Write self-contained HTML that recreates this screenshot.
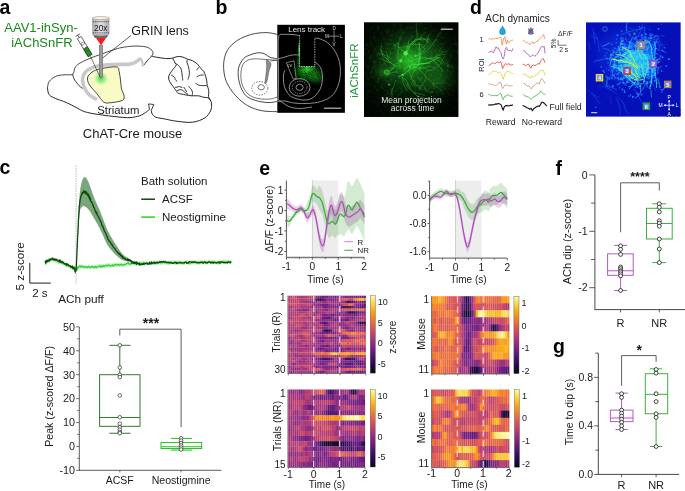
<!DOCTYPE html>
<html><head><meta charset="utf-8"><style>
html,body{margin:0;padding:0;background:#fff;}
svg{display:block;font-family:"Liberation Sans", sans-serif;will-change:transform;}
.hm rect{width:1.04px;height:1.04px;}
</style></head><body>
<svg width="685" height="491" viewBox="0 0 685 491">
<rect width="685" height="491" fill="#fff"/>
<text x="-0.6" y="14.4" font-size="19.5" text-anchor="start" fill="#000" font-weight="bold">a</text>
<text x="4.3" y="31.6" font-size="13" text-anchor="start" fill="#1a8a1a">AAV1-ihSyn-</text>
<text x="11.2" y="47.3" font-size="13" text-anchor="start" fill="#1a8a1a">iAChSnFR</text>
<text x="131.2" y="34.7" font-size="12.5" text-anchor="start" fill="#1a1a1a">GRIN lens</text>
<path d="M47.40,88.10 C47.70,87.00 47.80,83.47 49.20,81.50 C50.60,79.53 53.33,77.42 55.80,76.30 C58.27,75.18 61.20,75.13 64.00,74.80 C66.80,74.47 70.77,75.48 72.60,74.30 C74.43,73.12 73.92,69.48 75.00,67.70 C76.08,65.92 76.78,65.08 79.10,63.60 C81.42,62.12 85.08,60.42 88.90,58.80 C92.72,57.18 97.92,55.40 102.00,53.90 C106.08,52.40 110.07,50.87 113.40,49.80 C116.73,48.73 118.60,48.12 122.00,47.50 C125.40,46.88 129.80,46.20 133.80,46.10 C137.80,46.00 142.97,46.18 146.00,46.90 C149.03,47.62 150.85,49.25 152.00,50.40 C153.15,51.55 152.98,52.83 152.90,53.80 C152.82,54.77 151.73,55.80 151.50,56.20" stroke="#1a1a1a" stroke-width="0.8" fill="none"/>
<path d="M151.50,56.20 C152.42,56.38 155.08,56.97 157.00,57.30 C158.92,57.63 161.17,57.98 163.00,58.20 C164.83,58.42 166.40,58.62 168.00,58.60 C169.60,58.58 171.07,58.43 172.60,58.10 C174.13,57.77 175.58,56.80 177.20,56.60 C178.82,56.40 180.60,56.48 182.30,56.90 C184.00,57.32 185.70,58.47 187.40,59.10 C189.10,59.73 190.80,59.85 192.50,60.70 C194.20,61.55 196.25,62.93 197.60,64.20 C198.95,65.47 199.58,67.12 200.60,68.30 C201.62,69.48 202.85,69.95 203.70,71.30 C204.55,72.65 205.18,74.70 205.70,76.40 C206.22,78.10 206.53,79.97 206.80,81.50 C207.07,83.03 207.05,84.40 207.30,85.60 C207.55,86.80 208.05,87.52 208.30,88.70 C208.55,89.88 208.77,91.35 208.80,92.70 C208.83,94.05 208.17,95.43 208.50,96.80 C208.83,98.17 210.28,99.53 210.80,100.90 C211.32,102.27 211.65,103.32 211.60,105.00 C211.55,106.68 211.63,108.85 210.50,111.00 C209.37,113.15 207.77,116.03 204.80,117.90 C201.83,119.77 197.32,121.63 192.70,122.20 C188.08,122.77 182.00,121.88 177.10,121.30 C172.20,120.72 166.83,119.38 163.30,118.70 C159.77,118.02 157.75,117.98 155.90,117.20 C154.05,116.42 152.97,115.15 152.20,114.00 C151.43,112.85 151.45,110.92 151.30,110.30" stroke="#1a1a1a" stroke-width="0.95" fill="none"/>
<path d="M47.40,88.10 C47.70,89.20 47.80,92.95 49.20,94.70 C50.60,96.45 52.95,97.30 55.80,98.60 C58.65,99.90 62.80,100.97 66.30,102.50 C69.80,104.03 73.73,106.27 76.80,107.80 C79.87,109.33 81.20,110.60 84.70,111.70 C88.20,112.80 92.12,113.52 97.80,114.40 C103.48,115.28 113.43,116.47 118.80,117.00 C124.17,117.53 126.50,117.82 130.00,117.60 C133.50,117.38 137.22,116.55 139.80,115.70 C142.38,114.85 143.88,113.55 145.50,112.50 C147.12,111.45 148.83,109.92 149.50,109.40" stroke="#1a1a1a" stroke-width="0.95" fill="none"/>
<polyline points="149.5,109.4 148.6,103.9 153.8,104.5 151.3,110.3" stroke="#1a1a1a" stroke-width="0.85" fill="none" stroke-linejoin="round"/>
<path d="M72.60,74.20 C72.87,75.02 73.12,77.18 74.20,79.10 C75.28,81.02 77.60,84.12 79.10,85.70 C80.60,87.28 82.52,88.12 83.20,88.60" stroke="#1a1a1a" stroke-width="0.9" fill="none"/>
<path d="M151.50,56.20 C150.75,57.00 148.25,59.53 147.00,61.00 C145.75,62.47 144.50,64.33 144.00,65.00" stroke="#1a1a1a" stroke-width="0.9" fill="none"/>
<path d="M172.60,58.10 C173.03,58.95 174.60,62.02 175.20,63.20 C175.80,64.38 176.55,64.18 176.20,65.20 C175.85,66.22 174.12,67.93 173.10,69.30 C172.08,70.67 170.85,72.12 170.10,73.40 C169.35,74.68 168.68,75.65 168.60,77.00 C168.52,78.35 168.85,79.90 169.60,81.50 C170.35,83.10 172.00,85.07 173.10,86.60 C174.20,88.13 175.35,89.60 176.20,90.70 C177.05,91.80 176.67,92.52 178.20,93.20 C179.73,93.88 183.18,94.37 185.40,94.80 C187.62,95.23 189.30,95.63 191.50,95.80 C193.70,95.97 196.57,95.55 198.60,95.80 C200.63,96.05 202.17,96.97 203.70,97.30 C205.23,97.63 206.62,97.20 207.80,97.80 C208.98,98.40 210.30,100.38 210.80,100.90" stroke="#1a1a1a" stroke-width="0.95" fill="none"/>
<path d="M175.20,63.20 C175.70,63.53 177.27,64.35 178.20,65.20 C179.13,66.05 180.20,67.10 180.80,68.30 C181.40,69.50 181.55,71.05 181.80,72.40 C182.05,73.75 182.13,75.05 182.30,76.40 C182.47,77.75 182.72,79.82 182.80,80.50" stroke="#1a1a1a" stroke-width="0.9" fill="none"/>
<path d="M187.40,59.60 C187.32,60.03 186.73,61.08 186.90,62.20 C187.07,63.32 187.98,64.60 188.40,66.30 C188.82,68.00 189.32,70.72 189.40,72.40 C189.48,74.08 189.15,75.22 188.90,76.40 C188.65,77.58 188.07,78.98 187.90,79.50" stroke="#1a1a1a" stroke-width="0.9" fill="none"/>
<path d="M198.60,67.30 C198.27,67.80 196.93,69.80 196.60,70.30" stroke="#1a1a1a" stroke-width="0.9" fill="none"/>
<path d="M203.70,74.90 C203.02,74.98 200.78,75.05 199.60,75.40 C198.42,75.75 197.10,76.73 196.60,77.00" stroke="#1a1a1a" stroke-width="0.9" fill="none"/>
<path d="M206.80,85.60 C206.12,85.60 204.07,85.68 202.70,85.60 C201.33,85.52 199.80,85.52 198.60,85.10 C197.40,84.68 196.02,83.43 195.50,83.10" stroke="#1a1a1a" stroke-width="0.9" fill="none"/>
<path d="M171.10,74.90 C171.70,75.33 174.02,76.73 174.70,77.50 C175.38,78.27 174.78,78.83 175.20,79.50 C175.62,80.17 176.87,81.17 177.20,81.50" stroke="#1a1a1a" stroke-width="0.9" fill="none"/>
<path d="M175.20,87.60 C175.88,87.43 178.12,86.60 179.30,86.60 C180.48,86.60 181.80,87.43 182.30,87.60" stroke="#1a1a1a" stroke-width="0.9" fill="none"/>
<path d="M177.20,90.70 C177.88,90.53 179.93,89.37 181.30,89.70 C182.67,90.03 184.22,91.85 185.40,92.70 C186.58,93.55 187.90,94.45 188.40,94.80" stroke="#1a1a1a" stroke-width="0.9" fill="none"/>
<path d="M183.80,87.10 C184.07,87.53 184.88,88.85 185.40,89.70 C185.92,90.55 186.65,91.78 186.90,92.20" stroke="#1a1a1a" stroke-width="0.9" fill="none"/>
<path d="M188.40,86.10 C188.92,86.70 190.82,88.60 191.50,89.70 C192.18,90.80 192.42,91.68 192.50,92.70 C192.58,93.72 192.08,95.28 192.00,95.80" stroke="#1a1a1a" stroke-width="0.9" fill="none"/>
<path d="M97.00,99.50 C95.83,98.83 92.00,97.25 90.00,95.50 C88.00,93.75 86.23,91.42 85.00,89.00 C83.77,86.58 82.77,83.50 82.60,81.00 C82.43,78.50 82.95,75.95 84.00,74.00 C85.05,72.05 86.45,70.67 88.90,69.30 C91.35,67.93 94.62,66.60 98.70,65.80 C102.78,65.00 108.18,64.78 113.40,64.50 C118.62,64.22 126.02,64.68 130.00,64.10 C133.98,63.52 135.55,62.02 137.30,61.00 C139.05,59.98 139.97,58.50 140.50,58.00" stroke="#c8c8c8" stroke-width="3.6" fill="none"/>
<path d="M140.50,58.00 C140.75,58.50 141.58,59.58 142.00,61.00 C142.42,62.42 142.83,65.58 143.00,66.50" stroke="#c4c4c4" stroke-width="2.2" fill="none"/>
<path d="M88.90,75.00 C89.95,73.65 91.62,72.08 93.80,71.00 C95.98,69.92 98.20,69.18 102.00,68.50 C105.80,67.82 113.73,66.32 116.60,66.90 C119.47,67.48 118.55,69.82 119.20,72.00 C119.85,74.18 120.12,77.18 120.50,80.00 C120.88,82.82 120.92,86.33 121.50,88.90 C122.08,91.47 123.83,93.50 124.00,95.40 C124.17,97.30 124.83,99.07 122.50,100.30 C120.17,101.53 113.15,102.52 110.00,102.80 C106.85,103.08 105.77,103.50 103.60,102.00 C101.43,100.50 99.35,96.63 97.00,93.80 C94.65,90.97 91.08,87.45 89.50,85.00 C87.92,82.55 87.60,80.77 87.50,79.10 C87.40,77.43 87.85,76.35 88.90,75.00Z" stroke="#1a1a1a" stroke-width="0.8" fill="#fafac4"/>
<defs><radialGradient id="glow"><stop offset="0" stop-color="#30e030" stop-opacity="0.95"/><stop offset="0.5" stop-color="#60e860" stop-opacity="0.6"/><stop offset="1" stop-color="#a0f0a0" stop-opacity="0"/></radialGradient></defs>
<circle cx="101" cy="78.5" r="7.5" fill="url(#glow)"/>
<text x="97.3" y="113.8" font-size="11.3" text-anchor="start" fill="#1a1a1a">Striatum</text>
<text x="82.8" y="137.7" font-size="13" text-anchor="start" fill="#1a1a1a">ChAT-Cre mouse</text>
<line x1="131" y1="35.5" x2="100" y2="60" stroke="#1a1a1a" stroke-width="0.7"/>
<rect x="99.3" y="45.5" width="3.3" height="32" fill="#9a9a9a" stroke="#555" stroke-width="0.5"/>
<polygon points="95.9,37.8 106.1,37.8 101.0,45.6" fill="#ff1a1a" stroke="none" stroke-width="1"/>
<defs><linearGradient id="objg" x1="0" x2="1"><stop offset="0" stop-color="#a8a8a8"/><stop offset="0.5" stop-color="#e4e4e4"/><stop offset="1" stop-color="#a8a8a8"/></linearGradient></defs>
<rect x="92.1" y="18" width="17.3" height="16.5" fill="url(#objg)"/>
<ellipse cx="100.75" cy="18.1" rx="8.6" ry="1.5" fill="#f4f4f4" stroke="#c09a78" stroke-width="0.7"/>
<rect x="92.80" y="21.099999999999998" width="1.1" height="1.1" fill="#555"/>
<rect x="94.70" y="21.099999999999998" width="1.1" height="1.1" fill="#555"/>
<rect x="96.60" y="21.099999999999998" width="1.1" height="1.1" fill="#555"/>
<rect x="98.50" y="21.099999999999998" width="1.1" height="1.1" fill="#555"/>
<rect x="100.40" y="21.099999999999998" width="1.1" height="1.1" fill="#555"/>
<rect x="102.30" y="21.099999999999998" width="1.1" height="1.1" fill="#555"/>
<rect x="104.20" y="21.099999999999998" width="1.1" height="1.1" fill="#555"/>
<rect x="106.10" y="21.099999999999998" width="1.1" height="1.1" fill="#555"/>
<rect x="108.00" y="21.099999999999998" width="1.1" height="1.1" fill="#555"/>
<rect x="92.80" y="32.3" width="1.1" height="1.1" fill="#555"/>
<rect x="94.70" y="32.3" width="1.1" height="1.1" fill="#555"/>
<rect x="96.60" y="32.3" width="1.1" height="1.1" fill="#555"/>
<rect x="98.50" y="32.3" width="1.1" height="1.1" fill="#555"/>
<rect x="100.40" y="32.3" width="1.1" height="1.1" fill="#555"/>
<rect x="102.30" y="32.3" width="1.1" height="1.1" fill="#555"/>
<rect x="104.20" y="32.3" width="1.1" height="1.1" fill="#555"/>
<rect x="106.10" y="32.3" width="1.1" height="1.1" fill="#555"/>
<rect x="108.00" y="32.3" width="1.1" height="1.1" fill="#555"/>
<text x="100.8" y="30.9" font-size="8.4" text-anchor="middle" fill="#111">20x</text>
<path d="M92.8,34.4 L108.7,34.4 L106.5,38 L95,38 Z" fill="#6a6a6a"/>
<path d="M94,34.6 Q100.8,36.6 107.6,34.6" stroke="#ddd" stroke-width="0.7" fill="none"/>
<g transform="translate(84.6,46.5) rotate(-31)"><rect x="-2.2" y="-10.5" width="4.4" height="21" fill="#fff" stroke="#222" stroke-width="0.6"/><rect x="-2.2" y="1.5" width="4.4" height="9" fill="#1a9a1a" stroke="#222" stroke-width="0.6"/><line x1="-1.2" y1="4" x2="1.2" y2="6" stroke="#0a5a0a" stroke-width="0.5"/><line x1="0" y1="-10.5" x2="0" y2="-13.2" stroke="#222" stroke-width="0.6"/><line x1="-2.4" y1="-13.2" x2="2.4" y2="-13.2" stroke="#222" stroke-width="0.7"/><rect x="-1.6" y="-4.5" width="3.2" height="2.2" fill="none" stroke="#222" stroke-width="0.4"/></g>
<line x1="90.5" y1="56.5" x2="99.8" y2="76.5" stroke="#1a1a1a" stroke-width="0.6"/>
<text x="215.4" y="14.4" font-size="19.5" text-anchor="start" fill="#000" font-weight="bold">b</text>
<path d="M277.20,34.30 C275.33,34.02 270.25,32.60 266.00,32.60 C261.75,32.60 256.47,33.00 251.70,34.30 C246.93,35.60 241.48,37.68 237.40,40.40 C233.32,43.12 229.50,46.53 227.20,50.60 C224.90,54.67 223.77,59.70 223.60,64.80 C223.43,69.90 224.23,76.10 226.20,81.20 C228.17,86.30 231.83,91.33 235.40,95.40 C238.97,99.47 243.18,103.05 247.60,105.60 C252.02,108.15 256.97,109.68 261.90,110.70 C266.83,111.72 274.65,111.53 277.20,111.70" stroke="#1a1a1a" stroke-width="0.8" fill="none"/>
<path d="M277.20,58.70 C276.00,58.47 272.20,58.15 270.00,57.30 C267.80,56.45 266.00,54.35 264.00,53.60 C262.00,52.85 260.33,52.57 258.00,52.80 C255.67,53.03 252.42,54.02 250.00,55.00 C247.58,55.98 245.43,56.38 243.50,58.70 C241.57,61.02 239.07,64.82 238.40,68.90 C237.73,72.98 238.30,78.78 239.50,83.20 C240.70,87.62 242.88,92.52 245.60,95.40 C248.32,98.28 252.07,99.30 255.80,100.50 C259.53,101.70 264.43,102.43 268.00,102.60 C271.57,102.77 275.67,101.68 277.20,101.50" stroke="#1a1a1a" stroke-width="0.8" fill="none"/>
<path d="M277.20,60.50 C275.33,60.33 270.20,59.75 266.00,59.50 C261.80,59.25 255.67,58.42 252.00,59.00 C248.33,59.58 245.83,60.83 244.00,63.00 C242.17,65.17 241.33,68.50 241.00,72.00 C240.67,75.50 240.83,80.33 242.00,84.00 C243.17,87.67 245.33,91.58 248.00,94.00 C250.67,96.42 254.33,97.67 258.00,98.50 C261.67,99.33 266.80,99.25 270.00,99.00 C273.20,98.75 276.00,97.33 277.20,97.00" stroke="#1a1a1a" stroke-width="0.6" fill="none"/>
<path d="M267.00,59.70 C267.75,60.00 270.67,61.92 271.00,63.80 C271.33,65.68 269.67,68.10 269.00,71.00 C268.33,73.90 267.67,79.17 267.00,81.20 C266.33,83.23 265.20,84.07 265.00,83.20 C264.80,82.33 265.53,78.53 265.80,76.00 C266.07,73.47 266.48,70.33 266.60,68.00 C266.72,65.67 266.43,63.38 266.50,62.00 C266.57,60.62 266.25,59.40 267.00,59.70Z" stroke="#333" stroke-width="0.4" fill="#8c8c8c"/>
<line x1="270.5" y1="61" x2="277.2" y2="60" stroke="#1a1a1a" stroke-width="0.6"/>
<ellipse cx="259.8" cy="88.3" rx="8" ry="6.8" fill="none" stroke="#222" stroke-width="0.6" stroke-dasharray="1.6,1.2"/>
<ellipse cx="261.2" cy="87.3" rx="3.2" ry="2.6" fill="none" stroke="#222" stroke-width="0.6"/>
<rect x="277.3" y="24.8" width="67.6" height="88" fill="#000"/>
<defs><radialGradient id="gfl" cx="0.5" cy="0.5" r="0.5"><stop offset="0" stop-color="#1fae1f" stop-opacity="0.95"/><stop offset="0.55" stop-color="#148a14" stop-opacity="0.6"/><stop offset="1" stop-color="#0a500a" stop-opacity="0"/></radialGradient><radialGradient id="gfl2" cx="0.5" cy="0.5" r="0.5"><stop offset="0" stop-color="#3cff3c" stop-opacity="1"/><stop offset="1" stop-color="#20c020" stop-opacity="0"/></radialGradient><filter id="noise1" x="0" y="0" width="1" height="1"><feTurbulence type="fractalNoise" baseFrequency="0.9" numOctaves="2" seed="3"/><feColorMatrix values="0 0 0 0 0  0 0 0 0 0  0 0 0 0 0  0 0 0 -1.6 1.1"/><feComposite in2="SourceGraphic" operator="in"/></filter></defs>
<defs><filter id="grain" x="0" y="0" width="1" height="1"><feTurbulence type="fractalNoise" baseFrequency="1.1" numOctaves="1" seed="5" result="n"/><feColorMatrix in="n" type="matrix" values="0 0 0 0 0  0 0 0 0 0  0 0 0 0 0  3.0 0 0 0 -0.45" result="na"/><feComposite in="SourceGraphic" in2="na" operator="in"/></filter></defs>
<g filter="url(#grain)">
<ellipse cx="307" cy="71" rx="15" ry="12.5" fill="url(#gfl)"/>
<ellipse cx="307" cy="69" rx="10" ry="4.5" fill="url(#gfl2)" opacity="0.6"/>
<ellipse cx="316" cy="77" rx="10" ry="9" fill="url(#gfl)" opacity="0.7"/>
<ellipse cx="302" cy="62" rx="7" ry="9" fill="url(#gfl)"/>
</g>
<ellipse cx="299.2" cy="50" rx="1.8" ry="11" fill="url(#gfl2)"/>
<ellipse cx="307" cy="67.2" rx="8.5" ry="1.6" fill="url(#gfl2)" opacity="0.6"/>
<rect x="300" y="35.3" width="14.8" height="31.2" fill="#000"/>
<path d="M299.6,35.3 L299.6,66.5 L314.8,66.5 L314.8,38.1" stroke="#e8e8e8" stroke-width="0.7" fill="none" stroke-dasharray="1.5,1"/>
<path d="M280.00,34.50 C280.67,34.47 282.00,34.30 284.00,34.30 C286.00,34.30 289.40,34.30 292.00,34.50 C294.60,34.70 298.33,35.33 299.60,35.50" stroke="#e8e8e8" stroke-width="0.6" fill="none"/>
<path d="M280.00,34.50 C279.75,34.92 278.80,35.25 278.50,37.00 C278.20,38.75 278.23,41.17 278.20,45.00 C278.17,48.83 278.23,55.00 278.30,60.00 C278.37,65.00 278.58,70.00 278.60,75.00 C278.62,80.00 278.47,85.83 278.40,90.00 C278.33,94.17 278.23,98.33 278.20,100.00" stroke="#e8e8e8" stroke-width="0.6" fill="none"/>
<path d="M314.80,38.10 C315.75,38.25 317.97,37.90 320.50,39.00 C323.03,40.10 327.17,41.85 330.00,44.70 C332.83,47.55 335.77,51.98 337.50,56.10 C339.23,60.22 340.23,64.67 340.40,69.40 C340.57,74.13 339.93,80.08 338.50,84.50 C337.07,88.92 334.80,93.05 331.80,95.90 C328.80,98.75 324.60,100.33 320.50,101.60 C316.40,102.87 311.62,103.27 307.20,103.50 C302.78,103.73 297.70,103.42 294.00,103.00 C290.30,102.58 287.75,101.25 285.00,101.00 C282.25,100.75 278.75,101.42 277.50,101.50" stroke="#e8e8e8" stroke-width="0.6" fill="none"/>
<path d="M277.50,59.00 C278.75,58.67 282.58,57.67 285.00,57.00 C287.42,56.33 289.57,55.33 292.00,55.00 C294.43,54.67 298.33,55.00 299.60,55.00" stroke="#e8e8e8" stroke-width="0.6" fill="none"/>
<path d="M314.80,61.80 C315.75,62.75 319.23,64.97 320.50,67.50 C321.77,70.03 322.40,73.53 322.40,77.00 C322.40,80.47 322.08,84.83 320.50,88.30 C318.92,91.77 315.82,95.85 312.90,97.80 C309.98,99.75 306.48,100.13 303.00,100.00 C299.52,99.87 294.67,98.33 292.00,97.00 C289.33,95.67 288.33,94.00 287.00,92.00 C285.67,90.00 284.58,87.83 284.00,85.00 C283.42,82.17 283.33,77.50 283.50,75.00 C283.67,72.50 284.75,70.83 285.00,70.00" stroke="#e8e8e8" stroke-width="0.6" fill="none"/>
<path d="M277.50,99.00 C278.42,99.67 280.92,101.67 283.00,103.00 C285.08,104.33 287.17,106.08 290.00,107.00 C292.83,107.92 296.33,108.50 300.00,108.50 C303.67,108.50 310.00,107.25 312.00,107.00" stroke="#e8e8e8" stroke-width="0.6" fill="none"/>
<polygon points="286.4,62.7 294.0,60.8 296.2,78.8 293.0,79.0" fill="none" stroke="#e8e8e8" stroke-width="0.5"/>
<text x="287.5" y="66.5" font-size="4" text-anchor="start" fill="#ddd">LV</text>
<ellipse cx="299.6" cy="87.4" rx="10.4" ry="8.8" fill="none" stroke="#e8e8e8" stroke-width="0.6"/>
<ellipse cx="299.6" cy="87.4" rx="7.4" ry="6.2" fill="none" stroke="#e8e8e8" stroke-width="0.5" stroke-dasharray="1.4,1"/>
<ellipse cx="299.6" cy="87.4" rx="3.6" ry="3" fill="none" stroke="#e8e8e8" stroke-width="0.6"/>
<text x="288.2" y="31.5" font-size="8" text-anchor="start" fill="#e6e6e6">Lens track</text>
<line x1="334.1" y1="30.5" x2="334.1" y2="41.9" stroke="#ccc" stroke-width="0.6"/>
<line x1="328.5" y1="36.2" x2="339.5" y2="36.2" stroke="#ccc" stroke-width="0.6"/>
<text x="334.1" y="30.3" font-size="4.5" text-anchor="middle" fill="#ddd">D</text>
<text x="334.1" y="46" font-size="4.5" text-anchor="middle" fill="#ddd">V</text>
<text x="326.8" y="37.8" font-size="4.5" text-anchor="middle" fill="#ddd">M</text>
<text x="341.4" y="37.8" font-size="4.5" text-anchor="middle" fill="#ddd">L</text>
<line x1="323.9" y1="108.2" x2="341.3" y2="108.2" stroke="#bbb" stroke-width="1.2"/>
<text x="358.3" y="97.8" font-size="11.5" text-anchor="start" fill="#1f9a3a" transform="rotate(-90 358.3 97.8)">iAChSnFR</text>
<rect x="364" y="22.4" width="94.5" height="94.6" fill="#041404"/>
<defs><clipPath id="cgi"><rect x="364" y="22.6" width="93.6" height="93.8"/></clipPath><radialGradient id="ghalo" cx="0.5" cy="0.5" r="0.5"><stop offset="0" stop-color="#1f8a1f" stop-opacity="0.95"/><stop offset="0.45" stop-color="#16601a" stop-opacity="0.7"/><stop offset="1" stop-color="#0a300a" stop-opacity="0"/></radialGradient><radialGradient id="gcore" cx="0.5" cy="0.5" r="0.5"><stop offset="0" stop-color="#2cc82c" stop-opacity="0.9"/><stop offset="0.6" stop-color="#1c9a1c" stop-opacity="0.5"/><stop offset="1" stop-color="#147014" stop-opacity="0"/></radialGradient><filter id="gblur" x="-20%" y="-20%" width="140%" height="140%"><feGaussianBlur stdDeviation="0.75"/></filter><filter id="gspk" x="0" y="0" width="1" height="1"><feTurbulence type="fractalNoise" baseFrequency="0.3" numOctaves="2" seed="9" result="n"/><feColorMatrix in="n" type="matrix" values="0 0 0 0 0.1  0 0 0 0 0.6  0 0 0 0 0.1  2.0 0 0 0 -0.95"/><feGaussianBlur stdDeviation="0.6"/></filter></defs>
<g clip-path="url(#cgi)">
<rect x="364" y="22.6" width="93.6" height="93.8" fill="#031003"/>
<ellipse cx="414" cy="62" rx="50" ry="40" fill="url(#ghalo)"/>
<ellipse cx="440" cy="80" rx="26" ry="22" fill="url(#ghalo)" opacity="0.55"/>
<ellipse cx="385" cy="72" rx="16" ry="10" fill="url(#ghalo)" opacity="0.6"/>
<ellipse cx="409" cy="61" rx="19" ry="18" fill="url(#gcore)"/>
<rect x="364" y="22.6" width="93.6" height="93.8" filter="url(#gspk)" opacity="0.25"/>
<g filter="url(#gblur)">
<path d="M413.07,98.02 C412.93,98.38 412.55,99.45 412.24,100.14 C411.93,100.84 411.47,101.47 411.21,102.18 C410.95,102.88 410.77,104.02 410.68,104.39" stroke="#2cb82c" stroke-width="0.7" fill="none" opacity="0.06"/>
<path d="M400.11,92.41 C400.34,92.30 400.99,91.87 401.46,91.70 C401.94,91.52 402.46,91.49 402.95,91.36 C403.45,91.23 404.18,91.01 404.42,90.94" stroke="#2cb82c" stroke-width="0.7" fill="none" opacity="0.17"/>
<path d="M369.85,98.57 C370.05,98.87 370.74,99.74 371.05,100.38 C371.36,101.03 371.44,101.79 371.72,102.45 C372.01,103.12 372.57,104.06 372.74,104.38" stroke="#2cb82c" stroke-width="0.7" fill="none" opacity="0.05"/>
<path d="M446.95,82.41 C447.12,82.02 447.54,80.77 448.00,80.06 C448.45,79.35 449.20,78.82 449.68,78.13 C450.17,77.43 450.71,76.25 450.92,75.88" stroke="#2cb82c" stroke-width="0.7" fill="none" opacity="0.06"/>
<path d="M440.46,108.56 C440.60,108.44 441.03,108.11 441.30,107.87 C441.57,107.63 441.79,107.33 442.08,107.12 C442.37,106.91 442.88,106.69 443.04,106.61" stroke="#2cb82c" stroke-width="0.7" fill="none" opacity="0.04"/>
<path d="M436.79,103.70 C437.14,103.45 438.22,102.72 438.90,102.19 C439.58,101.66 440.26,101.11 440.87,100.51 C441.49,99.90 442.31,98.89 442.59,98.56" stroke="#2cb82c" stroke-width="0.7" fill="none" opacity="0.05"/>
<path d="M382.12,79.16 C382.29,79.06 382.79,78.69 383.16,78.53 C383.52,78.37 383.94,78.31 384.32,78.17 C384.70,78.03 385.25,77.77 385.44,77.69" stroke="#2cb82c" stroke-width="0.7" fill="none" opacity="0.13"/>
<path d="M449.45,76.79 C449.55,76.42 449.86,75.34 450.05,74.61 C450.24,73.88 450.47,73.16 450.60,72.42 C450.74,71.69 450.81,70.56 450.85,70.18" stroke="#2cb82c" stroke-width="0.7" fill="none" opacity="0.06"/>
<path d="M432.52,51.81 C432.90,51.62 434.01,51.03 434.76,50.66 C435.51,50.29 436.26,49.90 437.04,49.59 C437.82,49.28 439.03,48.92 439.43,48.79" stroke="#2cb82c" stroke-width="0.7" fill="none" opacity="0.15"/>
<path d="M432.77,112.26 C432.90,112.08 433.32,111.56 433.53,111.18 C433.75,110.79 433.93,110.38 434.05,109.95 C434.17,109.53 434.23,108.86 434.27,108.65" stroke="#2cb82c" stroke-width="0.7" fill="none" opacity="0.04"/>
<path d="M443.15,72.94 C443.43,72.67 444.21,71.77 444.84,71.30 C445.46,70.83 446.26,70.60 446.88,70.14 C447.50,69.67 448.30,68.79 448.58,68.52" stroke="#2cb82c" stroke-width="0.7" fill="none" opacity="0.12"/>
<path d="M442.86,84.14 C442.95,83.98 443.26,83.49 443.42,83.15 C443.58,82.80 443.68,82.43 443.81,82.08 C443.95,81.72 444.16,81.19 444.23,81.01" stroke="#2cb82c" stroke-width="0.7" fill="none" opacity="0.06"/>
<path d="M379.36,50.46 C379.09,50.48 378.26,50.57 377.71,50.61 C377.16,50.65 376.61,50.67 376.06,50.70 C375.51,50.73 374.68,50.77 374.41,50.79" stroke="#2cb82c" stroke-width="0.7" fill="none" opacity="0.13"/>
<path d="M454.93,92.91 C455.06,92.73 455.49,92.22 455.68,91.83 C455.87,91.44 455.92,90.98 456.09,90.58 C456.25,90.17 456.58,89.60 456.68,89.40" stroke="#2cb82c" stroke-width="0.7" fill="none" opacity="0.05"/>
<path d="M403.73,106.09 C404.09,105.86 405.14,105.13 405.86,104.69 C406.59,104.24 407.36,103.88 408.08,103.43 C408.80,102.99 409.84,102.24 410.19,102.01" stroke="#2cb82c" stroke-width="0.7" fill="none" opacity="0.06"/>
<path d="M434.95,51.21 C435.21,51.04 436.02,50.57 436.50,50.18 C436.98,49.79 437.38,49.30 437.83,48.87 C438.29,48.45 439.00,47.84 439.23,47.63" stroke="#2cb82c" stroke-width="0.7" fill="none" opacity="0.17"/>
<path d="M435.91,64.79 C436.15,64.59 436.94,64.03 437.35,63.56 C437.76,63.09 438.07,62.52 438.37,61.96 C438.67,61.41 439.02,60.53 439.15,60.24" stroke="#2cb82c" stroke-width="0.7" fill="none" opacity="0.22"/>
<path d="M441.67,66.47 C441.73,66.70 441.92,67.40 442.01,67.87 C442.09,68.35 442.05,68.85 442.17,69.31 C442.29,69.77 442.64,70.42 442.73,70.64" stroke="#2cb82c" stroke-width="0.7" fill="none" opacity="0.12"/>
<path d="M449.17,79.94 C449.46,80.25 450.24,81.26 450.88,81.78 C451.53,82.30 452.33,82.63 453.04,83.07 C453.76,83.51 454.82,84.18 455.17,84.41" stroke="#2cb82c" stroke-width="0.7" fill="none" opacity="0.05"/>
<path d="M384.87,83.39 C384.88,83.10 384.88,82.24 384.89,81.67 C384.91,81.10 384.98,80.53 384.95,79.96 C384.92,79.39 384.73,78.55 384.69,78.27" stroke="#2cb82c" stroke-width="0.7" fill="none" opacity="0.14"/>
<path d="M389.33,55.30 C389.73,55.12 390.99,54.69 391.72,54.23 C392.45,53.76 393.01,53.03 393.71,52.51 C394.41,51.98 395.55,51.33 395.92,51.10" stroke="#2cb82c" stroke-width="0.7" fill="none" opacity="0.19"/>
<path d="M435.22,100.24 C435.42,100.11 436.06,99.74 436.46,99.46 C436.87,99.17 437.24,98.85 437.63,98.55 C438.02,98.25 438.61,97.81 438.81,97.67" stroke="#2cb82c" stroke-width="0.7" fill="none" opacity="0.04"/>
<path d="M410.48,49.35 C410.65,49.04 411.22,48.12 411.50,47.47 C411.78,46.82 411.97,46.13 412.16,45.44 C412.36,44.76 412.58,43.71 412.66,43.37" stroke="#2cb82c" stroke-width="0.7" fill="none" opacity="0.20"/>
<path d="M456.54,96.21 C456.72,95.99 457.27,95.33 457.62,94.86 C457.96,94.40 458.27,93.92 458.60,93.45 C458.93,92.97 459.44,92.27 459.61,92.04" stroke="#2cb82c" stroke-width="0.7" fill="none" opacity="0.05"/>
<path d="M378.49,75.01 C378.72,74.89 379.37,74.48 379.85,74.30 C380.32,74.12 380.83,73.98 381.33,73.92 C381.83,73.86 382.60,73.95 382.85,73.96" stroke="#2cb82c" stroke-width="0.7" fill="none" opacity="0.13"/>
<path d="M421.97,38.68 C421.99,38.40 422.01,37.54 422.09,36.98 C422.17,36.41 422.30,35.85 422.47,35.31 C422.64,34.76 422.99,33.98 423.10,33.71" stroke="#2cb82c" stroke-width="0.7" fill="none" opacity="0.17"/>
<path d="M391.14,45.56 C391.19,45.40 391.35,44.92 391.46,44.60 C391.56,44.28 391.67,43.96 391.77,43.64 C391.87,43.32 392.00,42.83 392.05,42.67" stroke="#2cb82c" stroke-width="0.7" fill="none" opacity="0.22"/>
<path d="M399.55,38.84 C399.77,38.99 400.39,39.47 400.83,39.75 C401.27,40.02 401.79,40.20 402.20,40.51 C402.61,40.82 403.12,41.43 403.31,41.62" stroke="#2cb82c" stroke-width="0.7" fill="none" opacity="0.18"/>
<path d="M392.98,103.30 C392.78,103.33 392.17,103.46 391.76,103.48 C391.34,103.51 390.92,103.50 390.52,103.43 C390.11,103.37 389.52,103.15 389.32,103.10" stroke="#2cb82c" stroke-width="0.7" fill="none" opacity="0.05"/>
<path d="M436.74,96.81 C437.03,96.52 437.90,95.66 438.46,95.06 C439.02,94.47 439.60,93.89 440.10,93.25 C440.61,92.62 441.25,91.57 441.48,91.23" stroke="#2cb82c" stroke-width="0.7" fill="none" opacity="0.03"/>
<path d="M402.02,107.54 C402.13,107.40 402.52,107.03 402.72,106.74 C402.91,106.45 403.01,106.10 403.18,105.79 C403.35,105.48 403.65,105.04 403.75,104.90" stroke="#2cb82c" stroke-width="0.7" fill="none" opacity="0.04"/>
<path d="M403.78,47.12 C404.20,47.06 405.49,46.96 406.32,46.77 C407.15,46.58 407.98,46.32 408.77,45.99 C409.56,45.66 410.67,45.00 411.04,44.80" stroke="#2cb82c" stroke-width="0.7" fill="none" opacity="0.20"/>
<path d="M446.33,110.68 C446.56,110.53 447.27,110.12 447.69,109.78 C448.11,109.44 448.45,109.00 448.87,108.65 C449.28,108.30 449.96,107.84 450.18,107.68" stroke="#2cb82c" stroke-width="0.7" fill="none" opacity="0.05"/>
<path d="M452.31,68.03 C452.50,67.97 453.07,67.74 453.47,67.65 C453.86,67.55 454.28,67.55 454.67,67.46 C455.06,67.36 455.64,67.14 455.83,67.07" stroke="#2cb82c" stroke-width="0.7" fill="none" opacity="0.05"/>
<path d="M409.69,102.23 C409.61,102.65 409.45,103.95 409.20,104.77 C408.95,105.58 408.52,106.35 408.18,107.14 C407.84,107.93 407.34,109.13 407.17,109.52" stroke="#2cb82c" stroke-width="0.7" fill="none" opacity="0.06"/>
<path d="M402.21,113.93 C402.40,113.82 402.98,113.52 403.36,113.30 C403.74,113.09 404.14,112.91 404.50,112.66 C404.85,112.41 405.33,111.96 405.50,111.82" stroke="#2cb82c" stroke-width="0.7" fill="none" opacity="0.04"/>
<path d="M367.38,34.57 C367.51,34.35 367.90,33.72 368.11,33.27 C368.32,32.82 368.49,32.34 368.64,31.87 C368.79,31.40 368.95,30.66 369.01,30.42" stroke="#2cb82c" stroke-width="0.7" fill="none" opacity="0.04"/>
<path d="M388.75,75.39 C389.06,75.46 390.01,75.59 390.60,75.80 C391.19,76.01 391.74,76.34 392.29,76.65 C392.83,76.97 393.60,77.53 393.86,77.71" stroke="#2cb82c" stroke-width="0.7" fill="none" opacity="0.17"/>
<path d="M421.91,106.76 C421.92,106.57 421.94,105.98 421.95,105.58 C421.96,105.19 421.99,104.80 421.97,104.40 C421.96,104.01 421.89,103.42 421.88,103.23" stroke="#2cb82c" stroke-width="0.7" fill="none" opacity="0.05"/>
<path d="M410.34,114.01 C410.53,113.93 411.10,113.76 411.45,113.58 C411.80,113.40 412.12,113.16 412.45,112.93 C412.77,112.71 413.24,112.34 413.40,112.22" stroke="#2cb82c" stroke-width="0.7" fill="none" opacity="0.05"/>
<path d="M454.13,26.80 C454.22,26.44 454.56,25.37 454.68,24.63 C454.80,23.90 454.71,23.13 454.83,22.40 C454.95,21.67 455.30,20.59 455.39,20.23" stroke="#2cb82c" stroke-width="0.7" fill="none" opacity="0.03"/>
<path d="M447.22,47.94 C447.37,48.06 447.82,48.43 448.14,48.65 C448.46,48.86 448.81,49.03 449.14,49.24 C449.46,49.45 449.92,49.81 450.08,49.92" stroke="#2cb82c" stroke-width="0.7" fill="none" opacity="0.05"/>
<path d="M395.09,24.55 C395.25,24.30 395.72,23.56 396.05,23.07 C396.38,22.58 396.74,22.11 397.05,21.61 C397.36,21.10 397.75,20.31 397.89,20.05" stroke="#2cb82c" stroke-width="0.7" fill="none" opacity="0.04"/>
<path d="M435.98,103.96 C436.21,103.89 436.92,103.65 437.41,103.54 C437.89,103.43 438.39,103.37 438.89,103.31 C439.38,103.25 440.13,103.19 440.37,103.16" stroke="#2cb82c" stroke-width="0.7" fill="none" opacity="0.05"/>
<path d="M435.63,29.60 C435.76,29.43 436.13,28.93 436.39,28.60 C436.65,28.27 436.95,27.97 437.19,27.63 C437.42,27.28 437.70,26.71 437.80,26.53" stroke="#2cb82c" stroke-width="0.7" fill="none" opacity="0.04"/>
<path d="M403.43,30.94 C403.29,31.06 402.88,31.42 402.62,31.67 C402.35,31.92 402.12,32.21 401.85,32.45 C401.57,32.69 401.11,32.99 400.96,33.10" stroke="#2cb82c" stroke-width="0.7" fill="none" opacity="0.08"/>
<path d="M386.41,69.65 C386.65,69.37 387.32,68.47 387.85,67.95 C388.38,67.44 388.99,67.01 389.59,66.58 C390.20,66.14 391.15,65.57 391.46,65.37" stroke="#2cb82c" stroke-width="0.7" fill="none" opacity="0.20"/>
<path d="M438.30,42.62 C438.42,42.33 438.79,41.47 439.01,40.88 C439.24,40.30 439.39,39.68 439.66,39.11 C439.93,38.55 440.46,37.76 440.62,37.49" stroke="#2cb82c" stroke-width="0.7" fill="none" opacity="0.10"/>
<path d="M382.70,34.33 C382.82,34.13 383.15,33.48 383.43,33.09 C383.71,32.71 384.08,32.39 384.38,32.02 C384.69,31.65 385.12,31.08 385.26,30.89" stroke="#2cb82c" stroke-width="0.7" fill="none" opacity="0.05"/>
<path d="M416.61,111.20 C416.95,110.92 417.98,110.08 418.69,109.55 C419.41,109.02 420.11,108.45 420.87,108.01 C421.64,107.58 422.89,107.10 423.30,106.91" stroke="#2cb82c" stroke-width="0.7" fill="none" opacity="0.05"/>
<path d="M380.23,96.13 C380.55,96.02 381.49,95.67 382.12,95.47 C382.76,95.26 383.38,95.00 384.04,94.89 C384.69,94.78 385.70,94.83 386.03,94.82" stroke="#2cb82c" stroke-width="0.7" fill="none" opacity="0.03"/>
<path d="M366.24,35.79 C366.55,35.50 367.56,34.70 368.07,34.04 C368.58,33.38 368.92,32.59 369.30,31.84 C369.69,31.09 370.20,29.93 370.38,29.55" stroke="#2cb82c" stroke-width="0.7" fill="none" opacity="0.05"/>
<path d="M401.50,49.03 C401.83,48.96 402.82,48.79 403.47,48.62 C404.11,48.45 404.75,48.22 405.38,48.01 C406.02,47.80 406.97,47.48 407.29,47.37" stroke="#2cb82c" stroke-width="0.7" fill="none" opacity="0.31"/>
<path d="M429.78,47.31 C429.62,47.41 429.14,47.72 428.81,47.93 C428.49,48.13 428.16,48.32 427.85,48.55 C427.54,48.77 427.10,49.15 426.95,49.27" stroke="#2cb82c" stroke-width="0.7" fill="none" opacity="0.13"/>
<path d="M431.99,46.97 C432.14,46.89 432.59,46.66 432.88,46.48 C433.16,46.29 433.44,46.10 433.69,45.87 C433.93,45.64 434.24,45.23 434.36,45.11" stroke="#2cb82c" stroke-width="0.7" fill="none" opacity="0.15"/>
<path d="M384.04,26.00 C384.11,25.75 384.39,25.00 384.49,24.48 C384.60,23.96 384.66,23.43 384.67,22.90 C384.68,22.37 384.56,21.58 384.54,21.31" stroke="#2cb82c" stroke-width="0.7" fill="none" opacity="0.06"/>
<path d="M418.12,79.43 C418.29,79.41 418.81,79.34 419.16,79.33 C419.52,79.31 419.87,79.33 420.22,79.32 C420.57,79.31 421.10,79.27 421.27,79.26" stroke="#2cb82c" stroke-width="0.7" fill="none" opacity="0.20"/>
<path d="M414.87,77.06 C415.05,77.14 415.56,77.40 415.92,77.54 C416.27,77.68 416.65,77.76 417.01,77.88 C417.38,78.00 417.91,78.21 418.09,78.28" stroke="#2cb82c" stroke-width="0.7" fill="none" opacity="0.23"/>
<path d="M367.21,99.61 C367.51,99.39 368.38,98.67 369.03,98.30 C369.67,97.93 370.37,97.61 371.08,97.41 C371.79,97.20 372.93,97.12 373.29,97.07" stroke="#2cb82c" stroke-width="0.7" fill="none" opacity="0.04"/>
<path d="M385.96,65.66 C385.79,65.36 385.34,64.44 384.96,63.88 C384.58,63.32 384.09,62.83 383.68,62.29 C383.26,61.75 382.66,60.93 382.46,60.65" stroke="#2cb82c" stroke-width="0.7" fill="none" opacity="0.20"/>
<path d="M446.77,51.81 C447.11,51.67 448.10,51.21 448.79,50.99 C449.48,50.76 450.22,50.72 450.90,50.47 C451.58,50.23 452.53,49.67 452.85,49.51" stroke="#2cb82c" stroke-width="0.7" fill="none" opacity="0.09"/>
<path d="M367.51,91.03 C367.57,90.77 367.79,90.00 367.87,89.47 C367.94,88.94 367.85,88.39 367.95,87.87 C368.05,87.35 368.38,86.60 368.47,86.35" stroke="#2cb82c" stroke-width="0.7" fill="none" opacity="0.05"/>
<path d="M398.79,68.94 C398.91,68.78 399.25,68.26 399.53,67.96 C399.80,67.67 400.11,67.38 400.45,67.16 C400.79,66.94 401.37,66.72 401.56,66.64" stroke="#2cb82c" stroke-width="0.7" fill="none" opacity="0.31"/>
<path d="M439.35,61.93 C439.43,61.52 439.66,60.29 439.83,59.47 C439.99,58.65 440.28,57.85 440.34,57.02 C440.41,56.20 440.24,54.94 440.22,54.52" stroke="#2cb82c" stroke-width="0.7" fill="none" opacity="0.15"/>
<path d="M408.43,77.97 C408.55,77.80 408.87,77.27 409.13,76.96 C409.39,76.64 409.72,76.38 409.99,76.07 C410.25,75.75 410.60,75.24 410.72,75.07" stroke="#2cb82c" stroke-width="0.7" fill="none" opacity="0.33"/>
<path d="M442.85,47.53 C443.01,47.49 443.51,47.39 443.84,47.30 C444.16,47.22 444.48,47.10 444.81,47.02 C445.14,46.95 445.64,46.88 445.81,46.85" stroke="#2cb82c" stroke-width="0.7" fill="none" opacity="0.06"/>
<path d="M425.04,28.32 C425.31,28.11 426.15,27.51 426.66,27.06 C427.17,26.60 427.63,26.08 428.08,25.57 C428.53,25.06 429.16,24.24 429.38,23.98" stroke="#2cb82c" stroke-width="0.7" fill="none" opacity="0.05"/>
<path d="M385.40,46.01 C385.75,45.82 386.75,45.15 387.49,44.87 C388.22,44.60 389.03,44.55 389.79,44.33 C390.55,44.12 391.67,43.71 392.04,43.58" stroke="#2cb82c" stroke-width="0.7" fill="none" opacity="0.18"/>
<path d="M440.52,93.03 C440.16,92.82 439.09,92.22 438.38,91.81 C437.66,91.40 436.94,91.00 436.23,90.58 C435.53,90.16 434.49,89.48 434.15,89.26" stroke="#2cb82c" stroke-width="0.7" fill="none" opacity="0.05"/>
<path d="M369.63,46.93 C369.35,47.16 368.52,47.86 367.96,48.31 C367.40,48.77 366.76,49.15 366.25,49.65 C365.74,50.15 365.10,51.05 364.87,51.33" stroke="#2cb82c" stroke-width="0.7" fill="none" opacity="0.06"/>
<path d="M450.70,52.27 C450.92,52.12 451.58,51.67 452.03,51.37 C452.48,51.07 452.89,50.71 453.37,50.47 C453.85,50.23 454.64,50.02 454.89,49.93" stroke="#2cb82c" stroke-width="0.7" fill="none" opacity="0.05"/>
<path d="M383.88,23.80 C384.21,23.52 385.13,22.56 385.85,22.09 C386.57,21.62 387.40,21.26 388.22,21.01 C389.04,20.75 390.35,20.61 390.78,20.53" stroke="#2cb82c" stroke-width="0.7" fill="none" opacity="0.04"/>
<path d="M423.73,74.32 C423.88,74.14 424.37,73.66 424.62,73.28 C424.86,72.90 424.98,72.45 425.20,72.05 C425.42,71.65 425.80,71.08 425.92,70.89" stroke="#2cb82c" stroke-width="0.7" fill="none" opacity="0.17"/>
<path d="M445.25,83.32 C445.42,83.23 445.93,82.94 446.28,82.80 C446.64,82.66 447.03,82.60 447.39,82.47 C447.75,82.35 448.29,82.13 448.47,82.06" stroke="#2cb82c" stroke-width="0.7" fill="none" opacity="0.07"/>
<path d="M410.28,23.01 C410.58,23.02 411.45,23.04 412.03,23.10 C412.61,23.16 413.18,23.36 413.76,23.39 C414.34,23.41 415.22,23.28 415.51,23.25" stroke="#2cb82c" stroke-width="0.7" fill="none" opacity="0.05"/>
<path d="M410.24,87.56 C410.43,87.45 411.04,87.16 411.38,86.88 C411.73,86.61 412.04,86.27 412.29,85.91 C412.54,85.55 412.79,84.92 412.89,84.72" stroke="#2cb82c" stroke-width="0.7" fill="none" opacity="0.15"/>
<path d="M440.80,40.96 C440.86,40.63 440.98,39.64 441.14,38.99 C441.30,38.35 441.62,37.75 441.76,37.10 C441.89,36.45 441.90,35.45 441.93,35.11" stroke="#2cb82c" stroke-width="0.7" fill="none" opacity="0.06"/>
<path d="M445.27,43.00 C445.48,42.77 446.18,42.12 446.55,41.62 C446.93,41.12 447.20,40.53 447.52,39.99 C447.84,39.45 448.33,38.64 448.50,38.37" stroke="#2cb82c" stroke-width="0.7" fill="none" opacity="0.06"/>
<path d="M372.19,68.02 C372.59,67.85 373.80,67.41 374.58,67.05 C375.35,66.69 376.14,66.32 376.85,65.86 C377.57,65.40 378.54,64.54 378.88,64.28" stroke="#2cb82c" stroke-width="0.7" fill="none" opacity="0.11"/>
<path d="M452.65,45.47 C452.90,45.12 453.73,44.13 454.17,43.40 C454.61,42.67 454.93,41.87 455.28,41.09 C455.63,40.31 456.09,39.11 456.25,38.72" stroke="#2cb82c" stroke-width="0.7" fill="none" opacity="0.05"/>
<path d="M384.93,95.02 C385.17,94.91 385.87,94.50 386.38,94.34 C386.88,94.19 387.43,94.18 387.95,94.10 C388.48,94.01 389.26,93.87 389.53,93.82" stroke="#2cb82c" stroke-width="0.7" fill="none" opacity="0.06"/>
<path d="M402.04,81.35 C402.14,81.13 402.46,80.49 402.64,80.04 C402.82,79.60 403.01,79.15 403.12,78.68 C403.23,78.22 403.28,77.49 403.31,77.25" stroke="#2cb82c" stroke-width="0.7" fill="none" opacity="0.22"/>
<path d="M454.35,110.72 C454.59,110.47 455.40,109.75 455.83,109.18 C456.26,108.62 456.56,107.96 456.93,107.35 C457.30,106.74 457.86,105.83 458.05,105.53" stroke="#2cb82c" stroke-width="0.7" fill="none" opacity="0.04"/>
<path d="M454.56,111.04 C454.75,110.96 455.32,110.69 455.72,110.59 C456.12,110.49 456.54,110.52 456.95,110.46 C457.36,110.40 457.96,110.26 458.17,110.22" stroke="#2cb82c" stroke-width="0.7" fill="none" opacity="0.06"/>
<path d="M418.35,81.61 C418.31,81.35 418.21,80.59 418.11,80.08 C418.01,79.58 417.91,79.07 417.75,78.59 C417.58,78.10 417.25,77.41 417.15,77.17" stroke="#2cb82c" stroke-width="0.7" fill="none" opacity="0.18"/>
<path d="M430.13,63.12 C430.48,63.08 431.52,62.94 432.22,62.87 C432.92,62.80 433.63,62.80 434.32,62.71 C435.02,62.63 436.06,62.41 436.40,62.35" stroke="#2cb82c" stroke-width="0.7" fill="none" opacity="0.25"/>
<path d="M429.81,76.84 C429.70,77.06 429.36,77.71 429.15,78.15 C428.94,78.59 428.75,79.04 428.54,79.48 C428.34,79.93 428.03,80.59 427.93,80.81" stroke="#2cb82c" stroke-width="0.7" fill="none" opacity="0.14"/>
<path d="M451.67,108.03 C451.77,107.88 452.05,107.38 452.27,107.08 C452.50,106.78 452.78,106.52 453.02,106.23 C453.27,105.94 453.62,105.50 453.74,105.35" stroke="#2cb82c" stroke-width="0.7" fill="none" opacity="0.05"/>
<path d="M387.31,53.52 C387.41,53.38 387.73,52.98 387.89,52.68 C388.05,52.39 388.18,52.07 388.27,51.75 C388.36,51.43 388.39,50.91 388.42,50.75" stroke="#2cb82c" stroke-width="0.7" fill="none" opacity="0.21"/>
<path d="M394.83,73.22 C395.02,72.99 395.64,72.32 395.97,71.83 C396.30,71.33 396.59,70.79 396.81,70.24 C397.03,69.68 397.22,68.79 397.30,68.50" stroke="#2cb82c" stroke-width="0.7" fill="none" opacity="0.29"/>
<polyline points="413.3,67.7 415.1,64.7 416.6,61.6 418.8,58.9 420.3,55.8" stroke="#3ee83e" stroke-width="1.0" fill="none" opacity="0.50" stroke-linejoin="round"/>
<polyline points="418.6,65.0 418.8,61.9 419.8,58.8 420.0,55.6 419.2,52.5" stroke="#3ee83e" stroke-width="1.0" fill="none" opacity="0.50" stroke-linejoin="round"/>
<polyline points="398.0,77.0 400.5,75.4 403.3,74.3 405.8,72.6 408.0,70.6 410.6,69.0 413.3,67.7 416.1,66.7 418.6,65.0 421.3,63.8 424.3,63.6 427.3,63.3 430.3,63.0" stroke="#3ee83e" stroke-width="1.0" fill="none" opacity="0.66" stroke-linejoin="round"/>
<polyline points="420.6,52.3 423.7,50.2 426.8,47.9 429.4,45.1" stroke="#3ee83e" stroke-width="1.0" fill="none" opacity="0.35" stroke-linejoin="round"/>
<polyline points="418.7,64.4 419.8,61.6 420.1,58.5 420.2,55.4 420.6,52.3 419.9,49.3 419.2,46.3 418.9,43.2" stroke="#3ee83e" stroke-width="1.0" fill="none" opacity="0.47" stroke-linejoin="round"/>
<polyline points="433.8,60.2 436.2,62.8 438.3,65.7 440.8,68.2 442.4,71.3" stroke="#3ee83e" stroke-width="1.0" fill="none" opacity="0.47" stroke-linejoin="round"/>
<polyline points="404.0,69.0 406.6,67.2 409.3,65.5 412.3,64.6 415.5,64.6 418.7,64.4 421.8,63.8 424.9,63.5 427.9,62.4 430.9,61.3 433.8,60.2 436.5,58.6 439.4,57.3" stroke="#3ee83e" stroke-width="1.0" fill="none" opacity="0.63" stroke-linejoin="round"/>
<polyline points="419.2,39.3 421.7,40.1 423.8,41.6" stroke="#3ee83e" stroke-width="1.0" fill="none" opacity="0.32" stroke-linejoin="round"/>
<polyline points="428.7,38.7 430.2,40.4 431.6,42.3" stroke="#3ee83e" stroke-width="1.0" fill="none" opacity="0.32" stroke-linejoin="round"/>
<polyline points="416.1,39.5 419.2,39.3 422.4,39.3 425.5,39.2 428.7,38.7" stroke="#3ee83e" stroke-width="1.0" fill="none" opacity="0.42" stroke-linejoin="round"/>
<polyline points="400.0,62.0 401.6,59.3 403.1,56.6 404.7,53.9 406.7,51.6 408.1,48.8 409.4,45.9 411.4,43.6 413.7,41.5 416.1,39.5" stroke="#3ee83e" stroke-width="1.0" fill="none" opacity="0.56" stroke-linejoin="round"/>
<polyline points="422.1,45.0 423.7,47.3 424.9,49.9" stroke="#3ee83e" stroke-width="1.0" fill="none" opacity="0.28" stroke-linejoin="round"/>
<polyline points="412.0,44.4 415.4,44.6 418.8,44.3 422.1,45.0" stroke="#3ee83e" stroke-width="1.0" fill="none" opacity="0.37" stroke-linejoin="round"/>
<polyline points="421.7,37.5 424.9,39.5 427.8,41.7 430.8,44.0" stroke="#3ee83e" stroke-width="1.0" fill="none" opacity="0.37" stroke-linejoin="round"/>
<polyline points="405.0,54.0 407.0,51.8 408.7,49.3 410.0,46.6 412.0,44.4 414.5,42.6 416.4,40.3 418.9,38.7 421.7,37.5" stroke="#3ee83e" stroke-width="1.0" fill="none" opacity="0.49" stroke-linejoin="round"/>
<polyline points="405.3,46.7 407.1,44.4 409.2,42.6" stroke="#3ee83e" stroke-width="1.0" fill="none" opacity="0.24" stroke-linejoin="round"/>
<polyline points="398.8,47.6 402.0,47.2 405.3,46.7 408.5,46.0" stroke="#3ee83e" stroke-width="1.0" fill="none" opacity="0.31" stroke-linejoin="round"/>
<polyline points="394.0,44.0 396.3,46.0 398.8,47.6 401.2,49.4 403.6,51.2 405.9,53.1 408.5,54.5 411.0,56.3 412.7,58.8" stroke="#3ee83e" stroke-width="1.0" fill="none" opacity="0.42" stroke-linejoin="round"/>
<polyline points="414.0,92.5 417.7,93.6 421.6,94.2 425.2,95.8" stroke="#3ee83e" stroke-width="1.0" fill="none" opacity="0.34" stroke-linejoin="round"/>
<polyline points="418.2,96.7 421.7,97.1 425.0,98.3 428.4,98.9 431.5,100.4" stroke="#3ee83e" stroke-width="1.0" fill="none" opacity="0.34" stroke-linejoin="round"/>
<polyline points="404.0,78.0 406.1,80.2 407.7,82.7 408.4,85.6 410.0,88.1 411.6,90.7 414.0,92.5 415.8,94.9 418.2,96.7" stroke="#3ee83e" stroke-width="1.0" fill="none" opacity="0.45" stroke-linejoin="round"/>
<polyline points="394.1,68.6 391.8,68.2 389.7,67.0" stroke="#3ee83e" stroke-width="1.0" fill="none" opacity="0.22" stroke-linejoin="round"/>
<polyline points="396.7,66.0 394.1,68.6 390.8,70.2 387.2,70.8" stroke="#3ee83e" stroke-width="1.0" fill="none" opacity="0.29" stroke-linejoin="round"/>
<polyline points="390.8,62.9 387.5,61.8 384.3,60.3" stroke="#3ee83e" stroke-width="1.0" fill="none" opacity="0.29" stroke-linejoin="round"/>
<polyline points="388.7,60.4 387.9,57.3 387.2,54.3 386.3,51.2" stroke="#3ee83e" stroke-width="1.0" fill="none" opacity="0.29" stroke-linejoin="round"/>
<polyline points="383.1,56.9 382.0,54.1 381.4,51.1 379.9,48.5" stroke="#3ee83e" stroke-width="1.0" fill="none" opacity="0.29" stroke-linejoin="round"/>
<polyline points="400.0,66.0 396.7,66.0 393.5,64.9 390.8,62.9 388.7,60.4 386.2,58.2 383.1,56.9" stroke="#3ee83e" stroke-width="1.0" fill="none" opacity="0.39" stroke-linejoin="round"/>
<polyline points="388.2,74.8 386.1,73.6 384.4,71.8" stroke="#3ee83e" stroke-width="1.0" fill="none" opacity="0.26" stroke-linejoin="round"/>
<polyline points="398.0,72.0 394.5,72.0 391.1,72.9 388.2,74.8 385.6,77.2" stroke="#3ee83e" stroke-width="1.0" fill="none" opacity="0.35" stroke-linejoin="round"/>
<polyline points="419.3,51.1 417.6,47.5 415.2,44.3" stroke="#3ee83e" stroke-width="1.0" fill="none" opacity="0.24" stroke-linejoin="round"/>
<polyline points="415.8,59.3 417.4,56.8 418.8,54.1 419.3,51.1 419.0,48.1 419.7,45.2 419.6,42.2" stroke="#3ee83e" stroke-width="1.0" fill="none" opacity="0.31" stroke-linejoin="round"/>
<polyline points="437.9,60.3 440.6,62.8 443.9,64.4" stroke="#3ee83e" stroke-width="1.0" fill="none" opacity="0.24" stroke-linejoin="round"/>
<polyline points="441.0,61.2 443.8,62.8 445.9,65.3 448.1,67.6" stroke="#3ee83e" stroke-width="1.0" fill="none" opacity="0.24" stroke-linejoin="round"/>
<polyline points="425.2,57.7 428.3,58.6 431.4,59.6 434.7,59.6 437.9,60.3 441.0,61.2" stroke="#3ee83e" stroke-width="1.0" fill="none" opacity="0.31" stroke-linejoin="round"/>
<polyline points="434.7,57.8 437.2,55.5 440.1,53.8 443.2,52.4 446.4,51.1" stroke="#3ee83e" stroke-width="1.0" fill="none" opacity="0.31" stroke-linejoin="round"/>
<polyline points="441.0,58.1 442.8,60.9 445.3,62.9 448.2,64.4 451.1,65.9 453.9,67.7" stroke="#3ee83e" stroke-width="1.0" fill="none" opacity="0.31" stroke-linejoin="round"/>
<polyline points="410.0,62.0 412.7,60.3 415.8,59.3 418.9,58.7 422.0,57.9 425.2,57.7 428.3,58.3 431.5,58.5 434.7,57.8 437.8,58.1 441.0,58.1" stroke="#3ee83e" stroke-width="1.0" fill="none" opacity="0.42" stroke-linejoin="round"/>
<polyline points="408.8,40.5 410.9,38.6 412.7,36.5" stroke="#3ee83e" stroke-width="1.0" fill="none" opacity="0.22" stroke-linejoin="round"/>
<polyline points="405.8,51.5 407.6,48.1 408.1,44.3 408.8,40.5" stroke="#3ee83e" stroke-width="1.0" fill="none" opacity="0.29" stroke-linejoin="round"/>
<polyline points="417.4,36.5 417.0,33.1 416.3,29.8 416.4,26.4 416.3,23.0" stroke="#3ee83e" stroke-width="1.0" fill="none" opacity="0.29" stroke-linejoin="round"/>
<polyline points="406.0,58.0 405.6,54.8 405.8,51.5 406.7,48.4 408.4,45.6 410.7,43.4 413.5,41.6 415.7,39.3 417.4,36.5" stroke="#3ee83e" stroke-width="1.0" fill="none" opacity="0.39" stroke-linejoin="round"/>
<polyline points="406.8,86.6 408.2,88.0 409.6,89.6" stroke="#3ee83e" stroke-width="1.0" fill="none" opacity="0.20" stroke-linejoin="round"/>
<polyline points="402.0,77.0 403.8,80.1 405.7,83.1 406.8,86.6" stroke="#3ee83e" stroke-width="1.0" fill="none" opacity="0.26" stroke-linejoin="round"/>
<polyline points="402.0,74.0 402.0,77.0 402.8,79.9 403.0,82.9 404.1,85.7 405.7,88.2 407.1,90.9" stroke="#3ee83e" stroke-width="1.0" fill="none" opacity="0.35" stroke-linejoin="round"/>
<polyline points="384.1,59.8 381.1,59.1 378.3,58.0" stroke="#3ee83e" stroke-width="1.0" fill="none" opacity="0.18" stroke-linejoin="round"/>
<polyline points="391.3,62.6 387.5,61.7 384.1,59.8 380.9,57.5" stroke="#3ee83e" stroke-width="1.0" fill="none" opacity="0.24" stroke-linejoin="round"/>
<polyline points="381.9,53.2 381.3,48.9 381.4,44.6" stroke="#3ee83e" stroke-width="1.0" fill="none" opacity="0.24" stroke-linejoin="round"/>
<polyline points="395.0,68.0 393.5,65.0 391.3,62.6 388.5,60.7 386.5,58.0 384.2,55.6 381.9,53.2" stroke="#3ee83e" stroke-width="1.0" fill="none" opacity="0.32" stroke-linejoin="round"/>
<polyline points="420.8,68.2 422.2,65.3 423.9,62.8" stroke="#3ee83e" stroke-width="1.0" fill="none" opacity="0.20" stroke-linejoin="round"/>
<polyline points="424.2,67.9 427.3,69.9 430.8,70.7" stroke="#3ee83e" stroke-width="1.0" fill="none" opacity="0.20" stroke-linejoin="round"/>
<polyline points="430.8,66.1 433.7,67.5 437.0,67.9" stroke="#3ee83e" stroke-width="1.0" fill="none" opacity="0.20" stroke-linejoin="round"/>
<polyline points="417.4,68.5 420.8,68.2 424.2,67.9 427.5,67.0 430.8,66.1" stroke="#3ee83e" stroke-width="1.0" fill="none" opacity="0.26" stroke-linejoin="round"/>
<polyline points="421.8,85.5 418.0,85.5 414.2,85.2" stroke="#3ee83e" stroke-width="1.0" fill="none" opacity="0.20" stroke-linejoin="round"/>
<polyline points="425.8,77.0 425.1,80.1 423.6,82.9 421.8,85.5 420.1,88.2 419.2,91.3" stroke="#3ee83e" stroke-width="1.0" fill="none" opacity="0.26" stroke-linejoin="round"/>
<polyline points="432.5,82.9 435.8,83.5 439.0,82.9 442.3,83.3 445.5,82.6" stroke="#3ee83e" stroke-width="1.0" fill="none" opacity="0.26" stroke-linejoin="round"/>
<polyline points="440.2,89.2 441.6,91.9 442.3,94.9" stroke="#3ee83e" stroke-width="1.0" fill="none" opacity="0.20" stroke-linejoin="round"/>
<polyline points="433.7,85.7 437.2,87.1 440.2,89.2 442.8,91.9" stroke="#3ee83e" stroke-width="1.0" fill="none" opacity="0.26" stroke-linejoin="round"/>
<polyline points="412.0,66.0 414.7,67.3 417.4,68.5 419.9,70.2 422.1,72.2 424.1,74.5 425.8,77.0 428.1,78.9 430.5,80.8 432.5,82.9 433.7,85.7" stroke="#3ee83e" stroke-width="1.0" fill="none" opacity="0.35" stroke-linejoin="round"/>
<polyline points="412.6,81.8 411.6,84.4 410.6,86.9" stroke="#3ee83e" stroke-width="1.0" fill="none" opacity="0.20" stroke-linejoin="round"/>
<polyline points="412.1,78.7 412.6,81.8 414.1,84.6 415.3,87.6" stroke="#3ee83e" stroke-width="1.0" fill="none" opacity="0.26" stroke-linejoin="round"/>
<polyline points="408.0,70.0 409.9,72.6 410.9,75.7 412.1,78.7 414.1,81.3 415.6,84.2 417.8,86.6 420.5,88.4 422.8,90.6" stroke="#3ee83e" stroke-width="1.0" fill="none" opacity="0.35" stroke-linejoin="round"/>
<polyline points="437.6,36.7 438.5,33.9 440.0,31.4" stroke="#3ee83e" stroke-width="1.0" fill="none" opacity="0.22" stroke-linejoin="round"/>
<polyline points="442.7,29.1 445.4,27.3 448.5,26.4" stroke="#3ee83e" stroke-width="1.0" fill="none" opacity="0.22" stroke-linejoin="round"/>
<polyline points="434.3,41.7 435.5,38.9 437.6,36.7 439.2,34.1 441.2,31.8 442.7,29.1" stroke="#3ee83e" stroke-width="1.0" fill="none" opacity="0.29" stroke-linejoin="round"/>
<polyline points="415.0,56.0 418.0,55.3 420.9,54.0 423.6,52.6 426.4,51.3 428.6,49.1 430.8,46.8 432.3,44.1 434.3,41.7 436.3,39.3" stroke="#3ee83e" stroke-width="1.0" fill="none" opacity="0.39" stroke-linejoin="round"/>
<polyline points="400.1,64.6 400.1,65.6 400.1,66.7" stroke="#3ee83e" stroke-width="1.0" fill="none" opacity="0.20" stroke-linejoin="round"/>
<polyline points="396.1,63.3 398.2,63.8 400.1,64.6" stroke="#3ee83e" stroke-width="1.0" fill="none" opacity="0.26" stroke-linejoin="round"/>
<polyline points="388.0,72.0 390.4,70.3 392.5,68.1 394.1,65.6 396.1,63.3" stroke="#3ee83e" stroke-width="1.0" fill="none" opacity="0.35" stroke-linejoin="round"/>
<polyline points="420.0,50.0 422.0,47.8 424.6,46.2 426.4,43.8 427.5,41.0 428.3,38.1 428.4,35.1" stroke="#3ee83e" stroke-width="1.0" fill="none" opacity="0.35" stroke-linejoin="round"/>
<polyline points="397.9,51.5 395.9,48.1 393.6,44.8" stroke="#3ee83e" stroke-width="1.0" fill="none" opacity="0.24" stroke-linejoin="round"/>
<polyline points="400.4,36.4 401.8,34.3 402.6,31.9" stroke="#3ee83e" stroke-width="1.0" fill="none" opacity="0.18" stroke-linejoin="round"/>
<polyline points="398.3,45.3 398.9,42.3 399.6,39.4 400.4,36.4" stroke="#3ee83e" stroke-width="1.0" fill="none" opacity="0.24" stroke-linejoin="round"/>
<polyline points="399.0,64.0 398.7,60.9 398.0,57.8 398.1,54.7 397.9,51.5 398.5,48.4 398.3,45.3 398.1,42.1" stroke="#3ee83e" stroke-width="1.0" fill="none" opacity="0.32" stroke-linejoin="round"/>
<polyline points="426.0,72.0 428.9,70.6 432.1,70.1 435.1,68.7 437.7,66.9 439.8,64.4 441.6,61.7 443.1,58.8 444.9,56.1" stroke="#3ee83e" stroke-width="1.0" fill="none" opacity="0.28" stroke-linejoin="round"/>
<polyline points="413.4,65.0 412.0,63.1 410.6,61.1" stroke="#3ee83e" stroke-width="1.0" fill="none" opacity="0.18" stroke-linejoin="round"/>
<polyline points="414.2,70.9 413.4,68.0 413.4,65.0 412.5,62.1" stroke="#3ee83e" stroke-width="1.0" fill="none" opacity="0.24" stroke-linejoin="round"/>
<polyline points="415.0,64.5 413.5,63.5 411.7,62.9" stroke="#3ee83e" stroke-width="1.0" fill="none" opacity="0.18" stroke-linejoin="round"/>
<polyline points="415.8,68.0 415.0,64.5 414.5,61.0" stroke="#3ee83e" stroke-width="1.0" fill="none" opacity="0.24" stroke-linejoin="round"/>
<polyline points="419.2,54.8 418.4,53.5 417.9,52.2" stroke="#3ee83e" stroke-width="1.0" fill="none" opacity="0.18" stroke-linejoin="round"/>
<polyline points="418.7,62.0 418.6,58.4 419.2,54.8" stroke="#3ee83e" stroke-width="1.0" fill="none" opacity="0.24" stroke-linejoin="round"/>
<polyline points="410.0,80.0 411.6,77.1 412.7,73.9 414.2,70.9 415.8,68.0 417.4,65.1 418.7,62.0" stroke="#3ee83e" stroke-width="1.0" fill="none" opacity="0.32" stroke-linejoin="round"/>
<polyline points="389.7,57.8 389.8,54.4 390.9,51.1" stroke="#3ee83e" stroke-width="1.0" fill="none" opacity="0.21" stroke-linejoin="round"/>
<polyline points="384.0,55.0 382.6,51.9 380.2,49.5" stroke="#3ee83e" stroke-width="1.0" fill="none" opacity="0.21" stroke-linejoin="round"/>
<polyline points="392.0,60.0 389.7,57.8 387.1,55.9 384.0,55.0 381.0,53.8 377.9,53.3" stroke="#3ee83e" stroke-width="1.0" fill="none" opacity="0.28" stroke-linejoin="round"/>
<polyline points="392.1,91.7 390.2,93.5 388.5,95.5" stroke="#3ee83e" stroke-width="1.0" fill="none" opacity="0.16" stroke-linejoin="round"/>
<polyline points="392.6,88.3 392.1,91.7 392.5,95.0 393.3,98.4" stroke="#3ee83e" stroke-width="1.0" fill="none" opacity="0.21" stroke-linejoin="round"/>
<polyline points="396.0,80.0 394.7,82.7 394.0,85.6 392.6,88.3 391.5,91.1 391.0,94.0 391.6,97.0" stroke="#3ee83e" stroke-width="1.0" fill="none" opacity="0.28" stroke-linejoin="round"/>
<polyline points="425.3,89.0 428.3,91.3 431.3,93.6" stroke="#3ee83e" stroke-width="1.0" fill="none" opacity="0.21" stroke-linejoin="round"/>
<polyline points="418.0,76.0 419.0,78.8 420.6,81.3 422.3,83.8 424.1,86.2 425.3,89.0 426.4,91.8" stroke="#3ee83e" stroke-width="1.0" fill="none" opacity="0.28" stroke-linejoin="round"/>
<polyline points="438.7,51.5 441.3,51.5 443.8,51.4" stroke="#3ee83e" stroke-width="1.0" fill="none" opacity="0.16" stroke-linejoin="round"/>
<polyline points="435.5,56.6 436.8,53.8 438.7,51.5 440.2,48.8 442.3,46.6" stroke="#3ee83e" stroke-width="1.0" fill="none" opacity="0.21" stroke-linejoin="round"/>
<polyline points="424.0,60.0 426.9,59.2 429.8,58.3 432.7,57.7 435.5,56.6 438.4,55.8 441.3,54.9 444.2,54.5 447.1,53.6" stroke="#3ee83e" stroke-width="1.0" fill="none" opacity="0.28" stroke-linejoin="round"/>
<circle cx="405.7" cy="53.3" r="2.2" fill="#4af04a" opacity="1"/>
<circle cx="400.8" cy="60.7" r="1.7" fill="#4af04a" opacity="0.8"/>
<circle cx="415.5" cy="55.8" r="1.3" fill="#4af04a" opacity="0.65"/>
<circle cx="389.2" cy="84.5" r="1.1" fill="#4af04a" opacity="0.7"/>
<circle cx="410" cy="67" r="1.2" fill="#4af04a" opacity="0.6"/>
<circle cx="420" cy="68" r="1.0" fill="#4af04a" opacity="0.5"/>
<circle cx="448" cy="66" r="1.0" fill="#4af04a" opacity="0.4"/>
<circle cx="432" cy="92" r="1.0" fill="#4af04a" opacity="0.35"/>
<circle cx="456" cy="44" r="0.9" fill="#4af04a" opacity="0.35"/>
<circle cx="403" cy="75" r="1.2" fill="#4af04a" opacity="0.6"/>
<circle cx="386.7" cy="72.3" r="2.4" fill="#28a028" opacity="0.6"/>
<circle cx="386.7" cy="72.3" r="2.4" fill="none" stroke="#40d040" stroke-width="0.9" opacity="0.7"/>
</g>
<defs><radialGradient id="gvig" cx="0.47" cy="0.45" r="0.62"><stop offset="0.55" stop-color="#000" stop-opacity="0"/><stop offset="1" stop-color="#000" stop-opacity="0.75"/></radialGradient></defs>
<rect x="364" y="22.6" width="93.6" height="93.8" fill="url(#gvig)"/>
</g>
<line x1="440.8" y1="29.2" x2="452.8" y2="29.2" stroke="#e0e0e0" stroke-width="1.1"/>
<text x="411.5" y="102.8" font-size="8.5" text-anchor="middle" fill="#e8e8e8">Mean projection</text>
<text x="412.5" y="110.8" font-size="8.5" text-anchor="middle" fill="#e8e8e8">across time</text>
<text x="-0.6" y="174.4" font-size="19.5" text-anchor="start" fill="#000" font-weight="bold">c</text>
<line x1="76.1" y1="165.5" x2="76.1" y2="284" stroke="#aaa" stroke-width="0.8" stroke-dasharray="1.5,1"/>
<polygon points="76.0,268.9 76.1,267.2 76.2,264.8 76.3,261.9 76.5,258.6 76.6,255.1 76.8,251.3 77.0,247.5 77.1,243.6 77.3,239.7 77.5,236.0 77.7,232.2 77.9,228.1 78.0,223.8 78.2,219.4 78.4,215.0 78.6,210.7 78.8,206.5 79.1,202.7 79.3,199.1 79.5,196.0 79.7,193.5 80.0,191.4 80.2,189.5 80.4,187.9 80.7,186.5 80.9,185.3 81.2,184.2 81.5,183.1 81.7,182.1 82.0,181.0 82.3,180.2 82.6,179.5 82.8,178.9 83.1,178.5 83.4,178.0 83.7,177.7 84.0,177.4 84.3,177.2 84.6,177.0 84.9,176.8 85.2,177.0 85.5,177.2 85.8,177.6 86.1,178.0 86.4,178.4 86.8,178.9 87.1,179.4 87.4,179.9 87.7,180.4 88.0,181.0 88.3,181.7 88.6,182.4 88.9,183.1 89.2,183.9 89.5,184.6 89.7,185.4 90.0,186.3 90.4,187.2 90.7,188.1 91.0,189.0 91.3,189.9 91.7,190.9 92.0,191.9 92.4,192.9 92.8,194.0 93.1,195.0 93.5,196.1 93.9,197.3 94.4,198.4 94.8,199.6 95.3,200.6 95.7,201.6 96.2,202.6 96.7,203.7 97.2,204.7 97.7,205.8 98.2,207.0 98.8,208.2 99.4,209.6 100.0,211.0 100.6,212.6 101.3,214.4 102.1,216.3 102.8,218.3 103.6,220.3 104.3,222.4 105.1,224.3 105.8,226.2 106.5,228.0 107.2,229.5 107.8,230.9 108.4,232.1 109.0,233.3 109.6,234.3 110.1,235.3 110.7,236.2 111.2,237.1 111.8,238.1 112.4,239.0 113.0,240.0 113.6,241.1 114.3,242.2 115.0,243.3 115.7,244.4 116.4,245.5 117.1,246.6 117.8,247.6 118.4,248.6 119.0,249.5 119.6,250.3 120.1,251.0 120.6,251.7 121.0,252.3 121.5,252.8 121.9,253.3 122.3,253.7 122.7,254.2 123.1,254.6 123.5,255.0 124.0,255.5 124.5,255.9 125.1,256.3 125.6,256.7 126.2,257.1 126.8,257.5 127.4,257.9 128.0,258.2 128.5,258.6 129.1,259.0 129.6,259.3 130.1,259.6 130.5,259.8 131.0,260.0 131.4,260.3 131.8,260.5 132.2,260.7 132.6,261.0 133.1,261.2 133.5,261.4 134.0,261.6 134.5,261.9 135.0,262.1 135.6,262.3 135.6,263.9 135.0,263.7 134.5,263.5 134.0,263.4 133.5,263.2 133.1,263.1 132.6,262.9 132.2,262.8 131.8,262.6 131.4,262.4 131.0,262.2 130.5,262.1 130.1,261.9 129.6,261.7 129.1,261.6 128.5,261.5 128.0,261.4 127.4,261.3 126.8,261.2 126.2,261.1 125.6,261.0 125.1,260.8 124.5,260.7 124.0,260.5 123.5,260.4 123.1,260.2 122.7,260.1 122.3,259.9 121.9,259.7 121.5,259.5 121.0,259.3 120.6,259.0 120.1,258.7 119.6,258.3 119.0,257.8 118.4,257.3 117.8,256.7 117.1,256.1 116.4,255.5 115.7,254.8 115.0,254.1 114.3,253.4 113.6,252.7 113.0,252.0 112.4,251.3 111.8,250.7 111.2,250.1 110.7,249.4 110.1,248.8 109.6,248.1 109.0,247.3 108.4,246.5 107.8,245.6 107.2,244.5 106.5,243.2 105.8,241.8 105.1,240.2 104.3,238.6 103.6,236.8 102.8,235.1 102.1,233.4 101.3,231.8 100.6,230.3 100.0,229.0 99.4,227.8 98.8,226.7 98.2,225.7 97.7,224.7 97.2,223.8 96.7,223.0 96.2,222.1 95.7,221.3 95.3,220.5 94.8,219.6 94.4,218.9 93.9,218.2 93.5,217.5 93.1,216.8 92.8,216.1 92.4,215.4 92.0,214.8 91.7,214.2 91.3,213.6 91.0,213.0 90.7,212.5 90.4,212.0 90.0,211.6 89.7,211.1 89.5,210.7 89.2,210.3 88.9,209.9 88.6,209.6 88.3,209.3 88.0,209.0 87.7,208.6 87.4,208.3 87.1,208.0 86.8,207.7 86.4,207.4 86.1,207.2 85.8,207.0 85.5,206.9 85.2,206.8 84.9,206.8 84.6,206.6 84.3,206.3 84.0,206.2 83.7,206.0 83.4,206.0 83.1,206.0 82.8,206.1 82.6,206.3 82.3,206.6 82.0,207.0 81.7,207.2 81.5,207.4 81.2,207.6 80.9,207.9 80.7,208.4 80.4,209.0 80.2,209.8 80.0,210.9 79.7,212.3 79.5,214.0 79.3,216.0 79.1,218.5 78.8,221.3 78.6,224.4 78.4,227.7 78.2,231.1 78.0,234.5 77.9,237.9 77.7,241.1 77.5,244.0 77.3,246.9 77.1,249.8 77.0,252.8 76.8,255.8 76.6,258.7 76.5,261.4 76.3,264.0 76.2,266.2 76.1,268.2 76.0,269.9" fill="#5a8e5a" stroke="none" stroke-width="1" opacity="0.8"/>
<polygon points="45.2,260.7 45.3,260.8 45.5,261.2 45.7,260.4 45.9,260.3 46.1,260.3 46.3,259.5 46.6,259.8 46.8,259.8 47.1,259.9 47.4,258.7 47.7,258.9 48.0,258.4 48.3,259.3 48.7,259.0 49.0,257.9 49.4,259.1 49.7,258.9 50.1,258.3 50.5,258.1 50.9,257.4 51.4,257.1 51.8,257.7 52.2,257.0 52.6,257.2 53.0,257.3 53.4,257.0 53.9,257.7 54.3,257.8 54.8,258.5 55.2,258.2 55.7,258.5 56.1,258.5 56.6,258.9 57.1,258.8 57.5,258.7 58.0,259.9 58.5,260.1 59.0,260.0 59.5,260.0 60.0,259.7 60.5,259.7 61.0,260.0 61.5,259.9 62.0,261.1 62.5,260.8 63.0,261.6 63.5,261.2 64.0,262.2 64.5,262.3 65.0,261.4 65.5,261.9 66.1,263.2 66.6,262.8 67.1,263.8 67.6,263.2 68.1,263.1 68.6,264.1 69.1,264.5 69.6,264.1 70.0,264.0 70.4,264.6 70.8,265.7 71.2,265.6 71.6,264.9 71.9,265.2 72.2,265.2 72.6,265.3 72.9,266.5 73.2,265.8 73.5,266.5 73.7,266.4 74.0,266.2 74.2,267.0 74.4,266.3 74.6,267.1 74.8,266.4 74.9,266.9 75.1,266.7 75.2,266.8 75.3,267.8 75.5,267.5 75.7,266.8 75.9,267.6 76.1,266.6 76.3,266.8 76.6,267.3 76.8,266.8 77.0,265.8 77.3,266.8 77.6,265.5 77.9,265.3 78.2,265.8 78.6,265.0 79.0,264.8 79.5,264.3 80.0,264.2 80.6,264.9 81.3,264.3 82.1,264.8 82.9,264.5 83.7,264.7 84.6,265.4 85.5,264.8 86.4,265.0 87.4,265.5 88.3,264.5 89.1,264.5 90.0,265.6 90.8,265.4 91.7,264.6 92.5,264.5 93.3,265.2 94.2,265.5 95.0,264.4 95.8,265.4 96.7,265.3 97.5,264.8 98.3,264.5 99.2,264.0 100.0,263.9 100.8,265.1 101.7,264.0 102.5,264.6 103.3,263.8 104.2,264.5 105.0,264.1 105.8,263.6 106.7,263.4 107.5,264.0 108.3,263.0 109.2,263.2 110.0,263.6 110.8,263.9 111.7,263.6 112.5,263.1 113.3,263.9 114.2,262.9 115.0,262.6 115.8,262.9 116.7,263.1 117.5,262.6 118.3,262.7 119.2,262.9 120.0,263.1 120.8,262.4 121.7,262.6 122.5,263.2 123.3,263.2 124.2,262.6 125.0,262.5 125.8,262.2 126.7,261.5 127.5,261.2 128.3,261.0 129.2,262.2 130.0,261.8 130.8,262.1 131.7,260.7 132.5,261.5 133.3,261.2 134.2,261.5 135.0,260.9 135.8,261.8 136.7,260.5 137.5,261.1 138.3,261.4 139.2,261.6 140.0,261.3 140.8,261.3 141.7,261.4 142.5,261.6 143.3,260.8 144.2,261.2 145.0,261.6 145.8,261.5 146.7,260.9 147.5,261.4 148.3,261.5 149.2,261.1 150.0,261.2 150.8,260.8 151.7,261.1 152.5,261.0 153.3,260.3 154.2,261.0 155.0,261.4 155.8,261.2 156.7,260.9 157.5,260.4 158.3,260.9 159.2,260.6 160.0,260.4 160.8,261.0 161.7,259.9 162.5,260.9 163.3,259.9 164.2,260.7 165.0,260.6 165.8,260.3 166.7,261.0 167.5,260.7 168.3,260.9 169.2,261.4 170.0,260.5 170.8,260.1 171.7,260.5 172.5,261.0 173.3,260.3 174.2,260.2 175.0,261.2 175.8,260.9 176.7,260.5 177.5,261.1 178.3,260.3 179.2,260.7 180.0,260.1 180.8,260.4 181.7,260.9 182.5,261.1 183.3,261.0 184.2,260.4 185.0,260.7 185.8,260.3 186.7,260.1 187.5,260.6 188.3,261.1 189.2,261.1 190.0,260.9 190.8,261.2 191.7,260.3 192.5,260.1 193.3,260.5 194.2,260.2 195.0,260.1 195.8,260.4 196.7,260.6 197.5,260.4 198.3,260.2 199.2,260.9 200.0,261.1 200.8,260.3 201.7,259.8 202.5,259.8 203.3,260.9 204.2,259.8 205.0,260.7 205.8,260.6 206.7,260.2 207.5,260.9 208.3,259.8 209.2,260.0 210.0,260.4 210.8,259.8 211.7,260.9 212.5,260.1 213.3,259.9 214.1,259.8 214.9,260.6 215.7,260.3 216.6,260.5 217.4,260.6 218.3,260.8 219.1,261.0 220.0,260.6 220.9,259.9 221.9,260.3 223.0,259.8 224.1,259.6 225.2,260.2 226.3,260.6 227.3,259.8 228.3,260.0 229.2,260.1 230.1,260.6 230.7,260.3 231.3,260.5 231.3,264.5 230.7,264.3 230.1,264.6 229.2,264.1 228.3,264.0 227.3,263.8 226.3,264.6 225.2,264.2 224.1,263.6 223.0,263.8 221.9,264.3 220.9,263.9 220.0,264.6 219.1,265.0 218.3,264.8 217.4,264.6 216.6,264.5 215.7,264.3 214.9,264.6 214.1,263.8 213.3,263.9 212.5,264.1 211.7,264.9 210.8,263.8 210.0,264.4 209.2,264.0 208.3,263.8 207.5,264.9 206.7,264.2 205.8,264.6 205.0,264.7 204.2,263.8 203.3,264.9 202.5,263.8 201.7,263.8 200.8,264.3 200.0,265.1 199.2,264.9 198.3,264.2 197.5,264.4 196.7,264.6 195.8,264.4 195.0,264.1 194.2,264.2 193.3,264.5 192.5,264.1 191.7,264.3 190.8,265.2 190.0,264.9 189.2,265.1 188.3,265.1 187.5,264.6 186.7,264.1 185.8,264.3 185.0,264.7 184.2,264.4 183.3,265.0 182.5,265.1 181.7,264.9 180.8,264.4 180.0,264.1 179.2,264.7 178.3,264.3 177.5,265.1 176.7,264.5 175.8,264.9 175.0,265.2 174.2,264.2 173.3,264.3 172.5,265.0 171.7,264.5 170.8,264.1 170.0,264.5 169.2,265.4 168.3,264.9 167.5,264.7 166.7,265.0 165.8,264.3 165.0,264.6 164.2,264.7 163.3,263.9 162.5,264.9 161.7,263.9 160.8,265.0 160.0,264.4 159.2,264.6 158.3,264.9 157.5,264.4 156.7,264.9 155.8,265.2 155.0,265.4 154.2,265.0 153.3,264.3 152.5,265.0 151.7,265.1 150.8,264.8 150.0,265.2 149.2,265.1 148.3,265.5 147.5,265.4 146.7,264.9 145.8,265.5 145.0,265.6 144.2,265.2 143.3,264.8 142.5,265.6 141.7,265.4 140.8,265.3 140.0,265.3 139.2,265.6 138.3,265.4 137.5,265.1 136.7,264.5 135.8,265.8 135.0,264.9 134.2,265.5 133.3,265.2 132.5,265.5 131.7,264.7 130.8,266.1 130.0,265.8 129.2,266.2 128.3,265.0 127.5,265.2 126.7,265.5 125.8,266.2 125.0,266.5 124.2,266.6 123.3,267.2 122.5,267.2 121.7,266.6 120.8,266.4 120.0,267.1 119.2,266.9 118.3,266.7 117.5,266.6 116.7,267.1 115.8,266.9 115.0,266.6 114.2,266.9 113.3,267.9 112.5,267.1 111.7,267.6 110.8,267.9 110.0,267.6 109.2,267.2 108.3,267.0 107.5,268.0 106.7,267.4 105.8,267.6 105.0,268.1 104.2,268.5 103.3,267.8 102.5,268.6 101.7,268.0 100.8,269.1 100.0,267.9 99.2,268.0 98.3,268.5 97.5,268.8 96.7,269.3 95.8,269.4 95.0,268.4 94.2,269.5 93.3,269.2 92.5,268.5 91.7,268.6 90.8,269.4 90.0,269.6 89.1,268.5 88.3,268.5 87.4,269.5 86.4,269.0 85.5,268.8 84.6,269.4 83.7,268.7 82.9,268.5 82.1,268.8 81.3,268.3 80.6,268.9 80.0,268.2 79.5,268.3 79.0,268.8 78.6,269.0 78.2,269.8 77.9,269.3 77.6,269.5 77.3,270.8 77.0,269.8 76.8,270.8 76.6,271.3 76.3,270.8 76.1,270.6 75.9,271.6 75.7,270.8 75.5,271.5 75.3,271.8 75.2,270.8 75.1,270.7 74.9,270.9 74.8,270.4 74.6,271.1 74.4,270.3 74.2,271.0 74.0,270.2 73.7,270.4 73.5,270.5 73.2,269.8 72.9,270.5 72.6,269.3 72.2,269.2 71.9,269.2 71.6,268.9 71.2,269.6 70.8,269.7 70.4,268.6 70.0,268.0 69.6,268.1 69.1,268.5 68.6,268.1 68.1,267.1 67.6,267.2 67.1,267.8 66.6,266.8 66.1,267.2 65.5,265.9 65.0,265.4 64.5,266.3 64.0,266.2 63.5,265.2 63.0,265.6 62.5,264.8 62.0,265.1 61.5,263.9 61.0,264.0 60.5,263.7 60.0,263.7 59.5,264.0 59.0,264.0 58.5,264.1 58.0,263.9 57.5,262.7 57.1,262.8 56.6,262.9 56.1,262.5 55.7,262.5 55.2,262.2 54.8,262.5 54.3,261.8 53.9,261.7 53.4,261.0 53.0,261.3 52.6,261.2 52.2,261.0 51.8,261.7 51.4,261.1 50.9,261.4 50.5,262.1 50.1,262.3 49.7,262.9 49.4,263.1 49.0,261.9 48.7,263.0 48.3,263.3 48.0,262.4 47.7,262.9 47.4,262.7 47.1,263.9 46.8,263.8 46.6,263.8 46.3,263.5 46.1,264.3 45.9,264.3 45.7,264.4 45.5,265.2 45.3,264.8 45.2,264.7" fill="#7ee07e" stroke="none" stroke-width="1" opacity="0.55"/>
<polyline points="45.2,262.7 45.3,262.8 45.5,263.2 45.7,262.4 45.9,262.3 46.1,262.3 46.3,261.5 46.6,261.8 46.8,261.8 47.1,261.9 47.4,260.7 47.7,260.9 48.0,260.4 48.3,261.3 48.7,261.0 49.0,259.9 49.4,261.1 49.7,260.9 50.1,260.3 50.5,260.1 50.9,259.4 51.4,259.1 51.8,259.7 52.2,259.0 52.6,259.2 53.0,259.3 53.4,259.0 53.9,259.7 54.3,259.8 54.8,260.5 55.2,260.2 55.7,260.5 56.1,260.5 56.6,260.9 57.1,260.8 57.5,260.7 58.0,261.9 58.5,262.1 59.0,262.0 59.5,262.0 60.0,261.7 60.5,261.7 61.0,262.0 61.5,261.9 62.0,263.1 62.5,262.8 63.0,263.6 63.5,263.2 64.0,264.2 64.5,264.3 65.0,263.4 65.5,263.9 66.1,265.2 66.6,264.8 67.1,265.8 67.6,265.2 68.1,265.1 68.6,266.1 69.1,266.5 69.6,266.1 70.0,266.0 70.4,266.6 70.8,267.7 71.2,267.6 71.6,266.9 71.9,267.2 72.2,267.2 72.6,267.3 72.9,268.5 73.2,267.8 73.5,268.5 73.7,268.4 74.0,268.2 74.2,269.0 74.4,268.3 74.6,269.1 74.8,268.4 74.9,268.9 75.1,268.7 75.2,268.8 75.3,269.8 75.5,269.5 75.7,268.8 75.9,269.6 76.1,268.6 76.3,268.8 76.6,269.3 76.8,268.8 77.0,267.8 77.3,268.8 77.6,267.5 77.9,267.3 78.2,267.8 78.6,267.0 79.0,266.8 79.5,266.3 80.0,266.2 80.6,266.9 81.3,266.3 82.1,266.8 82.9,266.5 83.7,266.7 84.6,267.4 85.5,266.8 86.4,267.0 87.4,267.5 88.3,266.5 89.1,266.5 90.0,267.6 90.8,267.4 91.7,266.6 92.5,266.5 93.3,267.2 94.2,267.5 95.0,266.4 95.8,267.4 96.7,267.3 97.5,266.8 98.3,266.5 99.2,266.0 100.0,265.9 100.8,267.1 101.7,266.0 102.5,266.6 103.3,265.8 104.2,266.5 105.0,266.1 105.8,265.6 106.7,265.4 107.5,266.0 108.3,265.0 109.2,265.2 110.0,265.6 110.8,265.9 111.7,265.6 112.5,265.1 113.3,265.9 114.2,264.9 115.0,264.6 115.8,264.9 116.7,265.1 117.5,264.6 118.3,264.7 119.2,264.9 120.0,265.1 120.8,264.4 121.7,264.6 122.5,265.2 123.3,265.2 124.2,264.6 125.0,264.5 125.8,264.2 126.7,263.5 127.5,263.2 128.3,263.0 129.2,264.2 130.0,263.8 130.8,264.1 131.7,262.7 132.5,263.5 133.3,263.2 134.2,263.5 135.0,262.9 135.8,263.8 136.7,262.5 137.5,263.1 138.3,263.4 139.2,263.6 140.0,263.3 140.8,263.3 141.7,263.4 142.5,263.6 143.3,262.8 144.2,263.2 145.0,263.6 145.8,263.5 146.7,262.9 147.5,263.4 148.3,263.5 149.2,263.1 150.0,263.2 150.8,262.8 151.7,263.1 152.5,263.0 153.3,262.3 154.2,263.0 155.0,263.4 155.8,263.2 156.7,262.9 157.5,262.4 158.3,262.9 159.2,262.6 160.0,262.4 160.8,263.0 161.7,261.9 162.5,262.9 163.3,261.9 164.2,262.7 165.0,262.6 165.8,262.3 166.7,263.0 167.5,262.7 168.3,262.9 169.2,263.4 170.0,262.5 170.8,262.1 171.7,262.5 172.5,263.0 173.3,262.3 174.2,262.2 175.0,263.2 175.8,262.9 176.7,262.5 177.5,263.1 178.3,262.3 179.2,262.7 180.0,262.1 180.8,262.4 181.7,262.9 182.5,263.1 183.3,263.0 184.2,262.4 185.0,262.7 185.8,262.3 186.7,262.1 187.5,262.6 188.3,263.1 189.2,263.1 190.0,262.9 190.8,263.2 191.7,262.3 192.5,262.1 193.3,262.5 194.2,262.2 195.0,262.1 195.8,262.4 196.7,262.6 197.5,262.4 198.3,262.2 199.2,262.9 200.0,263.1 200.8,262.3 201.7,261.8 202.5,261.8 203.3,262.9 204.2,261.8 205.0,262.7 205.8,262.6 206.7,262.2 207.5,262.9 208.3,261.8 209.2,262.0 210.0,262.4 210.8,261.8 211.7,262.9 212.5,262.1 213.3,261.9 214.1,261.8 214.9,262.6 215.7,262.3 216.6,262.5 217.4,262.6 218.3,262.8 219.1,263.0 220.0,262.6 220.9,261.9 221.9,262.3 223.0,261.8 224.1,261.6 225.2,262.2 226.3,262.6 227.3,261.8 228.3,262.0 229.2,262.1 230.1,262.6 230.7,262.3 231.3,262.5" stroke="#2ecc2e" stroke-width="1.2" fill="none"/>
<polyline points="45.2,262.8 45.3,262.1 45.5,262.6 45.7,262.7 45.9,261.3 46.1,262.4 46.3,261.9 46.6,260.8 46.8,261.1 47.1,261.2 47.4,261.4 47.7,260.5 48.0,260.6 48.3,260.9 48.7,260.6 49.0,260.7 49.4,259.8 49.7,259.9 50.1,259.0 50.5,259.7 50.9,259.7 51.4,259.3 51.8,259.3 52.2,258.5 52.6,259.5 53.0,259.6 53.4,259.7 53.9,259.1 54.3,259.6 54.8,259.0 55.2,260.1 55.7,260.1 56.1,259.6 56.6,259.3 57.1,260.1 57.5,260.4 58.0,260.9 58.5,260.7 59.0,260.2 59.5,261.5 60.0,260.6 60.5,261.9 61.0,261.2 61.5,261.6 62.0,262.5 62.5,261.8 63.0,262.0 63.5,262.8 64.0,263.3 64.5,263.7 65.0,263.8 65.5,264.4 66.1,264.0 66.6,264.9 67.1,263.9 67.6,264.4 68.1,265.1 68.6,265.0 69.1,265.9 69.6,266.0 70.0,266.0 70.4,266.7 70.8,266.5 71.2,266.3 71.6,266.6 71.9,267.5 72.2,267.7 72.6,266.8 72.9,267.9 73.2,268.3 73.5,267.7 73.7,268.0 74.0,267.6 74.2,268.3 74.5,268.6 74.7,269.3 74.8,268.9 75.0,270.9 75.2,270.7 75.3,270.9 75.4,271.7 75.6,271.3 75.7,270.9 75.9,270.7 76.0,268.7 76.1,268.1 76.3,266.2 76.4,265.0 76.5,262.7 76.6,259.3 76.8,256.9 76.9,253.6 77.0,251.3 77.1,248.9 77.2,246.2 77.4,242.7 77.5,239.7 77.6,236.7 77.8,234.4 78.0,231.7 78.1,227.3 78.3,225.0 78.4,220.6 78.6,217.7 78.8,214.7 79.0,212.5 79.1,209.2 79.3,206.9 79.5,205.2 79.7,202.6 79.9,202.0 80.1,199.8 80.3,199.2 80.5,197.9 80.7,197.0 80.9,196.8 81.1,196.0 81.3,195.4 81.6,194.9 81.8,194.6 82.0,193.5 82.2,193.0 82.5,193.3 82.7,192.9 82.9,192.5 83.2,192.7 83.4,192.2 83.7,192.4 83.9,191.4 84.2,192.1 84.4,192.2 84.7,192.4 84.9,191.5 85.2,191.6 85.4,192.6 85.7,191.7 85.9,193.1 86.2,193.2 86.4,192.3 86.7,192.8 87.0,193.9 87.2,193.5 87.5,193.6 87.7,195.1 88.0,194.9 88.3,195.8 88.5,195.2 88.7,196.1 89.0,197.0 89.2,196.4 89.5,197.2 89.7,198.4 89.9,199.3 90.2,200.0 90.5,199.2 90.7,200.4 91.0,201.4 91.3,201.6 91.6,202.5 91.9,202.5 92.2,203.0 92.5,203.7 92.8,204.3 93.1,205.8 93.4,206.5 93.7,207.4 94.1,207.5 94.4,208.3 94.8,209.2 95.2,210.9 95.6,211.9 96.0,212.6 96.4,212.1 96.8,212.8 97.2,215.0 97.6,215.1 98.1,216.4 98.5,216.6 99.0,217.8 99.5,218.9 100.0,219.9 100.5,221.4 101.1,221.8 101.7,224.3 102.3,226.0 102.9,226.5 103.6,228.5 104.2,230.5 104.8,231.5 105.5,232.7 106.1,234.1 106.6,235.9 107.2,236.3 107.7,238.6 108.2,239.4 108.7,240.1 109.2,241.2 109.7,241.5 110.1,241.9 110.6,242.9 111.1,243.4 111.5,244.7 112.0,245.1 112.5,244.9 113.0,246.6 113.5,247.1 114.1,247.9 114.6,248.7 115.2,248.8 115.8,250.3 116.4,251.1 117.0,251.5 117.5,252.3 118.1,253.0 118.6,253.0 119.1,254.1 119.6,253.7 120.0,254.5 120.4,255.2 120.8,254.8 121.2,255.7 121.5,256.4 121.9,256.7 122.2,256.4 122.5,257.7 122.9,257.5 123.2,257.3 123.6,258.0 124.0,258.1 124.4,258.3 124.9,258.3 125.3,259.5 125.8,259.2 126.3,259.5 126.8,259.7 127.3,260.3 127.8,259.0 128.3,260.1 128.7,260.5 129.2,259.9 129.6,260.4 130.0,260.0 130.4,260.4 130.8,260.9 131.1,260.6 131.5,261.0 131.8,262.2 132.1,261.8 132.5,261.9 132.9,262.7 133.2,262.3 133.6,263.1 134.0,262.7 134.4,263.1 134.9,262.2 135.3,263.1 135.8,263.5 136.2,262.6 136.7,264.1 137.2,263.1 137.6,263.7 138.1,263.4 138.6,264.0 139.0,264.3 139.5,263.5 140.0,264.9 140.4,264.2 140.8,264.3 141.3,264.5 141.7,264.1 142.2,263.9 142.6,264.5 143.1,264.3 143.5,263.8 144.0,264.4 144.5,263.7 145.0,263.3 145.5,263.6 146.1,263.2 146.6,263.3 147.2,264.1 147.8,263.5 148.3,264.1 148.9,263.8 149.5,262.7 150.1,264.0 150.8,263.8 151.4,262.4 152.0,263.6 152.6,262.8 153.3,262.8 153.9,263.4 154.5,262.2 155.2,262.5 155.8,263.1 156.5,262.6 157.1,262.2 157.8,262.9 158.5,262.6 159.3,262.2 160.0,261.4 160.8,262.2 161.6,261.9 162.4,261.6 163.2,261.4 164.0,262.2 164.9,261.6 165.7,262.1 166.6,262.5 167.5,262.3 168.3,262.1 169.2,262.6 170.0,262.4 170.8,263.0 171.7,262.6 172.5,263.4 173.3,263.3 174.2,263.0 175.0,262.3 175.8,262.2 176.7,263.4 177.5,263.2 178.3,263.0 179.2,262.6 180.0,262.5 180.8,263.1 181.7,262.9 182.5,262.9 183.3,262.9 184.2,263.0 185.0,262.1 185.8,262.1 186.7,263.2 187.5,263.0 188.3,262.9 189.2,261.6 190.0,261.6 190.8,262.0 191.7,262.2 192.5,262.5 193.3,261.8 194.2,262.5 195.0,261.8 195.8,261.8 196.7,262.8 197.5,262.6 198.3,262.8 199.2,262.4 200.0,262.6 200.8,262.2 201.7,262.4 202.5,262.9 203.3,263.1 204.2,261.9 205.0,261.9 205.8,263.0 206.7,262.6 207.5,262.8 208.3,262.0 209.2,262.3 210.0,262.0 210.8,262.9 211.7,262.2 212.5,262.6 213.3,263.1 214.1,262.2 214.9,262.5 215.7,262.8 216.6,263.1 217.4,262.4 218.3,262.3 219.1,261.9 220.0,263.1 220.9,261.9 221.9,261.9 223.0,262.6 224.1,262.5 225.2,262.8 226.3,262.2 227.3,262.9 228.3,261.9 229.2,262.1 230.1,262.7 230.7,261.9 231.3,262.2" stroke="#0c480c" stroke-width="1.3" fill="none"/>
<polyline points="29.8,262.9 29.8,283.1 50.8,283.1" stroke="#222" stroke-width="1.0" fill="none"/>
<text x="24.3" y="290.6" font-size="11.8" text-anchor="start" fill="#1a1a1a" transform="rotate(-90 24.3 290.6)">5 z-score</text>
<text x="32.2" y="296.8" font-size="11.6" text-anchor="start" fill="#1a1a1a">2 s</text>
<text x="58.2" y="302.8" font-size="11.8" text-anchor="start" fill="#1a1a1a">ACh puff</text>
<text x="141" y="184.8" font-size="11.5" text-anchor="start" fill="#1a1a1a">Bath solution</text>
<line x1="141.2" y1="199.2" x2="155" y2="199.2" stroke="#0c480c" stroke-width="1.5"/>
<text x="162" y="203.4" font-size="11.5" text-anchor="start" fill="#1a1a1a">ACSF</text>
<line x1="141.2" y1="217.1" x2="155" y2="217.1" stroke="#2ecc2e" stroke-width="1.5"/>
<text x="162" y="221.2" font-size="11.5" text-anchor="start" fill="#1a1a1a">Neostigmine</text>
<line x1="79.3" y1="326.9" x2="79.3" y2="470.69999999999993" stroke="#333" stroke-width="0.8"/>
<line x1="78.89999999999999" y1="470.29999999999995" x2="221.5" y2="470.29999999999995" stroke="#333" stroke-width="0.8"/>
<line x1="76.1" y1="470.29999999999995" x2="79.3" y2="470.29999999999995" stroke="#333" stroke-width="0.7"/>
<text x="75.1" y="474.09999999999997" font-size="10.8" text-anchor="end" fill="#1a1a1a">-10</text>
<line x1="77.3" y1="458.34999999999997" x2="79.3" y2="458.34999999999997" stroke="#333" stroke-width="0.7"/>
<line x1="76.1" y1="446.4" x2="79.3" y2="446.4" stroke="#333" stroke-width="0.7"/>
<text x="75.1" y="450.2" font-size="10.8" text-anchor="end" fill="#1a1a1a">0</text>
<line x1="77.3" y1="434.45" x2="79.3" y2="434.45" stroke="#333" stroke-width="0.7"/>
<line x1="76.1" y1="422.5" x2="79.3" y2="422.5" stroke="#333" stroke-width="0.7"/>
<text x="75.1" y="426.3" font-size="10.8" text-anchor="end" fill="#1a1a1a">10</text>
<line x1="77.3" y1="410.54999999999995" x2="79.3" y2="410.54999999999995" stroke="#333" stroke-width="0.7"/>
<line x1="76.1" y1="398.59999999999997" x2="79.3" y2="398.59999999999997" stroke="#333" stroke-width="0.7"/>
<text x="75.1" y="402.4" font-size="10.8" text-anchor="end" fill="#1a1a1a">20</text>
<line x1="77.3" y1="386.65" x2="79.3" y2="386.65" stroke="#333" stroke-width="0.7"/>
<line x1="76.1" y1="374.7" x2="79.3" y2="374.7" stroke="#333" stroke-width="0.7"/>
<text x="75.1" y="378.5" font-size="10.8" text-anchor="end" fill="#1a1a1a">30</text>
<line x1="77.3" y1="362.75" x2="79.3" y2="362.75" stroke="#333" stroke-width="0.7"/>
<line x1="76.1" y1="350.79999999999995" x2="79.3" y2="350.79999999999995" stroke="#333" stroke-width="0.7"/>
<text x="75.1" y="354.59999999999997" font-size="10.8" text-anchor="end" fill="#1a1a1a">40</text>
<line x1="77.3" y1="338.84999999999997" x2="79.3" y2="338.84999999999997" stroke="#333" stroke-width="0.7"/>
<line x1="76.1" y1="326.9" x2="79.3" y2="326.9" stroke="#333" stroke-width="0.7"/>
<text x="75.1" y="330.7" font-size="10.8" text-anchor="end" fill="#1a1a1a">50</text>
<line x1="119.8" y1="470.29999999999995" x2="119.8" y2="472.49999999999994" stroke="#333" stroke-width="0.7"/>
<line x1="181.1" y1="470.29999999999995" x2="181.1" y2="472.49999999999994" stroke="#333" stroke-width="0.7"/>
<text x="53.4" y="396.4" font-size="10.6" text-anchor="middle" fill="#1a1a1a" transform="rotate(-90 53.4 396.4)">Peak (z-scored ΔF/F)</text>
<text x="119.7" y="483.6" font-size="10.5" text-anchor="middle" fill="#1a1a1a">ACSF</text>
<text x="181.1" y="483.6" font-size="10.6" text-anchor="middle" fill="#1a1a1a">Neostigmine</text>
<rect x="99.6" y="374.7" width="40.4" height="51.62399999999997" fill="none" stroke="#2e7a2e" stroke-width="1"/>
<line x1="99.6" y1="417.481" x2="140" y2="417.481" stroke="#2e7a2e" stroke-width="1"/>
<line x1="119.8" y1="345.303" x2="119.8" y2="374.7" stroke="#2e7a2e" stroke-width="1"/>
<line x1="119.8" y1="426.32399999999996" x2="119.8" y2="433.255" stroke="#2e7a2e" stroke-width="1"/>
<line x1="109.4" y1="345.303" x2="130.5" y2="345.303" stroke="#2e7a2e" stroke-width="1"/>
<line x1="109.4" y1="433.255" x2="130.5" y2="433.255" stroke="#2e7a2e" stroke-width="1"/>
<circle cx="119.8" cy="345.30" r="1.8" fill="#fff" stroke="#333" stroke-width="0.75"/>
<circle cx="119.8" cy="367.53" r="1.8" fill="#fff" stroke="#333" stroke-width="0.75"/>
<circle cx="119.8" cy="374.70" r="1.8" fill="#fff" stroke="#333" stroke-width="0.75"/>
<circle cx="119.8" cy="377.09" r="1.8" fill="#fff" stroke="#333" stroke-width="0.75"/>
<circle cx="119.8" cy="395.49" r="1.8" fill="#fff" stroke="#333" stroke-width="0.75"/>
<circle cx="119.8" cy="417.24" r="1.8" fill="#fff" stroke="#333" stroke-width="0.75"/>
<circle cx="119.8" cy="423.69" r="1.8" fill="#fff" stroke="#333" stroke-width="0.75"/>
<circle cx="119.8" cy="427.28" r="1.8" fill="#fff" stroke="#333" stroke-width="0.75"/>
<circle cx="119.8" cy="429.67" r="1.8" fill="#fff" stroke="#333" stroke-width="0.75"/>
<circle cx="119.8" cy="432.06" r="1.8" fill="#fff" stroke="#333" stroke-width="0.75"/>
<circle cx="119.8" cy="433.25" r="1.8" fill="#fff" stroke="#333" stroke-width="0.75"/>
<rect x="161" y="442.40869999999995" width="40.7" height="6.142300000000034" fill="none" stroke="#22c022" stroke-width="1"/>
<line x1="161" y1="446.75849999999997" x2="201.7" y2="446.75849999999997" stroke="#22c022" stroke-width="1"/>
<line x1="171" y1="438.39349999999996" x2="192" y2="438.39349999999996" stroke="#22c022" stroke-width="1"/>
<line x1="171" y1="450.1045" x2="192" y2="450.1045" stroke="#22c022" stroke-width="1"/>
<line x1="181.1" y1="438.39349999999996" x2="181.1" y2="450.1045" stroke="#22c022" stroke-width="1"/>
<circle cx="181.1" cy="438.27" r="1.8" fill="#fff" stroke="#333" stroke-width="0.75"/>
<circle cx="181.1" cy="440.66" r="1.8" fill="#fff" stroke="#333" stroke-width="0.75"/>
<circle cx="181.1" cy="443.05" r="1.8" fill="#fff" stroke="#333" stroke-width="0.75"/>
<circle cx="181.1" cy="445.44" r="1.8" fill="#fff" stroke="#333" stroke-width="0.75"/>
<circle cx="181.1" cy="447.59" r="1.8" fill="#fff" stroke="#333" stroke-width="0.75"/>
<circle cx="181.1" cy="449.51" r="1.8" fill="#fff" stroke="#333" stroke-width="0.75"/>
<polyline points="119.8,335.5 119.8,329.2 181.1,329.2 181.1,427.2" stroke="#333" stroke-width="0.8" fill="none"/>
<text x="151" y="328" font-size="14" text-anchor="middle" fill="#1a1a1a" font-weight="bold">***</text>
<text x="470" y="14.3" font-size="19.5" text-anchor="start" fill="#000" font-weight="bold">d</text>
<text x="485.3" y="21.7" font-size="10" text-anchor="start" fill="#1a1a1a">ACh dynamics</text>
<path d="M502.5,25.6 C503.4,27.599999999999998 505.8,29.599999999999998 505.8,31.7 A3.3,3.3 0 1 1 499.2,31.7 C499.2,29.599999999999998 501.6,27.599999999999998 502.5,25.6 Z" fill="#28a0e0"/>
<path d="M530.8,26.69 C531.5649999999999,28.39 533.6049999999999,30.09 533.6049999999999,31.875 A2.8049999999999997,2.8049999999999997 0 1 1 527.995,31.875 C527.995,30.09 530.035,28.39 530.8,26.69 Z" fill="#28a0e0"/>
<line x1="528.3" y1="28.6" x2="533.3" y2="34" stroke="#d82828" stroke-width="1.1"/>
<line x1="533.3" y1="28.6" x2="528.3" y2="34" stroke="#d82828" stroke-width="1.1"/>
<text x="481.5" y="42.2" font-size="7.5" text-anchor="middle" fill="#1a1a1a">1</text>
<text x="481.5" y="97.2" font-size="7.5" text-anchor="middle" fill="#1a1a1a">6</text>
<text x="484.3" y="65" font-size="7.5" text-anchor="middle" fill="#1a1a1a" transform="rotate(-90 484.3 65)">ROI</text>
<polyline points="488.3,39.1 489.6,38.3 491.1,39.6 492.7,38.6 494.2,39.1 495.7,38.3 497.2,38.6 498.8,37.9 500.3,37.1 501.3,38.6 502.1,45.2 502.8,42.2 503.9,38.1 504.9,36.6 505.6,41.2 506.4,44.2 507.4,40.1 508.4,43.2 509.5,41.2 510.7,40.7 512.0,40.1 513.0,40.1" stroke="#f4905a" stroke-width="0.9" fill="none" stroke-linejoin="round"/>
<polyline points="522.7,41.2 524.2,40.7 525.8,42.2 527.3,42.7 528.8,43.7 530.3,44.2 531.9,43.2 532.9,41.7 533.9,43.7 535.4,42.2 537.0,41.2 538.5,40.7 539.5,38.6 540.5,37.6 541.5,37.1 542.6,36.1 543.6,34.5 544.3,37.1 545.1,39.1" stroke="#f4905a" stroke-width="0.9" fill="none" stroke-linejoin="round"/>
<polyline points="488.6,52.4 490.1,51.9 491.6,50.8 493.2,52.9 494.7,49.8 496.0,46.8 497.0,48.3 498.3,47.8 499.5,50.8 500.8,52.4 501.8,56.4 503.1,59.0 504.2,56.4 505.2,49.3 506.4,47.3 507.6,50.3 509.0,50.8 510.5,50.3 511.7,51.4 513.0,48.3" stroke="#b060c0" stroke-width="0.9" fill="none" stroke-linejoin="round"/>
<polyline points="523.2,50.3 524.7,50.8 525.8,52.9 527.3,53.9 528.8,54.9 530.3,57.0 531.9,55.4 533.4,54.9 534.9,56.4 536.5,54.4 538.0,52.9 539.5,50.3 540.8,47.3 542.1,46.3 543.3,47.3 544.1,46.3 545.1,53.4" stroke="#b060c0" stroke-width="0.9" fill="none" stroke-linejoin="round"/>
<polyline points="488.6,65.6 490.1,64.6 491.6,63.6 493.2,62.6 494.7,64.1 496.2,62.6 497.8,62.0 499.3,62.6 500.5,61.5 501.5,63.6 502.5,68.7 503.6,66.6 504.4,64.6 505.6,63.6 506.9,64.6 508.4,63.6 510.0,64.6 511.5,65.1 513.0,64.1" stroke="#f04848" stroke-width="0.9" fill="none" stroke-linejoin="round"/>
<polyline points="522.7,64.1 524.2,64.6 525.8,65.6 527.3,64.6 528.8,64.1 529.8,66.6 530.8,68.2 531.9,65.6 533.4,65.1 534.9,65.6 536.5,64.6 538.0,63.6 539.5,64.1 540.5,61.0 542.1,59.5 543.3,58.5 544.1,60.5 545.1,62.6" stroke="#f04848" stroke-width="0.9" fill="none" stroke-linejoin="round"/>
<polyline points="488.6,74.8 490.1,73.8 491.6,72.7 493.2,70.7 494.7,71.7 496.2,71.2 497.8,72.7 499.3,72.2 500.8,73.3 501.8,74.8 503.1,79.4 504.2,76.8 505.4,72.7 506.9,71.7 508.4,71.2 510.0,72.2 511.5,73.8 513.0,73.3" stroke="#dcd83c" stroke-width="0.9" fill="none" stroke-linejoin="round"/>
<polyline points="522.7,73.8 524.2,74.8 525.8,74.3 527.3,76.3 528.8,76.8 530.3,78.3 531.9,75.8 533.4,76.8 534.9,75.8 536.5,74.8 538.0,74.3 539.5,71.7 540.8,70.2 542.3,70.7 543.6,70.7 544.9,75.3" stroke="#dcd83c" stroke-width="0.9" fill="none" stroke-linejoin="round"/>
<polyline points="488.3,84.2 489.8,83.7 491.2,84.7 492.7,84.2 494.1,85.2 495.6,86.1 497.0,84.7 498.5,83.2 499.9,82.3 500.9,82.7 501.8,86.6 502.8,88.5 503.8,86.6 504.7,85.2 505.7,85.6 507.1,84.7 508.6,86.1 510.0,85.6 511.5,86.1 512.7,85.6" stroke="#c8a080" stroke-width="0.9" fill="none" stroke-linejoin="round"/>
<polyline points="523.0,83.7 524.5,83.2 525.9,85.2 527.4,86.1 528.8,85.6 530.2,87.6 531.4,89.0 532.7,86.6 534.1,85.6 535.5,84.7 537.0,82.7 538.4,83.2 539.4,84.2 540.4,80.8 541.6,78.4 543.0,79.9 544.2,81.8 545.2,83.7" stroke="#c8a080" stroke-width="0.9" fill="none" stroke-linejoin="round"/>
<polyline points="488.3,94.8 489.8,94.3 491.2,95.8 492.7,95.3 494.1,95.8 495.6,95.3 497.0,95.8 498.5,94.8 499.9,93.3 501.2,93.8 502.1,97.7 503.3,99.6 504.4,96.7 505.7,96.2 507.1,95.3 508.6,94.8 510.0,96.2 511.5,96.2 512.7,96.2" stroke="#50b850" stroke-width="0.9" fill="none" stroke-linejoin="round"/>
<polyline points="523.0,94.3 524.5,95.8 525.9,96.2 527.4,96.7 528.8,97.2 530.2,98.6 531.4,99.1 532.7,97.7 534.1,96.7 535.5,95.8 537.0,94.8 538.4,93.8 539.7,92.9 540.7,90.9 541.8,92.4 543.3,93.8 544.7,94.3 545.5,94.8" stroke="#50b850" stroke-width="0.9" fill="none" stroke-linejoin="round"/>
<polyline points="488.3,104.9 489.8,105.1 491.2,104.7 492.7,104.9 494.1,104.4 495.6,103.9 497.0,104.1 498.5,103.5 499.9,104.1 501.2,104.9 502.3,108.3 503.3,110.2 504.2,106.8 505.4,105.9 507.1,105.4 508.6,105.9 510.0,105.4 511.5,105.4 512.9,104.7" stroke="#111111" stroke-width="1.1" fill="none" stroke-linejoin="round"/>
<polyline points="522.5,105.4 524.0,105.9 525.4,106.8 526.9,107.8 528.3,108.3 529.8,109.2 531.2,108.3 532.4,110.7 533.6,108.8 535.1,107.8 536.5,106.8 538.0,105.9 539.4,106.4 540.8,103.9 542.0,102.0 543.3,102.5 544.5,103.5 545.7,104.9 546.6,106.3" stroke="#111111" stroke-width="1.1" fill="none" stroke-linejoin="round"/>
<text x="549.6" y="109.5" font-size="8.6" text-anchor="start" fill="#1a1a1a">Full field</text>
<text x="485.8" y="125" font-size="8.6" text-anchor="start" fill="#1a1a1a">Reward</text>
<text x="521.8" y="125" font-size="8.6" text-anchor="start" fill="#1a1a1a">No-reward</text>
<polyline points="558.1,40.1 558.1,45.2 566.5,45.2" stroke="#333" stroke-width="0.7" fill="none"/>
<text x="558" y="36.1" font-size="6.8" text-anchor="start" fill="#1a1a1a">ΔF/F</text>
<text x="556.3" y="43.3" font-size="6.8" text-anchor="middle" fill="#1a1a1a" transform="rotate(-90 556.3 43.3)">5%</text>
<text x="559.2" y="52.2" font-size="6.8" text-anchor="start" fill="#1a1a1a">2 s</text>
<defs><clipPath id="cbi"><rect x="586" y="22.2" width="94.8" height="94.6"/></clipPath><radialGradient id="bhalo" cx="0.5" cy="0.5" r="0.5"><stop offset="0" stop-color="#1e6cff" stop-opacity="0.95"/><stop offset="0.6" stop-color="#1446f0" stop-opacity="0.6"/><stop offset="1" stop-color="#0a20d8" stop-opacity="0"/></radialGradient><radialGradient id="bcore" cx="0.5" cy="0.5" r="0.5"><stop offset="0" stop-color="#30b8ff" stop-opacity="0.9"/><stop offset="0.6" stop-color="#2088ff" stop-opacity="0.5"/><stop offset="1" stop-color="#1446f0" stop-opacity="0"/></radialGradient><filter id="bblur" x="-20%" y="-20%" width="140%" height="140%"><feGaussianBlur stdDeviation="0.35"/></filter></defs>
<g clip-path="url(#cbi)">
<rect x="586" y="22.2" width="94.8" height="94.6" fill="#0510b8"/>
<ellipse cx="626" cy="55" rx="40" ry="36" fill="url(#bhalo)" opacity="0.45"/>
<g filter="url(#bblur)" opacity="0.95"><g fill="#1890ff"><circle cx="639.4" cy="76.2" r="1.1"/><circle cx="648.3" cy="62.5" r="0.6"/><circle cx="643.0" cy="68.5" r="0.7"/><circle cx="644.6" cy="71.8" r="0.6"/><circle cx="624.0" cy="56.7" r="0.8"/><circle cx="640.3" cy="71.9" r="1.1"/><circle cx="629.1" cy="56.2" r="0.8"/><circle cx="639.1" cy="67.1" r="1.2"/><circle cx="625.0" cy="62.7" r="0.7"/><circle cx="637.2" cy="50.5" r="1.0"/><circle cx="630.8" cy="61.4" r="0.7"/><circle cx="624.2" cy="74.1" r="1.0"/><circle cx="639.4" cy="75.5" r="1.1"/><circle cx="640.8" cy="63.4" r="0.9"/><circle cx="626.2" cy="69.9" r="1.0"/><circle cx="636.5" cy="71.4" r="0.7"/><circle cx="635.5" cy="61.2" r="1.0"/><circle cx="626.4" cy="61.9" r="1.0"/><circle cx="641.8" cy="75.2" r="0.7"/><circle cx="637.1" cy="76.5" r="0.9"/><circle cx="633.4" cy="68.9" r="1.0"/><circle cx="630.8" cy="55.3" r="1.0"/><circle cx="627.9" cy="56.5" r="0.9"/><circle cx="624.5" cy="64.4" r="0.7"/><circle cx="636.3" cy="65.1" r="0.8"/><circle cx="635.6" cy="56.5" r="0.9"/><circle cx="637.0" cy="60.7" r="1.2"/><circle cx="638.5" cy="63.9" r="0.8"/><circle cx="637.0" cy="62.3" r="1.1"/><circle cx="647.3" cy="63.4" r="1.2"/><circle cx="636.0" cy="51.3" r="1.0"/><circle cx="634.2" cy="63.0" r="0.9"/><circle cx="633.3" cy="57.9" r="0.9"/><circle cx="628.3" cy="64.3" r="0.6"/><circle cx="636.7" cy="56.1" r="0.7"/><circle cx="633.3" cy="58.1" r="1.1"/><circle cx="638.7" cy="72.7" r="0.7"/><circle cx="634.3" cy="58.5" r="1.0"/><circle cx="629.8" cy="58.4" r="1.1"/><circle cx="638.4" cy="76.4" r="0.8"/><circle cx="630.6" cy="66.4" r="1.0"/><circle cx="635.5" cy="60.9" r="1.1"/><circle cx="648.3" cy="62.9" r="1.0"/><circle cx="639.1" cy="57.8" r="1.2"/><circle cx="639.9" cy="60.9" r="0.8"/><circle cx="634.6" cy="60.3" r="1.2"/><circle cx="646.6" cy="63.0" r="0.8"/><circle cx="620.0" cy="57.8" r="0.8"/><circle cx="646.5" cy="65.2" r="0.7"/><circle cx="638.6" cy="73.0" r="1.1"/><circle cx="626.3" cy="60.5" r="1.1"/><circle cx="640.5" cy="59.8" r="0.7"/><circle cx="621.8" cy="60.4" r="0.8"/><circle cx="628.8" cy="67.2" r="1.2"/><circle cx="630.0" cy="60.9" r="1.2"/><circle cx="647.5" cy="63.1" r="0.7"/><circle cx="629.8" cy="69.5" r="0.7"/><circle cx="635.1" cy="61.7" r="0.9"/><circle cx="631.6" cy="61.6" r="0.6"/><circle cx="626.4" cy="66.8" r="1.2"/><circle cx="632.0" cy="58.8" r="0.6"/><circle cx="646.3" cy="55.5" r="0.8"/><circle cx="639.8" cy="67.6" r="0.7"/><circle cx="625.8" cy="64.8" r="1.1"/><circle cx="637.9" cy="73.2" r="0.8"/><circle cx="640.9" cy="59.2" r="1.1"/><circle cx="621.1" cy="60.5" r="1.1"/><circle cx="629.8" cy="68.8" r="1.0"/><circle cx="624.3" cy="59.2" r="1.1"/><circle cx="631.8" cy="70.2" r="0.9"/><circle cx="631.0" cy="57.7" r="0.6"/><circle cx="627.9" cy="67.4" r="1.2"/><circle cx="641.1" cy="55.9" r="0.8"/><circle cx="648.6" cy="59.2" r="1.1"/><circle cx="640.5" cy="62.0" r="0.7"/><circle cx="647.3" cy="65.8" r="0.8"/><circle cx="630.1" cy="64.6" r="0.9"/><circle cx="624.0" cy="68.1" r="1.0"/><circle cx="645.4" cy="70.0" r="0.6"/><circle cx="638.0" cy="60.3" r="0.7"/><circle cx="634.3" cy="65.7" r="1.2"/><circle cx="627.2" cy="56.9" r="0.9"/><circle cx="641.5" cy="64.7" r="1.1"/><circle cx="640.9" cy="70.6" r="0.9"/><circle cx="630.3" cy="55.1" r="1.1"/><circle cx="631.1" cy="71.2" r="0.8"/><circle cx="634.9" cy="60.7" r="1.1"/><circle cx="633.6" cy="55.5" r="0.8"/><circle cx="630.6" cy="63.4" r="1.0"/><circle cx="643.0" cy="56.1" r="1.0"/><circle cx="631.5" cy="77.4" r="1.1"/><circle cx="626.7" cy="52.9" r="1.0"/><circle cx="641.5" cy="59.9" r="0.6"/><circle cx="632.6" cy="58.0" r="0.7"/><circle cx="623.6" cy="53.8" r="1.2"/><circle cx="630.5" cy="68.9" r="0.8"/><circle cx="642.6" cy="59.4" r="0.8"/><circle cx="642.7" cy="72.5" r="0.6"/><circle cx="644.8" cy="69.2" r="0.6"/><circle cx="629.4" cy="77.8" r="1.1"/><circle cx="628.3" cy="74.5" r="0.7"/><circle cx="623.0" cy="72.9" r="1.0"/><circle cx="639.1" cy="56.5" r="0.7"/><circle cx="635.6" cy="69.6" r="0.9"/><circle cx="631.3" cy="75.7" r="1.0"/><circle cx="632.1" cy="66.0" r="0.8"/><circle cx="638.6" cy="63.4" r="1.1"/><circle cx="642.1" cy="69.0" r="0.6"/><circle cx="639.7" cy="57.4" r="1.0"/><circle cx="634.3" cy="68.0" r="0.9"/><circle cx="647.6" cy="64.0" r="0.8"/><circle cx="640.9" cy="55.9" r="1.0"/><circle cx="644.2" cy="74.8" r="1.2"/><circle cx="634.7" cy="61.5" r="1.1"/><circle cx="626.2" cy="60.4" r="1.1"/><circle cx="641.2" cy="71.4" r="0.7"/><circle cx="619.3" cy="63.3" r="0.8"/><circle cx="635.3" cy="61.3" r="0.7"/><circle cx="623.9" cy="71.6" r="1.1"/><circle cx="622.3" cy="71.7" r="0.8"/><circle cx="627.5" cy="60.0" r="0.8"/><circle cx="630.3" cy="65.6" r="1.1"/><circle cx="630.0" cy="61.2" r="0.8"/><circle cx="635.8" cy="60.7" r="0.9"/><circle cx="636.8" cy="59.4" r="1.0"/><circle cx="634.6" cy="58.1" r="0.9"/><circle cx="642.0" cy="68.6" r="1.1"/><circle cx="632.2" cy="55.4" r="0.8"/><circle cx="647.7" cy="71.2" r="1.2"/><circle cx="620.7" cy="69.0" r="0.9"/><circle cx="631.9" cy="72.4" r="1.1"/><circle cx="647.3" cy="58.2" r="0.6"/><circle cx="623.2" cy="61.4" r="0.7"/><circle cx="618.5" cy="63.6" r="0.9"/><circle cx="648.1" cy="58.4" r="1.0"/><circle cx="623.6" cy="70.0" r="0.7"/><circle cx="630.9" cy="65.3" r="0.6"/><circle cx="621.6" cy="66.7" r="0.9"/><circle cx="640.6" cy="62.2" r="0.9"/><circle cx="639.6" cy="71.6" r="0.8"/><circle cx="635.2" cy="60.6" r="1.2"/><circle cx="625.2" cy="58.5" r="1.1"/><circle cx="644.3" cy="57.0" r="0.7"/><circle cx="632.1" cy="71.9" r="1.1"/><circle cx="630.1" cy="68.2" r="0.8"/><circle cx="638.1" cy="77.8" r="1.1"/><circle cx="629.9" cy="59.4" r="0.8"/><circle cx="641.9" cy="54.0" r="0.9"/><circle cx="644.2" cy="59.2" r="0.7"/><circle cx="643.0" cy="58.9" r="1.0"/><circle cx="629.6" cy="54.2" r="0.6"/><circle cx="630.6" cy="72.7" r="0.9"/><circle cx="641.0" cy="58.4" r="1.0"/><circle cx="637.9" cy="67.2" r="0.7"/><circle cx="638.0" cy="76.2" r="1.1"/><circle cx="621.0" cy="58.1" r="0.8"/><circle cx="631.4" cy="60.6" r="0.9"/><circle cx="633.8" cy="58.4" r="1.0"/><circle cx="641.4" cy="74.2" r="0.8"/><circle cx="630.9" cy="60.4" r="0.8"/><circle cx="634.9" cy="59.1" r="1.0"/><circle cx="639.3" cy="66.3" r="0.9"/><circle cx="628.8" cy="58.9" r="0.7"/><circle cx="641.4" cy="57.3" r="0.8"/><circle cx="632.5" cy="66.0" r="0.9"/><circle cx="643.4" cy="53.0" r="1.1"/><circle cx="638.9" cy="59.6" r="0.6"/><circle cx="644.1" cy="65.7" r="0.7"/><circle cx="644.8" cy="54.0" r="0.9"/><circle cx="632.9" cy="63.2" r="0.8"/><circle cx="619.9" cy="68.8" r="0.9"/><circle cx="627.3" cy="59.4" r="1.0"/><circle cx="637.3" cy="56.7" r="0.6"/><circle cx="635.7" cy="69.0" r="1.2"/><circle cx="631.0" cy="61.5" r="0.6"/><circle cx="628.6" cy="73.2" r="0.7"/><circle cx="638.3" cy="67.4" r="1.1"/><circle cx="636.5" cy="55.3" r="0.8"/><circle cx="632.6" cy="50.5" r="0.8"/><circle cx="634.2" cy="64.9" r="1.0"/><circle cx="623.3" cy="72.0" r="0.7"/><circle cx="638.4" cy="55.1" r="0.8"/><circle cx="630.6" cy="53.8" r="0.8"/><circle cx="644.2" cy="55.4" r="0.9"/><circle cx="633.1" cy="68.6" r="0.7"/><circle cx="643.0" cy="63.7" r="1.0"/><circle cx="625.1" cy="64.0" r="0.6"/><circle cx="628.5" cy="74.6" r="0.9"/><circle cx="645.0" cy="55.5" r="1.2"/><circle cx="642.1" cy="72.8" r="0.9"/><circle cx="623.5" cy="68.4" r="1.0"/><circle cx="631.3" cy="66.7" r="0.8"/><circle cx="631.9" cy="77.3" r="1.1"/><circle cx="630.0" cy="63.1" r="1.2"/><circle cx="646.4" cy="56.8" r="0.8"/><circle cx="632.7" cy="70.8" r="0.9"/><circle cx="634.5" cy="67.1" r="0.6"/><circle cx="639.9" cy="57.3" r="0.9"/><circle cx="625.6" cy="55.9" r="1.1"/><circle cx="633.5" cy="54.8" r="0.7"/><circle cx="623.8" cy="67.6" r="0.8"/><circle cx="633.2" cy="58.3" r="0.6"/><circle cx="647.5" cy="60.3" r="1.2"/><circle cx="635.6" cy="51.2" r="0.8"/><circle cx="641.5" cy="58.3" r="1.0"/><circle cx="639.1" cy="65.6" r="1.0"/><circle cx="627.2" cy="55.6" r="0.9"/><circle cx="631.0" cy="62.9" r="0.9"/><circle cx="631.5" cy="52.8" r="0.8"/><circle cx="636.7" cy="50.8" r="0.9"/><circle cx="646.7" cy="70.1" r="1.0"/><circle cx="632.4" cy="65.7" r="1.0"/><circle cx="641.7" cy="57.7" r="0.8"/></g><g fill="#28c0ff"><circle cx="642.8" cy="62.3" r="0.9"/><circle cx="633.0" cy="65.5" r="0.6"/><circle cx="626.9" cy="68.3" r="0.9"/><circle cx="627.6" cy="58.6" r="1.0"/><circle cx="644.6" cy="59.9" r="0.8"/><circle cx="636.3" cy="71.5" r="1.1"/><circle cx="635.2" cy="64.6" r="0.8"/><circle cx="625.0" cy="75.5" r="1.1"/><circle cx="644.9" cy="53.4" r="0.7"/><circle cx="634.6" cy="54.5" r="1.2"/><circle cx="626.5" cy="68.7" r="1.0"/><circle cx="623.6" cy="64.1" r="0.8"/><circle cx="630.6" cy="68.1" r="1.0"/><circle cx="634.2" cy="66.7" r="0.6"/><circle cx="628.9" cy="68.1" r="0.9"/><circle cx="641.2" cy="57.5" r="0.7"/><circle cx="629.6" cy="51.7" r="1.1"/><circle cx="630.8" cy="75.9" r="0.8"/><circle cx="637.1" cy="74.3" r="0.7"/><circle cx="628.9" cy="61.6" r="1.0"/><circle cx="619.9" cy="62.2" r="1.0"/><circle cx="645.2" cy="70.2" r="1.1"/><circle cx="634.0" cy="56.1" r="0.8"/><circle cx="637.4" cy="65.7" r="1.0"/><circle cx="628.3" cy="57.0" r="0.7"/><circle cx="639.7" cy="60.7" r="1.1"/><circle cx="634.1" cy="51.5" r="1.0"/><circle cx="628.5" cy="57.8" r="1.0"/><circle cx="647.7" cy="56.9" r="0.8"/><circle cx="633.7" cy="62.6" r="1.1"/><circle cx="644.2" cy="65.0" r="0.7"/><circle cx="633.4" cy="74.7" r="0.9"/><circle cx="639.5" cy="66.3" r="0.9"/><circle cx="626.8" cy="65.2" r="0.7"/><circle cx="633.1" cy="62.3" r="0.8"/><circle cx="630.9" cy="71.9" r="1.0"/><circle cx="624.1" cy="69.1" r="0.7"/><circle cx="649.1" cy="60.0" r="0.7"/><circle cx="637.5" cy="55.8" r="1.2"/><circle cx="623.4" cy="72.2" r="0.8"/><circle cx="630.6" cy="65.3" r="0.9"/><circle cx="626.0" cy="57.7" r="1.0"/><circle cx="635.4" cy="70.7" r="0.7"/><circle cx="647.8" cy="69.5" r="0.9"/><circle cx="631.8" cy="58.1" r="1.1"/><circle cx="638.1" cy="54.5" r="1.2"/><circle cx="644.6" cy="64.0" r="0.7"/><circle cx="641.7" cy="61.4" r="0.7"/><circle cx="648.3" cy="67.5" r="1.1"/><circle cx="621.0" cy="59.9" r="0.8"/><circle cx="636.1" cy="63.1" r="0.7"/><circle cx="638.1" cy="63.7" r="0.9"/><circle cx="630.4" cy="59.8" r="0.6"/><circle cx="626.0" cy="65.6" r="1.1"/><circle cx="637.7" cy="65.4" r="0.9"/><circle cx="632.5" cy="61.9" r="1.0"/><circle cx="641.0" cy="58.2" r="1.1"/><circle cx="642.5" cy="74.3" r="0.8"/><circle cx="648.0" cy="64.6" r="0.9"/><circle cx="639.7" cy="65.6" r="1.0"/><circle cx="635.4" cy="52.7" r="1.1"/><circle cx="638.3" cy="74.7" r="0.7"/><circle cx="638.8" cy="54.3" r="0.7"/><circle cx="641.8" cy="75.4" r="0.9"/><circle cx="643.1" cy="67.2" r="0.9"/><circle cx="637.0" cy="74.8" r="1.0"/><circle cx="646.1" cy="71.7" r="1.0"/><circle cx="633.2" cy="66.6" r="0.9"/><circle cx="637.6" cy="60.9" r="1.2"/><circle cx="627.0" cy="72.1" r="0.8"/><circle cx="643.0" cy="72.9" r="1.2"/><circle cx="641.7" cy="65.2" r="0.9"/><circle cx="628.7" cy="60.0" r="1.1"/><circle cx="636.2" cy="55.5" r="1.1"/><circle cx="623.7" cy="60.0" r="0.8"/><circle cx="633.7" cy="70.6" r="0.7"/><circle cx="633.2" cy="59.7" r="0.7"/><circle cx="648.2" cy="61.1" r="1.1"/><circle cx="639.0" cy="59.6" r="1.1"/><circle cx="629.3" cy="50.4" r="0.7"/><circle cx="647.0" cy="72.1" r="1.1"/><circle cx="640.4" cy="71.4" r="0.8"/><circle cx="634.3" cy="64.3" r="0.7"/><circle cx="647.8" cy="60.8" r="0.7"/><circle cx="634.3" cy="62.3" r="0.6"/><circle cx="630.9" cy="62.9" r="1.2"/><circle cx="646.4" cy="58.7" r="1.0"/><circle cx="631.7" cy="65.4" r="1.2"/><circle cx="639.3" cy="50.8" r="1.1"/><circle cx="639.5" cy="62.7" r="0.7"/><circle cx="621.7" cy="66.1" r="1.0"/><circle cx="640.1" cy="59.7" r="0.9"/><circle cx="641.8" cy="61.2" r="1.1"/><circle cx="636.4" cy="74.4" r="1.1"/><circle cx="628.9" cy="52.4" r="0.7"/><circle cx="642.5" cy="54.2" r="0.9"/><circle cx="646.8" cy="62.6" r="0.9"/><circle cx="632.3" cy="50.7" r="1.0"/><circle cx="633.6" cy="62.3" r="0.9"/><circle cx="646.3" cy="68.7" r="0.8"/><circle cx="631.8" cy="64.6" r="1.1"/><circle cx="636.1" cy="68.4" r="0.8"/><circle cx="648.9" cy="65.1" r="0.9"/><circle cx="635.4" cy="63.9" r="0.6"/><circle cx="622.2" cy="68.7" r="1.1"/><circle cx="643.0" cy="58.5" r="0.8"/><circle cx="644.0" cy="69.8" r="1.0"/><circle cx="637.4" cy="59.1" r="0.8"/><circle cx="637.0" cy="56.3" r="0.8"/><circle cx="633.2" cy="63.6" r="1.0"/><circle cx="618.8" cy="68.3" r="1.0"/><circle cx="625.0" cy="73.5" r="0.9"/><circle cx="641.5" cy="58.9" r="0.9"/><circle cx="640.8" cy="63.9" r="1.1"/><circle cx="640.5" cy="63.2" r="0.7"/><circle cx="629.2" cy="71.2" r="1.2"/><circle cx="639.1" cy="49.8" r="1.2"/><circle cx="640.7" cy="59.2" r="0.6"/><circle cx="640.5" cy="61.6" r="0.8"/><circle cx="637.4" cy="60.9" r="0.6"/><circle cx="623.4" cy="53.9" r="0.8"/><circle cx="622.8" cy="69.2" r="1.0"/><circle cx="638.0" cy="58.0" r="0.7"/><circle cx="634.0" cy="55.4" r="0.7"/><circle cx="647.1" cy="58.2" r="1.2"/><circle cx="635.9" cy="64.0" r="1.0"/><circle cx="632.2" cy="78.1" r="1.1"/><circle cx="637.4" cy="65.0" r="1.0"/><circle cx="633.2" cy="65.3" r="0.7"/><circle cx="632.1" cy="71.8" r="0.8"/><circle cx="625.8" cy="74.7" r="0.9"/><circle cx="641.0" cy="58.4" r="1.1"/><circle cx="644.1" cy="66.4" r="0.9"/><circle cx="633.1" cy="49.8" r="0.7"/><circle cx="622.7" cy="67.3" r="1.0"/><circle cx="646.2" cy="64.1" r="0.7"/><circle cx="619.0" cy="62.0" r="1.1"/><circle cx="638.6" cy="64.4" r="0.7"/><circle cx="635.3" cy="66.1" r="0.6"/><circle cx="626.6" cy="60.6" r="0.7"/><circle cx="626.0" cy="68.2" r="0.8"/><circle cx="633.9" cy="54.4" r="0.7"/><circle cx="638.2" cy="77.9" r="0.7"/><circle cx="627.6" cy="50.9" r="0.9"/><circle cx="624.0" cy="56.0" r="0.7"/><circle cx="633.6" cy="71.5" r="1.2"/><circle cx="627.0" cy="66.2" r="0.9"/><circle cx="624.1" cy="59.7" r="1.1"/><circle cx="647.9" cy="65.2" r="1.0"/><circle cx="641.5" cy="64.7" r="1.2"/><circle cx="631.5" cy="65.9" r="1.1"/><circle cx="637.7" cy="56.1" r="0.9"/><circle cx="644.0" cy="53.3" r="0.6"/><circle cx="642.2" cy="62.8" r="0.6"/><circle cx="637.8" cy="75.4" r="1.1"/><circle cx="641.9" cy="63.2" r="1.2"/></g><g fill="#40e0e8"><circle cx="632.1" cy="63.8" r="0.9"/><circle cx="636.6" cy="77.2" r="1.2"/><circle cx="643.6" cy="68.8" r="1.0"/><circle cx="644.6" cy="66.7" r="0.9"/><circle cx="638.2" cy="57.7" r="0.7"/><circle cx="622.9" cy="55.9" r="0.8"/><circle cx="645.6" cy="64.8" r="0.9"/><circle cx="645.0" cy="58.0" r="0.9"/><circle cx="632.6" cy="65.8" r="1.0"/><circle cx="640.4" cy="55.5" r="0.8"/><circle cx="643.7" cy="68.5" r="1.0"/><circle cx="649.2" cy="64.3" r="0.7"/><circle cx="634.2" cy="63.6" r="0.7"/><circle cx="637.8" cy="69.4" r="1.1"/><circle cx="632.8" cy="56.6" r="1.2"/><circle cx="638.3" cy="53.6" r="0.7"/><circle cx="630.6" cy="53.0" r="0.9"/><circle cx="630.0" cy="60.4" r="0.8"/><circle cx="637.5" cy="54.3" r="0.8"/><circle cx="623.9" cy="54.1" r="0.8"/><circle cx="631.6" cy="59.8" r="1.0"/><circle cx="627.2" cy="61.7" r="1.2"/><circle cx="627.1" cy="53.3" r="0.9"/><circle cx="629.3" cy="56.4" r="0.9"/><circle cx="629.4" cy="67.2" r="0.9"/><circle cx="642.6" cy="65.5" r="0.7"/><circle cx="636.0" cy="71.4" r="0.8"/><circle cx="642.6" cy="55.3" r="0.8"/><circle cx="623.3" cy="70.6" r="0.7"/><circle cx="646.2" cy="61.1" r="0.9"/><circle cx="629.2" cy="52.0" r="1.2"/><circle cx="630.7" cy="74.2" r="0.9"/><circle cx="632.6" cy="71.3" r="1.1"/><circle cx="642.6" cy="61.3" r="1.1"/><circle cx="637.4" cy="72.7" r="1.1"/><circle cx="626.5" cy="74.9" r="1.1"/><circle cx="640.6" cy="60.3" r="0.9"/><circle cx="627.2" cy="64.6" r="0.7"/><circle cx="645.0" cy="74.4" r="1.2"/><circle cx="645.9" cy="69.6" r="0.8"/><circle cx="642.1" cy="57.2" r="0.9"/><circle cx="637.2" cy="53.3" r="1.1"/><circle cx="620.5" cy="68.3" r="0.8"/><circle cx="646.6" cy="67.2" r="0.9"/><circle cx="646.2" cy="56.0" r="0.7"/><circle cx="626.3" cy="62.0" r="1.2"/><circle cx="631.8" cy="56.1" r="1.0"/><circle cx="634.9" cy="77.3" r="0.8"/><circle cx="645.0" cy="63.9" r="1.1"/><circle cx="626.4" cy="64.1" r="1.0"/><circle cx="634.0" cy="71.8" r="0.9"/><circle cx="633.2" cy="67.4" r="0.7"/><circle cx="630.7" cy="57.4" r="0.8"/><circle cx="638.9" cy="66.0" r="1.1"/><circle cx="633.5" cy="65.8" r="0.9"/><circle cx="627.8" cy="58.0" r="1.0"/><circle cx="630.5" cy="66.1" r="0.8"/><circle cx="645.8" cy="64.6" r="1.0"/><circle cx="632.1" cy="72.8" r="0.9"/><circle cx="641.9" cy="70.8" r="1.2"/><circle cx="628.0" cy="69.2" r="0.7"/><circle cx="639.4" cy="53.9" r="1.0"/><circle cx="633.3" cy="69.4" r="1.0"/><circle cx="641.1" cy="52.5" r="0.9"/><circle cx="627.3" cy="71.5" r="0.8"/><circle cx="649.3" cy="64.3" r="1.1"/><circle cx="637.0" cy="76.7" r="1.0"/><circle cx="637.0" cy="49.6" r="1.2"/><circle cx="626.9" cy="71.1" r="1.1"/><circle cx="632.2" cy="73.3" r="0.8"/><circle cx="640.7" cy="70.2" r="0.6"/><circle cx="635.7" cy="54.6" r="0.8"/><circle cx="630.5" cy="61.6" r="1.0"/><circle cx="643.5" cy="72.8" r="0.9"/><circle cx="629.0" cy="59.4" r="0.7"/><circle cx="644.8" cy="67.3" r="1.0"/><circle cx="630.3" cy="52.3" r="0.8"/><circle cx="630.4" cy="75.6" r="0.8"/><circle cx="639.7" cy="68.2" r="0.6"/><circle cx="621.1" cy="58.0" r="0.7"/><circle cx="624.5" cy="66.0" r="1.0"/><circle cx="625.7" cy="75.4" r="1.0"/><circle cx="631.4" cy="69.5" r="0.6"/><circle cx="642.3" cy="59.5" r="0.7"/><circle cx="635.6" cy="70.1" r="1.1"/><circle cx="632.2" cy="66.6" r="0.9"/><circle cx="644.1" cy="62.1" r="0.9"/><circle cx="642.6" cy="65.7" r="0.9"/><circle cx="622.5" cy="62.1" r="0.7"/><circle cx="632.6" cy="67.1" r="0.8"/><circle cx="641.0" cy="57.8" r="0.8"/><circle cx="622.8" cy="67.2" r="1.1"/><circle cx="645.8" cy="62.2" r="0.7"/><circle cx="641.6" cy="56.1" r="0.7"/><circle cx="645.6" cy="69.5" r="0.8"/><circle cx="635.2" cy="58.4" r="0.8"/><circle cx="636.4" cy="63.7" r="0.6"/><circle cx="633.3" cy="62.1" r="0.6"/><circle cx="642.0" cy="67.9" r="1.1"/><circle cx="635.7" cy="70.8" r="1.2"/><circle cx="633.0" cy="62.6" r="0.9"/><circle cx="637.0" cy="58.9" r="0.8"/><circle cx="621.4" cy="68.2" r="0.8"/><circle cx="640.5" cy="62.8" r="0.9"/><circle cx="633.8" cy="74.5" r="1.0"/><circle cx="633.7" cy="70.1" r="0.9"/><circle cx="632.1" cy="50.8" r="0.8"/><circle cx="642.8" cy="73.5" r="0.6"/><circle cx="645.7" cy="61.9" r="0.7"/><circle cx="645.4" cy="64.9" r="1.0"/><circle cx="645.5" cy="56.5" r="0.7"/><circle cx="636.3" cy="49.9" r="0.7"/><circle cx="637.9" cy="65.1" r="1.1"/><circle cx="626.9" cy="72.4" r="0.8"/><circle cx="635.5" cy="72.9" r="0.8"/><circle cx="644.5" cy="55.2" r="0.9"/><circle cx="647.1" cy="72.3" r="0.7"/><circle cx="642.6" cy="61.0" r="1.0"/><circle cx="629.4" cy="71.9" r="1.0"/><circle cx="640.4" cy="59.1" r="1.1"/><circle cx="641.8" cy="54.3" r="0.7"/><circle cx="629.3" cy="56.7" r="1.2"/><circle cx="625.0" cy="69.2" r="0.8"/><circle cx="643.5" cy="57.6" r="1.2"/><circle cx="635.3" cy="58.3" r="1.0"/><circle cx="643.1" cy="66.1" r="0.8"/><circle cx="643.6" cy="67.2" r="1.1"/><circle cx="629.6" cy="54.3" r="1.0"/><circle cx="631.7" cy="54.6" r="0.8"/><circle cx="646.5" cy="61.3" r="0.7"/><circle cx="640.4" cy="58.0" r="1.1"/><circle cx="624.5" cy="74.0" r="0.8"/><circle cx="632.9" cy="53.4" r="1.2"/><circle cx="628.7" cy="62.9" r="0.8"/><circle cx="635.8" cy="61.7" r="1.2"/><circle cx="641.3" cy="71.5" r="0.8"/><circle cx="648.9" cy="64.3" r="0.7"/><circle cx="638.9" cy="66.0" r="0.8"/><circle cx="631.5" cy="56.7" r="0.7"/><circle cx="624.0" cy="73.4" r="1.0"/><circle cx="643.4" cy="59.0" r="0.6"/><circle cx="646.7" cy="58.1" r="1.0"/><circle cx="649.6" cy="65.6" r="1.0"/><circle cx="637.6" cy="71.0" r="0.6"/><circle cx="646.9" cy="67.8" r="0.7"/><circle cx="629.5" cy="73.7" r="1.1"/><circle cx="628.5" cy="66.0" r="0.9"/><circle cx="639.9" cy="73.1" r="1.1"/><circle cx="634.3" cy="56.4" r="0.8"/><circle cx="628.3" cy="55.5" r="1.0"/><circle cx="646.8" cy="67.7" r="0.6"/><circle cx="631.6" cy="69.7" r="0.7"/><circle cx="636.8" cy="57.4" r="0.7"/><circle cx="644.1" cy="69.0" r="1.2"/><circle cx="630.8" cy="56.2" r="0.7"/><circle cx="628.2" cy="58.4" r="1.0"/><circle cx="641.1" cy="56.6" r="0.8"/><circle cx="634.6" cy="59.6" r="1.2"/><circle cx="620.5" cy="62.6" r="0.7"/><circle cx="619.3" cy="69.4" r="1.1"/><circle cx="634.5" cy="59.5" r="1.2"/><circle cx="640.4" cy="66.9" r="0.6"/><circle cx="641.8" cy="59.0" r="0.8"/><circle cx="632.6" cy="66.9" r="1.1"/><circle cx="637.0" cy="50.5" r="0.6"/><circle cx="639.6" cy="63.4" r="0.9"/><circle cx="648.8" cy="66.1" r="0.8"/><circle cx="620.4" cy="65.5" r="0.8"/><circle cx="619.2" cy="62.0" r="0.6"/><circle cx="634.8" cy="69.3" r="0.6"/><circle cx="644.7" cy="74.8" r="0.7"/><circle cx="645.8" cy="59.6" r="0.9"/><circle cx="641.9" cy="57.7" r="1.0"/><circle cx="647.4" cy="58.8" r="1.0"/><circle cx="635.3" cy="64.1" r="0.6"/><circle cx="623.7" cy="66.1" r="0.7"/><circle cx="643.6" cy="61.1" r="0.6"/><circle cx="635.5" cy="54.3" r="0.8"/><circle cx="625.7" cy="65.4" r="0.6"/><circle cx="627.0" cy="77.1" r="0.7"/><circle cx="644.4" cy="67.4" r="1.2"/><circle cx="641.6" cy="61.8" r="0.8"/><circle cx="630.0" cy="64.5" r="1.1"/><circle cx="637.4" cy="51.2" r="0.8"/><circle cx="635.2" cy="73.3" r="0.9"/><circle cx="626.5" cy="75.3" r="1.2"/><circle cx="628.5" cy="68.6" r="1.0"/><circle cx="636.3" cy="72.6" r="0.9"/></g><g fill="#20a8ff"><circle cx="641.7" cy="76.2" r="0.9"/><circle cx="623.0" cy="66.8" r="1.1"/><circle cx="643.3" cy="61.9" r="1.1"/><circle cx="624.5" cy="61.3" r="0.8"/><circle cx="643.4" cy="60.3" r="1.0"/><circle cx="629.2" cy="62.0" r="1.1"/><circle cx="628.4" cy="51.4" r="1.0"/><circle cx="628.8" cy="69.4" r="0.6"/><circle cx="623.5" cy="71.2" r="0.7"/><circle cx="633.3" cy="61.7" r="0.9"/><circle cx="642.9" cy="75.8" r="1.0"/><circle cx="630.4" cy="70.6" r="0.7"/><circle cx="620.3" cy="60.1" r="1.0"/><circle cx="627.4" cy="61.9" r="0.7"/><circle cx="633.2" cy="68.9" r="1.0"/><circle cx="641.0" cy="60.6" r="1.2"/><circle cx="629.9" cy="73.6" r="1.2"/><circle cx="633.1" cy="57.6" r="0.7"/><circle cx="641.0" cy="70.5" r="1.1"/><circle cx="634.0" cy="56.1" r="0.7"/><circle cx="633.5" cy="67.6" r="1.1"/><circle cx="619.0" cy="63.8" r="0.8"/><circle cx="642.7" cy="62.6" r="0.7"/><circle cx="635.9" cy="77.9" r="1.2"/><circle cx="622.3" cy="59.0" r="0.9"/><circle cx="643.1" cy="56.1" r="0.8"/><circle cx="626.7" cy="68.8" r="0.7"/><circle cx="635.1" cy="52.6" r="1.2"/><circle cx="648.5" cy="57.9" r="0.8"/><circle cx="623.5" cy="72.6" r="0.9"/><circle cx="647.1" cy="59.9" r="0.6"/><circle cx="643.8" cy="53.6" r="1.0"/><circle cx="629.5" cy="66.9" r="1.1"/><circle cx="639.9" cy="77.9" r="0.9"/><circle cx="630.9" cy="59.3" r="0.6"/><circle cx="639.3" cy="78.1" r="1.0"/><circle cx="630.4" cy="57.7" r="0.9"/><circle cx="636.7" cy="53.3" r="1.2"/><circle cx="640.3" cy="51.8" r="0.8"/><circle cx="637.0" cy="77.7" r="0.8"/><circle cx="634.3" cy="66.4" r="0.7"/><circle cx="644.8" cy="70.0" r="1.2"/><circle cx="628.6" cy="59.2" r="0.9"/><circle cx="633.9" cy="59.5" r="0.9"/><circle cx="630.4" cy="59.1" r="0.9"/><circle cx="635.6" cy="51.4" r="1.1"/><circle cx="634.8" cy="65.4" r="0.8"/><circle cx="618.4" cy="60.7" r="1.0"/><circle cx="645.6" cy="56.0" r="1.0"/><circle cx="634.5" cy="57.9" r="1.0"/><circle cx="628.9" cy="63.9" r="0.9"/><circle cx="629.0" cy="68.8" r="0.8"/><circle cx="631.3" cy="53.6" r="0.6"/><circle cx="631.7" cy="51.0" r="1.2"/><circle cx="640.7" cy="67.3" r="0.7"/><circle cx="642.3" cy="70.2" r="0.8"/><circle cx="645.0" cy="65.8" r="0.9"/><circle cx="640.0" cy="75.9" r="0.6"/><circle cx="645.2" cy="70.4" r="0.8"/><circle cx="640.1" cy="59.6" r="1.0"/><circle cx="648.9" cy="68.4" r="0.9"/><circle cx="639.3" cy="62.7" r="0.9"/><circle cx="643.4" cy="63.1" r="1.0"/><circle cx="635.9" cy="70.1" r="1.0"/><circle cx="628.3" cy="76.5" r="0.9"/><circle cx="621.6" cy="70.0" r="1.1"/><circle cx="630.3" cy="75.2" r="1.1"/><circle cx="646.9" cy="60.1" r="1.2"/><circle cx="623.6" cy="67.0" r="0.9"/><circle cx="632.5" cy="77.8" r="0.7"/><circle cx="630.3" cy="60.8" r="1.1"/><circle cx="641.4" cy="64.3" r="0.6"/><circle cx="635.3" cy="61.8" r="0.7"/><circle cx="623.9" cy="69.9" r="1.1"/><circle cx="632.3" cy="58.5" r="1.1"/><circle cx="642.5" cy="65.4" r="0.7"/><circle cx="639.4" cy="50.7" r="1.0"/><circle cx="640.7" cy="71.0" r="1.2"/><circle cx="629.9" cy="63.3" r="1.0"/><circle cx="640.2" cy="53.2" r="0.7"/><circle cx="628.3" cy="66.2" r="1.0"/><circle cx="641.6" cy="51.5" r="0.9"/><circle cx="630.4" cy="73.2" r="0.7"/><circle cx="635.7" cy="50.3" r="0.8"/><circle cx="634.3" cy="55.1" r="1.1"/><circle cx="624.3" cy="65.7" r="1.1"/><circle cx="637.4" cy="68.2" r="1.1"/><circle cx="632.6" cy="63.2" r="1.2"/><circle cx="628.8" cy="75.3" r="1.1"/><circle cx="630.8" cy="72.6" r="1.1"/><circle cx="628.6" cy="64.6" r="0.9"/><circle cx="639.4" cy="59.5" r="1.1"/><circle cx="641.1" cy="58.9" r="0.8"/><circle cx="633.2" cy="75.2" r="0.7"/><circle cx="639.9" cy="60.0" r="0.8"/><circle cx="636.8" cy="78.6" r="1.1"/><circle cx="620.0" cy="62.1" r="1.0"/><circle cx="637.1" cy="61.9" r="1.0"/><circle cx="630.1" cy="68.1" r="1.2"/><circle cx="630.2" cy="58.3" r="0.9"/><circle cx="634.1" cy="53.2" r="0.9"/><circle cx="626.0" cy="59.9" r="0.9"/><circle cx="638.2" cy="69.5" r="0.8"/><circle cx="637.9" cy="61.5" r="1.0"/><circle cx="625.3" cy="54.9" r="1.0"/><circle cx="640.5" cy="63.2" r="1.1"/><circle cx="624.5" cy="54.8" r="0.6"/><circle cx="632.6" cy="67.8" r="0.6"/><circle cx="632.5" cy="75.7" r="0.9"/><circle cx="626.3" cy="73.2" r="0.9"/><circle cx="640.2" cy="58.2" r="0.6"/><circle cx="639.5" cy="50.1" r="1.0"/><circle cx="636.8" cy="68.4" r="0.8"/><circle cx="641.5" cy="70.3" r="0.8"/><circle cx="643.5" cy="73.5" r="1.1"/><circle cx="631.9" cy="76.2" r="1.2"/><circle cx="624.6" cy="74.6" r="0.6"/><circle cx="627.3" cy="67.1" r="0.9"/><circle cx="644.0" cy="68.1" r="0.8"/><circle cx="625.6" cy="56.6" r="1.2"/><circle cx="632.8" cy="62.2" r="0.7"/><circle cx="627.1" cy="57.8" r="0.9"/><circle cx="631.1" cy="74.5" r="1.1"/><circle cx="629.4" cy="52.9" r="1.1"/><circle cx="634.1" cy="70.7" r="1.2"/><circle cx="632.3" cy="59.6" r="0.9"/><circle cx="647.4" cy="62.3" r="1.2"/><circle cx="623.9" cy="69.0" r="1.1"/><circle cx="627.8" cy="71.8" r="1.0"/><circle cx="619.7" cy="67.0" r="1.0"/><circle cx="625.5" cy="70.5" r="1.2"/><circle cx="647.3" cy="62.5" r="0.9"/><circle cx="629.7" cy="63.3" r="0.8"/><circle cx="626.4" cy="65.5" r="0.8"/><circle cx="623.0" cy="72.8" r="0.8"/><circle cx="633.6" cy="71.6" r="1.1"/><circle cx="630.5" cy="64.1" r="1.0"/><circle cx="636.6" cy="50.9" r="0.6"/><circle cx="629.9" cy="52.4" r="0.6"/><circle cx="641.8" cy="66.3" r="0.9"/><circle cx="624.4" cy="67.9" r="1.2"/><circle cx="647.7" cy="61.5" r="1.1"/><circle cx="648.4" cy="59.7" r="1.0"/><circle cx="623.1" cy="68.2" r="0.9"/><circle cx="642.2" cy="60.8" r="1.1"/><circle cx="638.2" cy="51.8" r="0.9"/><circle cx="636.0" cy="72.6" r="0.7"/><circle cx="630.5" cy="66.7" r="0.7"/><circle cx="627.7" cy="57.5" r="0.9"/><circle cx="632.8" cy="66.9" r="0.6"/><circle cx="623.0" cy="68.4" r="0.6"/><circle cx="635.6" cy="67.9" r="1.0"/><circle cx="639.5" cy="54.4" r="1.2"/><circle cx="634.8" cy="67.6" r="0.9"/><circle cx="640.6" cy="71.9" r="0.9"/><circle cx="628.3" cy="59.7" r="1.1"/><circle cx="628.7" cy="60.3" r="1.2"/><circle cx="640.5" cy="75.7" r="0.8"/><circle cx="633.5" cy="58.5" r="1.0"/><circle cx="649.9" cy="63.1" r="0.9"/><circle cx="627.7" cy="65.8" r="1.1"/><circle cx="619.8" cy="70.6" r="0.8"/><circle cx="647.3" cy="68.3" r="0.7"/><circle cx="636.7" cy="53.5" r="1.2"/><circle cx="629.6" cy="62.9" r="1.0"/><circle cx="644.9" cy="53.2" r="0.7"/><circle cx="618.7" cy="61.5" r="1.0"/><circle cx="635.4" cy="62.3" r="1.2"/><circle cx="630.5" cy="66.2" r="0.8"/></g><g fill="#1870ff"><circle cx="653.4" cy="54.3" r="1.0"/><circle cx="626.2" cy="49.3" r="0.8"/><circle cx="646.7" cy="53.9" r="1.2"/><circle cx="650.2" cy="82.1" r="1.1"/><circle cx="625.5" cy="47.8" r="0.7"/><circle cx="643.0" cy="46.6" r="1.0"/><circle cx="638.3" cy="48.4" r="0.8"/><circle cx="637.8" cy="82.5" r="0.9"/><circle cx="655.3" cy="60.8" r="1.1"/><circle cx="604.4" cy="72.5" r="0.7"/><circle cx="613.1" cy="53.5" r="0.8"/><circle cx="646.2" cy="36.9" r="0.6"/><circle cx="644.6" cy="76.1" r="1.1"/><circle cx="652.9" cy="62.2" r="1.2"/><circle cx="620.1" cy="54.1" r="0.8"/><circle cx="632.0" cy="80.5" r="1.0"/><circle cx="622.8" cy="79.8" r="1.0"/><circle cx="644.6" cy="48.1" r="0.9"/><circle cx="656.0" cy="35.8" r="1.1"/><circle cx="647.4" cy="75.6" r="0.7"/><circle cx="655.4" cy="44.0" r="0.9"/><circle cx="653.3" cy="50.9" r="0.7"/><circle cx="632.0" cy="47.6" r="1.1"/><circle cx="633.2" cy="44.4" r="1.1"/><circle cx="620.1" cy="52.3" r="1.1"/><circle cx="636.9" cy="43.5" r="1.1"/><circle cx="658.1" cy="42.2" r="0.8"/><circle cx="611.0" cy="59.3" r="1.2"/><circle cx="638.5" cy="47.5" r="0.8"/><circle cx="648.8" cy="52.7" r="1.0"/><circle cx="614.6" cy="78.7" r="0.9"/><circle cx="647.8" cy="53.1" r="0.8"/><circle cx="645.4" cy="47.3" r="1.0"/><circle cx="654.8" cy="78.3" r="0.8"/><circle cx="609.1" cy="77.4" r="0.7"/><circle cx="642.4" cy="40.0" r="0.7"/><circle cx="636.7" cy="48.7" r="1.2"/><circle cx="636.9" cy="92.9" r="0.9"/><circle cx="634.9" cy="80.2" r="0.9"/><circle cx="654.0" cy="42.1" r="0.9"/><circle cx="648.0" cy="56.6" r="0.9"/><circle cx="629.9" cy="78.7" r="1.1"/><circle cx="647.5" cy="48.9" r="0.9"/><circle cx="655.4" cy="68.9" r="1.0"/><circle cx="644.1" cy="45.2" r="1.2"/><circle cx="648.2" cy="78.0" r="1.1"/><circle cx="648.6" cy="72.9" r="0.8"/><circle cx="652.0" cy="50.0" r="1.1"/><circle cx="657.8" cy="83.0" r="0.8"/><circle cx="627.8" cy="45.8" r="0.8"/><circle cx="624.0" cy="46.9" r="0.8"/><circle cx="658.5" cy="36.7" r="0.6"/><circle cx="646.0" cy="49.6" r="1.1"/><circle cx="656.1" cy="40.0" r="0.7"/><circle cx="648.1" cy="42.9" r="0.7"/><circle cx="651.1" cy="60.7" r="1.0"/><circle cx="638.0" cy="94.4" r="1.1"/><circle cx="625.0" cy="45.1" r="0.9"/><circle cx="628.8" cy="81.9" r="0.6"/><circle cx="637.3" cy="40.9" r="1.1"/><circle cx="652.1" cy="66.7" r="0.7"/><circle cx="644.7" cy="81.3" r="0.7"/><circle cx="632.0" cy="46.7" r="0.6"/><circle cx="618.0" cy="73.5" r="0.8"/><circle cx="643.4" cy="48.3" r="0.9"/><circle cx="650.8" cy="60.3" r="0.6"/><circle cx="648.0" cy="42.3" r="1.1"/><circle cx="638.6" cy="45.8" r="0.9"/><circle cx="657.8" cy="67.8" r="0.7"/><circle cx="660.5" cy="56.2" r="0.9"/><circle cx="632.9" cy="84.3" r="0.9"/><circle cx="644.7" cy="36.5" r="0.7"/><circle cx="648.5" cy="55.4" r="1.1"/><circle cx="652.8" cy="51.4" r="1.1"/><circle cx="660.9" cy="66.7" r="0.7"/><circle cx="641.6" cy="94.6" r="1.1"/><circle cx="651.0" cy="45.9" r="1.0"/><circle cx="644.2" cy="78.0" r="0.8"/><circle cx="647.3" cy="55.5" r="0.8"/><circle cx="641.7" cy="37.6" r="0.6"/><circle cx="639.7" cy="33.1" r="0.6"/><circle cx="645.7" cy="37.8" r="1.2"/><circle cx="647.6" cy="53.3" r="0.6"/><circle cx="650.6" cy="51.6" r="0.9"/><circle cx="613.7" cy="63.6" r="1.0"/><circle cx="630.2" cy="78.8" r="1.1"/><circle cx="630.4" cy="80.0" r="0.8"/><circle cx="636.4" cy="85.8" r="0.9"/><circle cx="649.3" cy="44.4" r="0.9"/><circle cx="654.6" cy="37.1" r="0.9"/><circle cx="650.1" cy="49.4" r="0.9"/><circle cx="614.0" cy="60.2" r="0.9"/><circle cx="647.2" cy="53.9" r="0.6"/><circle cx="637.6" cy="86.8" r="1.1"/><circle cx="644.0" cy="76.1" r="1.0"/><circle cx="634.3" cy="38.7" r="1.1"/><circle cx="640.7" cy="40.0" r="1.1"/><circle cx="665.1" cy="52.3" r="0.7"/><circle cx="613.4" cy="65.4" r="1.1"/><circle cx="635.8" cy="38.2" r="0.9"/><circle cx="653.3" cy="53.8" r="0.7"/><circle cx="648.0" cy="47.6" r="0.9"/><circle cx="644.9" cy="43.4" r="1.0"/><circle cx="658.1" cy="78.7" r="0.7"/><circle cx="648.9" cy="51.3" r="1.1"/><circle cx="644.2" cy="42.7" r="0.7"/><circle cx="649.7" cy="56.4" r="1.0"/><circle cx="621.4" cy="77.2" r="0.7"/><circle cx="643.5" cy="79.7" r="1.1"/><circle cx="659.9" cy="59.6" r="0.8"/><circle cx="650.2" cy="67.9" r="0.8"/><circle cx="624.9" cy="77.3" r="0.9"/><circle cx="638.5" cy="79.7" r="0.6"/><circle cx="650.4" cy="51.3" r="0.6"/><circle cx="615.6" cy="48.3" r="0.9"/><circle cx="619.1" cy="83.9" r="1.0"/><circle cx="640.5" cy="40.6" r="0.9"/><circle cx="644.5" cy="39.7" r="0.9"/><circle cx="640.3" cy="40.2" r="1.1"/><circle cx="625.6" cy="47.3" r="1.2"/><circle cx="616.6" cy="70.7" r="1.2"/><circle cx="644.4" cy="47.7" r="0.7"/><circle cx="647.3" cy="46.0" r="0.9"/><circle cx="652.6" cy="61.6" r="0.7"/><circle cx="628.9" cy="82.5" r="0.8"/><circle cx="615.5" cy="63.0" r="1.0"/><circle cx="650.4" cy="67.1" r="1.1"/><circle cx="650.2" cy="52.7" r="0.9"/><circle cx="648.9" cy="42.7" r="0.8"/><circle cx="620.9" cy="47.0" r="1.0"/><circle cx="654.4" cy="55.2" r="0.7"/><circle cx="666.3" cy="65.9" r="1.0"/><circle cx="651.9" cy="53.0" r="1.1"/><circle cx="650.3" cy="57.8" r="1.2"/><circle cx="657.4" cy="59.8" r="0.9"/><circle cx="655.5" cy="62.9" r="0.7"/><circle cx="612.3" cy="78.6" r="0.7"/><circle cx="644.3" cy="41.8" r="0.8"/><circle cx="614.4" cy="48.3" r="0.8"/><circle cx="654.2" cy="69.8" r="1.2"/><circle cx="654.0" cy="58.3" r="0.8"/><circle cx="640.5" cy="40.0" r="1.2"/><circle cx="650.5" cy="56.6" r="0.9"/><circle cx="617.4" cy="60.7" r="0.8"/><circle cx="620.1" cy="72.3" r="1.1"/><circle cx="641.2" cy="80.1" r="0.7"/><circle cx="649.8" cy="43.1" r="0.7"/><circle cx="614.1" cy="75.1" r="1.1"/><circle cx="608.9" cy="70.1" r="0.8"/><circle cx="618.2" cy="79.8" r="0.9"/><circle cx="633.3" cy="83.8" r="0.7"/><circle cx="642.7" cy="77.1" r="0.8"/><circle cx="650.4" cy="80.3" r="0.7"/><circle cx="641.4" cy="77.3" r="1.0"/><circle cx="618.4" cy="57.4" r="0.9"/><circle cx="647.7" cy="54.3" r="1.2"/><circle cx="623.0" cy="38.4" r="0.8"/><circle cx="662.0" cy="50.4" r="1.0"/><circle cx="651.7" cy="61.9" r="1.0"/><circle cx="648.3" cy="48.7" r="0.8"/><circle cx="615.8" cy="65.7" r="1.0"/><circle cx="655.4" cy="72.9" r="0.8"/><circle cx="632.3" cy="83.2" r="1.1"/><circle cx="618.0" cy="73.7" r="0.7"/><circle cx="623.2" cy="43.5" r="0.8"/><circle cx="652.6" cy="63.2" r="0.8"/><circle cx="645.1" cy="45.8" r="1.2"/><circle cx="615.6" cy="54.2" r="0.8"/><circle cx="615.3" cy="67.5" r="1.2"/><circle cx="644.5" cy="47.5" r="0.9"/><circle cx="613.9" cy="63.5" r="0.7"/><circle cx="644.8" cy="32.9" r="0.6"/><circle cx="652.8" cy="34.9" r="0.8"/><circle cx="635.6" cy="87.6" r="0.9"/><circle cx="651.1" cy="49.8" r="0.9"/><circle cx="638.1" cy="45.8" r="0.9"/><circle cx="653.5" cy="59.6" r="0.9"/><circle cx="603.4" cy="71.0" r="1.1"/><circle cx="620.7" cy="52.7" r="0.8"/><circle cx="606.6" cy="52.9" r="0.6"/><circle cx="626.8" cy="41.3" r="0.7"/><circle cx="617.4" cy="35.4" r="1.1"/><circle cx="651.3" cy="83.0" r="1.1"/><circle cx="650.3" cy="46.5" r="0.9"/><circle cx="657.5" cy="38.9" r="0.9"/><circle cx="617.0" cy="60.0" r="0.8"/><circle cx="632.9" cy="81.3" r="0.8"/><circle cx="653.1" cy="62.7" r="1.0"/><circle cx="654.1" cy="49.3" r="0.7"/><circle cx="623.9" cy="43.4" r="0.9"/><circle cx="630.7" cy="47.4" r="0.9"/><circle cx="658.7" cy="69.2" r="0.7"/><circle cx="663.7" cy="51.4" r="0.8"/><circle cx="625.3" cy="47.1" r="0.9"/><circle cx="649.1" cy="55.5" r="1.2"/><circle cx="631.3" cy="46.6" r="1.0"/><circle cx="649.3" cy="72.2" r="0.9"/><circle cx="651.7" cy="72.7" r="0.8"/><circle cx="629.7" cy="46.1" r="0.9"/><circle cx="613.3" cy="75.8" r="1.1"/><circle cx="636.3" cy="39.8" r="1.1"/><circle cx="627.4" cy="49.5" r="1.2"/><circle cx="618.3" cy="68.1" r="1.2"/><circle cx="648.7" cy="57.6" r="0.8"/><circle cx="652.4" cy="63.3" r="0.7"/><circle cx="632.4" cy="48.2" r="0.6"/><circle cx="648.8" cy="46.0" r="1.0"/><circle cx="661.6" cy="71.2" r="0.9"/><circle cx="650.9" cy="69.7" r="0.8"/><circle cx="628.9" cy="96.3" r="0.8"/><circle cx="649.5" cy="67.7" r="0.8"/></g><g fill="#2090ff"><circle cx="653.0" cy="75.8" r="0.9"/><circle cx="649.6" cy="53.3" r="1.2"/><circle cx="650.1" cy="68.5" r="0.8"/><circle cx="658.8" cy="67.6" r="0.8"/><circle cx="656.2" cy="61.3" r="0.9"/><circle cx="651.8" cy="56.6" r="1.1"/><circle cx="654.9" cy="51.2" r="0.7"/><circle cx="640.2" cy="86.3" r="1.1"/><circle cx="643.6" cy="82.6" r="0.7"/><circle cx="648.5" cy="46.6" r="1.1"/><circle cx="630.7" cy="46.9" r="0.7"/><circle cx="645.7" cy="34.3" r="1.0"/><circle cx="645.5" cy="40.7" r="0.9"/><circle cx="632.8" cy="96.8" r="1.1"/><circle cx="649.9" cy="76.2" r="0.8"/><circle cx="611.9" cy="44.2" r="0.7"/><circle cx="664.3" cy="47.8" r="0.7"/><circle cx="609.2" cy="78.8" r="0.9"/><circle cx="650.1" cy="73.9" r="1.0"/><circle cx="621.8" cy="31.1" r="0.8"/><circle cx="649.0" cy="57.5" r="1.1"/><circle cx="651.3" cy="46.0" r="1.0"/><circle cx="644.4" cy="50.4" r="1.1"/><circle cx="611.8" cy="78.6" r="0.7"/><circle cx="657.0" cy="73.7" r="0.6"/><circle cx="651.5" cy="57.6" r="0.9"/><circle cx="649.9" cy="58.9" r="1.0"/><circle cx="635.4" cy="45.6" r="0.9"/><circle cx="653.2" cy="72.8" r="0.9"/><circle cx="639.8" cy="47.5" r="0.7"/><circle cx="652.2" cy="59.1" r="1.1"/><circle cx="650.7" cy="60.9" r="0.7"/><circle cx="652.8" cy="62.0" r="1.0"/><circle cx="628.2" cy="78.4" r="1.0"/><circle cx="650.3" cy="62.8" r="0.7"/><circle cx="608.0" cy="62.9" r="0.7"/><circle cx="650.1" cy="55.1" r="1.2"/><circle cx="614.7" cy="58.6" r="0.8"/><circle cx="623.9" cy="79.0" r="0.6"/><circle cx="651.2" cy="48.5" r="0.8"/><circle cx="642.3" cy="47.6" r="0.7"/><circle cx="654.4" cy="49.9" r="0.7"/><circle cx="616.3" cy="60.7" r="1.1"/><circle cx="648.9" cy="71.2" r="1.1"/><circle cx="628.7" cy="46.4" r="0.6"/><circle cx="656.6" cy="60.5" r="1.0"/><circle cx="647.1" cy="45.6" r="1.0"/><circle cx="629.4" cy="41.9" r="1.0"/><circle cx="648.1" cy="55.7" r="0.7"/><circle cx="648.6" cy="53.8" r="1.0"/><circle cx="662.6" cy="57.3" r="0.9"/><circle cx="649.2" cy="42.1" r="0.9"/><circle cx="642.2" cy="46.8" r="1.1"/><circle cx="645.2" cy="75.1" r="0.8"/><circle cx="653.4" cy="52.2" r="1.1"/><circle cx="630.5" cy="95.0" r="0.8"/><circle cx="614.2" cy="59.4" r="0.7"/><circle cx="651.8" cy="70.9" r="1.0"/><circle cx="647.6" cy="54.6" r="0.9"/><circle cx="650.9" cy="61.8" r="1.1"/><circle cx="649.5" cy="72.1" r="1.1"/><circle cx="636.2" cy="37.2" r="0.9"/><circle cx="654.6" cy="60.2" r="1.0"/><circle cx="655.3" cy="42.2" r="0.8"/><circle cx="618.5" cy="77.7" r="0.8"/><circle cx="649.1" cy="58.5" r="1.1"/><circle cx="620.3" cy="53.2" r="0.8"/><circle cx="645.8" cy="43.7" r="1.1"/><circle cx="649.8" cy="59.2" r="1.0"/><circle cx="658.1" cy="72.2" r="0.7"/><circle cx="650.7" cy="40.6" r="0.8"/><circle cx="646.2" cy="52.1" r="0.7"/><circle cx="643.3" cy="48.9" r="0.9"/><circle cx="661.1" cy="89.5" r="0.8"/><circle cx="639.1" cy="43.4" r="0.9"/><circle cx="655.4" cy="67.8" r="1.0"/><circle cx="635.5" cy="79.1" r="1.1"/><circle cx="648.2" cy="46.6" r="0.9"/><circle cx="617.6" cy="60.8" r="0.7"/><circle cx="656.8" cy="53.8" r="0.7"/><circle cx="652.9" cy="62.0" r="1.1"/><circle cx="628.4" cy="48.5" r="1.0"/><circle cx="637.3" cy="41.6" r="1.2"/><circle cx="651.4" cy="52.5" r="1.1"/><circle cx="653.2" cy="54.3" r="0.8"/><circle cx="649.9" cy="72.2" r="1.2"/><circle cx="601.3" cy="66.8" r="0.8"/><circle cx="643.7" cy="50.5" r="0.8"/><circle cx="629.9" cy="46.7" r="1.2"/><circle cx="647.4" cy="76.4" r="1.0"/><circle cx="605.1" cy="55.9" r="0.7"/><circle cx="617.1" cy="74.1" r="0.9"/><circle cx="624.2" cy="90.2" r="0.7"/><circle cx="615.4" cy="60.0" r="0.6"/><circle cx="631.6" cy="48.0" r="0.8"/><circle cx="650.4" cy="47.1" r="1.1"/><circle cx="647.0" cy="47.5" r="1.0"/><circle cx="647.4" cy="83.4" r="0.9"/><circle cx="654.5" cy="81.0" r="0.9"/><circle cx="645.6" cy="84.1" r="0.7"/><circle cx="650.2" cy="66.7" r="1.1"/><circle cx="654.0" cy="74.8" r="0.9"/><circle cx="653.2" cy="45.1" r="0.8"/><circle cx="643.2" cy="46.8" r="0.9"/><circle cx="626.1" cy="47.2" r="0.7"/><circle cx="620.1" cy="55.1" r="0.7"/><circle cx="636.7" cy="43.7" r="0.8"/><circle cx="622.2" cy="44.2" r="1.1"/><circle cx="638.5" cy="49.2" r="1.0"/><circle cx="650.9" cy="51.4" r="0.8"/><circle cx="641.7" cy="35.4" r="1.1"/><circle cx="623.6" cy="77.4" r="0.9"/><circle cx="641.2" cy="50.3" r="0.8"/><circle cx="631.2" cy="45.4" r="0.7"/><circle cx="625.7" cy="48.9" r="1.0"/><circle cx="624.2" cy="44.7" r="0.9"/><circle cx="613.5" cy="64.9" r="1.2"/><circle cx="651.3" cy="38.0" r="1.1"/><circle cx="645.1" cy="52.8" r="0.6"/><circle cx="611.4" cy="57.4" r="1.0"/><circle cx="617.2" cy="60.5" r="0.8"/><circle cx="651.2" cy="75.4" r="0.7"/><circle cx="642.0" cy="47.8" r="0.9"/><circle cx="619.4" cy="48.5" r="0.8"/><circle cx="622.9" cy="40.6" r="1.1"/><circle cx="652.1" cy="68.5" r="1.1"/><circle cx="639.5" cy="47.2" r="1.1"/><circle cx="646.9" cy="75.9" r="0.7"/><circle cx="652.3" cy="49.1" r="0.8"/><circle cx="614.7" cy="61.4" r="0.7"/><circle cx="632.5" cy="46.5" r="0.9"/><circle cx="639.9" cy="45.1" r="0.6"/><circle cx="647.1" cy="50.5" r="0.9"/><circle cx="649.1" cy="53.6" r="1.0"/><circle cx="618.9" cy="72.5" r="0.8"/><circle cx="614.4" cy="64.5" r="0.9"/><circle cx="650.1" cy="46.9" r="0.8"/><circle cx="640.1" cy="47.1" r="0.9"/><circle cx="644.3" cy="51.4" r="1.0"/><circle cx="623.0" cy="47.2" r="1.2"/><circle cx="632.8" cy="43.6" r="0.8"/><circle cx="645.7" cy="45.9" r="0.9"/><circle cx="649.1" cy="44.1" r="0.9"/><circle cx="652.7" cy="77.1" r="0.9"/><circle cx="648.2" cy="76.0" r="1.2"/><circle cx="650.1" cy="56.5" r="0.8"/><circle cx="654.8" cy="45.4" r="1.1"/><circle cx="620.9" cy="78.6" r="1.1"/><circle cx="646.2" cy="49.8" r="0.8"/><circle cx="653.1" cy="66.5" r="0.9"/><circle cx="652.7" cy="55.2" r="0.8"/><circle cx="655.7" cy="57.5" r="0.8"/><circle cx="654.1" cy="69.9" r="0.9"/><circle cx="648.5" cy="78.2" r="1.0"/><circle cx="656.6" cy="60.9" r="1.2"/><circle cx="652.6" cy="71.2" r="0.7"/><circle cx="654.0" cy="72.7" r="1.0"/><circle cx="634.4" cy="33.8" r="1.2"/><circle cx="635.8" cy="43.5" r="1.2"/><circle cx="647.6" cy="82.3" r="1.1"/><circle cx="656.5" cy="41.7" r="0.9"/><circle cx="649.6" cy="58.4" r="1.1"/><circle cx="648.1" cy="74.8" r="1.1"/><circle cx="654.0" cy="71.2" r="1.1"/><circle cx="630.7" cy="42.5" r="0.8"/><circle cx="649.3" cy="42.7" r="0.7"/><circle cx="657.6" cy="70.7" r="0.7"/><circle cx="622.3" cy="49.7" r="1.1"/><circle cx="668.8" cy="59.2" r="1.0"/><circle cx="627.4" cy="81.6" r="1.1"/><circle cx="610.6" cy="68.1" r="0.7"/><circle cx="649.8" cy="68.9" r="0.7"/><circle cx="638.5" cy="44.4" r="1.1"/><circle cx="641.3" cy="50.0" r="1.0"/><circle cx="653.6" cy="53.8" r="1.2"/><circle cx="652.3" cy="57.0" r="0.7"/><circle cx="644.1" cy="81.2" r="0.8"/><circle cx="606.9" cy="58.4" r="1.0"/><circle cx="654.0" cy="39.8" r="0.7"/><circle cx="649.4" cy="77.1" r="0.8"/><circle cx="658.5" cy="62.2" r="1.1"/><circle cx="627.8" cy="80.7" r="0.8"/><circle cx="650.9" cy="56.7" r="1.1"/><circle cx="630.3" cy="79.9" r="1.0"/><circle cx="650.9" cy="81.6" r="0.9"/><circle cx="611.1" cy="54.9" r="1.2"/><circle cx="624.6" cy="92.0" r="0.9"/><circle cx="654.4" cy="37.5" r="0.7"/><circle cx="648.3" cy="46.4" r="0.7"/><circle cx="620.1" cy="55.6" r="1.1"/><circle cx="653.5" cy="53.8" r="0.9"/><circle cx="631.6" cy="43.1" r="0.8"/><circle cx="651.7" cy="48.7" r="0.9"/><circle cx="627.0" cy="49.6" r="0.9"/><circle cx="650.0" cy="78.8" r="0.7"/><circle cx="618.4" cy="56.3" r="0.8"/><circle cx="638.6" cy="36.0" r="0.8"/><circle cx="649.8" cy="55.7" r="1.0"/><circle cx="623.4" cy="82.7" r="1.1"/><circle cx="649.3" cy="38.0" r="0.9"/><circle cx="638.5" cy="46.1" r="0.6"/><circle cx="626.9" cy="82.4" r="0.9"/><circle cx="619.6" cy="87.9" r="0.7"/><circle cx="634.7" cy="82.8" r="1.1"/><circle cx="652.0" cy="38.7" r="0.6"/><circle cx="612.9" cy="86.1" r="1.0"/><circle cx="622.0" cy="41.6" r="1.0"/><circle cx="658.6" cy="28.9" r="0.9"/><circle cx="628.0" cy="49.7" r="1.1"/><circle cx="653.2" cy="72.2" r="0.7"/></g><g fill="#30d0f8"><circle cx="623.7" cy="62.9" r="0.6"/><circle cx="645.9" cy="54.8" r="1.0"/><circle cx="637.7" cy="62.7" r="0.8"/><circle cx="624.5" cy="69.3" r="1.0"/><circle cx="628.2" cy="73.3" r="0.7"/><circle cx="628.6" cy="67.8" r="1.0"/><circle cx="641.3" cy="61.1" r="0.6"/><circle cx="644.1" cy="62.8" r="1.1"/><circle cx="632.8" cy="76.5" r="0.9"/><circle cx="648.1" cy="66.5" r="0.9"/><circle cx="640.1" cy="63.5" r="1.1"/><circle cx="646.3" cy="63.5" r="1.1"/><circle cx="633.7" cy="77.4" r="0.9"/><circle cx="644.3" cy="58.9" r="0.7"/><circle cx="624.1" cy="62.5" r="0.8"/><circle cx="640.7" cy="74.4" r="0.9"/><circle cx="642.0" cy="71.0" r="0.7"/><circle cx="630.7" cy="53.3" r="1.0"/><circle cx="631.1" cy="55.6" r="1.1"/><circle cx="636.7" cy="60.6" r="0.9"/><circle cx="633.1" cy="53.1" r="0.9"/><circle cx="647.4" cy="69.9" r="0.9"/><circle cx="631.7" cy="50.6" r="0.7"/><circle cx="642.6" cy="67.6" r="0.9"/><circle cx="627.0" cy="71.7" r="0.7"/><circle cx="646.4" cy="56.9" r="1.1"/><circle cx="635.1" cy="61.0" r="0.7"/><circle cx="638.0" cy="73.6" r="1.2"/><circle cx="635.3" cy="71.2" r="0.9"/><circle cx="638.0" cy="71.8" r="0.9"/><circle cx="646.9" cy="57.8" r="0.9"/><circle cx="627.9" cy="62.1" r="0.7"/><circle cx="634.2" cy="56.8" r="0.7"/><circle cx="629.8" cy="52.2" r="1.1"/><circle cx="632.9" cy="62.5" r="0.9"/><circle cx="622.9" cy="68.7" r="0.9"/><circle cx="637.8" cy="65.2" r="0.6"/><circle cx="631.9" cy="70.9" r="0.6"/><circle cx="638.9" cy="68.4" r="0.8"/><circle cx="622.2" cy="60.2" r="0.6"/><circle cx="636.9" cy="70.1" r="1.0"/><circle cx="648.0" cy="62.4" r="1.0"/><circle cx="626.3" cy="59.0" r="0.8"/><circle cx="634.2" cy="60.4" r="1.1"/><circle cx="639.1" cy="58.0" r="0.7"/><circle cx="619.7" cy="62.6" r="1.1"/><circle cx="624.9" cy="70.5" r="1.2"/><circle cx="640.0" cy="62.1" r="0.7"/><circle cx="632.7" cy="62.6" r="1.1"/><circle cx="644.3" cy="71.2" r="0.7"/><circle cx="634.5" cy="55.8" r="0.8"/><circle cx="641.9" cy="54.9" r="0.7"/><circle cx="625.2" cy="53.5" r="0.9"/><circle cx="646.3" cy="67.3" r="0.9"/><circle cx="627.6" cy="57.6" r="0.7"/><circle cx="628.1" cy="52.4" r="0.8"/><circle cx="624.7" cy="53.7" r="1.2"/><circle cx="647.9" cy="59.1" r="0.8"/><circle cx="644.2" cy="54.8" r="1.0"/><circle cx="628.8" cy="67.3" r="0.7"/><circle cx="647.8" cy="70.0" r="0.7"/><circle cx="634.5" cy="59.6" r="1.0"/><circle cx="642.8" cy="64.4" r="1.1"/><circle cx="641.9" cy="65.0" r="0.9"/><circle cx="637.1" cy="57.7" r="0.9"/><circle cx="625.2" cy="54.7" r="0.9"/><circle cx="630.8" cy="67.8" r="0.6"/><circle cx="635.1" cy="74.3" r="0.9"/><circle cx="632.6" cy="66.2" r="0.7"/><circle cx="636.3" cy="78.5" r="1.2"/><circle cx="621.7" cy="70.3" r="1.2"/><circle cx="647.9" cy="56.7" r="0.6"/><circle cx="642.4" cy="64.5" r="1.2"/><circle cx="642.6" cy="54.8" r="0.7"/><circle cx="618.9" cy="62.6" r="0.9"/><circle cx="630.0" cy="65.2" r="0.7"/><circle cx="637.6" cy="68.5" r="0.9"/><circle cx="626.0" cy="70.8" r="1.2"/><circle cx="625.6" cy="68.0" r="1.0"/><circle cx="630.2" cy="50.6" r="0.9"/><circle cx="637.1" cy="59.4" r="0.6"/><circle cx="632.8" cy="69.9" r="0.7"/><circle cx="622.7" cy="62.9" r="1.1"/><circle cx="640.4" cy="52.7" r="0.9"/><circle cx="639.8" cy="74.3" r="0.6"/><circle cx="645.2" cy="56.8" r="0.7"/><circle cx="624.0" cy="60.7" r="0.9"/><circle cx="623.9" cy="59.8" r="1.0"/><circle cx="639.0" cy="56.7" r="1.0"/><circle cx="640.2" cy="61.8" r="1.1"/><circle cx="637.5" cy="54.9" r="0.7"/><circle cx="639.6" cy="62.7" r="0.6"/><circle cx="630.1" cy="51.8" r="0.9"/><circle cx="630.5" cy="60.0" r="0.9"/><circle cx="626.7" cy="71.4" r="1.0"/><circle cx="639.6" cy="68.1" r="0.8"/><circle cx="628.5" cy="64.4" r="1.1"/><circle cx="629.4" cy="59.3" r="0.8"/><circle cx="646.8" cy="66.2" r="0.8"/><circle cx="635.6" cy="63.4" r="0.8"/><circle cx="645.5" cy="73.9" r="1.1"/><circle cx="630.5" cy="58.3" r="0.7"/><circle cx="621.3" cy="62.5" r="0.9"/><circle cx="635.3" cy="58.5" r="0.7"/><circle cx="629.4" cy="65.6" r="0.7"/><circle cx="629.3" cy="68.6" r="1.0"/><circle cx="631.8" cy="61.2" r="1.2"/><circle cx="634.1" cy="73.8" r="0.7"/><circle cx="624.1" cy="63.5" r="0.8"/><circle cx="643.9" cy="72.0" r="0.7"/><circle cx="628.5" cy="62.1" r="0.6"/><circle cx="633.5" cy="58.6" r="0.9"/><circle cx="632.7" cy="74.3" r="1.1"/><circle cx="642.8" cy="51.5" r="1.1"/><circle cx="645.5" cy="55.3" r="0.8"/><circle cx="638.9" cy="66.8" r="0.7"/><circle cx="634.8" cy="60.6" r="1.0"/><circle cx="642.9" cy="63.8" r="0.8"/><circle cx="621.4" cy="65.1" r="1.2"/><circle cx="644.3" cy="64.1" r="0.8"/><circle cx="632.8" cy="55.3" r="0.8"/><circle cx="642.0" cy="75.6" r="1.1"/><circle cx="634.5" cy="57.0" r="0.7"/><circle cx="640.5" cy="59.1" r="0.9"/><circle cx="639.4" cy="66.1" r="0.6"/><circle cx="645.1" cy="64.6" r="1.0"/><circle cx="633.8" cy="59.0" r="0.7"/><circle cx="643.8" cy="71.5" r="0.9"/><circle cx="622.9" cy="54.4" r="0.9"/><circle cx="637.1" cy="53.9" r="0.7"/><circle cx="641.8" cy="58.9" r="1.0"/><circle cx="649.5" cy="66.6" r="0.7"/><circle cx="636.8" cy="72.5" r="0.9"/><circle cx="640.6" cy="66.8" r="1.1"/><circle cx="624.5" cy="71.6" r="0.9"/><circle cx="636.9" cy="74.2" r="0.6"/><circle cx="638.1" cy="59.2" r="0.6"/><circle cx="635.2" cy="56.5" r="0.8"/><circle cx="636.2" cy="76.2" r="1.0"/><circle cx="634.9" cy="55.9" r="0.8"/><circle cx="632.4" cy="69.8" r="0.9"/><circle cx="638.8" cy="68.6" r="1.0"/><circle cx="644.5" cy="68.4" r="0.8"/><circle cx="645.1" cy="58.6" r="1.0"/><circle cx="631.9" cy="73.8" r="0.6"/><circle cx="637.0" cy="56.6" r="1.1"/><circle cx="643.3" cy="60.4" r="1.1"/><circle cx="635.7" cy="68.8" r="0.8"/><circle cx="646.7" cy="56.2" r="0.8"/><circle cx="619.4" cy="61.9" r="1.2"/><circle cx="632.8" cy="58.2" r="1.2"/><circle cx="632.6" cy="58.0" r="0.8"/><circle cx="624.5" cy="60.1" r="1.0"/><circle cx="620.8" cy="68.4" r="0.6"/><circle cx="630.9" cy="59.7" r="0.8"/><circle cx="629.1" cy="68.8" r="0.7"/><circle cx="639.8" cy="61.0" r="0.6"/><circle cx="632.3" cy="63.9" r="0.8"/><circle cx="648.5" cy="59.2" r="0.8"/><circle cx="630.7" cy="58.8" r="0.9"/><circle cx="639.4" cy="55.3" r="0.9"/><circle cx="633.1" cy="76.2" r="0.8"/><circle cx="631.1" cy="57.4" r="0.6"/><circle cx="645.5" cy="61.4" r="0.8"/><circle cx="629.8" cy="52.4" r="0.7"/><circle cx="634.8" cy="51.8" r="1.1"/><circle cx="629.3" cy="75.3" r="1.1"/><circle cx="639.0" cy="70.7" r="1.1"/><circle cx="626.2" cy="53.1" r="0.8"/><circle cx="636.4" cy="66.7" r="0.6"/><circle cx="618.8" cy="67.5" r="1.1"/><circle cx="633.4" cy="66.5" r="0.9"/><circle cx="634.1" cy="53.7" r="0.9"/><circle cx="641.1" cy="64.2" r="0.7"/><circle cx="640.6" cy="65.6" r="0.8"/><circle cx="628.9" cy="57.0" r="0.6"/><circle cx="640.2" cy="52.1" r="0.7"/><circle cx="649.7" cy="64.4" r="1.1"/><circle cx="636.7" cy="63.3" r="0.7"/><circle cx="630.0" cy="57.1" r="1.2"/><circle cx="633.7" cy="51.9" r="0.9"/><circle cx="622.5" cy="61.0" r="0.8"/></g><g fill="#1460f8"><circle cx="647.4" cy="50.0" r="0.7"/><circle cx="619.9" cy="50.0" r="1.0"/><circle cx="620.8" cy="50.9" r="1.0"/><circle cx="635.4" cy="47.0" r="1.2"/><circle cx="642.2" cy="48.4" r="0.6"/><circle cx="626.2" cy="49.9" r="1.1"/><circle cx="616.8" cy="70.3" r="1.0"/><circle cx="643.7" cy="38.2" r="1.0"/><circle cx="649.1" cy="19.6" r="0.7"/><circle cx="645.6" cy="81.6" r="0.9"/><circle cx="611.9" cy="77.6" r="1.0"/><circle cx="646.8" cy="46.9" r="0.6"/><circle cx="616.4" cy="51.0" r="0.6"/><circle cx="636.9" cy="44.8" r="0.6"/><circle cx="635.5" cy="43.9" r="1.0"/><circle cx="649.6" cy="29.4" r="0.7"/><circle cx="648.1" cy="76.5" r="0.8"/><circle cx="650.4" cy="43.4" r="0.9"/><circle cx="650.1" cy="62.3" r="1.1"/><circle cx="649.5" cy="49.4" r="1.1"/><circle cx="653.6" cy="55.1" r="0.7"/><circle cx="659.3" cy="48.0" r="0.7"/><circle cx="645.3" cy="44.8" r="0.8"/><circle cx="650.6" cy="65.4" r="0.9"/><circle cx="613.7" cy="50.9" r="1.1"/><circle cx="606.4" cy="68.7" r="0.6"/><circle cx="653.5" cy="72.3" r="0.9"/><circle cx="652.7" cy="55.5" r="1.2"/><circle cx="655.3" cy="64.1" r="0.8"/><circle cx="645.6" cy="52.0" r="1.0"/><circle cx="625.5" cy="44.3" r="1.0"/><circle cx="633.1" cy="79.7" r="1.1"/><circle cx="619.4" cy="48.2" r="1.1"/><circle cx="618.2" cy="75.0" r="1.0"/><circle cx="653.2" cy="54.1" r="0.8"/><circle cx="625.8" cy="39.0" r="0.9"/><circle cx="632.6" cy="46.8" r="0.6"/><circle cx="619.1" cy="51.3" r="0.8"/><circle cx="648.9" cy="38.4" r="1.2"/><circle cx="619.1" cy="54.1" r="1.1"/><circle cx="648.6" cy="53.2" r="1.1"/><circle cx="622.2" cy="46.4" r="0.8"/><circle cx="644.5" cy="30.7" r="0.9"/><circle cx="612.2" cy="71.3" r="0.9"/><circle cx="625.5" cy="50.5" r="0.7"/><circle cx="641.7" cy="79.4" r="0.8"/><circle cx="615.4" cy="73.3" r="0.8"/><circle cx="643.6" cy="38.8" r="1.2"/><circle cx="623.6" cy="51.9" r="0.9"/><circle cx="639.4" cy="26.9" r="0.9"/><circle cx="613.0" cy="61.4" r="1.0"/><circle cx="644.3" cy="45.0" r="0.6"/><circle cx="653.8" cy="73.2" r="0.8"/><circle cx="655.5" cy="80.4" r="0.9"/><circle cx="617.1" cy="52.2" r="0.9"/><circle cx="641.7" cy="50.5" r="1.1"/><circle cx="620.4" cy="74.4" r="0.7"/><circle cx="650.0" cy="53.6" r="1.1"/><circle cx="616.1" cy="64.8" r="1.0"/><circle cx="626.1" cy="50.0" r="0.8"/><circle cx="648.5" cy="51.1" r="1.0"/><circle cx="627.1" cy="78.1" r="0.8"/><circle cx="652.7" cy="68.9" r="1.1"/><circle cx="649.0" cy="47.6" r="0.7"/><circle cx="611.5" cy="57.4" r="1.2"/><circle cx="644.6" cy="49.6" r="1.1"/><circle cx="652.7" cy="63.7" r="0.8"/><circle cx="654.1" cy="46.4" r="0.9"/><circle cx="653.8" cy="54.3" r="1.2"/><circle cx="616.4" cy="39.1" r="0.8"/><circle cx="652.3" cy="75.0" r="0.9"/><circle cx="637.4" cy="83.1" r="0.7"/><circle cx="643.5" cy="51.2" r="1.2"/><circle cx="647.1" cy="73.9" r="0.9"/><circle cx="618.1" cy="70.5" r="1.0"/><circle cx="649.9" cy="85.9" r="0.9"/><circle cx="646.7" cy="48.2" r="0.7"/><circle cx="653.3" cy="64.9" r="1.0"/><circle cx="615.8" cy="59.5" r="0.7"/><circle cx="622.4" cy="74.6" r="0.6"/><circle cx="650.6" cy="46.5" r="0.7"/><circle cx="623.1" cy="76.2" r="1.1"/><circle cx="606.3" cy="76.5" r="1.1"/><circle cx="622.3" cy="51.2" r="0.8"/><circle cx="650.8" cy="62.6" r="1.1"/><circle cx="651.2" cy="77.8" r="0.6"/><circle cx="655.2" cy="49.7" r="1.1"/><circle cx="650.8" cy="72.2" r="1.0"/><circle cx="627.4" cy="79.5" r="1.2"/><circle cx="650.7" cy="44.7" r="1.0"/><circle cx="631.7" cy="44.4" r="0.7"/><circle cx="656.2" cy="48.1" r="0.6"/><circle cx="654.5" cy="73.2" r="1.0"/><circle cx="646.5" cy="41.0" r="0.6"/><circle cx="652.7" cy="43.7" r="0.9"/><circle cx="650.9" cy="48.6" r="1.1"/><circle cx="644.5" cy="51.8" r="0.7"/><circle cx="642.2" cy="37.4" r="1.0"/><circle cx="651.8" cy="79.9" r="0.8"/><circle cx="652.4" cy="74.3" r="0.6"/><circle cx="656.1" cy="69.1" r="0.8"/><circle cx="641.4" cy="48.7" r="1.1"/><circle cx="636.9" cy="79.7" r="0.7"/><circle cx="621.0" cy="51.0" r="0.7"/><circle cx="612.8" cy="50.7" r="0.9"/><circle cx="648.8" cy="77.6" r="1.1"/><circle cx="656.4" cy="82.3" r="0.8"/><circle cx="640.3" cy="48.8" r="0.7"/><circle cx="644.6" cy="27.9" r="0.9"/><circle cx="650.9" cy="34.0" r="1.0"/><circle cx="616.6" cy="55.3" r="0.6"/><circle cx="647.1" cy="45.4" r="0.6"/><circle cx="646.5" cy="77.3" r="1.2"/><circle cx="622.3" cy="89.4" r="1.1"/><circle cx="649.1" cy="87.9" r="0.7"/><circle cx="650.5" cy="65.9" r="1.1"/><circle cx="617.6" cy="84.5" r="1.0"/><circle cx="620.3" cy="82.4" r="0.9"/><circle cx="661.2" cy="24.2" r="0.6"/><circle cx="656.7" cy="63.2" r="0.9"/><circle cx="656.6" cy="61.3" r="0.6"/><circle cx="620.9" cy="45.1" r="0.8"/><circle cx="652.6" cy="50.9" r="0.7"/><circle cx="647.3" cy="49.5" r="0.8"/><circle cx="634.0" cy="89.9" r="0.7"/><circle cx="636.1" cy="44.0" r="0.7"/><circle cx="650.0" cy="67.1" r="0.8"/><circle cx="653.8" cy="51.3" r="0.7"/><circle cx="625.6" cy="85.0" r="0.9"/><circle cx="633.5" cy="46.0" r="1.0"/><circle cx="655.1" cy="70.1" r="1.0"/><circle cx="620.4" cy="72.4" r="0.9"/><circle cx="650.0" cy="73.9" r="1.1"/><circle cx="653.2" cy="64.7" r="1.2"/><circle cx="655.1" cy="62.4" r="1.1"/><circle cx="652.8" cy="77.9" r="0.6"/><circle cx="649.3" cy="59.5" r="0.9"/><circle cx="650.0" cy="35.2" r="1.1"/><circle cx="620.5" cy="45.2" r="0.8"/><circle cx="650.0" cy="46.2" r="1.0"/><circle cx="625.2" cy="84.2" r="1.1"/><circle cx="616.7" cy="69.3" r="0.8"/><circle cx="644.9" cy="37.1" r="0.8"/><circle cx="647.7" cy="50.8" r="0.7"/><circle cx="648.9" cy="70.1" r="0.7"/><circle cx="617.4" cy="51.1" r="1.0"/><circle cx="653.0" cy="66.5" r="0.6"/><circle cx="642.2" cy="49.8" r="1.1"/><circle cx="647.5" cy="79.0" r="0.8"/><circle cx="637.1" cy="49.1" r="0.7"/><circle cx="655.3" cy="50.8" r="0.6"/><circle cx="630.1" cy="44.8" r="1.1"/><circle cx="657.4" cy="68.2" r="0.6"/><circle cx="659.9" cy="87.1" r="0.8"/><circle cx="641.9" cy="49.1" r="1.1"/><circle cx="651.2" cy="67.2" r="0.7"/><circle cx="625.1" cy="49.6" r="0.7"/><circle cx="654.3" cy="50.6" r="1.1"/><circle cx="612.0" cy="70.2" r="0.9"/><circle cx="601.4" cy="44.9" r="0.6"/><circle cx="660.2" cy="61.0" r="0.6"/><circle cx="624.7" cy="76.6" r="0.7"/><circle cx="646.4" cy="46.7" r="0.9"/><circle cx="654.2" cy="51.7" r="1.1"/><circle cx="645.3" cy="83.6" r="1.1"/><circle cx="640.3" cy="88.4" r="0.9"/><circle cx="659.3" cy="45.9" r="0.8"/><circle cx="650.9" cy="51.4" r="0.8"/><circle cx="616.2" cy="42.5" r="1.0"/><circle cx="657.1" cy="41.1" r="0.7"/><circle cx="648.5" cy="50.9" r="0.8"/></g></g>
<g fill="none" stroke="#38d8ff" stroke-width="0.75" opacity="0.75" filter="url(#bblur)"><polyline points="657.8,79.1 658.9,82.0 659.4,85.0 660.3,87.9"/><polyline points="621.6,78.7 624.4,78.2 627.2,77.4 629.9,76.4"/><polyline points="630.5,48.5 627.9,47.6 625.1,47.7 622.4,48.5"/><polyline points="628.7,45.8 629.2,44.4 629.7,43.0 630.4,41.8"/><polyline points="639.9,82.8 637.9,83.4 636.3,84.6 634.3,85.1"/><polyline points="628.8,73.5 628.8,75.9 629.4,78.2 629.9,80.6"/><polyline points="623.5,66.0 625.7,68.1 627.9,70.0 630.0,72.2"/><polyline points="650.3,76.9 652.1,76.1 653.9,75.6 655.7,74.8"/><polyline points="632.4,67.4 630.3,68.6 628.3,69.9 626.3,71.1"/><polyline points="639.1,68.5 636.6,68.3 634.2,68.4 631.9,67.7"/><polyline points="638.9,42.0 637.2,43.6 635.4,45.1 633.5,46.4"/><polyline points="651.5,66.5 652.1,68.6 651.9,70.6 651.9,72.7"/><polyline points="628.0,54.9 629.8,54.3 631.7,53.9 633.6,53.8"/><polyline points="616.7,68.3 620.3,68.7 623.9,69.4 627.5,69.4"/><polyline points="615.9,64.3 614.8,65.5 613.4,66.2 612.2,67.3"/><polyline points="614.2,60.2 614.8,63.3 614.3,66.5 614.6,69.7"/><polyline points="622.8,67.6 622.6,69.9 622.6,72.2 622.0,74.5"/><polyline points="631.1,65.9 630.3,63.8 629.9,61.4 629.9,59.1"/><polyline points="620.5,42.1 620.5,45.4 619.5,48.5 617.4,51.1"/><polyline points="621.2,57.5 620.9,54.5 619.6,51.7 618.1,49.1"/><polyline points="632.2,60.0 629.0,61.4 626.1,63.3 623.9,66.0"/><polyline points="618.1,54.2 616.6,56.3 614.9,58.1 613.1,59.9"/><polyline points="645.6,67.6 649.1,68.2 652.6,69.0 655.9,70.4"/><polyline points="654.6,68.0 654.6,66.5 655.0,65.1 656.0,64.0"/><polyline points="655.3,77.9 655.0,76.0 655.0,74.1 654.3,72.3"/><polyline points="612.2,55.1 610.7,56.4 609.6,58.3 609.2,60.3"/><polyline points="612.6,52.5 614.2,52.2 615.7,52.3 617.3,52.1"/><polyline points="636.2,31.3 638.4,29.5 640.9,28.4 643.1,26.5"/><polyline points="622.9,80.1 619.8,79.3 617.0,78.1 614.2,76.6"/><polyline points="628.4,32.7 629.4,33.8 630.0,35.1 630.4,36.4"/><polyline points="623.9,64.8 626.7,65.6 629.5,66.8 631.7,68.8"/><polyline points="635.3,82.6 637.1,83.8 638.9,84.9 640.0,86.6"/><polyline points="629.1,57.5 630.7,54.9 633.2,53.0 636.0,51.6"/><polyline points="615.4,59.9 617.5,60.5 619.5,61.4 621.7,61.7"/><polyline points="635.5,71.3 635.2,73.7 635.4,76.1 636.3,78.4"/><polyline points="652.7,64.4 650.4,67.1 647.2,68.8 644.3,71.0"/><polyline points="660.6,57.8 659.2,58.5 657.9,59.2 656.4,59.7"/><polyline points="647.3,81.4 646.7,83.4 647.0,85.5 647.4,87.5"/><polyline points="639.9,70.3 639.5,67.2 638.5,64.3 637.7,61.3"/><polyline points="607.0,86.9 606.7,83.6 607.1,80.3 607.3,76.9"/><polyline points="632.9,68.5 630.0,68.8 627.5,70.0 624.8,71.1"/><polyline points="614.1,58.4 615.6,57.6 617.0,56.6 618.6,55.9"/><polyline points="635.0,83.9 632.9,85.4 630.6,86.4 628.1,86.9"/><polyline points="643.7,55.3 643.4,58.5 643.8,61.8 642.9,64.9"/><polyline points="649.9,47.6 646.9,48.7 644.1,50.2 641.0,51.0"/><polyline points="617.5,48.7 619.8,49.7 622.4,49.8 624.8,50.6"/><polyline points="619.9,66.3 617.2,65.8 614.4,66.0 611.8,67.0"/><polyline points="628.3,56.0 627.8,52.8 628.5,49.7 629.3,46.6"/><polyline points="617.7,57.9 615.4,56.8 613.3,55.3 611.6,53.4"/><polyline points="629.9,66.9 628.1,66.1 626.7,64.9 625.5,63.4"/><polyline points="648.2,57.1 648.1,55.2 648.1,53.2 647.6,51.4"/><polyline points="621.9,47.9 623.7,50.5 624.6,53.6 626.0,56.4"/><polyline points="648.1,47.9 647.5,49.5 647.0,51.1 646.4,52.7"/><polyline points="629.9,62.2 628.9,64.5 628.4,67.1 627.7,69.6"/><polyline points="639.4,82.4 637.6,81.4 636.4,79.8 634.8,78.6"/><polyline points="626.6,58.9 625.9,60.5 625.0,62.1 624.8,63.8"/><polyline points="648.8,66.2 648.6,69.4 648.1,72.4 648.4,75.6"/><polyline points="637.3,84.4 639.7,84.2 642.1,83.9 644.4,82.9"/><polyline points="635.4,67.1 637.4,67.9 639.0,69.3 640.3,71.1"/><polyline points="635.6,61.4 637.3,58.8 638.0,55.7 639.8,53.2"/><polyline points="649.9,60.5 650.0,58.7 649.4,57.0 649.0,55.2"/><polyline points="640.9,54.6 638.6,56.4 636.8,58.7 634.6,60.5"/><polyline points="639.2,60.0 639.7,61.4 639.7,62.8 640.2,64.1"/><polyline points="634.9,45.5 635.3,48.4 636.4,51.1 638.0,53.5"/><polyline points="632.6,68.0 631.3,70.6 629.9,73.3 627.8,75.3"/><polyline points="627.8,64.3 627.5,61.0 628.0,57.7 629.5,54.8"/><polyline points="627.1,31.5 626.3,28.7 626.3,25.7 627.2,22.8"/><polyline points="624.0,74.8 623.4,73.1 622.4,71.6 621.9,69.9"/><polyline points="631.0,67.7 632.9,65.3 633.7,62.3 634.2,59.3"/><polyline points="638.2,56.4 636.9,56.8 635.6,57.1 634.3,57.2"/><polyline points="636.6,72.7 635.4,73.5 634.1,74.0 633.1,74.8"/><polyline points="611.7,76.2 612.7,73.4 613.1,70.5 613.6,67.6"/><polyline points="630.0,46.7 630.1,43.2 631.4,40.0 632.7,36.8"/><polyline points="620.2,53.2 619.4,50.8 619.0,48.3 618.3,45.8"/><polyline points="631.3,65.9 634.0,65.6 636.7,65.7 639.3,66.3"/><polyline points="641.0,90.3 640.0,93.5 637.9,96.3 635.0,98.0"/><polyline points="621.1,36.9 621.1,39.6 621.2,42.2 621.8,44.8"/><polyline points="625.0,49.1 625.9,50.9 626.2,52.9 626.9,54.8"/><polyline points="631.6,85.0 630.9,86.6 630.0,88.1 628.7,89.3"/><polyline points="640.9,71.5 643.2,72.7 645.4,74.0 647.9,74.7"/><polyline points="640.0,67.2 641.6,66.3 643.2,65.3 644.3,63.8"/><polyline points="634.7,54.6 636.4,53.1 637.7,51.3 638.7,49.3"/><polyline points="640.5,90.4 640.2,88.0 640.6,85.5 641.1,83.1"/><polyline points="630.5,53.6 632.4,53.1 634.3,53.2 636.2,52.6"/><polyline points="624.7,72.0 627.0,73.5 628.8,75.4 631.2,76.8"/><polyline points="643.2,66.2 641.6,68.0 639.5,69.3 638.0,71.2"/><polyline points="640.2,91.4 642.4,89.7 643.8,87.3 645.3,84.9"/><polyline points="634.3,70.2 632.5,72.9 630.8,75.7 630.3,78.9"/><polyline points="625.7,65.4 625.9,62.4 626.7,59.6 628.3,57.1"/><polyline points="609.9,42.6 607.5,44.0 605.0,45.4 602.4,46.3"/><polyline points="634.8,75.2 636.2,77.4 637.4,79.7 637.7,82.3"/><polyline points="632.8,66.1 634.4,66.1 635.9,66.7 637.4,67.2"/><polyline points="627.2,49.8 625.8,52.0 624.5,54.2 623.2,56.5"/><polyline points="666.3,86.4 664.1,88.1 662.7,90.4 661.3,92.8"/><polyline points="634.8,82.4 637.0,79.9 638.5,76.8 640.3,74.0"/><polyline points="650.5,39.3 650.5,37.8 650.7,36.3 651.6,35.0"/><polyline points="633.8,73.2 634.7,74.7 635.4,76.2 636.5,77.6"/><polyline points="628.9,50.5 631.0,52.1 633.3,53.4 635.9,54.1"/><polyline points="643.1,52.2 642.1,49.7 641.5,47.1 641.9,44.5"/><polyline points="611.6,59.3 610.8,61.8 610.4,64.3 609.2,66.7"/><polyline points="624.5,59.3 626.8,59.5 629.1,59.6 631.4,59.8"/><polyline points="622.6,46.5 623.8,47.8 625.3,48.8 626.3,50.3"/><polyline points="610.3,64.5 610.5,62.4 611.2,60.4 612.5,58.8"/><polyline points="652.2,46.7 654.6,48.3 657.4,49.0 659.7,50.6"/><polyline points="647.9,49.7 647.4,48.4 646.5,47.3 645.4,46.4"/><polyline points="635.0,65.8 631.7,65.2 628.4,65.3 625.1,64.7"/><polyline points="649.7,68.3 652.4,70.2 654.1,72.9 655.9,75.5"/><polyline points="623.1,67.5 625.9,65.9 628.9,64.8 632.0,64.3"/><polyline points="650.8,89.9 651.1,92.4 651.2,94.9 651.7,97.4"/><polyline points="620.3,65.6 618.7,65.3 617.1,65.7 615.5,66.2"/></g>
<path d="M605.12,85.73 C605.61,85.90 607.08,86.49 608.09,86.73 C609.10,86.97 610.19,86.89 611.19,87.18 C612.19,87.46 613.15,87.92 614.07,88.42 C614.98,88.92 616.24,89.87 616.67,90.16" stroke="#2080ff" stroke-width="0.8" fill="none" opacity="0.84" filter="url(#bblur)"/>
<path d="M617.07,94.05 C616.34,93.54 614.24,91.91 612.72,91.01 C611.20,90.11 609.59,89.36 607.96,88.66 C606.34,87.97 604.67,87.35 602.98,86.84 C601.29,86.34 598.67,85.84 597.81,85.63" stroke="#1850f0" stroke-width="0.8" fill="none" opacity="0.55" filter="url(#bblur)"/>
<path d="M609.48,96.75 C609.58,97.08 609.82,98.07 610.05,98.71 C610.28,99.35 610.66,99.94 610.85,100.59 C611.05,101.24 611.17,101.93 611.22,102.60 C611.27,103.28 611.17,104.30 611.16,104.64" stroke="#1850f0" stroke-width="0.8" fill="none" opacity="0.53" filter="url(#bblur)"/>
<path d="M602.26,76.84 C602.65,77.45 603.70,79.38 604.59,80.52 C605.48,81.66 606.69,82.54 607.60,83.67 C608.50,84.80 609.24,86.06 610.01,87.29 C610.79,88.52 611.87,90.42 612.24,91.04" stroke="#1850f0" stroke-width="0.8" fill="none" opacity="0.72" filter="url(#bblur)"/>
<path d="M635.77,40.06 C636.63,40.31 639.20,41.19 640.96,41.58 C642.71,41.98 644.54,42.04 646.29,42.44 C648.05,42.84 649.80,43.33 651.48,43.98 C653.15,44.64 655.52,45.98 656.32,46.37" stroke="#1850f0" stroke-width="0.8" fill="none" opacity="0.85" filter="url(#bblur)"/>
<path d="M613.30,63.02 C613.90,63.14 615.70,63.62 616.91,63.72 C618.12,63.82 619.36,63.68 620.58,63.65 C621.81,63.62 623.03,63.47 624.25,63.52 C625.47,63.57 627.29,63.88 627.90,63.96" stroke="#1850f0" stroke-width="0.8" fill="none" opacity="0.83" filter="url(#bblur)"/>
<path d="M648.01,39.65 C648.72,39.94 650.86,40.79 652.27,41.39 C653.68,42.00 655.04,42.73 656.47,43.27 C657.91,43.81 659.38,44.28 660.87,44.63 C662.37,44.98 664.66,45.24 665.42,45.36" stroke="#1850f0" stroke-width="0.8" fill="none" opacity="0.81" filter="url(#bblur)"/>
<path d="M635.17,30.40 C634.55,30.52 632.68,30.87 631.44,31.13 C630.20,31.40 628.94,31.60 627.74,32.00 C626.55,32.40 625.45,33.10 624.27,33.56 C623.10,34.03 621.28,34.59 620.68,34.80" stroke="#2080ff" stroke-width="0.8" fill="none" opacity="0.68" filter="url(#bblur)"/>
<path d="M613.50,58.62 C613.32,59.47 612.75,62.02 612.43,63.73 C612.10,65.44 611.82,67.15 611.55,68.87 C611.28,70.59 611.08,72.32 610.80,74.03 C610.52,75.75 610.04,78.31 609.88,79.17" stroke="#1a60ff" stroke-width="0.8" fill="none" opacity="0.63" filter="url(#bblur)"/>
<path d="M599.73,78.80 C600.13,79.30 601.37,80.77 602.16,81.77 C602.96,82.78 603.63,83.89 604.50,84.82 C605.38,85.75 606.45,86.48 607.41,87.33 C608.37,88.18 609.77,89.49 610.24,89.92" stroke="#1a60ff" stroke-width="0.8" fill="none" opacity="0.59" filter="url(#bblur)"/>
<path d="M593.48,62.23 C594.14,61.94 596.06,60.88 597.43,60.47 C598.81,60.05 600.30,60.06 601.71,59.75 C603.12,59.44 604.47,58.78 605.89,58.62 C607.31,58.45 609.50,58.74 610.22,58.76" stroke="#2080ff" stroke-width="0.8" fill="none" opacity="0.78" filter="url(#bblur)"/>
<path d="M599.53,52.09 C599.39,51.22 598.89,48.61 598.68,46.86 C598.47,45.11 598.62,43.29 598.27,41.58 C597.92,39.86 597.32,38.15 596.58,36.55 C595.84,34.96 594.29,32.78 593.83,32.02" stroke="#1a60ff" stroke-width="0.8" fill="none" opacity="0.63" filter="url(#bblur)"/>
<path d="M602.60,48.04 C602.95,48.12 603.98,48.36 604.67,48.52 C605.36,48.68 606.06,48.80 606.73,49.03 C607.40,49.25 608.05,49.56 608.68,49.87 C609.32,50.18 610.23,50.72 610.54,50.89" stroke="#2080ff" stroke-width="0.8" fill="none" opacity="0.78" filter="url(#bblur)"/>
<path d="M636.31,38.01 C636.85,37.31 638.70,35.34 639.56,33.82 C640.42,32.29 640.87,30.53 641.47,28.87 C642.07,27.21 642.50,25.48 643.16,23.84 C643.82,22.21 645.06,19.85 645.44,19.05" stroke="#1850f0" stroke-width="0.8" fill="none" opacity="0.75" filter="url(#bblur)"/>
<path d="M655.39,70.80 C655.22,69.92 654.89,67.23 654.40,65.51 C653.92,63.79 653.20,62.12 652.48,60.48 C651.76,58.84 650.78,57.31 650.09,55.66 C649.41,54.01 648.66,51.41 648.37,50.56" stroke="#2080ff" stroke-width="0.8" fill="none" opacity="0.62" filter="url(#bblur)"/>
<path d="M627.06,26.35 C627.77,26.73 629.81,28.11 631.30,28.65 C632.80,29.20 634.44,29.49 636.04,29.62 C637.63,29.74 639.27,29.59 640.86,29.40 C642.46,29.22 644.82,28.67 645.61,28.52" stroke="#1850f0" stroke-width="0.8" fill="none" opacity="0.72" filter="url(#bblur)"/>
<path d="M655.54,91.09 C655.25,90.22 654.40,87.61 653.79,85.87 C653.19,84.14 652.35,82.47 651.93,80.70 C651.52,78.93 651.75,77.00 651.30,75.24 C650.86,73.48 649.60,70.98 649.26,70.13" stroke="#1a60ff" stroke-width="0.8" fill="none" opacity="0.69" filter="url(#bblur)"/>
<path d="M657.05,35.81 C657.30,36.29 658.11,37.69 658.57,38.67 C659.03,39.64 659.44,40.64 659.82,41.65 C660.20,42.66 660.45,43.73 660.86,44.72 C661.28,45.71 662.09,47.12 662.33,47.60" stroke="#1a60ff" stroke-width="0.8" fill="none" opacity="0.62" filter="url(#bblur)"/>
<path d="M616.15,98.32 C616.48,98.97 617.57,100.90 618.13,102.26 C618.68,103.62 619.12,105.03 619.49,106.46 C619.85,107.88 620.25,109.34 620.30,110.79 C620.36,112.24 619.90,114.44 619.82,115.17" stroke="#1850f0" stroke-width="0.8" fill="none" opacity="0.76" filter="url(#bblur)"/>
<path d="M591.01,35.69 C591.30,35.87 592.13,36.43 592.71,36.76 C593.29,37.08 593.90,37.37 594.51,37.64 C595.11,37.92 595.77,38.09 596.36,38.40 C596.94,38.71 597.74,39.33 598.02,39.52" stroke="#2080ff" stroke-width="0.8" fill="none" opacity="0.53" filter="url(#bblur)"/>
<path d="M592.81,28.67 C592.92,29.31 593.27,31.22 593.52,32.49 C593.77,33.77 594.16,35.02 594.30,36.31 C594.45,37.59 594.21,38.92 594.39,40.20 C594.56,41.47 595.19,43.34 595.35,43.97" stroke="#1a60ff" stroke-width="0.8" fill="none" opacity="0.76" filter="url(#bblur)"/>
<path d="M592.93,93.46 C593.16,93.95 593.77,95.50 594.33,96.44 C594.89,97.37 595.61,98.22 596.28,99.09 C596.94,99.96 597.58,100.87 598.32,101.67 C599.06,102.48 600.32,103.55 600.72,103.92" stroke="#1a60ff" stroke-width="0.8" fill="none" opacity="0.60" filter="url(#bblur)"/>
<path d="M635.51,90.16 C635.85,90.72 636.99,92.34 637.55,93.51 C638.11,94.69 638.34,96.02 638.88,97.20 C639.42,98.39 640.05,99.56 640.79,100.64 C641.53,101.71 642.90,103.13 643.33,103.63" stroke="#1a60ff" stroke-width="0.8" fill="none" opacity="0.70" filter="url(#bblur)"/>
<path d="M588.02,41.85 C588.14,42.17 588.54,43.11 588.73,43.75 C588.93,44.40 589.08,45.06 589.21,45.73 C589.34,46.39 589.40,47.07 589.52,47.73 C589.64,48.40 589.85,49.39 589.91,49.72" stroke="#1a60ff" stroke-width="0.8" fill="none" opacity="0.64" filter="url(#bblur)"/>
<path d="M655.63,53.42 C656.00,53.56 657.11,53.96 657.85,54.24 C658.59,54.51 659.35,54.73 660.07,55.05 C660.78,55.37 661.44,55.83 662.15,56.17 C662.86,56.51 663.96,56.94 664.32,57.09" stroke="#1a60ff" stroke-width="0.8" fill="none" opacity="0.61" filter="url(#bblur)"/>
<path d="M613.25,47.39 C613.74,47.63 615.26,48.23 616.16,48.80 C617.07,49.37 617.81,50.19 618.69,50.82 C619.56,51.45 620.44,52.11 621.41,52.57 C622.37,53.02 623.97,53.40 624.48,53.56" stroke="#1850f0" stroke-width="0.8" fill="none" opacity="0.73" filter="url(#bblur)"/>
<path d="M588.00,90.58 C588.44,90.94 589.76,92.02 590.65,92.72 C591.54,93.43 592.37,94.23 593.33,94.82 C594.30,95.41 595.40,95.77 596.43,96.24 C597.46,96.71 599.01,97.42 599.53,97.65" stroke="#1a60ff" stroke-width="0.8" fill="none" opacity="0.56" filter="url(#bblur)"/>
<path d="M616.34,76.79 C616.68,77.07 617.75,77.89 618.41,78.49 C619.07,79.09 619.77,79.68 620.30,80.39 C620.84,81.09 621.12,81.99 621.63,82.72 C622.15,83.45 623.08,84.42 623.38,84.76" stroke="#1850f0" stroke-width="0.8" fill="none" opacity="0.52" filter="url(#bblur)"/>
<path d="M647.60,38.07 C648.32,37.97 650.51,37.78 651.92,37.48 C653.34,37.17 654.69,36.53 656.11,36.24 C657.54,35.96 659.01,35.87 660.46,35.79 C661.91,35.71 664.10,35.78 664.82,35.78" stroke="#1850f0" stroke-width="0.8" fill="none" opacity="0.63" filter="url(#bblur)"/>
<path d="M617.43,96.54 C618.09,97.14 620.26,98.79 621.37,100.16 C622.47,101.54 623.35,103.16 624.07,104.78 C624.78,106.40 624.90,108.29 625.64,109.89 C626.39,111.50 628.05,113.64 628.53,114.39" stroke="#1850f0" stroke-width="0.8" fill="none" opacity="0.87" filter="url(#bblur)"/>
<polyline points="612.1,59.1 614.4,59.2 617.3,60.3 620.4,60.2 622.6,61.1 624.8,61.9 627.0,61.9 629.6,62.9 630.9,63.4 633.0,64.1 635.0,66.0 636.7,67.4 638.4,68.1" stroke="#d8f030" stroke-width="1.1" fill="none" stroke-linejoin="round" filter="url(#bblur)"/>
<polyline points="616.2,53.6 617.4,54.9 620.3,54.8 623.4,56.2 624.7,56.9 626.9,58.2 628.5,60.0 630.6,61.7 632.2,63.5 633.5,66.4 635.4,68.4 635.7,70.4 636.6,72.8 637.7,74.8 638.9,76.5 640.2,78.0" stroke="#90f060" stroke-width="1.0" fill="none" stroke-linejoin="round" filter="url(#bblur)"/>
<polyline points="622.0,46.9 623.4,48.0 625.0,48.3 627.0,49.9 628.7,51.1 630.2,52.7 631.0,54.9 631.9,57.3 633.2,58.6 634.0,61.1 634.9,62.8 637.0,65.7 638.0,66.9" stroke="#c8f040" stroke-width="1.0" fill="none" stroke-linejoin="round" filter="url(#bblur)"/>
<polyline points="627.0,72.8 628.7,74.9 630.1,75.9 631.9,78.3 633.5,78.6 634.9,79.9 637.1,79.8 639.3,80.1 641.9,79.7 642.9,79.3" stroke="#a8f050" stroke-width="1.0" fill="none" stroke-linejoin="round" filter="url(#bblur)"/>
<polyline points="641.4,64.4 641.8,65.9 642.3,68.8 643.1,71.2 643.2,73.2 643.5,76.3 644.1,77.7" stroke="#70f090" stroke-width="0.9" fill="none" stroke-linejoin="round" filter="url(#bblur)"/>
<polyline points="648.9,40.9 649.2,42.6 650.6,44.9 651.5,48.2 651.3,52.3 652.6,56.8 653.5,60.3 652.8,64.1 653.2,68.7 652.2,71.6 651.9,75.8 651.7,79.3 651.5,82.3 651.0,84.4 649.9,87.8 650.3,89.0" stroke="#40d8f0" stroke-width="1.0" fill="none" stroke-linejoin="round" filter="url(#bblur)"/>
<polyline points="654.6,41.8 655.0,44.5 655.4,47.9 655.1,51.7 654.8,55.5 654.6,59.6 654.8,64.0 654.8,68.1 655.2,71.5 655.6,75.8 656.3,80.2 656.6,85.2 656.5,87.9" stroke="#30c8ff" stroke-width="0.9" fill="none" stroke-linejoin="round" filter="url(#bblur)"/>
<polyline points="618.9,69.8 620.8,70.7 622.4,72.0 625.5,73.8 626.4,76.4 628.5,78.5 629.8,80.3 631.4,81.4 634.0,83.1 635.3,83.9" stroke="#50e8d0" stroke-width="0.9" fill="none" stroke-linejoin="round" filter="url(#bblur)"/>
<polyline points="640.4,49.6 641.5,51.2 643.0,54.0 644.9,56.3 646.1,58.7 647.9,61.2 647.7,64.2 648.2,67.6 646.8,70.6 645.6,74.3 644.9,76.8 644.1,79.7 643.9,82.0" stroke="#60f0b0" stroke-width="0.9" fill="none" stroke-linejoin="round" filter="url(#bblur)"/>
<polyline points="629.7,69.9 631.0,70.7 631.5,72.6 633.4,74.4 634.2,74.8 635.6,76.8 636.4,77.0" stroke="#f0e030" stroke-width="1.1" fill="none" stroke-linejoin="round" filter="url(#bblur)"/>
<polyline points="635.9,45.1 637.1,47.3 638.0,49.5 638.8,52.0 639.9,54.1 640.5,56.9 640.7,57.8" stroke="#60f0a0" stroke-width="0.9" fill="none" stroke-linejoin="round" filter="url(#bblur)"/>
<polyline points="610.8,66.4 612.4,66.8 615.2,67.5 617.3,67.7 619.2,69.7 621.2,71.0 623.4,72.4" stroke="#40e0e0" stroke-width="0.9" fill="none" stroke-linejoin="round" filter="url(#bblur)"/>
<circle cx="605" cy="29" r="2.3" fill="none" stroke="#40b0ff" stroke-width="0.7" opacity="0.8"/>
<circle cx="646.5" cy="41.5" r="2.2" fill="#40e0b0" opacity="0.6" filter="url(#bblur)"/>
<rect x="666.0" y="107.5" width="1.9" height="1.9" fill="#000870" opacity="0.6"/>
<rect x="666.0" y="111.3" width="1.9" height="1.9" fill="#000870" opacity="0.6"/>
<rect x="666.0" y="115.1" width="1.9" height="1.9" fill="#000870" opacity="0.6"/>
<rect x="667.9" y="109.4" width="1.9" height="1.9" fill="#000870" opacity="0.6"/>
<rect x="667.9" y="113.2" width="1.9" height="1.9" fill="#000870" opacity="0.6"/>
<rect x="669.8" y="107.5" width="1.9" height="1.9" fill="#000870" opacity="0.6"/>
<rect x="669.8" y="111.3" width="1.9" height="1.9" fill="#000870" opacity="0.6"/>
<rect x="669.8" y="115.1" width="1.9" height="1.9" fill="#000870" opacity="0.6"/>
<rect x="671.7" y="109.4" width="1.9" height="1.9" fill="#000870" opacity="0.6"/>
<rect x="671.7" y="113.2" width="1.9" height="1.9" fill="#000870" opacity="0.6"/>
<rect x="673.6" y="107.5" width="1.9" height="1.9" fill="#000870" opacity="0.6"/>
<rect x="673.6" y="111.3" width="1.9" height="1.9" fill="#000870" opacity="0.6"/>
<rect x="673.6" y="115.1" width="1.9" height="1.9" fill="#000870" opacity="0.6"/>
<rect x="675.5" y="109.4" width="1.9" height="1.9" fill="#000870" opacity="0.6"/>
<rect x="675.5" y="113.2" width="1.9" height="1.9" fill="#000870" opacity="0.6"/>
<rect x="677.4" y="107.5" width="1.9" height="1.9" fill="#000870" opacity="0.6"/>
<rect x="677.4" y="111.3" width="1.9" height="1.9" fill="#000870" opacity="0.6"/>
<rect x="677.4" y="115.1" width="1.9" height="1.9" fill="#000870" opacity="0.6"/>
<rect x="679.3" y="109.4" width="1.9" height="1.9" fill="#000870" opacity="0.6"/>
<rect x="679.3" y="113.2" width="1.9" height="1.9" fill="#000870" opacity="0.6"/>
</g>
<rect x="638.0" y="42.0" width="6.2" height="6.2" fill="#6890f8" stroke="#e0802a" stroke-width="1.3"/>
<text x="641.1" y="47.4" font-size="5.6" text-anchor="middle" fill="#fff" font-weight="bold">1</text>
<rect x="650.2" y="60.7" width="6.2" height="6.2" fill="#6890f8" stroke="#9a4aa8" stroke-width="1.3"/>
<text x="653.3000000000001" y="66.1" font-size="5.6" text-anchor="middle" fill="#fff" font-weight="bold">2</text>
<rect x="623.9" y="67.89999999999999" width="6.2" height="6.2" fill="#6890f8" stroke="#e02020" stroke-width="1.3"/>
<text x="627.0" y="73.3" font-size="5.6" text-anchor="middle" fill="#fff" font-weight="bold">3</text>
<rect x="596.4" y="74.6" width="6.2" height="6.2" fill="#6890f8" stroke="#f0e020" stroke-width="1.3"/>
<text x="599.5" y="80" font-size="5.6" text-anchor="middle" fill="#fff" font-weight="bold">4</text>
<rect x="664.6" y="81.3" width="6.2" height="6.2" fill="#6890f8" stroke="#c08040" stroke-width="1.3"/>
<text x="667.7" y="86.7" font-size="5.6" text-anchor="middle" fill="#fff" font-weight="bold">5</text>
<rect x="643.3000000000001" y="103.1" width="6.2" height="6.2" fill="#6890f8" stroke="#20a040" stroke-width="1.3"/>
<text x="646.4000000000001" y="108.5" font-size="5.6" text-anchor="middle" fill="#fff" font-weight="bold">6</text>
<line x1="664.1" y1="105.3" x2="674.1" y2="105.3" stroke="#fff" stroke-width="0.7"/>
<line x1="669.1" y1="100.3" x2="669.1" y2="110.3" stroke="#fff" stroke-width="0.7"/>
<polygon points="674.6,105.3 672.6,106.5 672.6,104.1" fill="#fff" stroke="none" stroke-width="1"/>
<polygon points="663.6,105.3 665.6,104.1 665.6,106.5" fill="#fff" stroke="none" stroke-width="1"/>
<polygon points="669.1,110.8 667.9,108.8 670.3,108.8" fill="#fff" stroke="none" stroke-width="1"/>
<polygon points="669.1,99.8 670.3,101.8 667.9,101.8" fill="#fff" stroke="none" stroke-width="1"/>
<text x="669.1" y="98.9" font-size="5" text-anchor="middle" fill="#fff">P</text>
<text x="669.1" y="115.8" font-size="5" text-anchor="middle" fill="#fff">A</text>
<text x="660.6" y="107.1" font-size="5" text-anchor="middle" fill="#fff">M</text>
<text x="677.1" y="107.1" font-size="5" text-anchor="middle" fill="#fff">L</text>
<line x1="591.1" y1="112.7" x2="597.2" y2="112.7" stroke="#fff" stroke-width="0.9"/>
<path d="M595,108 L596.2,106.6" stroke="#60c0ff" stroke-width="0.6"/>
<text x="259.2" y="174.6" font-size="19.5" text-anchor="start" fill="#000" font-weight="bold">e</text>
<rect x="312.4" y="180.5" width="25.899999999999977" height="77.0" fill="#ededed"/>
<polygon points="287.0,215.1 287.2,215.2 287.5,215.3 287.9,215.5 288.2,215.7 288.6,215.8 289.0,215.9 289.4,216.0 289.8,216.1 290.2,216.2 290.7,216.2 291.1,216.1 291.5,215.9 291.9,215.6 292.4,215.0 292.8,214.5 293.2,213.8 293.6,213.2 294.0,212.6 294.4,212.0 294.9,211.4 295.3,210.8 295.7,210.2 296.1,209.7 296.5,209.2 297.0,208.9 297.4,208.6 297.8,208.3 298.3,208.1 298.7,207.8 299.0,207.6 299.4,207.3 299.6,206.9 299.9,206.6 300.2,206.3 300.4,206.0 300.7,205.9 301.0,205.9 301.2,206.0 301.5,206.2 301.8,206.4 302.0,206.6 302.4,206.7 302.7,206.9 303.1,207.3 303.6,207.6 304.0,207.8 304.4,207.8 304.9,207.6 305.3,206.9 305.7,206.0 306.2,204.9 306.6,203.7 307.0,202.6 307.4,201.7 307.7,201.1 308.0,200.6 308.3,200.1 308.5,199.7 308.8,199.1 309.1,198.4 309.3,197.5 309.6,196.4 309.9,195.2 310.2,194.0 310.4,192.8 310.7,191.7 311.0,190.6 311.3,189.5 311.6,188.4 311.8,187.3 312.1,186.5 312.4,185.9 312.7,185.5 312.9,185.4 313.2,185.4 313.5,185.5 313.8,185.7 314.1,185.9 314.3,186.0 314.6,186.3 314.9,186.6 315.2,186.9 315.5,187.2 315.7,187.5 316.0,187.9 316.3,188.3 316.6,188.7 316.8,189.1 317.1,189.3 317.4,189.2 317.7,188.8 318.0,188.1 318.2,187.2 318.5,186.3 318.8,185.6 319.1,185.2 319.3,185.2 319.6,185.5 319.9,186.0 320.2,186.6 320.5,187.2 320.7,187.7 321.0,188.2 321.3,188.6 321.6,189.1 321.9,189.7 322.1,190.3 322.4,191.1 322.7,192.0 323.0,193.0 323.2,194.2 323.5,195.4 323.8,196.6 324.1,197.7 324.4,198.9 324.6,200.0 324.9,201.1 325.2,202.2 325.5,203.3 325.8,204.4 326.0,205.5 326.3,206.6 326.6,207.8 326.9,208.8 327.1,209.6 327.4,210.3 327.7,210.6 328.0,210.7 328.3,210.6 328.5,210.4 328.8,210.1 329.1,209.9 329.4,209.7 329.6,209.4 329.9,209.1 330.2,208.8 330.5,208.5 330.8,208.3 331.0,208.0 331.3,207.8 331.6,207.6 331.9,207.5 332.2,207.4 332.4,207.4 332.7,207.6 333.0,207.8 333.3,208.2 333.5,208.5 333.8,208.8 334.1,209.1 334.4,209.3 334.7,209.6 334.9,209.8 335.2,210.0 335.5,210.0 335.8,209.9 336.0,209.7 336.3,209.4 336.6,209.0 336.9,208.4 337.2,207.6 337.4,206.6 337.7,205.1 338.0,203.1 338.3,201.0 338.6,198.8 338.8,197.0 339.1,195.6 339.4,194.7 339.7,194.2 339.9,193.9 340.2,193.9 340.5,193.9 340.8,193.9 341.1,194.0 341.3,194.2 341.6,194.6 341.9,195.0 342.2,195.3 342.5,195.6 342.7,195.8 343.0,196.1 343.3,196.3 343.6,196.5 343.8,196.5 344.1,196.4 344.4,196.2 344.7,195.9 345.0,195.5 345.2,194.9 345.5,194.1 345.8,193.1 346.1,191.6 346.3,189.7 346.6,187.6 346.9,185.5 347.2,183.7 347.5,182.4 347.7,181.6 348.0,181.2 348.3,181.1 348.6,181.2 348.9,181.3 349.1,181.6 349.4,181.9 349.7,182.5 350.0,183.1 350.2,183.8 350.5,184.4 350.8,184.9 351.1,185.2 351.4,185.5 351.6,185.7 351.9,185.9 352.2,185.9 352.5,185.7 352.7,185.4 353.0,185.0 353.3,184.4 353.5,183.7 353.8,183.0 354.1,182.4 354.5,181.7 354.9,180.8 355.4,180.0 355.8,179.2 356.3,178.6 356.6,178.2 357.0,178.1 357.3,178.3 357.5,178.6 357.8,179.0 358.0,179.4 358.3,179.9 358.6,180.3 358.9,180.9 359.2,181.5 359.4,182.0 359.7,182.6 360.0,183.2 360.3,183.8 360.5,184.3 360.8,184.8 361.1,185.4 361.4,186.0 361.7,186.6 361.9,187.2 362.2,188.0 362.5,188.7 362.8,189.4 363.1,190.1 363.3,190.7 363.6,191.3 363.8,191.8 364.0,192.3 364.2,192.7 364.4,193.0 364.5,193.2 364.5,241.2 364.4,241.0 364.2,240.7 364.0,240.3 363.8,239.8 363.6,239.3 363.3,238.7 363.1,238.1 362.8,237.4 362.5,236.7 362.2,236.0 361.9,235.2 361.7,234.6 361.4,234.0 361.1,233.4 360.8,232.8 360.5,232.3 360.3,231.8 360.0,231.2 359.7,230.6 359.4,230.0 359.2,229.5 358.9,228.9 358.6,228.3 358.3,227.9 358.0,227.4 357.8,227.0 357.5,226.6 357.3,226.3 357.0,226.1 356.6,226.2 356.3,226.6 355.8,227.2 355.4,228.0 354.9,228.8 354.5,229.7 354.1,230.4 353.8,231.0 353.5,231.7 353.3,232.4 353.0,233.0 352.7,233.4 352.5,233.7 352.2,233.9 351.9,233.9 351.6,233.7 351.4,233.5 351.1,233.2 350.8,232.9 350.5,232.4 350.2,231.8 350.0,231.1 349.7,230.5 349.4,229.9 349.1,229.6 348.9,229.4 348.6,229.5 348.3,229.6 348.0,229.8 347.7,230.1 347.5,230.4 347.2,230.7 346.9,231.1 346.6,231.6 346.3,232.1 346.1,232.6 345.8,233.1 345.5,233.6 345.2,234.3 345.0,235.0 344.7,235.6 344.4,236.1 344.1,236.4 343.8,236.5 343.6,236.5 343.3,236.3 343.0,236.1 342.7,235.8 342.5,235.6 342.2,235.3 341.9,235.0 341.6,234.6 341.3,234.2 341.1,234.0 340.8,233.9 340.5,234.0 340.2,234.3 339.9,234.7 339.7,235.1 339.4,235.4 339.1,235.6 338.8,235.5 338.6,235.3 338.3,235.0 338.0,234.7 337.7,234.5 337.4,234.6 337.2,234.9 336.9,235.5 336.6,236.2 336.3,237.0 336.0,237.6 335.8,237.9 335.5,238.0 335.2,238.0 334.9,237.8 334.7,237.6 334.4,237.3 334.1,237.1 333.8,236.8 333.5,236.5 333.3,236.2 333.0,235.8 332.7,235.6 332.4,235.4 332.2,235.4 331.9,235.5 331.6,235.6 331.3,235.8 331.0,236.0 330.8,236.3 330.5,236.5 330.2,236.9 329.9,237.4 329.6,237.7 329.4,237.9 329.1,237.9 328.8,237.6 328.5,237.2 328.3,236.6 328.0,235.8 327.7,235.1 327.4,234.3 327.1,233.4 326.9,232.5 326.6,231.5 326.3,230.5 326.0,229.5 325.8,228.4 325.5,227.3 325.2,226.2 324.9,225.1 324.6,224.0 324.4,222.9 324.1,221.7 323.8,220.6 323.5,219.4 323.2,218.2 323.0,217.0 322.7,216.0 322.4,215.1 322.1,214.3 321.9,213.7 321.6,213.1 321.3,212.6 321.0,212.2 320.7,211.7 320.5,211.3 320.2,210.9 319.9,210.5 319.6,210.1 319.3,209.7 319.1,209.2 318.8,208.6 318.5,207.9 318.2,207.2 318.0,206.4 317.7,205.8 317.4,205.2 317.1,204.8 316.8,204.5 316.6,204.2 316.3,204.0 316.0,203.8 315.7,203.5 315.5,203.2 315.2,202.9 314.9,202.6 314.6,202.3 314.3,202.0 314.1,201.9 313.8,201.7 313.5,201.5 313.2,201.4 312.9,201.4 312.7,201.5 312.4,201.9 312.1,202.5 311.8,203.3 311.6,204.4 311.3,205.5 311.0,206.6 310.7,207.7 310.4,208.8 310.2,210.0 309.9,211.2 309.6,212.4 309.3,213.5 309.1,214.4 308.8,215.2 308.5,216.0 308.3,216.7 308.0,217.3 307.7,217.6 307.4,217.7 307.0,217.4 306.6,216.8 306.2,215.9 305.7,215.0 305.3,214.2 304.9,213.6 304.4,213.2 304.0,213.0 303.6,212.9 303.1,212.9 302.7,212.8 302.4,212.7 302.0,212.6 301.8,212.4 301.5,212.2 301.2,212.0 301.0,211.9 300.7,211.9 300.4,212.0 300.2,212.3 299.9,212.6 299.6,212.9 299.4,213.3 299.0,213.6 298.7,213.8 298.3,214.1 297.8,214.3 297.4,214.6 297.0,214.9 296.5,215.2 296.1,215.7 295.7,216.2 295.3,216.8 294.9,217.4 294.4,218.0 294.0,218.6 293.6,219.1 293.2,219.6 292.8,220.1 292.4,220.7 291.9,221.3 291.5,221.9 291.1,222.7 290.7,223.7 290.2,224.7 289.8,225.6 289.4,226.4 289.0,226.9 288.6,227.1 288.2,227.0 287.9,226.8 287.5,226.5 287.2,226.2 287.0,226.1" fill="#d3ead3" stroke="none" stroke-width="1" style="mix-blend-mode:multiply"/>
<polygon points="287.0,198.9 287.2,198.9 287.5,199.0 287.9,199.1 288.2,199.2 288.6,199.4 289.0,199.7 289.4,200.2 289.8,200.9 290.2,201.7 290.7,202.4 291.1,203.2 291.5,203.7 291.9,204.1 292.4,204.5 292.8,204.8 293.2,205.0 293.6,205.2 294.0,205.4 294.4,205.6 294.9,205.8 295.3,206.0 295.7,206.1 296.1,206.2 296.5,206.2 297.0,206.1 297.4,206.0 297.8,205.8 298.3,205.5 298.7,205.3 299.0,205.1 299.4,204.9 299.6,204.7 299.9,204.5 300.2,204.3 300.4,204.2 300.7,204.2 301.0,204.3 301.3,204.4 301.5,204.6 301.8,204.8 302.1,205.1 302.4,205.4 302.6,205.7 302.9,206.1 303.2,206.5 303.5,207.0 303.8,207.4 304.0,207.9 304.3,208.4 304.6,208.9 304.9,209.5 305.2,210.0 305.4,210.6 305.7,211.1 306.0,211.6 306.3,212.1 306.5,212.6 306.8,213.1 307.1,213.4 307.4,213.6 307.7,213.6 307.9,213.4 308.2,213.1 308.5,212.7 308.8,212.3 309.1,211.9 309.3,211.5 309.6,210.9 309.9,210.3 310.2,209.7 310.4,209.1 310.7,208.6 311.0,208.0 311.3,207.3 311.6,206.6 311.9,206.0 312.1,205.5 312.4,205.2 312.6,205.1 312.9,205.1 313.1,205.2 313.3,205.4 313.5,205.7 313.7,206.1 313.9,206.4 314.1,206.8 314.3,207.3 314.5,207.9 314.7,208.6 314.9,209.4 315.1,210.4 315.4,211.6 315.7,212.9 316.0,214.2 316.3,215.6 316.6,216.9 316.8,218.2 317.1,219.5 317.4,220.9 317.7,222.2 318.0,223.6 318.2,224.9 318.5,226.4 318.8,227.8 319.1,229.3 319.3,230.7 319.6,232.1 319.9,233.3 320.2,234.4 320.5,235.4 320.8,236.3 321.0,237.1 321.3,237.7 321.6,238.3 321.8,238.7 322.1,239.0 322.3,239.2 322.5,239.3 322.7,239.2 322.9,239.1 323.1,239.0 323.3,238.8 323.5,238.6 323.7,238.1 323.9,237.5 324.1,236.6 324.3,235.4 324.6,233.9 324.9,232.2 325.2,230.4 325.5,228.5 325.8,226.6 326.0,224.8 326.3,222.9 326.6,221.0 326.9,219.0 327.1,217.0 327.4,214.9 327.7,212.7 328.0,210.4 328.3,208.0 328.5,205.8 328.8,203.7 329.1,201.9 329.4,200.4 329.7,199.2 329.9,198.1 330.2,197.2 330.5,196.6 330.8,196.1 331.0,195.8 331.2,195.7 331.5,195.8 331.7,196.1 331.9,196.4 332.1,196.9 332.3,197.5 332.5,198.3 332.7,199.2 332.8,200.1 333.0,201.1 333.3,201.9 333.5,202.7 333.8,203.6 334.1,204.4 334.4,205.1 334.7,205.7 334.9,206.1 335.2,206.2 335.5,206.0 335.8,205.8 336.0,205.4 336.3,204.9 336.6,204.4 336.9,203.9 337.2,203.3 337.4,202.6 337.7,201.8 338.0,201.1 338.3,200.2 338.6,199.3 338.8,198.3 339.1,197.2 339.4,196.1 339.7,195.2 339.9,194.4 340.2,193.7 340.5,193.1 340.8,192.6 341.1,192.2 341.3,191.9 341.6,191.9 341.9,192.1 342.2,192.4 342.5,192.9 342.7,193.6 343.0,194.4 343.3,195.2 343.6,196.3 343.8,197.6 344.1,199.0 344.4,200.4 344.7,201.7 345.0,202.7 345.2,203.6 345.5,204.2 345.7,204.8 346.0,205.2 346.3,205.7 346.6,206.1 347.0,206.5 347.4,206.8 347.9,207.2 348.3,207.4 348.8,207.6 349.1,207.7 349.4,207.8 349.7,207.7 350.0,207.5 350.2,207.3 350.5,207.1 350.8,206.9 351.2,206.7 351.6,206.4 352.0,206.1 352.4,205.8 352.9,205.5 353.3,205.2 353.7,205.0 354.1,204.7 354.6,204.4 355.0,204.1 355.4,203.8 355.8,203.6 356.2,203.3 356.7,203.0 357.1,202.8 357.5,202.5 357.9,202.2 358.3,201.9 358.6,201.5 358.9,201.0 359.2,200.4 359.5,200.0 359.7,199.6 360.0,199.4 360.3,199.4 360.5,199.6 360.8,199.9 361.1,200.3 361.4,200.7 361.7,201.1 361.9,201.4 362.2,201.9 362.5,202.3 362.8,202.8 363.1,203.2 363.3,203.6 363.6,203.9 363.8,204.3 364.0,204.6 364.2,204.8 364.4,205.1 364.5,205.2 364.5,224.2 364.4,224.1 364.2,223.8 364.0,223.6 363.8,223.3 363.6,222.9 363.3,222.6 363.1,222.2 362.8,221.8 362.5,221.3 362.2,220.9 361.9,220.4 361.7,220.1 361.4,219.7 361.1,219.3 360.8,218.9 360.5,218.6 360.3,218.4 360.0,218.4 359.7,218.6 359.5,219.0 359.2,219.4 358.9,220.0 358.6,220.5 358.3,220.9 357.9,221.2 357.5,221.5 357.1,221.8 356.7,222.0 356.2,222.3 355.8,222.6 355.4,222.8 355.0,223.1 354.6,223.4 354.1,223.7 353.7,224.0 353.3,224.2 352.9,224.5 352.4,224.8 352.0,225.1 351.6,225.4 351.2,225.7 350.8,225.9 350.5,226.1 350.2,226.3 350.0,226.5 349.7,226.7 349.4,226.8 349.1,226.7 348.8,226.6 348.3,226.4 347.9,226.2 347.4,225.8 347.0,225.5 346.6,225.1 346.3,224.7 346.0,224.2 345.7,223.8 345.5,223.2 345.2,222.6 345.0,221.7 344.7,220.7 344.4,219.4 344.1,218.0 343.8,216.6 343.6,215.3 343.3,214.2 343.0,213.4 342.7,212.6 342.5,211.9 342.2,211.4 341.9,211.1 341.6,210.9 341.3,210.9 341.1,211.2 340.8,211.6 340.5,212.1 340.2,212.7 339.9,213.4 339.7,214.2 339.4,215.1 339.1,216.2 338.8,217.3 338.6,218.3 338.3,219.2 338.0,220.1 337.7,220.8 337.4,221.6 337.2,222.3 336.9,222.9 336.6,223.4 336.3,223.9 336.0,224.4 335.8,224.8 335.5,225.0 335.2,225.2 334.9,225.1 334.7,224.7 334.4,224.1 334.1,223.4 333.8,222.6 333.5,221.7 333.3,220.9 333.0,220.1 332.8,219.1 332.7,218.2 332.5,217.3 332.3,216.5 332.1,215.9 331.9,215.4 331.7,215.1 331.5,214.8 331.2,214.7 331.0,214.8 330.8,215.1 330.5,215.6 330.2,216.5 329.9,217.5 329.7,218.6 329.4,219.8 329.1,220.9 328.8,221.9 328.5,223.0 328.3,224.0 328.0,225.2 327.7,226.5 327.4,227.9 327.1,229.6 326.9,231.5 326.6,233.6 326.3,235.7 326.0,237.7 325.8,239.6 325.5,241.5 325.2,243.4 324.9,245.2 324.6,246.9 324.3,248.4 324.1,249.6 323.9,250.5 323.7,251.1 323.5,251.6 323.3,251.8 323.1,252.0 322.9,252.1 322.7,252.2 322.5,252.3 322.3,252.2 322.1,252.0 321.8,251.7 321.6,251.3 321.3,250.7 321.0,250.1 320.8,249.3 320.5,248.4 320.2,247.4 319.9,246.3 319.6,245.1 319.3,243.9 319.1,242.6 318.8,241.1 318.5,239.6 318.2,237.9 318.0,236.1 317.7,234.0 317.4,231.9 317.1,229.7 316.8,227.7 316.6,225.9 316.3,224.4 316.0,222.9 315.7,221.6 315.4,220.4 315.1,219.4 314.9,218.4 314.7,217.6 314.5,216.9 314.3,216.3 314.1,215.8 313.9,215.4 313.7,215.1 313.5,214.7 313.3,214.4 313.1,214.2 312.9,214.1 312.6,214.1 312.4,214.2 312.1,214.5 311.9,215.0 311.6,215.6 311.3,216.3 311.0,217.0 310.7,217.6 310.4,218.1 310.2,218.7 309.9,219.3 309.6,219.9 309.3,220.5 309.1,220.9 308.8,221.3 308.5,221.7 308.2,222.1 307.9,222.4 307.7,222.6 307.4,222.6 307.1,222.4 306.8,222.2 306.5,221.8 306.3,221.3 306.0,220.7 305.7,220.1 305.4,219.3 305.2,218.4 304.9,217.5 304.6,216.5 304.3,215.6 304.0,214.9 303.8,214.3 303.5,213.8 303.2,213.4 302.9,213.0 302.6,212.7 302.4,212.4 302.1,212.1 301.8,211.8 301.5,211.6 301.3,211.4 301.0,211.3 300.7,211.2 300.4,211.2 300.2,211.3 299.9,211.5 299.6,211.7 299.4,211.9 299.0,212.1 298.7,212.3 298.3,212.5 297.8,212.8 297.4,213.0 297.0,213.1 296.5,213.2 296.1,213.2 295.7,213.1 295.3,213.0 294.9,212.8 294.4,212.6 294.0,212.4 293.6,212.2 293.2,211.9 292.8,211.6 292.4,211.3 291.9,211.0 291.5,210.7 291.1,210.5 290.7,210.3 290.2,210.2 289.8,210.0 289.4,209.9 289.0,209.7 288.6,209.6 288.2,209.4 287.9,209.2 287.5,209.1 287.2,209.0 287.0,208.9" fill="#ead0ea" stroke="none" stroke-width="1" style="mix-blend-mode:multiply"/>
<line x1="312.4" y1="180.5" x2="312.4" y2="257.5" stroke="#777" stroke-width="0.6" stroke-dasharray="1,1"/>
<path d="M287.01,220.59 C287.34,220.72 288.26,221.70 289.01,221.42 C289.76,221.14 290.68,219.89 291.52,218.92 C292.35,217.94 293.19,216.69 294.02,215.58 C294.86,214.46 295.69,213.07 296.53,212.24 C297.36,211.40 298.33,211.12 299.03,210.57 C299.73,210.01 300.14,209.03 300.70,208.90 C301.26,208.76 301.67,209.45 302.37,209.73 C303.07,210.01 304.04,210.57 304.88,210.57 C305.71,210.57 306.68,210.43 307.38,209.73 C308.08,209.03 308.49,208.06 309.05,206.39 C309.61,204.72 310.16,201.80 310.72,199.71 C311.28,197.62 311.83,194.84 312.39,193.87 C312.95,192.89 313.50,193.59 314.06,193.87 C314.62,194.14 315.17,194.98 315.73,195.54 C316.29,196.09 316.84,196.93 317.40,197.21 C317.96,197.48 318.51,196.79 319.07,197.21 C319.63,197.62 320.18,198.74 320.74,199.71 C321.30,200.68 321.85,201.38 322.41,203.05 C322.97,204.72 323.52,207.50 324.08,209.73 C324.64,211.96 325.19,214.32 325.75,216.41 C326.31,218.50 326.86,221.00 327.42,222.26 C327.98,223.51 328.53,223.93 329.09,223.93 C329.65,223.93 330.20,222.67 330.76,222.26 C331.32,221.84 331.87,221.28 332.43,221.42 C332.99,221.56 333.54,222.67 334.10,223.09 C334.66,223.51 335.21,224.34 335.77,223.93 C336.33,223.51 336.88,221.98 337.44,220.59 C338.00,219.19 338.55,216.69 339.11,215.58 C339.67,214.46 340.22,213.91 340.78,213.91 C341.34,213.91 341.89,215.16 342.45,215.58 C343.01,215.99 343.56,216.83 344.12,216.41 C344.68,215.99 345.23,214.74 345.79,213.07 C346.35,211.40 346.90,207.64 347.46,206.39 C348.02,205.14 348.57,205.14 349.13,205.56 C349.69,205.97 350.24,208.20 350.80,208.90 C351.36,209.59 351.91,210.15 352.47,209.73 C353.03,209.31 353.44,207.64 354.14,206.39 C354.84,205.14 355.95,202.63 356.65,202.22 C357.34,201.80 357.76,203.05 358.32,203.89 C358.87,204.72 359.43,206.11 359.99,207.23 C360.54,208.34 361.10,209.31 361.66,210.57 C362.21,211.82 362.85,213.63 363.33,214.74 C363.80,215.85 364.30,216.83 364.49,217.25" stroke="#3aa83a" stroke-width="1.25" fill="none"/>
<path d="M287.01,203.89 C287.34,204.02 288.26,204.16 289.01,204.72 C289.76,205.28 290.68,206.53 291.52,207.23 C292.35,207.92 293.19,208.48 294.02,208.90 C294.86,209.31 295.69,209.79 296.53,209.73 C297.36,209.67 298.33,208.90 299.03,208.56 C299.73,208.23 300.14,207.67 300.70,207.73 C301.26,207.78 301.81,208.28 302.37,208.90 C302.93,209.51 303.48,210.29 304.04,211.40 C304.60,212.51 305.15,214.46 305.71,215.58 C306.27,216.69 306.82,217.94 307.38,218.08 C307.94,218.22 308.49,217.25 309.05,216.41 C309.61,215.58 310.16,214.18 310.72,213.07 C311.28,211.96 311.89,210.15 312.39,209.73 C312.89,209.31 313.31,209.87 313.73,210.57 C314.14,211.26 314.42,212.10 314.90,213.91 C315.37,215.71 316.01,218.50 316.57,221.42 C317.12,224.34 317.68,228.38 318.24,231.44 C318.79,234.50 319.35,237.56 319.91,239.79 C320.46,242.02 321.07,243.83 321.58,244.80 C322.08,245.77 322.49,245.91 322.91,245.64 C323.33,245.36 323.61,245.22 324.08,243.13 C324.55,241.04 325.19,236.73 325.75,233.11 C326.31,229.49 326.86,225.04 327.42,221.42 C327.98,217.80 328.53,214.04 329.09,211.40 C329.65,208.76 330.26,206.39 330.76,205.56 C331.26,204.72 331.68,205.42 332.10,206.39 C332.51,207.36 332.79,209.87 333.27,211.40 C333.74,212.93 334.38,215.16 334.94,215.58 C335.49,215.99 336.05,214.88 336.61,213.91 C337.16,212.93 337.72,211.40 338.28,209.73 C338.83,208.06 339.39,205.28 339.95,203.89 C340.50,202.49 341.06,201.24 341.62,201.38 C342.17,201.52 342.73,202.91 343.29,204.72 C343.84,206.53 344.40,210.43 344.96,212.24 C345.51,214.04 345.93,214.74 346.63,215.58 C347.32,216.41 348.43,217.11 349.13,217.25 C349.83,217.38 350.10,216.83 350.80,216.41 C351.50,215.99 352.47,215.30 353.31,214.74 C354.14,214.18 354.98,213.63 355.81,213.07 C356.65,212.51 357.62,212.10 358.32,211.40 C359.01,210.70 359.43,209.03 359.99,208.90 C360.54,208.76 361.10,209.87 361.66,210.57 C362.21,211.26 362.85,212.37 363.33,213.07 C363.80,213.77 364.30,214.46 364.49,214.74" stroke="#b04cb8" stroke-width="1.25" fill="none"/>
<line x1="286.4" y1="180.5" x2="286.4" y2="257.5" stroke="#555" stroke-width="1.0"/>
<line x1="285.9" y1="257.5" x2="364.4" y2="257.5" stroke="#777" stroke-width="1.3"/>
<line x1="286.5" y1="257.5" x2="286.5" y2="259.7" stroke="#444" stroke-width="0.8"/>
<line x1="299.45" y1="257.5" x2="299.45" y2="259.0" stroke="#444" stroke-width="0.8"/>
<line x1="312.4" y1="257.5" x2="312.4" y2="259.7" stroke="#444" stroke-width="0.8"/>
<line x1="325.34999999999997" y1="257.5" x2="325.34999999999997" y2="259.0" stroke="#444" stroke-width="0.8"/>
<line x1="338.29999999999995" y1="257.5" x2="338.29999999999995" y2="259.7" stroke="#444" stroke-width="0.8"/>
<line x1="351.25" y1="257.5" x2="351.25" y2="259.0" stroke="#444" stroke-width="0.8"/>
<line x1="364.2" y1="257.5" x2="364.2" y2="259.7" stroke="#444" stroke-width="0.8"/>
<line x1="284.2" y1="190.12" x2="286.4" y2="190.12" stroke="#444" stroke-width="0.8"/>
<line x1="284.2" y1="210.56" x2="286.4" y2="210.56" stroke="#444" stroke-width="0.8"/>
<line x1="284.2" y1="231.0" x2="286.4" y2="231.0" stroke="#444" stroke-width="0.8"/>
<line x1="284.2" y1="251.44" x2="286.4" y2="251.44" stroke="#444" stroke-width="0.8"/>
<line x1="285.0" y1="200.34" x2="286.4" y2="200.34" stroke="#444" stroke-width="0.8"/>
<line x1="285.0" y1="220.78" x2="286.4" y2="220.78" stroke="#444" stroke-width="0.8"/>
<line x1="285.0" y1="241.22" x2="286.4" y2="241.22" stroke="#444" stroke-width="0.8"/>
<text x="283.4" y="193.62" font-size="10" text-anchor="end" fill="#1a1a1a">1</text>
<text x="283.4" y="214.06" font-size="10" text-anchor="end" fill="#1a1a1a">0</text>
<text x="283.4" y="234.5" font-size="10" text-anchor="end" fill="#1a1a1a">-1</text>
<text x="283.4" y="254.94" font-size="10" text-anchor="end" fill="#1a1a1a">-2</text>
<text x="286.5" y="270.2" font-size="10.2" text-anchor="middle" fill="#1a1a1a">-1</text>
<text x="312.4" y="270.2" font-size="10.2" text-anchor="middle" fill="#1a1a1a">0</text>
<text x="338.29999999999995" y="270.2" font-size="10.2" text-anchor="middle" fill="#1a1a1a">1</text>
<text x="364.2" y="270.2" font-size="10.2" text-anchor="middle" fill="#1a1a1a">2</text>
<text x="325.4" y="282.5" font-size="10" text-anchor="middle" fill="#1a1a1a">Time (s)</text>
<text x="272.5" y="219" font-size="10.5" text-anchor="middle" fill="#1a1a1a" transform="rotate(-90 272.5 219)">ΔF/F (z-score)</text>
<line x1="344.3" y1="241.6" x2="353" y2="241.6" stroke="#d49ade" stroke-width="1.3"/>
<text x="357.6" y="244.7" font-size="7.9" text-anchor="start" fill="#1a1a1a">R</text>
<line x1="344.3" y1="250.3" x2="353" y2="250.3" stroke="#58b858" stroke-width="1.2"/>
<text x="357.6" y="253.3" font-size="7.9" text-anchor="start" fill="#1a1a1a">NR</text>
<rect x="455.5" y="180.7" width="25.899999999999977" height="77.5" fill="#ededed"/>
<polygon points="429.6,196.8 429.8,196.5 430.1,196.2 430.5,195.9 430.9,195.5 431.3,195.1 431.7,194.6 432.2,194.1 432.7,193.6 433.3,193.0 433.8,192.4 434.4,191.9 435.0,191.4 435.5,191.0 436.0,190.6 436.6,190.2 437.1,189.9 437.6,189.6 438.2,189.3 438.7,189.0 439.3,188.8 439.8,188.5 440.4,188.4 440.9,188.2 441.4,188.2 441.8,188.3 442.1,188.4 442.4,188.6 442.8,188.8 443.1,189.1 443.5,189.3 444.0,189.5 444.5,189.6 445.1,189.8 445.6,190.0 446.2,190.2 446.7,190.3 447.3,190.5 447.8,190.6 448.3,190.6 448.9,190.7 449.4,190.8 449.9,190.8 450.5,190.7 451.0,190.7 451.6,190.6 452.2,190.5 452.7,190.4 453.1,190.3 453.6,190.3 453.9,190.2 454.3,190.2 454.6,190.1 454.9,190.0 455.3,189.9 455.6,189.7 456.0,189.4 456.4,189.1 456.7,188.9 457.1,188.6 457.4,188.5 457.8,188.6 458.1,188.7 458.5,188.9 458.9,189.1 459.2,189.3 459.6,189.6 459.9,189.9 460.3,190.3 460.6,190.7 461.0,191.1 461.4,191.5 461.7,191.7 462.1,191.8 462.4,191.8 462.8,191.7 463.1,191.7 463.5,191.7 463.8,192.0 464.2,192.4 464.6,193.1 464.9,193.8 465.3,194.7 465.6,195.5 466.0,196.2 466.3,197.0 466.7,197.7 467.1,198.5 467.4,199.2 467.8,199.9 468.1,200.5 468.5,201.1 468.8,201.6 469.2,202.1 469.6,202.6 469.9,203.0 470.3,203.3 470.6,203.6 471.0,203.9 471.3,204.1 471.7,204.3 472.1,204.4 472.4,204.4 472.8,204.3 473.1,204.1 473.5,203.8 473.8,203.4 474.2,203.1 474.5,202.7 474.9,202.2 475.3,201.7 475.6,201.1 476.0,200.5 476.3,199.9 476.7,199.4 477.0,199.0 477.4,198.6 477.8,198.2 478.1,197.9 478.5,197.6 478.8,197.3 479.2,197.1 479.5,197.0 479.9,196.9 480.3,196.8 480.6,196.6 481.0,196.2 481.3,195.7 481.7,195.0 482.0,194.2 482.4,193.5 482.8,192.7 483.1,192.2 483.5,191.7 483.8,191.3 484.2,191.0 484.5,190.7 484.9,190.6 485.2,190.5 485.6,190.5 486.0,190.6 486.4,190.8 486.8,191.1 487.1,191.3 487.4,191.5 487.6,191.8 487.8,192.1 487.9,192.4 488.1,192.6 488.2,192.7 488.5,192.6 488.8,192.2 489.1,191.5 489.5,190.7 489.8,189.8 490.2,189.0 490.6,188.3 491.0,187.8 491.3,187.4 491.7,187.0 492.0,186.7 492.4,186.4 492.7,186.2 493.1,186.1 493.5,186.0 493.8,186.1 494.2,186.1 494.5,186.2 494.9,186.2 495.2,186.1 495.6,186.1 495.9,186.1 496.3,186.0 496.7,185.9 497.0,185.8 497.4,185.5 497.7,185.3 498.1,184.9 498.4,184.6 498.8,184.3 499.2,184.0 499.5,183.8 499.9,183.5 500.2,183.3 500.6,183.1 500.9,183.0 501.3,183.0 501.7,183.1 502.0,183.4 502.4,183.8 502.7,184.3 503.1,184.7 503.4,185.1 503.8,185.5 504.2,185.8 504.5,186.2 504.9,186.5 505.2,186.9 505.6,187.2 505.9,187.6 506.2,188.0 506.6,188.5 506.9,188.8 507.1,189.2 507.3,189.4 507.3,208.4 507.1,208.2 506.9,207.8 506.6,207.5 506.2,207.0 505.9,206.6 505.6,206.2 505.2,205.9 504.9,205.5 504.5,205.2 504.2,204.8 503.8,204.5 503.4,204.1 503.1,203.7 502.7,203.3 502.4,202.8 502.0,202.4 501.7,202.1 501.3,202.0 500.9,202.0 500.6,202.1 500.2,202.3 499.9,202.5 499.5,202.8 499.2,203.0 498.8,203.3 498.4,203.6 498.1,203.9 497.7,204.3 497.4,204.5 497.0,204.8 496.7,204.9 496.3,205.0 495.9,205.1 495.6,205.1 495.2,205.1 494.9,205.2 494.5,205.2 494.2,205.1 493.8,205.1 493.5,205.0 493.1,205.1 492.7,205.2 492.4,205.4 492.0,205.7 491.7,206.0 491.3,206.4 491.0,206.8 490.6,207.3 490.2,208.0 489.8,208.8 489.5,209.7 489.1,210.5 488.8,211.2 488.5,211.6 488.2,211.7 488.1,211.6 487.9,211.4 487.8,211.1 487.6,210.8 487.4,210.5 487.1,210.3 486.8,210.1 486.4,209.8 486.0,209.6 485.6,209.5 485.2,209.5 484.9,209.6 484.5,209.8 484.2,210.2 483.8,210.5 483.5,210.9 483.1,211.2 482.8,211.4 482.4,211.6 482.0,211.7 481.7,211.9 481.3,212.1 481.0,212.2 480.6,212.4 480.3,212.6 479.9,212.7 479.5,212.9 479.2,213.1 478.8,213.3 478.5,213.6 478.1,213.9 477.8,214.2 477.4,214.6 477.0,215.0 476.7,215.4 476.3,215.9 476.0,216.5 475.6,217.1 475.3,217.7 474.9,218.2 474.5,218.7 474.2,219.1 473.8,219.4 473.5,219.8 473.1,220.1 472.8,220.3 472.4,220.4 472.1,220.4 471.7,220.3 471.3,220.1 471.0,219.9 470.6,219.6 470.3,219.3 469.9,219.0 469.6,218.6 469.2,218.1 468.8,217.6 468.5,217.1 468.1,216.5 467.8,215.9 467.4,215.2 467.1,214.5 466.7,213.7 466.3,213.0 466.0,212.2 465.6,211.5 465.3,210.9 464.9,210.2 464.6,209.5 464.2,208.8 463.8,208.0 463.5,207.0 463.1,205.9 462.8,204.7 462.4,203.6 462.1,202.6 461.7,201.7 461.4,201.1 461.0,200.7 460.6,200.4 460.3,200.1 459.9,199.9 459.6,199.6 459.2,199.4 458.9,199.2 458.5,199.1 458.1,198.9 457.8,198.8 457.4,198.5 457.1,198.2 456.7,197.8 456.4,197.3 456.0,196.9 455.6,196.5 455.3,196.3 454.9,196.2 454.6,196.3 454.3,196.4 453.9,196.5 453.6,196.6 453.1,196.7 452.7,196.8 452.2,196.9 451.6,197.0 451.0,197.1 450.5,197.1 449.9,197.2 449.4,197.2 448.9,197.1 448.3,197.0 447.8,197.0 447.3,196.9 446.7,196.7 446.2,196.6 445.6,196.4 445.1,196.2 444.5,196.0 444.0,195.9 443.5,195.7 443.1,195.5 442.8,195.2 442.4,195.0 442.1,194.8 441.8,194.7 441.4,194.6 440.9,194.6 440.4,194.8 439.8,194.9 439.3,195.2 438.7,195.4 438.2,195.7 437.6,196.0 437.1,196.3 436.6,196.6 436.0,197.0 435.5,197.4 435.0,197.8 434.4,198.3 433.8,198.8 433.3,199.4 432.7,200.0 432.2,200.5 431.7,201.0 431.3,201.5 430.9,201.9 430.5,202.3 430.1,202.6 429.8,202.9 429.6,203.2" fill="#d3ead3" stroke="none" stroke-width="1" style="mix-blend-mode:multiply"/>
<polygon points="429.6,197.4 429.8,197.1 430.1,196.6 430.5,196.2 430.9,195.6 431.3,195.2 431.7,194.8 432.2,194.5 432.7,194.2 433.3,193.9 433.8,193.7 434.4,193.6 435.0,193.5 435.5,193.5 436.0,193.6 436.6,193.7 437.1,193.9 437.6,194.1 438.2,194.1 438.7,194.2 439.2,194.3 439.8,194.4 440.3,194.4 440.8,194.4 441.4,194.1 441.9,193.7 442.5,193.1 443.1,192.4 443.6,191.7 444.1,191.0 444.6,190.5 445.0,190.1 445.4,189.7 445.7,189.3 446.1,189.0 446.4,188.8 446.7,188.8 447.1,188.9 447.4,189.3 447.8,189.7 448.2,190.2 448.5,190.6 448.9,190.9 449.2,191.2 449.6,191.4 449.9,191.6 450.3,191.8 450.7,191.9 451.0,192.0 451.4,192.0 451.7,191.9 452.1,191.8 452.4,191.6 452.8,191.5 453.1,191.4 453.5,191.2 453.9,191.0 454.2,190.8 454.6,190.7 454.9,190.7 455.3,190.9 455.6,191.4 456.0,192.1 456.4,192.9 456.7,193.8 457.1,194.8 457.4,195.9 457.8,197.0 458.1,198.1 458.5,199.3 458.9,200.6 459.2,202.1 459.6,203.7 459.9,205.6 460.3,207.6 460.6,209.8 461.0,212.1 461.4,214.4 461.7,216.6 462.1,218.7 462.4,221.0 462.8,223.2 463.1,225.4 463.5,227.4 463.8,229.4 464.2,231.3 464.6,233.1 465.0,234.8 465.3,236.4 465.7,237.8 466.0,239.0 466.3,240.0 466.5,240.8 466.8,241.4 467.0,241.9 467.2,242.1 467.5,242.2 467.8,242.1 468.0,241.9 468.3,241.4 468.6,240.8 468.9,240.0 469.2,239.0 469.5,237.8 469.9,236.3 470.2,234.7 470.6,232.9 471.0,231.1 471.3,229.4 471.7,227.7 472.1,225.8 472.4,224.0 472.8,222.1 473.1,220.4 473.5,218.7 473.8,217.1 474.2,215.6 474.5,214.2 474.9,212.8 475.3,211.5 475.6,210.1 476.0,208.8 476.3,207.5 476.7,206.2 477.0,204.9 477.4,203.8 477.8,202.6 478.1,201.6 478.5,200.6 478.8,199.7 479.2,198.9 479.5,198.0 479.9,197.3 480.3,196.6 480.6,195.9 481.0,195.3 481.3,194.8 481.7,194.3 482.0,194.0 482.4,193.7 482.8,193.6 483.1,193.5 483.5,193.5 483.8,193.5 484.2,193.5 484.5,193.6 484.9,193.7 485.2,193.8 485.6,193.9 486.0,194.0 486.3,194.0 486.7,193.8 487.0,193.6 487.4,193.3 487.7,193.1 488.1,192.9 488.5,192.9 488.8,193.1 489.2,193.5 489.5,194.0 489.9,194.4 490.2,194.8 490.6,195.0 491.0,195.0 491.3,194.9 491.7,194.7 492.0,194.4 492.4,194.2 492.7,194.0 493.1,193.7 493.5,193.5 493.8,193.2 494.2,193.0 494.5,192.9 494.9,192.9 495.2,193.1 495.6,193.4 495.9,193.9 496.3,194.3 496.7,194.7 497.0,195.0 497.4,195.3 497.7,195.4 498.1,195.6 498.4,195.7 498.8,195.7 499.2,195.7 499.5,195.5 499.9,195.3 500.2,195.0 500.6,194.7 500.9,194.3 501.3,194.0 501.7,193.5 502.0,193.1 502.4,192.5 502.7,192.1 503.1,191.7 503.4,191.4 503.8,191.3 504.2,191.3 504.5,191.3 504.9,191.5 505.2,191.6 505.6,191.8 505.9,192.1 506.2,192.4 506.6,192.7 506.9,193.0 507.1,193.3 507.3,193.5 507.3,205.5 507.1,205.3 506.9,205.0 506.6,204.7 506.2,204.4 505.9,204.1 505.6,203.8 505.2,203.6 504.9,203.5 504.5,203.3 504.2,203.3 503.8,203.3 503.4,203.4 503.1,203.7 502.7,204.1 502.4,204.5 502.0,205.1 501.7,205.5 501.3,206.0 500.9,206.3 500.6,206.7 500.2,207.0 499.9,207.3 499.5,207.5 499.2,207.7 498.8,207.7 498.4,207.7 498.1,207.6 497.7,207.4 497.4,207.3 497.0,207.0 496.7,206.7 496.3,206.3 495.9,205.9 495.6,205.4 495.2,205.1 494.9,204.9 494.5,204.9 494.2,205.0 493.8,205.2 493.5,205.5 493.1,205.7 492.7,206.0 492.4,206.2 492.0,206.4 491.7,206.7 491.3,206.9 491.0,207.0 490.6,207.0 490.2,206.8 489.9,206.4 489.5,206.0 489.2,205.5 488.8,205.1 488.5,204.9 488.1,204.9 487.7,205.1 487.4,205.3 487.0,205.6 486.7,205.8 486.3,206.0 486.0,206.0 485.6,205.9 485.2,205.8 484.9,205.7 484.5,205.6 484.2,205.5 483.8,205.5 483.5,205.6 483.1,205.7 482.8,205.7 482.4,205.8 482.0,206.0 481.7,206.0 481.3,206.1 481.0,206.1 480.6,206.2 480.3,206.5 479.9,206.9 479.5,207.5 479.2,208.3 478.8,209.2 478.5,210.1 478.1,211.2 477.8,212.2 477.4,213.4 477.0,214.5 476.7,215.8 476.3,217.1 476.0,218.4 475.6,219.7 475.3,221.1 474.9,222.4 474.5,223.8 474.2,225.2 473.8,226.7 473.5,228.3 473.1,230.0 472.8,231.7 472.4,233.6 472.1,235.4 471.7,237.3 471.3,239.0 471.0,240.7 470.6,242.5 470.2,244.3 469.9,245.9 469.5,247.4 469.2,248.6 468.9,249.6 468.6,250.4 468.3,251.0 468.0,251.5 467.8,251.7 467.5,251.8 467.2,251.7 467.0,251.5 466.8,251.0 466.5,250.4 466.3,249.6 466.0,248.6 465.7,247.4 465.3,246.0 465.0,244.4 464.6,242.7 464.2,240.9 463.8,239.0 463.5,237.0 463.1,235.0 462.8,232.8 462.4,230.6 462.1,228.3 461.7,226.2 461.4,224.0 461.0,221.8 460.6,219.7 460.3,217.5 459.9,215.4 459.6,213.3 459.2,211.3 458.9,209.2 458.5,207.2 458.1,205.2 457.8,203.4 457.4,201.9 457.1,200.5 456.7,199.3 456.4,198.3 456.0,197.4 455.6,196.7 455.3,196.1 454.9,195.9 454.6,195.8 454.2,196.0 453.9,196.2 453.5,196.4 453.1,196.6 452.8,196.7 452.4,196.8 452.1,197.0 451.7,197.1 451.4,197.2 451.0,197.2 450.7,197.1 450.3,197.0 449.9,196.8 449.6,196.6 449.2,196.4 448.9,196.1 448.5,195.8 448.2,195.4 447.8,194.9 447.4,194.5 447.1,194.1 446.7,194.0 446.4,194.0 446.1,194.2 445.7,194.5 445.4,194.9 445.0,195.3 444.6,195.7 444.1,196.2 443.6,196.9 443.1,197.6 442.5,198.3 441.9,198.9 441.4,199.3 440.8,199.6 440.3,199.6 439.8,199.6 439.2,199.5 438.7,199.4 438.2,199.3 437.6,199.3 437.1,199.1 436.6,198.9 436.0,198.8 435.5,198.7 435.0,198.7 434.4,198.8 433.8,198.9 433.3,199.1 432.7,199.4 432.2,199.7 431.7,200.0 431.3,200.4 430.9,200.8 430.5,201.4 430.1,201.8 429.8,202.3 429.6,202.6" fill="#ead0ea" stroke="none" stroke-width="1" style="mix-blend-mode:multiply"/>
<line x1="455.5" y1="180.7" x2="455.5" y2="258.2" stroke="#777" stroke-width="0.6" stroke-dasharray="1,1"/>
<path d="M429.61,199.96 C429.97,199.60 430.86,198.71 431.75,197.82 C432.64,196.93 433.89,195.50 434.96,194.61 C436.03,193.72 437.10,193.00 438.17,192.47 C439.24,191.93 440.49,191.40 441.38,191.40 C442.27,191.40 442.63,192.11 443.52,192.47 C444.41,192.83 445.66,193.29 446.73,193.54 C447.80,193.79 448.87,193.97 449.94,193.97 C451.01,193.97 452.26,193.68 453.15,193.54 C454.04,193.40 454.58,193.11 455.29,193.11 C456.00,193.11 456.72,193.29 457.43,193.54 C458.14,193.79 458.86,194.07 459.57,194.61 C460.28,195.14 461.00,195.86 461.71,196.75 C462.42,197.64 463.14,198.71 463.85,199.96 C464.56,201.21 465.28,202.81 465.99,204.24 C466.70,205.67 467.42,207.34 468.13,208.52 C468.84,209.70 469.56,210.66 470.27,211.30 C470.98,211.94 471.70,212.48 472.41,212.37 C473.12,212.26 473.84,211.48 474.55,210.66 C475.26,209.84 475.98,208.34 476.69,207.45 C477.40,206.56 478.12,205.84 478.83,205.31 C479.54,204.77 480.26,204.85 480.97,204.24 C481.68,203.63 482.39,202.38 483.11,201.67 C483.82,200.96 484.53,200.07 485.25,199.96 C485.96,199.85 486.85,200.67 487.39,201.03 C487.92,201.39 487.92,202.63 488.46,202.10 C488.99,201.56 489.88,198.89 490.60,197.82 C491.31,196.75 492.02,196.04 492.74,195.68 C493.45,195.32 494.16,195.75 494.88,195.68 C495.59,195.61 496.30,195.61 497.02,195.25 C497.73,194.89 498.44,194.00 499.16,193.54 C499.87,193.08 500.58,192.29 501.30,192.47 C502.01,192.65 502.72,193.90 503.44,194.61 C504.15,195.32 504.94,196.04 505.58,196.75 C506.22,197.46 507.00,198.53 507.29,198.89" stroke="#3aa83a" stroke-width="1.25" fill="none"/>
<path d="M429.61,199.96 C429.97,199.53 430.86,198.03 431.75,197.39 C432.64,196.75 433.89,196.21 434.96,196.11 C436.03,196.00 437.10,196.64 438.17,196.75 C439.24,196.86 440.31,197.36 441.38,196.75 C442.45,196.14 443.70,194.00 444.59,193.11 C445.48,192.22 446.02,191.33 446.73,191.40 C447.44,191.47 448.16,193.00 448.87,193.54 C449.58,194.07 450.30,194.54 451.01,194.61 C451.72,194.68 452.44,194.15 453.15,193.97 C453.86,193.79 454.58,192.72 455.29,193.54 C456.00,194.36 456.72,196.39 457.43,198.89 C458.14,201.39 458.86,204.77 459.57,208.52 C460.28,212.26 461.00,217.08 461.71,221.36 C462.42,225.64 463.14,230.45 463.85,234.20 C464.56,237.94 465.38,241.69 465.99,243.83 C466.59,245.97 466.95,247.04 467.49,247.04 C468.02,247.04 468.56,245.97 469.20,243.83 C469.84,241.69 470.63,237.59 471.34,234.20 C472.05,230.81 472.77,226.71 473.48,223.50 C474.19,220.29 474.91,217.61 475.62,214.94 C476.33,212.26 477.05,209.59 477.76,207.45 C478.47,205.31 479.19,203.35 479.90,202.10 C480.61,200.85 481.32,200.39 482.04,199.96 C482.75,199.53 483.46,199.53 484.18,199.53 C484.89,199.53 485.60,200.07 486.32,199.96 C487.03,199.85 487.74,198.71 488.46,198.89 C489.17,199.07 489.88,200.85 490.60,201.03 C491.31,201.21 492.02,200.32 492.74,199.96 C493.45,199.60 494.16,198.71 494.88,198.89 C495.59,199.07 496.30,200.57 497.02,201.03 C497.73,201.49 498.44,201.85 499.16,201.67 C499.87,201.49 500.58,200.67 501.30,199.96 C502.01,199.25 502.72,197.75 503.44,197.39 C504.15,197.03 504.94,197.46 505.58,197.82 C506.22,198.18 507.00,199.25 507.29,199.53" stroke="#b04cb8" stroke-width="1.25" fill="none"/>
<line x1="429.6" y1="180.7" x2="429.6" y2="258.2" stroke="#555" stroke-width="1.0"/>
<line x1="429.1" y1="258.2" x2="507.3" y2="258.2" stroke="#777" stroke-width="1.3"/>
<line x1="429.6" y1="258.2" x2="429.6" y2="260.4" stroke="#444" stroke-width="0.8"/>
<line x1="442.55" y1="258.2" x2="442.55" y2="259.7" stroke="#444" stroke-width="0.8"/>
<line x1="455.5" y1="258.2" x2="455.5" y2="260.4" stroke="#444" stroke-width="0.8"/>
<line x1="468.45" y1="258.2" x2="468.45" y2="259.7" stroke="#444" stroke-width="0.8"/>
<line x1="481.4" y1="258.2" x2="481.4" y2="260.4" stroke="#444" stroke-width="0.8"/>
<line x1="494.35" y1="258.2" x2="494.35" y2="259.7" stroke="#444" stroke-width="0.8"/>
<line x1="507.3" y1="258.2" x2="507.3" y2="260.4" stroke="#444" stroke-width="0.8"/>
<line x1="427.40000000000003" y1="195.3" x2="429.6" y2="195.3" stroke="#444" stroke-width="0.8"/>
<line x1="427.40000000000003" y1="223.5" x2="429.6" y2="223.5" stroke="#444" stroke-width="0.8"/>
<line x1="427.40000000000003" y1="251.70000000000002" x2="429.6" y2="251.70000000000002" stroke="#444" stroke-width="0.8"/>
<line x1="428.20000000000005" y1="181.20000000000002" x2="429.6" y2="181.20000000000002" stroke="#444" stroke-width="0.8"/>
<line x1="428.20000000000005" y1="209.4" x2="429.6" y2="209.4" stroke="#444" stroke-width="0.8"/>
<line x1="428.20000000000005" y1="237.60000000000002" x2="429.6" y2="237.60000000000002" stroke="#444" stroke-width="0.8"/>
<line x1="428.20000000000005" y1="265.8" x2="429.6" y2="265.8" stroke="#444" stroke-width="0.8"/>
<text x="426.6" y="198.8" font-size="10" text-anchor="end" fill="#1a1a1a">0.0</text>
<text x="426.6" y="227.0" font-size="10" text-anchor="end" fill="#1a1a1a">-0.8</text>
<text x="426.6" y="255.20000000000002" font-size="10" text-anchor="end" fill="#1a1a1a">-1.6</text>
<text x="429.6" y="270.9" font-size="10.2" text-anchor="middle" fill="#1a1a1a">-1</text>
<text x="455.5" y="270.9" font-size="10.2" text-anchor="middle" fill="#1a1a1a">0</text>
<text x="481.4" y="270.9" font-size="10.2" text-anchor="middle" fill="#1a1a1a">1</text>
<text x="507.3" y="270.9" font-size="10.2" text-anchor="middle" fill="#1a1a1a">2</text>
<text x="468.45000000000005" y="283.2" font-size="10" text-anchor="middle" fill="#1a1a1a">Time (s)</text>
<g class="hm" transform="translate(288.30,295.70) scale(2.0946,2.5800)">
<rect x="0" y="0" width="1.04" height="1.04" fill="#b63c6e"/>
<rect x="1" y="0" width="1.04" height="1.04" fill="#b53b6f"/>
<rect x="2" y="0" width="1.04" height="1.04" fill="#d45258"/>
<rect x="3" y="0" width="1.04" height="1.04" fill="#c54565"/>
<rect x="4" y="0" width="1.04" height="1.04" fill="#a53476"/>
<rect x="5" y="0" width="1.04" height="1.04" fill="#a53476"/>
<rect x="6" y="0" width="1.04" height="1.04" fill="#a23278"/>
<rect x="7" y="0" width="1.04" height="1.04" fill="#ab3773"/>
<rect x="8" y="0" width="1.04" height="1.04" fill="#a23278"/>
<rect x="9" y="0" width="1.04" height="1.04" fill="#b83d6d"/>
<rect x="10" y="0" width="1.04" height="1.04" fill="#b93d6d"/>
<rect x="11" y="0" width="1.04" height="1.04" fill="#cd4c5e"/>
<rect x="12" y="0" width="1.04" height="1.04" fill="#b23a70"/>
<rect x="13" y="0" width="1.04" height="1.04" fill="#88277f"/>
<rect x="14" y="0" width="1.04" height="1.04" fill="#7f2480"/>
<rect x="15" y="0" width="1.04" height="1.04" fill="#792181"/>
<rect x="16" y="0" width="1.04" height="1.04" fill="#62187a"/>
<rect x="17" y="0" width="1.04" height="1.04" fill="#741f82"/>
<rect x="18" y="0" width="1.04" height="1.04" fill="#721f82"/>
<rect x="19" y="0" width="1.04" height="1.04" fill="#8f2a7e"/>
<rect x="20" y="0" width="1.04" height="1.04" fill="#812480"/>
<rect x="21" y="0" width="1.04" height="1.04" fill="#85267f"/>
<rect x="22" y="0" width="1.04" height="1.04" fill="#762081"/>
<rect x="23" y="0" width="1.04" height="1.04" fill="#7f2480"/>
<rect x="24" y="0" width="1.04" height="1.04" fill="#972d7d"/>
<rect x="25" y="0" width="1.04" height="1.04" fill="#a43377"/>
<rect x="26" y="0" width="1.04" height="1.04" fill="#912a7e"/>
<rect x="27" y="0" width="1.04" height="1.04" fill="#792181"/>
<rect x="28" y="0" width="1.04" height="1.04" fill="#8a287f"/>
<rect x="29" y="0" width="1.04" height="1.04" fill="#7f2480"/>
<rect x="30" y="0" width="1.04" height="1.04" fill="#772181"/>
<rect x="31" y="0" width="1.04" height="1.04" fill="#87277f"/>
<rect x="32" y="0" width="1.04" height="1.04" fill="#6c1c80"/>
<rect x="33" y="0" width="1.04" height="1.04" fill="#741f82"/>
<rect x="34" y="0" width="1.04" height="1.04" fill="#7c2380"/>
<rect x="35" y="0" width="1.04" height="1.04" fill="#741f82"/>
<rect x="36" y="0" width="1.04" height="1.04" fill="#63197b"/>
<rect x="0" y="1" width="1.04" height="1.04" fill="#a73476"/>
<rect x="1" y="1" width="1.04" height="1.04" fill="#c04169"/>
<rect x="2" y="1" width="1.04" height="1.04" fill="#ba3e6c"/>
<rect x="3" y="1" width="1.04" height="1.04" fill="#c54565"/>
<rect x="4" y="1" width="1.04" height="1.04" fill="#bd3f6b"/>
<rect x="5" y="1" width="1.04" height="1.04" fill="#b73d6d"/>
<rect x="6" y="1" width="1.04" height="1.04" fill="#b53c6e"/>
<rect x="7" y="1" width="1.04" height="1.04" fill="#b33b6f"/>
<rect x="8" y="1" width="1.04" height="1.04" fill="#b43b6f"/>
<rect x="9" y="1" width="1.04" height="1.04" fill="#be406a"/>
<rect x="10" y="1" width="1.04" height="1.04" fill="#c64664"/>
<rect x="11" y="1" width="1.04" height="1.04" fill="#af3971"/>
<rect x="12" y="1" width="1.04" height="1.04" fill="#772081"/>
<rect x="13" y="1" width="1.04" height="1.04" fill="#3e0e61"/>
<rect x="14" y="1" width="1.04" height="1.04" fill="#1d0a3d"/>
<rect x="15" y="1" width="1.04" height="1.04" fill="#190936"/>
<rect x="16" y="1" width="1.04" height="1.04" fill="#480f6b"/>
<rect x="17" y="1" width="1.04" height="1.04" fill="#5e1778"/>
<rect x="18" y="1" width="1.04" height="1.04" fill="#89287f"/>
<rect x="19" y="1" width="1.04" height="1.04" fill="#7c2380"/>
<rect x="20" y="1" width="1.04" height="1.04" fill="#681b7e"/>
<rect x="21" y="1" width="1.04" height="1.04" fill="#762081"/>
<rect x="22" y="1" width="1.04" height="1.04" fill="#792281"/>
<rect x="23" y="1" width="1.04" height="1.04" fill="#8b287f"/>
<rect x="24" y="1" width="1.04" height="1.04" fill="#972d7d"/>
<rect x="25" y="1" width="1.04" height="1.04" fill="#ce4d5d"/>
<rect x="26" y="1" width="1.04" height="1.04" fill="#da5753"/>
<rect x="27" y="1" width="1.04" height="1.04" fill="#e46545"/>
<rect x="28" y="1" width="1.04" height="1.04" fill="#d35159"/>
<rect x="29" y="1" width="1.04" height="1.04" fill="#be406a"/>
<rect x="30" y="1" width="1.04" height="1.04" fill="#ba3e6c"/>
<rect x="31" y="1" width="1.04" height="1.04" fill="#ed7334"/>
<rect x="32" y="1" width="1.04" height="1.04" fill="#f48427"/>
<rect x="33" y="1" width="1.04" height="1.04" fill="#f9a217"/>
<rect x="34" y="1" width="1.04" height="1.04" fill="#faaf1c"/>
<rect x="35" y="1" width="1.04" height="1.04" fill="#f9b725"/>
<rect x="36" y="1" width="1.04" height="1.04" fill="#f8991c"/>
<rect x="0" y="2" width="1.04" height="1.04" fill="#c94862"/>
<rect x="1" y="2" width="1.04" height="1.04" fill="#bc3f6b"/>
<rect x="2" y="2" width="1.04" height="1.04" fill="#c34367"/>
<rect x="3" y="2" width="1.04" height="1.04" fill="#bb3e6c"/>
<rect x="4" y="2" width="1.04" height="1.04" fill="#ce4d5d"/>
<rect x="5" y="2" width="1.04" height="1.04" fill="#b43b6f"/>
<rect x="6" y="2" width="1.04" height="1.04" fill="#a63476"/>
<rect x="7" y="2" width="1.04" height="1.04" fill="#a83575"/>
<rect x="8" y="2" width="1.04" height="1.04" fill="#8f2a7e"/>
<rect x="9" y="2" width="1.04" height="1.04" fill="#8f2a7e"/>
<rect x="10" y="2" width="1.04" height="1.04" fill="#912a7e"/>
<rect x="11" y="2" width="1.04" height="1.04" fill="#922b7e"/>
<rect x="12" y="2" width="1.04" height="1.04" fill="#812480"/>
<rect x="13" y="2" width="1.04" height="1.04" fill="#972d7d"/>
<rect x="14" y="2" width="1.04" height="1.04" fill="#aa3674"/>
<rect x="15" y="2" width="1.04" height="1.04" fill="#ab3773"/>
<rect x="16" y="2" width="1.04" height="1.04" fill="#992d7d"/>
<rect x="17" y="2" width="1.04" height="1.04" fill="#982d7d"/>
<rect x="18" y="2" width="1.04" height="1.04" fill="#ae3872"/>
<rect x="19" y="2" width="1.04" height="1.04" fill="#b63c6e"/>
<rect x="20" y="2" width="1.04" height="1.04" fill="#aa3674"/>
<rect x="21" y="2" width="1.04" height="1.04" fill="#912a7e"/>
<rect x="22" y="2" width="1.04" height="1.04" fill="#9b2f7b"/>
<rect x="23" y="2" width="1.04" height="1.04" fill="#9e307a"/>
<rect x="24" y="2" width="1.04" height="1.04" fill="#9d2f7b"/>
<rect x="25" y="2" width="1.04" height="1.04" fill="#a13179"/>
<rect x="26" y="2" width="1.04" height="1.04" fill="#8b287f"/>
<rect x="27" y="2" width="1.04" height="1.04" fill="#65197c"/>
<rect x="28" y="2" width="1.04" height="1.04" fill="#3a0e5d"/>
<rect x="29" y="2" width="1.04" height="1.04" fill="#3a0e5d"/>
<rect x="30" y="2" width="1.04" height="1.04" fill="#4e106f"/>
<rect x="31" y="2" width="1.04" height="1.04" fill="#5c1677"/>
<rect x="32" y="2" width="1.04" height="1.04" fill="#6e1d81"/>
<rect x="33" y="2" width="1.04" height="1.04" fill="#8c297e"/>
<rect x="34" y="2" width="1.04" height="1.04" fill="#742081"/>
<rect x="35" y="2" width="1.04" height="1.04" fill="#721f82"/>
<rect x="36" y="2" width="1.04" height="1.04" fill="#651a7c"/>
<rect x="0" y="3" width="1.04" height="1.04" fill="#cb4a60"/>
<rect x="1" y="3" width="1.04" height="1.04" fill="#bd406a"/>
<rect x="2" y="3" width="1.04" height="1.04" fill="#cb4a60"/>
<rect x="3" y="3" width="1.04" height="1.04" fill="#cb4a60"/>
<rect x="4" y="3" width="1.04" height="1.04" fill="#b93d6d"/>
<rect x="5" y="3" width="1.04" height="1.04" fill="#bf4169"/>
<rect x="6" y="3" width="1.04" height="1.04" fill="#bd3f6b"/>
<rect x="7" y="3" width="1.04" height="1.04" fill="#c04169"/>
<rect x="8" y="3" width="1.04" height="1.04" fill="#bd3f6b"/>
<rect x="9" y="3" width="1.04" height="1.04" fill="#c14268"/>
<rect x="10" y="3" width="1.04" height="1.04" fill="#c14268"/>
<rect x="11" y="3" width="1.04" height="1.04" fill="#a43377"/>
<rect x="12" y="3" width="1.04" height="1.04" fill="#a13278"/>
<rect x="13" y="3" width="1.04" height="1.04" fill="#86267f"/>
<rect x="14" y="3" width="1.04" height="1.04" fill="#721f82"/>
<rect x="15" y="3" width="1.04" height="1.04" fill="#752081"/>
<rect x="16" y="3" width="1.04" height="1.04" fill="#6f1e82"/>
<rect x="17" y="3" width="1.04" height="1.04" fill="#6f1e82"/>
<rect x="18" y="3" width="1.04" height="1.04" fill="#691b7e"/>
<rect x="19" y="3" width="1.04" height="1.04" fill="#822580"/>
<rect x="20" y="3" width="1.04" height="1.04" fill="#922b7e"/>
<rect x="21" y="3" width="1.04" height="1.04" fill="#85267f"/>
<rect x="22" y="3" width="1.04" height="1.04" fill="#9b2e7c"/>
<rect x="23" y="3" width="1.04" height="1.04" fill="#942b7e"/>
<rect x="24" y="3" width="1.04" height="1.04" fill="#8f297e"/>
<rect x="25" y="3" width="1.04" height="1.04" fill="#9a2e7c"/>
<rect x="26" y="3" width="1.04" height="1.04" fill="#c44466"/>
<rect x="27" y="3" width="1.04" height="1.04" fill="#d14f5b"/>
<rect x="28" y="3" width="1.04" height="1.04" fill="#d85555"/>
<rect x="29" y="3" width="1.04" height="1.04" fill="#ee7532"/>
<rect x="30" y="3" width="1.04" height="1.04" fill="#e05d4d"/>
<rect x="31" y="3" width="1.04" height="1.04" fill="#b43b6f"/>
<rect x="32" y="3" width="1.04" height="1.04" fill="#822580"/>
<rect x="33" y="3" width="1.04" height="1.04" fill="#762081"/>
<rect x="34" y="3" width="1.04" height="1.04" fill="#6f1e81"/>
<rect x="35" y="3" width="1.04" height="1.04" fill="#6c1c80"/>
<rect x="36" y="3" width="1.04" height="1.04" fill="#511171"/>
<rect x="0" y="4" width="1.04" height="1.04" fill="#a43377"/>
<rect x="1" y="4" width="1.04" height="1.04" fill="#922b7e"/>
<rect x="2" y="4" width="1.04" height="1.04" fill="#ba3e6c"/>
<rect x="3" y="4" width="1.04" height="1.04" fill="#ad3773"/>
<rect x="4" y="4" width="1.04" height="1.04" fill="#b73c6e"/>
<rect x="5" y="4" width="1.04" height="1.04" fill="#b43b6f"/>
<rect x="6" y="4" width="1.04" height="1.04" fill="#a13179"/>
<rect x="7" y="4" width="1.04" height="1.04" fill="#a53377"/>
<rect x="8" y="4" width="1.04" height="1.04" fill="#9d2f7b"/>
<rect x="9" y="4" width="1.04" height="1.04" fill="#992e7c"/>
<rect x="10" y="4" width="1.04" height="1.04" fill="#9a2e7c"/>
<rect x="11" y="4" width="1.04" height="1.04" fill="#782181"/>
<rect x="12" y="4" width="1.04" height="1.04" fill="#912b7e"/>
<rect x="13" y="4" width="1.04" height="1.04" fill="#932b7e"/>
<rect x="14" y="4" width="1.04" height="1.04" fill="#8c287f"/>
<rect x="15" y="4" width="1.04" height="1.04" fill="#a03179"/>
<rect x="16" y="4" width="1.04" height="1.04" fill="#87277f"/>
<rect x="17" y="4" width="1.04" height="1.04" fill="#62187a"/>
<rect x="18" y="4" width="1.04" height="1.04" fill="#742081"/>
<rect x="19" y="4" width="1.04" height="1.04" fill="#6f1e81"/>
<rect x="20" y="4" width="1.04" height="1.04" fill="#782181"/>
<rect x="21" y="4" width="1.04" height="1.04" fill="#762081"/>
<rect x="22" y="4" width="1.04" height="1.04" fill="#792281"/>
<rect x="23" y="4" width="1.04" height="1.04" fill="#6a1b7f"/>
<rect x="24" y="4" width="1.04" height="1.04" fill="#591576"/>
<rect x="25" y="4" width="1.04" height="1.04" fill="#440e67"/>
<rect x="26" y="4" width="1.04" height="1.04" fill="#2e0d51"/>
<rect x="27" y="4" width="1.04" height="1.04" fill="#400e63"/>
<rect x="28" y="4" width="1.04" height="1.04" fill="#3d0e60"/>
<rect x="29" y="4" width="1.04" height="1.04" fill="#3d0e60"/>
<rect x="30" y="4" width="1.04" height="1.04" fill="#4c106f"/>
<rect x="31" y="4" width="1.04" height="1.04" fill="#6b1c7f"/>
<rect x="32" y="4" width="1.04" height="1.04" fill="#762081"/>
<rect x="33" y="4" width="1.04" height="1.04" fill="#65197c"/>
<rect x="34" y="4" width="1.04" height="1.04" fill="#5b1577"/>
<rect x="35" y="4" width="1.04" height="1.04" fill="#4a0f6d"/>
<rect x="36" y="4" width="1.04" height="1.04" fill="#571474"/>
<rect x="0" y="5" width="1.04" height="1.04" fill="#ab3773"/>
<rect x="1" y="5" width="1.04" height="1.04" fill="#b13a70"/>
<rect x="2" y="5" width="1.04" height="1.04" fill="#bf4169"/>
<rect x="3" y="5" width="1.04" height="1.04" fill="#af3971"/>
<rect x="4" y="5" width="1.04" height="1.04" fill="#8c287f"/>
<rect x="5" y="5" width="1.04" height="1.04" fill="#8d297e"/>
<rect x="6" y="5" width="1.04" height="1.04" fill="#982d7d"/>
<rect x="7" y="5" width="1.04" height="1.04" fill="#812480"/>
<rect x="8" y="5" width="1.04" height="1.04" fill="#7e2380"/>
<rect x="9" y="5" width="1.04" height="1.04" fill="#7e2380"/>
<rect x="10" y="5" width="1.04" height="1.04" fill="#ad3872"/>
<rect x="11" y="5" width="1.04" height="1.04" fill="#ba3e6c"/>
<rect x="12" y="5" width="1.04" height="1.04" fill="#a43377"/>
<rect x="13" y="5" width="1.04" height="1.04" fill="#9a2e7c"/>
<rect x="14" y="5" width="1.04" height="1.04" fill="#9e307a"/>
<rect x="15" y="5" width="1.04" height="1.04" fill="#a23278"/>
<rect x="16" y="5" width="1.04" height="1.04" fill="#a53377"/>
<rect x="17" y="5" width="1.04" height="1.04" fill="#912a7e"/>
<rect x="18" y="5" width="1.04" height="1.04" fill="#88277f"/>
<rect x="19" y="5" width="1.04" height="1.04" fill="#a73476"/>
<rect x="20" y="5" width="1.04" height="1.04" fill="#a43377"/>
<rect x="21" y="5" width="1.04" height="1.04" fill="#b23a70"/>
<rect x="22" y="5" width="1.04" height="1.04" fill="#ab3674"/>
<rect x="23" y="5" width="1.04" height="1.04" fill="#ae3872"/>
<rect x="24" y="5" width="1.04" height="1.04" fill="#bb3e6c"/>
<rect x="25" y="5" width="1.04" height="1.04" fill="#c44466"/>
<rect x="26" y="5" width="1.04" height="1.04" fill="#db5753"/>
<rect x="27" y="5" width="1.04" height="1.04" fill="#e05e4c"/>
<rect x="28" y="5" width="1.04" height="1.04" fill="#d95654"/>
<rect x="29" y="5" width="1.04" height="1.04" fill="#d75456"/>
<rect x="30" y="5" width="1.04" height="1.04" fill="#e46346"/>
<rect x="31" y="5" width="1.04" height="1.04" fill="#d2505a"/>
<rect x="32" y="5" width="1.04" height="1.04" fill="#da5753"/>
<rect x="33" y="5" width="1.04" height="1.04" fill="#e15f4a"/>
<rect x="34" y="5" width="1.04" height="1.04" fill="#e96c3d"/>
<rect x="35" y="5" width="1.04" height="1.04" fill="#ec7137"/>
<rect x="36" y="5" width="1.04" height="1.04" fill="#db5753"/>
<rect x="0" y="6" width="1.04" height="1.04" fill="#ae3872"/>
<rect x="1" y="6" width="1.04" height="1.04" fill="#a33377"/>
<rect x="2" y="6" width="1.04" height="1.04" fill="#af3971"/>
<rect x="3" y="6" width="1.04" height="1.04" fill="#ac3773"/>
<rect x="4" y="6" width="1.04" height="1.04" fill="#b63c6e"/>
<rect x="5" y="6" width="1.04" height="1.04" fill="#a33377"/>
<rect x="6" y="6" width="1.04" height="1.04" fill="#a53476"/>
<rect x="7" y="6" width="1.04" height="1.04" fill="#ac3773"/>
<rect x="8" y="6" width="1.04" height="1.04" fill="#b03971"/>
<rect x="9" y="6" width="1.04" height="1.04" fill="#b83d6d"/>
<rect x="10" y="6" width="1.04" height="1.04" fill="#c74763"/>
<rect x="11" y="6" width="1.04" height="1.04" fill="#a43377"/>
<rect x="12" y="6" width="1.04" height="1.04" fill="#982d7d"/>
<rect x="13" y="6" width="1.04" height="1.04" fill="#752081"/>
<rect x="14" y="6" width="1.04" height="1.04" fill="#85267f"/>
<rect x="15" y="6" width="1.04" height="1.04" fill="#9f307a"/>
<rect x="16" y="6" width="1.04" height="1.04" fill="#992d7d"/>
<rect x="17" y="6" width="1.04" height="1.04" fill="#a43377"/>
<rect x="18" y="6" width="1.04" height="1.04" fill="#b83d6d"/>
<rect x="19" y="6" width="1.04" height="1.04" fill="#ac3773"/>
<rect x="20" y="6" width="1.04" height="1.04" fill="#ac3773"/>
<rect x="21" y="6" width="1.04" height="1.04" fill="#ac3773"/>
<rect x="22" y="6" width="1.04" height="1.04" fill="#922b7e"/>
<rect x="23" y="6" width="1.04" height="1.04" fill="#7d2380"/>
<rect x="24" y="6" width="1.04" height="1.04" fill="#822580"/>
<rect x="25" y="6" width="1.04" height="1.04" fill="#842580"/>
<rect x="26" y="6" width="1.04" height="1.04" fill="#9c2f7b"/>
<rect x="27" y="6" width="1.04" height="1.04" fill="#762081"/>
<rect x="28" y="6" width="1.04" height="1.04" fill="#4c0f6f"/>
<rect x="29" y="6" width="1.04" height="1.04" fill="#1f0b3f"/>
<rect x="30" y="6" width="1.04" height="1.04" fill="#1e0b3f"/>
<rect x="31" y="6" width="1.04" height="1.04" fill="#230c46"/>
<rect x="32" y="6" width="1.04" height="1.04" fill="#3c0e5f"/>
<rect x="33" y="6" width="1.04" height="1.04" fill="#581475"/>
<rect x="34" y="6" width="1.04" height="1.04" fill="#681b7e"/>
<rect x="35" y="6" width="1.04" height="1.04" fill="#671a7d"/>
<rect x="36" y="6" width="1.04" height="1.04" fill="#721f82"/>
<rect x="0" y="7" width="1.04" height="1.04" fill="#a63476"/>
<rect x="1" y="7" width="1.04" height="1.04" fill="#ac3773"/>
<rect x="2" y="7" width="1.04" height="1.04" fill="#aa3674"/>
<rect x="3" y="7" width="1.04" height="1.04" fill="#ab3674"/>
<rect x="4" y="7" width="1.04" height="1.04" fill="#ab3674"/>
<rect x="5" y="7" width="1.04" height="1.04" fill="#c74763"/>
<rect x="6" y="7" width="1.04" height="1.04" fill="#d55357"/>
<rect x="7" y="7" width="1.04" height="1.04" fill="#d35159"/>
<rect x="8" y="7" width="1.04" height="1.04" fill="#a93674"/>
<rect x="9" y="7" width="1.04" height="1.04" fill="#b33a70"/>
<rect x="10" y="7" width="1.04" height="1.04" fill="#c34367"/>
<rect x="11" y="7" width="1.04" height="1.04" fill="#be406a"/>
<rect x="12" y="7" width="1.04" height="1.04" fill="#9a2e7c"/>
<rect x="13" y="7" width="1.04" height="1.04" fill="#972d7d"/>
<rect x="14" y="7" width="1.04" height="1.04" fill="#c04169"/>
<rect x="15" y="7" width="1.04" height="1.04" fill="#a43377"/>
<rect x="16" y="7" width="1.04" height="1.04" fill="#752081"/>
<rect x="17" y="7" width="1.04" height="1.04" fill="#6b1c7f"/>
<rect x="18" y="7" width="1.04" height="1.04" fill="#7b2281"/>
<rect x="19" y="7" width="1.04" height="1.04" fill="#792181"/>
<rect x="20" y="7" width="1.04" height="1.04" fill="#681b7d"/>
<rect x="21" y="7" width="1.04" height="1.04" fill="#581475"/>
<rect x="22" y="7" width="1.04" height="1.04" fill="#7c2281"/>
<rect x="23" y="7" width="1.04" height="1.04" fill="#741f82"/>
<rect x="24" y="7" width="1.04" height="1.04" fill="#8c297e"/>
<rect x="25" y="7" width="1.04" height="1.04" fill="#952c7d"/>
<rect x="26" y="7" width="1.04" height="1.04" fill="#8c297e"/>
<rect x="27" y="7" width="1.04" height="1.04" fill="#84267f"/>
<rect x="28" y="7" width="1.04" height="1.04" fill="#7f2480"/>
<rect x="29" y="7" width="1.04" height="1.04" fill="#7a2281"/>
<rect x="30" y="7" width="1.04" height="1.04" fill="#701e82"/>
<rect x="31" y="7" width="1.04" height="1.04" fill="#671a7d"/>
<rect x="32" y="7" width="1.04" height="1.04" fill="#62187a"/>
<rect x="33" y="7" width="1.04" height="1.04" fill="#842580"/>
<rect x="34" y="7" width="1.04" height="1.04" fill="#9d2f7b"/>
<rect x="35" y="7" width="1.04" height="1.04" fill="#912a7e"/>
<rect x="36" y="7" width="1.04" height="1.04" fill="#912a7e"/>
<rect x="0" y="8" width="1.04" height="1.04" fill="#9c2f7b"/>
<rect x="1" y="8" width="1.04" height="1.04" fill="#a03179"/>
<rect x="2" y="8" width="1.04" height="1.04" fill="#b53c6e"/>
<rect x="3" y="8" width="1.04" height="1.04" fill="#bd3f6b"/>
<rect x="4" y="8" width="1.04" height="1.04" fill="#c14268"/>
<rect x="5" y="8" width="1.04" height="1.04" fill="#bf4169"/>
<rect x="6" y="8" width="1.04" height="1.04" fill="#c04169"/>
<rect x="7" y="8" width="1.04" height="1.04" fill="#a93575"/>
<rect x="8" y="8" width="1.04" height="1.04" fill="#b13a70"/>
<rect x="9" y="8" width="1.04" height="1.04" fill="#902a7e"/>
<rect x="10" y="8" width="1.04" height="1.04" fill="#9a2e7c"/>
<rect x="11" y="8" width="1.04" height="1.04" fill="#a73575"/>
<rect x="12" y="8" width="1.04" height="1.04" fill="#c24268"/>
<rect x="13" y="8" width="1.04" height="1.04" fill="#bb3f6b"/>
<rect x="14" y="8" width="1.04" height="1.04" fill="#cf4e5c"/>
<rect x="15" y="8" width="1.04" height="1.04" fill="#a43377"/>
<rect x="16" y="8" width="1.04" height="1.04" fill="#64197b"/>
<rect x="17" y="8" width="1.04" height="1.04" fill="#5b1677"/>
<rect x="18" y="8" width="1.04" height="1.04" fill="#591475"/>
<rect x="19" y="8" width="1.04" height="1.04" fill="#480f6b"/>
<rect x="20" y="8" width="1.04" height="1.04" fill="#681b7e"/>
<rect x="21" y="8" width="1.04" height="1.04" fill="#822580"/>
<rect x="22" y="8" width="1.04" height="1.04" fill="#942c7d"/>
<rect x="23" y="8" width="1.04" height="1.04" fill="#87277f"/>
<rect x="24" y="8" width="1.04" height="1.04" fill="#9d307a"/>
<rect x="25" y="8" width="1.04" height="1.04" fill="#a03179"/>
<rect x="26" y="8" width="1.04" height="1.04" fill="#9d2f7b"/>
<rect x="27" y="8" width="1.04" height="1.04" fill="#8c297e"/>
<rect x="28" y="8" width="1.04" height="1.04" fill="#89277f"/>
<rect x="29" y="8" width="1.04" height="1.04" fill="#8e297e"/>
<rect x="30" y="8" width="1.04" height="1.04" fill="#792181"/>
<rect x="31" y="8" width="1.04" height="1.04" fill="#7c2380"/>
<rect x="32" y="8" width="1.04" height="1.04" fill="#9e307a"/>
<rect x="33" y="8" width="1.04" height="1.04" fill="#9d307a"/>
<rect x="34" y="8" width="1.04" height="1.04" fill="#9e307a"/>
<rect x="35" y="8" width="1.04" height="1.04" fill="#992d7d"/>
<rect x="36" y="8" width="1.04" height="1.04" fill="#a93575"/>
<rect x="0" y="9" width="1.04" height="1.04" fill="#c34367"/>
<rect x="1" y="9" width="1.04" height="1.04" fill="#c14268"/>
<rect x="2" y="9" width="1.04" height="1.04" fill="#b53c6e"/>
<rect x="3" y="9" width="1.04" height="1.04" fill="#c04169"/>
<rect x="4" y="9" width="1.04" height="1.04" fill="#c74763"/>
<rect x="5" y="9" width="1.04" height="1.04" fill="#be406a"/>
<rect x="6" y="9" width="1.04" height="1.04" fill="#c24268"/>
<rect x="7" y="9" width="1.04" height="1.04" fill="#c44466"/>
<rect x="8" y="9" width="1.04" height="1.04" fill="#c94862"/>
<rect x="9" y="9" width="1.04" height="1.04" fill="#c44466"/>
<rect x="10" y="9" width="1.04" height="1.04" fill="#b23a70"/>
<rect x="11" y="9" width="1.04" height="1.04" fill="#a63476"/>
<rect x="12" y="9" width="1.04" height="1.04" fill="#8a287f"/>
<rect x="13" y="9" width="1.04" height="1.04" fill="#7e2380"/>
<rect x="14" y="9" width="1.04" height="1.04" fill="#922b7e"/>
<rect x="15" y="9" width="1.04" height="1.04" fill="#972d7d"/>
<rect x="16" y="9" width="1.04" height="1.04" fill="#8e297e"/>
<rect x="17" y="9" width="1.04" height="1.04" fill="#8d297e"/>
<rect x="18" y="9" width="1.04" height="1.04" fill="#902a7e"/>
<rect x="19" y="9" width="1.04" height="1.04" fill="#8f2a7e"/>
<rect x="20" y="9" width="1.04" height="1.04" fill="#822580"/>
<rect x="21" y="9" width="1.04" height="1.04" fill="#7a2281"/>
<rect x="22" y="9" width="1.04" height="1.04" fill="#5c1677"/>
<rect x="23" y="9" width="1.04" height="1.04" fill="#671a7d"/>
<rect x="24" y="9" width="1.04" height="1.04" fill="#822580"/>
<rect x="25" y="9" width="1.04" height="1.04" fill="#61187a"/>
<rect x="26" y="9" width="1.04" height="1.04" fill="#6d1d81"/>
<rect x="27" y="9" width="1.04" height="1.04" fill="#5b1677"/>
<rect x="28" y="9" width="1.04" height="1.04" fill="#661a7d"/>
<rect x="29" y="9" width="1.04" height="1.04" fill="#972d7d"/>
<rect x="30" y="9" width="1.04" height="1.04" fill="#962c7d"/>
<rect x="31" y="9" width="1.04" height="1.04" fill="#952c7d"/>
<rect x="32" y="9" width="1.04" height="1.04" fill="#ac3773"/>
<rect x="33" y="9" width="1.04" height="1.04" fill="#a43377"/>
<rect x="34" y="9" width="1.04" height="1.04" fill="#af3971"/>
<rect x="35" y="9" width="1.04" height="1.04" fill="#cc4b5f"/>
<rect x="36" y="9" width="1.04" height="1.04" fill="#ae3872"/>
<rect x="0" y="10" width="1.04" height="1.04" fill="#b43b6f"/>
<rect x="1" y="10" width="1.04" height="1.04" fill="#c74763"/>
<rect x="2" y="10" width="1.04" height="1.04" fill="#b93d6d"/>
<rect x="3" y="10" width="1.04" height="1.04" fill="#ad3872"/>
<rect x="4" y="10" width="1.04" height="1.04" fill="#b53c6e"/>
<rect x="5" y="10" width="1.04" height="1.04" fill="#b73d6d"/>
<rect x="6" y="10" width="1.04" height="1.04" fill="#c54565"/>
<rect x="7" y="10" width="1.04" height="1.04" fill="#a33377"/>
<rect x="8" y="10" width="1.04" height="1.04" fill="#a23278"/>
<rect x="9" y="10" width="1.04" height="1.04" fill="#b33a70"/>
<rect x="10" y="10" width="1.04" height="1.04" fill="#b53b6f"/>
<rect x="11" y="10" width="1.04" height="1.04" fill="#a83575"/>
<rect x="12" y="10" width="1.04" height="1.04" fill="#b23a70"/>
<rect x="13" y="10" width="1.04" height="1.04" fill="#b53b6f"/>
<rect x="14" y="10" width="1.04" height="1.04" fill="#9b2e7c"/>
<rect x="15" y="10" width="1.04" height="1.04" fill="#691b7e"/>
<rect x="16" y="10" width="1.04" height="1.04" fill="#571474"/>
<rect x="17" y="10" width="1.04" height="1.04" fill="#4b0f6e"/>
<rect x="18" y="10" width="1.04" height="1.04" fill="#62187b"/>
<rect x="19" y="10" width="1.04" height="1.04" fill="#8b287f"/>
<rect x="20" y="10" width="1.04" height="1.04" fill="#922b7e"/>
<rect x="21" y="10" width="1.04" height="1.04" fill="#932b7e"/>
<rect x="22" y="10" width="1.04" height="1.04" fill="#ab3773"/>
<rect x="23" y="10" width="1.04" height="1.04" fill="#9d307a"/>
<rect x="24" y="10" width="1.04" height="1.04" fill="#8e297e"/>
<rect x="25" y="10" width="1.04" height="1.04" fill="#86267f"/>
<rect x="26" y="10" width="1.04" height="1.04" fill="#9a2e7c"/>
<rect x="27" y="10" width="1.04" height="1.04" fill="#bc3f6b"/>
<rect x="28" y="10" width="1.04" height="1.04" fill="#c34367"/>
<rect x="29" y="10" width="1.04" height="1.04" fill="#a03179"/>
<rect x="30" y="10" width="1.04" height="1.04" fill="#a33278"/>
<rect x="31" y="10" width="1.04" height="1.04" fill="#902a7e"/>
<rect x="32" y="10" width="1.04" height="1.04" fill="#7e2380"/>
<rect x="33" y="10" width="1.04" height="1.04" fill="#4d106f"/>
<rect x="34" y="10" width="1.04" height="1.04" fill="#230c46"/>
<rect x="35" y="10" width="1.04" height="1.04" fill="#160832"/>
<rect x="36" y="10" width="1.04" height="1.04" fill="#260c49"/>
<rect x="0" y="11" width="1.04" height="1.04" fill="#a93575"/>
<rect x="1" y="11" width="1.04" height="1.04" fill="#ac3773"/>
<rect x="2" y="11" width="1.04" height="1.04" fill="#a33278"/>
<rect x="3" y="11" width="1.04" height="1.04" fill="#bd3f6b"/>
<rect x="4" y="11" width="1.04" height="1.04" fill="#c94862"/>
<rect x="5" y="11" width="1.04" height="1.04" fill="#c04169"/>
<rect x="6" y="11" width="1.04" height="1.04" fill="#c04169"/>
<rect x="7" y="11" width="1.04" height="1.04" fill="#b43b6f"/>
<rect x="8" y="11" width="1.04" height="1.04" fill="#972d7d"/>
<rect x="9" y="11" width="1.04" height="1.04" fill="#9e307a"/>
<rect x="10" y="11" width="1.04" height="1.04" fill="#be406a"/>
<rect x="11" y="11" width="1.04" height="1.04" fill="#ac3773"/>
<rect x="12" y="11" width="1.04" height="1.04" fill="#b63c6e"/>
<rect x="13" y="11" width="1.04" height="1.04" fill="#982d7d"/>
<rect x="14" y="11" width="1.04" height="1.04" fill="#a53377"/>
<rect x="15" y="11" width="1.04" height="1.04" fill="#b53b6f"/>
<rect x="16" y="11" width="1.04" height="1.04" fill="#a33278"/>
<rect x="17" y="11" width="1.04" height="1.04" fill="#6e1d81"/>
<rect x="18" y="11" width="1.04" height="1.04" fill="#762081"/>
<rect x="19" y="11" width="1.04" height="1.04" fill="#7e2380"/>
<rect x="20" y="11" width="1.04" height="1.04" fill="#a23278"/>
<rect x="21" y="11" width="1.04" height="1.04" fill="#a93674"/>
<rect x="22" y="11" width="1.04" height="1.04" fill="#a53377"/>
<rect x="23" y="11" width="1.04" height="1.04" fill="#a63476"/>
<rect x="24" y="11" width="1.04" height="1.04" fill="#8a287f"/>
<rect x="25" y="11" width="1.04" height="1.04" fill="#7d2380"/>
<rect x="26" y="11" width="1.04" height="1.04" fill="#84267f"/>
<rect x="27" y="11" width="1.04" height="1.04" fill="#86267f"/>
<rect x="28" y="11" width="1.04" height="1.04" fill="#9f3179"/>
<rect x="29" y="11" width="1.04" height="1.04" fill="#9d307a"/>
<rect x="30" y="11" width="1.04" height="1.04" fill="#b63c6e"/>
<rect x="31" y="11" width="1.04" height="1.04" fill="#932b7e"/>
<rect x="32" y="11" width="1.04" height="1.04" fill="#89277f"/>
<rect x="33" y="11" width="1.04" height="1.04" fill="#88277f"/>
<rect x="34" y="11" width="1.04" height="1.04" fill="#701e82"/>
<rect x="35" y="11" width="1.04" height="1.04" fill="#7c2281"/>
<rect x="36" y="11" width="1.04" height="1.04" fill="#772181"/>
<rect x="0" y="12" width="1.04" height="1.04" fill="#a83575"/>
<rect x="1" y="12" width="1.04" height="1.04" fill="#a63476"/>
<rect x="2" y="12" width="1.04" height="1.04" fill="#ae3872"/>
<rect x="3" y="12" width="1.04" height="1.04" fill="#bb3e6c"/>
<rect x="4" y="12" width="1.04" height="1.04" fill="#af3971"/>
<rect x="5" y="12" width="1.04" height="1.04" fill="#b83d6d"/>
<rect x="6" y="12" width="1.04" height="1.04" fill="#9c2f7b"/>
<rect x="7" y="12" width="1.04" height="1.04" fill="#972c7d"/>
<rect x="8" y="12" width="1.04" height="1.04" fill="#8f297e"/>
<rect x="9" y="12" width="1.04" height="1.04" fill="#a33278"/>
<rect x="10" y="12" width="1.04" height="1.04" fill="#a73575"/>
<rect x="11" y="12" width="1.04" height="1.04" fill="#9b2f7b"/>
<rect x="12" y="12" width="1.04" height="1.04" fill="#a03179"/>
<rect x="13" y="12" width="1.04" height="1.04" fill="#9f3179"/>
<rect x="14" y="12" width="1.04" height="1.04" fill="#89287f"/>
<rect x="15" y="12" width="1.04" height="1.04" fill="#9b2e7c"/>
<rect x="16" y="12" width="1.04" height="1.04" fill="#87277f"/>
<rect x="17" y="12" width="1.04" height="1.04" fill="#87277f"/>
<rect x="18" y="12" width="1.04" height="1.04" fill="#912a7e"/>
<rect x="19" y="12" width="1.04" height="1.04" fill="#a93674"/>
<rect x="20" y="12" width="1.04" height="1.04" fill="#9b2e7c"/>
<rect x="21" y="12" width="1.04" height="1.04" fill="#932b7e"/>
<rect x="22" y="12" width="1.04" height="1.04" fill="#952c7d"/>
<rect x="23" y="12" width="1.04" height="1.04" fill="#9c2f7b"/>
<rect x="24" y="12" width="1.04" height="1.04" fill="#a43377"/>
<rect x="25" y="12" width="1.04" height="1.04" fill="#972d7d"/>
<rect x="26" y="12" width="1.04" height="1.04" fill="#88277f"/>
<rect x="27" y="12" width="1.04" height="1.04" fill="#752081"/>
<rect x="28" y="12" width="1.04" height="1.04" fill="#782181"/>
<rect x="29" y="12" width="1.04" height="1.04" fill="#922b7e"/>
<rect x="30" y="12" width="1.04" height="1.04" fill="#9a2e7c"/>
<rect x="31" y="12" width="1.04" height="1.04" fill="#9a2e7c"/>
<rect x="32" y="12" width="1.04" height="1.04" fill="#aa3674"/>
<rect x="33" y="12" width="1.04" height="1.04" fill="#ad3773"/>
<rect x="34" y="12" width="1.04" height="1.04" fill="#8c297e"/>
<rect x="35" y="12" width="1.04" height="1.04" fill="#9b2e7c"/>
<rect x="36" y="12" width="1.04" height="1.04" fill="#8b287f"/>
<rect x="0" y="13" width="1.04" height="1.04" fill="#af3872"/>
<rect x="1" y="13" width="1.04" height="1.04" fill="#9f307a"/>
<rect x="2" y="13" width="1.04" height="1.04" fill="#9b2e7c"/>
<rect x="3" y="13" width="1.04" height="1.04" fill="#84267f"/>
<rect x="4" y="13" width="1.04" height="1.04" fill="#88277f"/>
<rect x="5" y="13" width="1.04" height="1.04" fill="#9b2f7b"/>
<rect x="6" y="13" width="1.04" height="1.04" fill="#a23278"/>
<rect x="7" y="13" width="1.04" height="1.04" fill="#b33b6f"/>
<rect x="8" y="13" width="1.04" height="1.04" fill="#ae3872"/>
<rect x="9" y="13" width="1.04" height="1.04" fill="#b73d6d"/>
<rect x="10" y="13" width="1.04" height="1.04" fill="#ba3e6c"/>
<rect x="11" y="13" width="1.04" height="1.04" fill="#ba3e6c"/>
<rect x="12" y="13" width="1.04" height="1.04" fill="#c04169"/>
<rect x="13" y="13" width="1.04" height="1.04" fill="#af3872"/>
<rect x="14" y="13" width="1.04" height="1.04" fill="#c24268"/>
<rect x="15" y="13" width="1.04" height="1.04" fill="#bc3f6b"/>
<rect x="16" y="13" width="1.04" height="1.04" fill="#6a1c7f"/>
<rect x="17" y="13" width="1.04" height="1.04" fill="#230c45"/>
<rect x="18" y="13" width="1.04" height="1.04" fill="#1d0a3c"/>
<rect x="19" y="13" width="1.04" height="1.04" fill="#280c4b"/>
<rect x="20" y="13" width="1.04" height="1.04" fill="#3f0e62"/>
<rect x="21" y="13" width="1.04" height="1.04" fill="#982d7d"/>
<rect x="22" y="13" width="1.04" height="1.04" fill="#a73575"/>
<rect x="23" y="13" width="1.04" height="1.04" fill="#bc3f6b"/>
<rect x="24" y="13" width="1.04" height="1.04" fill="#d1505a"/>
<rect x="25" y="13" width="1.04" height="1.04" fill="#d2505a"/>
<rect x="26" y="13" width="1.04" height="1.04" fill="#c74763"/>
<rect x="27" y="13" width="1.04" height="1.04" fill="#b63c6e"/>
<rect x="28" y="13" width="1.04" height="1.04" fill="#8a287f"/>
<rect x="29" y="13" width="1.04" height="1.04" fill="#85267f"/>
<rect x="30" y="13" width="1.04" height="1.04" fill="#6a1b7f"/>
<rect x="31" y="13" width="1.04" height="1.04" fill="#812580"/>
<rect x="32" y="13" width="1.04" height="1.04" fill="#a43377"/>
<rect x="33" y="13" width="1.04" height="1.04" fill="#942b7e"/>
<rect x="34" y="13" width="1.04" height="1.04" fill="#86267f"/>
<rect x="35" y="13" width="1.04" height="1.04" fill="#8b287f"/>
<rect x="36" y="13" width="1.04" height="1.04" fill="#88277f"/>
<rect x="0" y="14" width="1.04" height="1.04" fill="#b23a70"/>
<rect x="1" y="14" width="1.04" height="1.04" fill="#a23278"/>
<rect x="2" y="14" width="1.04" height="1.04" fill="#c84862"/>
<rect x="3" y="14" width="1.04" height="1.04" fill="#b93d6d"/>
<rect x="4" y="14" width="1.04" height="1.04" fill="#be406a"/>
<rect x="5" y="14" width="1.04" height="1.04" fill="#c84862"/>
<rect x="6" y="14" width="1.04" height="1.04" fill="#d75456"/>
<rect x="7" y="14" width="1.04" height="1.04" fill="#e2604a"/>
<rect x="8" y="14" width="1.04" height="1.04" fill="#d85555"/>
<rect x="9" y="14" width="1.04" height="1.04" fill="#d2505a"/>
<rect x="10" y="14" width="1.04" height="1.04" fill="#c34466"/>
<rect x="11" y="14" width="1.04" height="1.04" fill="#9a2e7c"/>
<rect x="12" y="14" width="1.04" height="1.04" fill="#a53377"/>
<rect x="13" y="14" width="1.04" height="1.04" fill="#87267f"/>
<rect x="14" y="14" width="1.04" height="1.04" fill="#912a7e"/>
<rect x="15" y="14" width="1.04" height="1.04" fill="#7b2281"/>
<rect x="16" y="14" width="1.04" height="1.04" fill="#691b7e"/>
<rect x="17" y="14" width="1.04" height="1.04" fill="#772081"/>
<rect x="18" y="14" width="1.04" height="1.04" fill="#63197b"/>
<rect x="19" y="14" width="1.04" height="1.04" fill="#731f82"/>
<rect x="20" y="14" width="1.04" height="1.04" fill="#85267f"/>
<rect x="21" y="14" width="1.04" height="1.04" fill="#6f1e82"/>
<rect x="22" y="14" width="1.04" height="1.04" fill="#742081"/>
<rect x="23" y="14" width="1.04" height="1.04" fill="#932b7e"/>
<rect x="24" y="14" width="1.04" height="1.04" fill="#a33377"/>
<rect x="25" y="14" width="1.04" height="1.04" fill="#cd4c5e"/>
<rect x="26" y="14" width="1.04" height="1.04" fill="#e86b3e"/>
<rect x="27" y="14" width="1.04" height="1.04" fill="#ee7533"/>
<rect x="28" y="14" width="1.04" height="1.04" fill="#f48327"/>
<rect x="29" y="14" width="1.04" height="1.04" fill="#ea6e3a"/>
<rect x="30" y="14" width="1.04" height="1.04" fill="#f58824"/>
<rect x="31" y="14" width="1.04" height="1.04" fill="#f48426"/>
<rect x="32" y="14" width="1.04" height="1.04" fill="#ee7434"/>
<rect x="33" y="14" width="1.04" height="1.04" fill="#df5c4e"/>
<rect x="34" y="14" width="1.04" height="1.04" fill="#e86b3e"/>
<rect x="35" y="14" width="1.04" height="1.04" fill="#e76940"/>
<rect x="36" y="14" width="1.04" height="1.04" fill="#e15f4a"/>
<rect x="0" y="15" width="1.04" height="1.04" fill="#c34367"/>
<rect x="1" y="15" width="1.04" height="1.04" fill="#ca4961"/>
<rect x="2" y="15" width="1.04" height="1.04" fill="#ce4c5e"/>
<rect x="3" y="15" width="1.04" height="1.04" fill="#b63c6e"/>
<rect x="4" y="15" width="1.04" height="1.04" fill="#a73476"/>
<rect x="5" y="15" width="1.04" height="1.04" fill="#992d7d"/>
<rect x="6" y="15" width="1.04" height="1.04" fill="#a53377"/>
<rect x="7" y="15" width="1.04" height="1.04" fill="#c04169"/>
<rect x="8" y="15" width="1.04" height="1.04" fill="#cb4a60"/>
<rect x="9" y="15" width="1.04" height="1.04" fill="#d2505a"/>
<rect x="10" y="15" width="1.04" height="1.04" fill="#b33a70"/>
<rect x="11" y="15" width="1.04" height="1.04" fill="#af3971"/>
<rect x="12" y="15" width="1.04" height="1.04" fill="#9d2f7b"/>
<rect x="13" y="15" width="1.04" height="1.04" fill="#9b2e7c"/>
<rect x="14" y="15" width="1.04" height="1.04" fill="#a13278"/>
<rect x="15" y="15" width="1.04" height="1.04" fill="#a83575"/>
<rect x="16" y="15" width="1.04" height="1.04" fill="#8d297e"/>
<rect x="17" y="15" width="1.04" height="1.04" fill="#bf406a"/>
<rect x="18" y="15" width="1.04" height="1.04" fill="#cf4e5c"/>
<rect x="19" y="15" width="1.04" height="1.04" fill="#e46544"/>
<rect x="20" y="15" width="1.04" height="1.04" fill="#d04f5b"/>
<rect x="21" y="15" width="1.04" height="1.04" fill="#cc4b5f"/>
<rect x="22" y="15" width="1.04" height="1.04" fill="#b93d6d"/>
<rect x="23" y="15" width="1.04" height="1.04" fill="#c14268"/>
<rect x="24" y="15" width="1.04" height="1.04" fill="#952c7d"/>
<rect x="25" y="15" width="1.04" height="1.04" fill="#962c7d"/>
<rect x="26" y="15" width="1.04" height="1.04" fill="#89287f"/>
<rect x="27" y="15" width="1.04" height="1.04" fill="#8c287f"/>
<rect x="28" y="15" width="1.04" height="1.04" fill="#c44466"/>
<rect x="29" y="15" width="1.04" height="1.04" fill="#d14f5b"/>
<rect x="30" y="15" width="1.04" height="1.04" fill="#d95654"/>
<rect x="31" y="15" width="1.04" height="1.04" fill="#d95654"/>
<rect x="32" y="15" width="1.04" height="1.04" fill="#d55258"/>
<rect x="33" y="15" width="1.04" height="1.04" fill="#d2505a"/>
<rect x="34" y="15" width="1.04" height="1.04" fill="#c14268"/>
<rect x="35" y="15" width="1.04" height="1.04" fill="#c74664"/>
<rect x="36" y="15" width="1.04" height="1.04" fill="#c14268"/>
<rect x="0" y="16" width="1.04" height="1.04" fill="#7c2380"/>
<rect x="1" y="16" width="1.04" height="1.04" fill="#a43377"/>
<rect x="2" y="16" width="1.04" height="1.04" fill="#ad3872"/>
<rect x="3" y="16" width="1.04" height="1.04" fill="#a43377"/>
<rect x="4" y="16" width="1.04" height="1.04" fill="#b03971"/>
<rect x="5" y="16" width="1.04" height="1.04" fill="#b93d6d"/>
<rect x="6" y="16" width="1.04" height="1.04" fill="#a03179"/>
<rect x="7" y="16" width="1.04" height="1.04" fill="#ab3773"/>
<rect x="8" y="16" width="1.04" height="1.04" fill="#b73d6d"/>
<rect x="9" y="16" width="1.04" height="1.04" fill="#ae3872"/>
<rect x="10" y="16" width="1.04" height="1.04" fill="#b63c6e"/>
<rect x="11" y="16" width="1.04" height="1.04" fill="#b63c6e"/>
<rect x="12" y="16" width="1.04" height="1.04" fill="#85267f"/>
<rect x="13" y="16" width="1.04" height="1.04" fill="#87277f"/>
<rect x="14" y="16" width="1.04" height="1.04" fill="#782181"/>
<rect x="15" y="16" width="1.04" height="1.04" fill="#6a1c7f"/>
<rect x="16" y="16" width="1.04" height="1.04" fill="#762081"/>
<rect x="17" y="16" width="1.04" height="1.04" fill="#6f1e82"/>
<rect x="18" y="16" width="1.04" height="1.04" fill="#772181"/>
<rect x="19" y="16" width="1.04" height="1.04" fill="#701e82"/>
<rect x="20" y="16" width="1.04" height="1.04" fill="#63197b"/>
<rect x="21" y="16" width="1.04" height="1.04" fill="#701e82"/>
<rect x="22" y="16" width="1.04" height="1.04" fill="#6e1d81"/>
<rect x="23" y="16" width="1.04" height="1.04" fill="#711f82"/>
<rect x="24" y="16" width="1.04" height="1.04" fill="#681b7e"/>
<rect x="25" y="16" width="1.04" height="1.04" fill="#6e1d81"/>
<rect x="26" y="16" width="1.04" height="1.04" fill="#6c1c80"/>
<rect x="27" y="16" width="1.04" height="1.04" fill="#7e2380"/>
<rect x="28" y="16" width="1.04" height="1.04" fill="#762081"/>
<rect x="29" y="16" width="1.04" height="1.04" fill="#922b7e"/>
<rect x="30" y="16" width="1.04" height="1.04" fill="#a33278"/>
<rect x="31" y="16" width="1.04" height="1.04" fill="#9d2f7b"/>
<rect x="32" y="16" width="1.04" height="1.04" fill="#bb3f6b"/>
<rect x="33" y="16" width="1.04" height="1.04" fill="#be406a"/>
<rect x="34" y="16" width="1.04" height="1.04" fill="#c34466"/>
<rect x="35" y="16" width="1.04" height="1.04" fill="#d04f5b"/>
<rect x="36" y="16" width="1.04" height="1.04" fill="#be406a"/>
<rect x="0" y="17" width="1.04" height="1.04" fill="#9d2f7b"/>
<rect x="1" y="17" width="1.04" height="1.04" fill="#932b7e"/>
<rect x="2" y="17" width="1.04" height="1.04" fill="#932b7e"/>
<rect x="3" y="17" width="1.04" height="1.04" fill="#c24367"/>
<rect x="4" y="17" width="1.04" height="1.04" fill="#b83d6d"/>
<rect x="5" y="17" width="1.04" height="1.04" fill="#b63c6e"/>
<rect x="6" y="17" width="1.04" height="1.04" fill="#a63476"/>
<rect x="7" y="17" width="1.04" height="1.04" fill="#a83575"/>
<rect x="8" y="17" width="1.04" height="1.04" fill="#a53377"/>
<rect x="9" y="17" width="1.04" height="1.04" fill="#bd406a"/>
<rect x="10" y="17" width="1.04" height="1.04" fill="#ad3872"/>
<rect x="11" y="17" width="1.04" height="1.04" fill="#b83d6d"/>
<rect x="12" y="17" width="1.04" height="1.04" fill="#a73476"/>
<rect x="13" y="17" width="1.04" height="1.04" fill="#9b2f7b"/>
<rect x="14" y="17" width="1.04" height="1.04" fill="#7a2281"/>
<rect x="15" y="17" width="1.04" height="1.04" fill="#6b1c80"/>
<rect x="16" y="17" width="1.04" height="1.04" fill="#671a7d"/>
<rect x="17" y="17" width="1.04" height="1.04" fill="#902a7e"/>
<rect x="18" y="17" width="1.04" height="1.04" fill="#a33278"/>
<rect x="19" y="17" width="1.04" height="1.04" fill="#9c2f7b"/>
<rect x="20" y="17" width="1.04" height="1.04" fill="#8e297e"/>
<rect x="21" y="17" width="1.04" height="1.04" fill="#9e307a"/>
<rect x="22" y="17" width="1.04" height="1.04" fill="#89287f"/>
<rect x="23" y="17" width="1.04" height="1.04" fill="#9e307a"/>
<rect x="24" y="17" width="1.04" height="1.04" fill="#8c297e"/>
<rect x="25" y="17" width="1.04" height="1.04" fill="#ba3e6c"/>
<rect x="26" y="17" width="1.04" height="1.04" fill="#ce4d5d"/>
<rect x="27" y="17" width="1.04" height="1.04" fill="#d2505a"/>
<rect x="28" y="17" width="1.04" height="1.04" fill="#db5852"/>
<rect x="29" y="17" width="1.04" height="1.04" fill="#cd4b5f"/>
<rect x="30" y="17" width="1.04" height="1.04" fill="#d35159"/>
<rect x="31" y="17" width="1.04" height="1.04" fill="#e05e4c"/>
<rect x="32" y="17" width="1.04" height="1.04" fill="#e86a3e"/>
<rect x="33" y="17" width="1.04" height="1.04" fill="#e15f4b"/>
<rect x="34" y="17" width="1.04" height="1.04" fill="#de5a50"/>
<rect x="35" y="17" width="1.04" height="1.04" fill="#da5654"/>
<rect x="36" y="17" width="1.04" height="1.04" fill="#e05e4c"/>
<rect x="0" y="18" width="1.04" height="1.04" fill="#922b7e"/>
<rect x="1" y="18" width="1.04" height="1.04" fill="#731f82"/>
<rect x="2" y="18" width="1.04" height="1.04" fill="#962c7d"/>
<rect x="3" y="18" width="1.04" height="1.04" fill="#a23278"/>
<rect x="4" y="18" width="1.04" height="1.04" fill="#8d297e"/>
<rect x="5" y="18" width="1.04" height="1.04" fill="#9a2e7c"/>
<rect x="6" y="18" width="1.04" height="1.04" fill="#b33b6f"/>
<rect x="7" y="18" width="1.04" height="1.04" fill="#c84862"/>
<rect x="8" y="18" width="1.04" height="1.04" fill="#b73d6d"/>
<rect x="9" y="18" width="1.04" height="1.04" fill="#c24268"/>
<rect x="10" y="18" width="1.04" height="1.04" fill="#a53377"/>
<rect x="11" y="18" width="1.04" height="1.04" fill="#ae3872"/>
<rect x="12" y="18" width="1.04" height="1.04" fill="#b83d6d"/>
<rect x="13" y="18" width="1.04" height="1.04" fill="#9e307a"/>
<rect x="14" y="18" width="1.04" height="1.04" fill="#7e2380"/>
<rect x="15" y="18" width="1.04" height="1.04" fill="#942c7d"/>
<rect x="16" y="18" width="1.04" height="1.04" fill="#952c7d"/>
<rect x="17" y="18" width="1.04" height="1.04" fill="#b53c6e"/>
<rect x="18" y="18" width="1.04" height="1.04" fill="#ad3773"/>
<rect x="19" y="18" width="1.04" height="1.04" fill="#a43377"/>
<rect x="20" y="18" width="1.04" height="1.04" fill="#c24367"/>
<rect x="21" y="18" width="1.04" height="1.04" fill="#b33a70"/>
<rect x="22" y="18" width="1.04" height="1.04" fill="#902a7e"/>
<rect x="23" y="18" width="1.04" height="1.04" fill="#9d307a"/>
<rect x="24" y="18" width="1.04" height="1.04" fill="#c94862"/>
<rect x="25" y="18" width="1.04" height="1.04" fill="#ea6f39"/>
<rect x="26" y="18" width="1.04" height="1.04" fill="#e46545"/>
<rect x="27" y="18" width="1.04" height="1.04" fill="#eb6f39"/>
<rect x="28" y="18" width="1.04" height="1.04" fill="#cd4c5e"/>
<rect x="29" y="18" width="1.04" height="1.04" fill="#e66742"/>
<rect x="30" y="18" width="1.04" height="1.04" fill="#d45159"/>
<rect x="31" y="18" width="1.04" height="1.04" fill="#cf4e5c"/>
<rect x="32" y="18" width="1.04" height="1.04" fill="#d75456"/>
<rect x="33" y="18" width="1.04" height="1.04" fill="#d45258"/>
<rect x="34" y="18" width="1.04" height="1.04" fill="#e56544"/>
<rect x="35" y="18" width="1.04" height="1.04" fill="#e2604a"/>
<rect x="36" y="18" width="1.04" height="1.04" fill="#eb7039"/>
<rect x="0" y="19" width="1.04" height="1.04" fill="#b03971"/>
<rect x="1" y="19" width="1.04" height="1.04" fill="#b33b6f"/>
<rect x="2" y="19" width="1.04" height="1.04" fill="#9d2f7b"/>
<rect x="3" y="19" width="1.04" height="1.04" fill="#bd406a"/>
<rect x="4" y="19" width="1.04" height="1.04" fill="#a83575"/>
<rect x="5" y="19" width="1.04" height="1.04" fill="#9a2e7c"/>
<rect x="6" y="19" width="1.04" height="1.04" fill="#9b2f7b"/>
<rect x="7" y="19" width="1.04" height="1.04" fill="#a43377"/>
<rect x="8" y="19" width="1.04" height="1.04" fill="#7d2380"/>
<rect x="9" y="19" width="1.04" height="1.04" fill="#88277f"/>
<rect x="10" y="19" width="1.04" height="1.04" fill="#a53377"/>
<rect x="11" y="19" width="1.04" height="1.04" fill="#a13179"/>
<rect x="12" y="19" width="1.04" height="1.04" fill="#972c7d"/>
<rect x="13" y="19" width="1.04" height="1.04" fill="#9a2e7c"/>
<rect x="14" y="19" width="1.04" height="1.04" fill="#972d7d"/>
<rect x="15" y="19" width="1.04" height="1.04" fill="#7b2281"/>
<rect x="16" y="19" width="1.04" height="1.04" fill="#6c1c80"/>
<rect x="17" y="19" width="1.04" height="1.04" fill="#772181"/>
<rect x="18" y="19" width="1.04" height="1.04" fill="#581475"/>
<rect x="19" y="19" width="1.04" height="1.04" fill="#6a1b7f"/>
<rect x="20" y="19" width="1.04" height="1.04" fill="#932b7e"/>
<rect x="21" y="19" width="1.04" height="1.04" fill="#88277f"/>
<rect x="22" y="19" width="1.04" height="1.04" fill="#962c7d"/>
<rect x="23" y="19" width="1.04" height="1.04" fill="#651a7c"/>
<rect x="24" y="19" width="1.04" height="1.04" fill="#7c2380"/>
<rect x="25" y="19" width="1.04" height="1.04" fill="#a73575"/>
<rect x="26" y="19" width="1.04" height="1.04" fill="#c54565"/>
<rect x="27" y="19" width="1.04" height="1.04" fill="#bb3e6c"/>
<rect x="28" y="19" width="1.04" height="1.04" fill="#c24367"/>
<rect x="29" y="19" width="1.04" height="1.04" fill="#b43b6f"/>
<rect x="30" y="19" width="1.04" height="1.04" fill="#ab3674"/>
<rect x="31" y="19" width="1.04" height="1.04" fill="#ad3773"/>
<rect x="32" y="19" width="1.04" height="1.04" fill="#b93d6d"/>
<rect x="33" y="19" width="1.04" height="1.04" fill="#a83575"/>
<rect x="34" y="19" width="1.04" height="1.04" fill="#ac3773"/>
<rect x="35" y="19" width="1.04" height="1.04" fill="#a73575"/>
<rect x="36" y="19" width="1.04" height="1.04" fill="#bd406a"/>
<rect x="0" y="20" width="1.04" height="1.04" fill="#a23278"/>
<rect x="1" y="20" width="1.04" height="1.04" fill="#8c297e"/>
<rect x="2" y="20" width="1.04" height="1.04" fill="#932b7e"/>
<rect x="3" y="20" width="1.04" height="1.04" fill="#89287f"/>
<rect x="4" y="20" width="1.04" height="1.04" fill="#9a2e7c"/>
<rect x="5" y="20" width="1.04" height="1.04" fill="#992e7c"/>
<rect x="6" y="20" width="1.04" height="1.04" fill="#a33278"/>
<rect x="7" y="20" width="1.04" height="1.04" fill="#a53476"/>
<rect x="8" y="20" width="1.04" height="1.04" fill="#962c7d"/>
<rect x="9" y="20" width="1.04" height="1.04" fill="#9c2f7b"/>
<rect x="10" y="20" width="1.04" height="1.04" fill="#9d2f7b"/>
<rect x="11" y="20" width="1.04" height="1.04" fill="#962c7d"/>
<rect x="12" y="20" width="1.04" height="1.04" fill="#8a287f"/>
<rect x="13" y="20" width="1.04" height="1.04" fill="#7b2281"/>
<rect x="14" y="20" width="1.04" height="1.04" fill="#61187a"/>
<rect x="15" y="20" width="1.04" height="1.04" fill="#511171"/>
<rect x="16" y="20" width="1.04" height="1.04" fill="#62187a"/>
<rect x="17" y="20" width="1.04" height="1.04" fill="#812480"/>
<rect x="18" y="20" width="1.04" height="1.04" fill="#8c287f"/>
<rect x="19" y="20" width="1.04" height="1.04" fill="#7b2281"/>
<rect x="20" y="20" width="1.04" height="1.04" fill="#7f2480"/>
<rect x="21" y="20" width="1.04" height="1.04" fill="#7d2380"/>
<rect x="22" y="20" width="1.04" height="1.04" fill="#661a7d"/>
<rect x="23" y="20" width="1.04" height="1.04" fill="#64197c"/>
<rect x="24" y="20" width="1.04" height="1.04" fill="#531273"/>
<rect x="25" y="20" width="1.04" height="1.04" fill="#65197c"/>
<rect x="26" y="20" width="1.04" height="1.04" fill="#8b287f"/>
<rect x="27" y="20" width="1.04" height="1.04" fill="#822580"/>
<rect x="28" y="20" width="1.04" height="1.04" fill="#6a1b7f"/>
<rect x="29" y="20" width="1.04" height="1.04" fill="#742081"/>
<rect x="30" y="20" width="1.04" height="1.04" fill="#87267f"/>
<rect x="31" y="20" width="1.04" height="1.04" fill="#731f82"/>
<rect x="32" y="20" width="1.04" height="1.04" fill="#812580"/>
<rect x="33" y="20" width="1.04" height="1.04" fill="#832580"/>
<rect x="34" y="20" width="1.04" height="1.04" fill="#7b2281"/>
<rect x="35" y="20" width="1.04" height="1.04" fill="#772181"/>
<rect x="36" y="20" width="1.04" height="1.04" fill="#902a7e"/>
<rect x="0" y="21" width="1.04" height="1.04" fill="#d14f5b"/>
<rect x="1" y="21" width="1.04" height="1.04" fill="#9b2f7b"/>
<rect x="2" y="21" width="1.04" height="1.04" fill="#a53377"/>
<rect x="3" y="21" width="1.04" height="1.04" fill="#b93d6d"/>
<rect x="4" y="21" width="1.04" height="1.04" fill="#a03179"/>
<rect x="5" y="21" width="1.04" height="1.04" fill="#9f307a"/>
<rect x="6" y="21" width="1.04" height="1.04" fill="#ad3773"/>
<rect x="7" y="21" width="1.04" height="1.04" fill="#ba3e6c"/>
<rect x="8" y="21" width="1.04" height="1.04" fill="#be406a"/>
<rect x="9" y="21" width="1.04" height="1.04" fill="#ae3872"/>
<rect x="10" y="21" width="1.04" height="1.04" fill="#bc3f6b"/>
<rect x="11" y="21" width="1.04" height="1.04" fill="#bf406a"/>
<rect x="12" y="21" width="1.04" height="1.04" fill="#b03971"/>
<rect x="13" y="21" width="1.04" height="1.04" fill="#812480"/>
<rect x="14" y="21" width="1.04" height="1.04" fill="#982d7d"/>
<rect x="15" y="21" width="1.04" height="1.04" fill="#89277f"/>
<rect x="16" y="21" width="1.04" height="1.04" fill="#a43377"/>
<rect x="17" y="21" width="1.04" height="1.04" fill="#832580"/>
<rect x="18" y="21" width="1.04" height="1.04" fill="#691b7e"/>
<rect x="19" y="21" width="1.04" height="1.04" fill="#731f82"/>
<rect x="20" y="21" width="1.04" height="1.04" fill="#87277f"/>
<rect x="21" y="21" width="1.04" height="1.04" fill="#7c2281"/>
<rect x="22" y="21" width="1.04" height="1.04" fill="#822580"/>
<rect x="23" y="21" width="1.04" height="1.04" fill="#691b7e"/>
<rect x="24" y="21" width="1.04" height="1.04" fill="#681b7e"/>
<rect x="25" y="21" width="1.04" height="1.04" fill="#7c2281"/>
<rect x="26" y="21" width="1.04" height="1.04" fill="#902a7e"/>
<rect x="27" y="21" width="1.04" height="1.04" fill="#b03971"/>
<rect x="28" y="21" width="1.04" height="1.04" fill="#b53b6f"/>
<rect x="29" y="21" width="1.04" height="1.04" fill="#ae3872"/>
<rect x="30" y="21" width="1.04" height="1.04" fill="#ad3872"/>
<rect x="31" y="21" width="1.04" height="1.04" fill="#992e7c"/>
<rect x="32" y="21" width="1.04" height="1.04" fill="#b43b6f"/>
<rect x="33" y="21" width="1.04" height="1.04" fill="#a63476"/>
<rect x="34" y="21" width="1.04" height="1.04" fill="#9e307a"/>
<rect x="35" y="21" width="1.04" height="1.04" fill="#c94961"/>
<rect x="36" y="21" width="1.04" height="1.04" fill="#b43b6f"/>
<rect x="0" y="22" width="1.04" height="1.04" fill="#b53b6f"/>
<rect x="1" y="22" width="1.04" height="1.04" fill="#b23a70"/>
<rect x="2" y="22" width="1.04" height="1.04" fill="#a43377"/>
<rect x="3" y="22" width="1.04" height="1.04" fill="#9d307a"/>
<rect x="4" y="22" width="1.04" height="1.04" fill="#a93575"/>
<rect x="5" y="22" width="1.04" height="1.04" fill="#c34367"/>
<rect x="6" y="22" width="1.04" height="1.04" fill="#c64664"/>
<rect x="7" y="22" width="1.04" height="1.04" fill="#b23a70"/>
<rect x="8" y="22" width="1.04" height="1.04" fill="#c24268"/>
<rect x="9" y="22" width="1.04" height="1.04" fill="#b73d6d"/>
<rect x="10" y="22" width="1.04" height="1.04" fill="#b73d6d"/>
<rect x="11" y="22" width="1.04" height="1.04" fill="#ca4961"/>
<rect x="12" y="22" width="1.04" height="1.04" fill="#ea6e3a"/>
<rect x="13" y="22" width="1.04" height="1.04" fill="#e26148"/>
<rect x="14" y="22" width="1.04" height="1.04" fill="#e26049"/>
<rect x="15" y="22" width="1.04" height="1.04" fill="#e96d3c"/>
<rect x="16" y="22" width="1.04" height="1.04" fill="#f27b2c"/>
<rect x="17" y="22" width="1.04" height="1.04" fill="#e46544"/>
<rect x="18" y="22" width="1.04" height="1.04" fill="#eb6f39"/>
<rect x="19" y="22" width="1.04" height="1.04" fill="#f37f29"/>
<rect x="20" y="22" width="1.04" height="1.04" fill="#faad1a"/>
<rect x="21" y="22" width="1.04" height="1.04" fill="#f9ca3c"/>
<rect x="22" y="22" width="1.04" height="1.04" fill="#f8cc3e"/>
<rect x="23" y="22" width="1.04" height="1.04" fill="#fab220"/>
<rect x="24" y="22" width="1.04" height="1.04" fill="#f7981c"/>
<rect x="25" y="22" width="1.04" height="1.04" fill="#f89a1b"/>
<rect x="26" y="22" width="1.04" height="1.04" fill="#f9a516"/>
<rect x="27" y="22" width="1.04" height="1.04" fill="#fab01d"/>
<rect x="28" y="22" width="1.04" height="1.04" fill="#faac19"/>
<rect x="29" y="22" width="1.04" height="1.04" fill="#f89a1b"/>
<rect x="30" y="22" width="1.04" height="1.04" fill="#f7931f"/>
<rect x="31" y="22" width="1.04" height="1.04" fill="#f48228"/>
<rect x="32" y="22" width="1.04" height="1.04" fill="#faae1b"/>
<rect x="33" y="22" width="1.04" height="1.04" fill="#f9a516"/>
<rect x="34" y="22" width="1.04" height="1.04" fill="#faab18"/>
<rect x="35" y="22" width="1.04" height="1.04" fill="#faad1a"/>
<rect x="36" y="22" width="1.04" height="1.04" fill="#faaf1d"/>
<rect x="0" y="23" width="1.04" height="1.04" fill="#ab3773"/>
<rect x="1" y="23" width="1.04" height="1.04" fill="#a23278"/>
<rect x="2" y="23" width="1.04" height="1.04" fill="#b13971"/>
<rect x="3" y="23" width="1.04" height="1.04" fill="#86267f"/>
<rect x="4" y="23" width="1.04" height="1.04" fill="#8f2a7e"/>
<rect x="5" y="23" width="1.04" height="1.04" fill="#8d297e"/>
<rect x="6" y="23" width="1.04" height="1.04" fill="#8e297e"/>
<rect x="7" y="23" width="1.04" height="1.04" fill="#a13278"/>
<rect x="8" y="23" width="1.04" height="1.04" fill="#962c7d"/>
<rect x="9" y="23" width="1.04" height="1.04" fill="#992d7d"/>
<rect x="10" y="23" width="1.04" height="1.04" fill="#8f2a7e"/>
<rect x="11" y="23" width="1.04" height="1.04" fill="#972d7d"/>
<rect x="12" y="23" width="1.04" height="1.04" fill="#942b7e"/>
<rect x="13" y="23" width="1.04" height="1.04" fill="#a33377"/>
<rect x="14" y="23" width="1.04" height="1.04" fill="#b73c6e"/>
<rect x="15" y="23" width="1.04" height="1.04" fill="#ad3773"/>
<rect x="16" y="23" width="1.04" height="1.04" fill="#992d7d"/>
<rect x="17" y="23" width="1.04" height="1.04" fill="#af3971"/>
<rect x="18" y="23" width="1.04" height="1.04" fill="#ae3872"/>
<rect x="19" y="23" width="1.04" height="1.04" fill="#b43b6f"/>
<rect x="20" y="23" width="1.04" height="1.04" fill="#b53b6f"/>
<rect x="21" y="23" width="1.04" height="1.04" fill="#b63c6e"/>
<rect x="22" y="23" width="1.04" height="1.04" fill="#932b7e"/>
<rect x="23" y="23" width="1.04" height="1.04" fill="#a03179"/>
<rect x="24" y="23" width="1.04" height="1.04" fill="#ad3872"/>
<rect x="25" y="23" width="1.04" height="1.04" fill="#c94961"/>
<rect x="26" y="23" width="1.04" height="1.04" fill="#d35159"/>
<rect x="27" y="23" width="1.04" height="1.04" fill="#de5a50"/>
<rect x="28" y="23" width="1.04" height="1.04" fill="#c14268"/>
<rect x="29" y="23" width="1.04" height="1.04" fill="#b03971"/>
<rect x="30" y="23" width="1.04" height="1.04" fill="#8a287f"/>
<rect x="31" y="23" width="1.04" height="1.04" fill="#9e307a"/>
<rect x="32" y="23" width="1.04" height="1.04" fill="#88277f"/>
<rect x="33" y="23" width="1.04" height="1.04" fill="#972d7d"/>
<rect x="34" y="23" width="1.04" height="1.04" fill="#992d7d"/>
<rect x="35" y="23" width="1.04" height="1.04" fill="#b13a70"/>
<rect x="36" y="23" width="1.04" height="1.04" fill="#b63c6e"/>
<rect x="0" y="24" width="1.04" height="1.04" fill="#b63c6e"/>
<rect x="1" y="24" width="1.04" height="1.04" fill="#c04169"/>
<rect x="2" y="24" width="1.04" height="1.04" fill="#9e307a"/>
<rect x="3" y="24" width="1.04" height="1.04" fill="#ac3773"/>
<rect x="4" y="24" width="1.04" height="1.04" fill="#b73c6e"/>
<rect x="5" y="24" width="1.04" height="1.04" fill="#ba3e6c"/>
<rect x="6" y="24" width="1.04" height="1.04" fill="#ab3773"/>
<rect x="7" y="24" width="1.04" height="1.04" fill="#8f2a7e"/>
<rect x="8" y="24" width="1.04" height="1.04" fill="#9b2f7b"/>
<rect x="9" y="24" width="1.04" height="1.04" fill="#a83575"/>
<rect x="10" y="24" width="1.04" height="1.04" fill="#b23a70"/>
<rect x="11" y="24" width="1.04" height="1.04" fill="#89277f"/>
<rect x="12" y="24" width="1.04" height="1.04" fill="#782181"/>
<rect x="13" y="24" width="1.04" height="1.04" fill="#701e82"/>
<rect x="14" y="24" width="1.04" height="1.04" fill="#6b1c7f"/>
<rect x="15" y="24" width="1.04" height="1.04" fill="#571474"/>
<rect x="16" y="24" width="1.04" height="1.04" fill="#4b0f6e"/>
<rect x="17" y="24" width="1.04" height="1.04" fill="#3b0e5e"/>
<rect x="18" y="24" width="1.04" height="1.04" fill="#400e63"/>
<rect x="19" y="24" width="1.04" height="1.04" fill="#410e64"/>
<rect x="20" y="24" width="1.04" height="1.04" fill="#551374"/>
<rect x="21" y="24" width="1.04" height="1.04" fill="#6d1d80"/>
<rect x="22" y="24" width="1.04" height="1.04" fill="#a83575"/>
<rect x="23" y="24" width="1.04" height="1.04" fill="#8e297e"/>
<rect x="24" y="24" width="1.04" height="1.04" fill="#9a2e7c"/>
<rect x="25" y="24" width="1.04" height="1.04" fill="#942b7e"/>
<rect x="26" y="24" width="1.04" height="1.04" fill="#661a7d"/>
<rect x="27" y="24" width="1.04" height="1.04" fill="#3a0e5d"/>
<rect x="28" y="24" width="1.04" height="1.04" fill="#2c0d4f"/>
<rect x="29" y="24" width="1.04" height="1.04" fill="#320d55"/>
<rect x="30" y="24" width="1.04" height="1.04" fill="#2d0d50"/>
<rect x="31" y="24" width="1.04" height="1.04" fill="#2c0d4f"/>
<rect x="32" y="24" width="1.04" height="1.04" fill="#661a7c"/>
<rect x="33" y="24" width="1.04" height="1.04" fill="#9a2e7c"/>
<rect x="34" y="24" width="1.04" height="1.04" fill="#ba3e6c"/>
<rect x="35" y="24" width="1.04" height="1.04" fill="#b53c6e"/>
<rect x="36" y="24" width="1.04" height="1.04" fill="#982d7d"/>
<rect x="0" y="25" width="1.04" height="1.04" fill="#ac3773"/>
<rect x="1" y="25" width="1.04" height="1.04" fill="#ae3872"/>
<rect x="2" y="25" width="1.04" height="1.04" fill="#c54565"/>
<rect x="3" y="25" width="1.04" height="1.04" fill="#b03971"/>
<rect x="4" y="25" width="1.04" height="1.04" fill="#9a2e7c"/>
<rect x="5" y="25" width="1.04" height="1.04" fill="#822580"/>
<rect x="6" y="25" width="1.04" height="1.04" fill="#9c2f7b"/>
<rect x="7" y="25" width="1.04" height="1.04" fill="#86267f"/>
<rect x="8" y="25" width="1.04" height="1.04" fill="#a33278"/>
<rect x="9" y="25" width="1.04" height="1.04" fill="#962c7d"/>
<rect x="10" y="25" width="1.04" height="1.04" fill="#ae3872"/>
<rect x="11" y="25" width="1.04" height="1.04" fill="#9c2f7b"/>
<rect x="12" y="25" width="1.04" height="1.04" fill="#9f307a"/>
<rect x="13" y="25" width="1.04" height="1.04" fill="#8a287f"/>
<rect x="14" y="25" width="1.04" height="1.04" fill="#7e2380"/>
<rect x="15" y="25" width="1.04" height="1.04" fill="#7f2380"/>
<rect x="16" y="25" width="1.04" height="1.04" fill="#782181"/>
<rect x="17" y="25" width="1.04" height="1.04" fill="#7c2380"/>
<rect x="18" y="25" width="1.04" height="1.04" fill="#742081"/>
<rect x="19" y="25" width="1.04" height="1.04" fill="#792181"/>
<rect x="20" y="25" width="1.04" height="1.04" fill="#88277f"/>
<rect x="21" y="25" width="1.04" height="1.04" fill="#822580"/>
<rect x="22" y="25" width="1.04" height="1.04" fill="#952c7d"/>
<rect x="23" y="25" width="1.04" height="1.04" fill="#7a2281"/>
<rect x="24" y="25" width="1.04" height="1.04" fill="#902a7e"/>
<rect x="25" y="25" width="1.04" height="1.04" fill="#701e82"/>
<rect x="26" y="25" width="1.04" height="1.04" fill="#822580"/>
<rect x="27" y="25" width="1.04" height="1.04" fill="#741f82"/>
<rect x="28" y="25" width="1.04" height="1.04" fill="#85267f"/>
<rect x="29" y="25" width="1.04" height="1.04" fill="#711e82"/>
<rect x="30" y="25" width="1.04" height="1.04" fill="#6b1c7f"/>
<rect x="31" y="25" width="1.04" height="1.04" fill="#731f82"/>
<rect x="32" y="25" width="1.04" height="1.04" fill="#5f1779"/>
<rect x="33" y="25" width="1.04" height="1.04" fill="#531273"/>
<rect x="34" y="25" width="1.04" height="1.04" fill="#591575"/>
<rect x="35" y="25" width="1.04" height="1.04" fill="#65197c"/>
<rect x="36" y="25" width="1.04" height="1.04" fill="#772181"/>
<rect x="0" y="26" width="1.04" height="1.04" fill="#b23a70"/>
<rect x="1" y="26" width="1.04" height="1.04" fill="#9b2e7c"/>
<rect x="2" y="26" width="1.04" height="1.04" fill="#6a1b7f"/>
<rect x="3" y="26" width="1.04" height="1.04" fill="#8b287f"/>
<rect x="4" y="26" width="1.04" height="1.04" fill="#ab3674"/>
<rect x="5" y="26" width="1.04" height="1.04" fill="#9e307a"/>
<rect x="6" y="26" width="1.04" height="1.04" fill="#ab3674"/>
<rect x="7" y="26" width="1.04" height="1.04" fill="#b13a70"/>
<rect x="8" y="26" width="1.04" height="1.04" fill="#9c2f7b"/>
<rect x="9" y="26" width="1.04" height="1.04" fill="#aa3674"/>
<rect x="10" y="26" width="1.04" height="1.04" fill="#a23278"/>
<rect x="11" y="26" width="1.04" height="1.04" fill="#b23a70"/>
<rect x="12" y="26" width="1.04" height="1.04" fill="#ac3773"/>
<rect x="13" y="26" width="1.04" height="1.04" fill="#8d297e"/>
<rect x="14" y="26" width="1.04" height="1.04" fill="#7e2380"/>
<rect x="15" y="26" width="1.04" height="1.04" fill="#6d1d80"/>
<rect x="16" y="26" width="1.04" height="1.04" fill="#731f82"/>
<rect x="17" y="26" width="1.04" height="1.04" fill="#7d2380"/>
<rect x="18" y="26" width="1.04" height="1.04" fill="#942b7e"/>
<rect x="19" y="26" width="1.04" height="1.04" fill="#bd406a"/>
<rect x="20" y="26" width="1.04" height="1.04" fill="#bc3f6b"/>
<rect x="21" y="26" width="1.04" height="1.04" fill="#c24367"/>
<rect x="22" y="26" width="1.04" height="1.04" fill="#c44466"/>
<rect x="23" y="26" width="1.04" height="1.04" fill="#a13179"/>
<rect x="24" y="26" width="1.04" height="1.04" fill="#842580"/>
<rect x="25" y="26" width="1.04" height="1.04" fill="#6f1e81"/>
<rect x="26" y="26" width="1.04" height="1.04" fill="#721f82"/>
<rect x="27" y="26" width="1.04" height="1.04" fill="#5c1677"/>
<rect x="28" y="26" width="1.04" height="1.04" fill="#551373"/>
<rect x="29" y="26" width="1.04" height="1.04" fill="#4b0f6e"/>
<rect x="30" y="26" width="1.04" height="1.04" fill="#511171"/>
<rect x="31" y="26" width="1.04" height="1.04" fill="#6f1e82"/>
<rect x="32" y="26" width="1.04" height="1.04" fill="#721f82"/>
<rect x="33" y="26" width="1.04" height="1.04" fill="#4f1170"/>
<rect x="34" y="26" width="1.04" height="1.04" fill="#4a0f6d"/>
<rect x="35" y="26" width="1.04" height="1.04" fill="#64197b"/>
<rect x="36" y="26" width="1.04" height="1.04" fill="#6a1b7f"/>
<rect x="0" y="27" width="1.04" height="1.04" fill="#972c7d"/>
<rect x="1" y="27" width="1.04" height="1.04" fill="#a13278"/>
<rect x="2" y="27" width="1.04" height="1.04" fill="#a33377"/>
<rect x="3" y="27" width="1.04" height="1.04" fill="#b63c6e"/>
<rect x="4" y="27" width="1.04" height="1.04" fill="#b93e6c"/>
<rect x="5" y="27" width="1.04" height="1.04" fill="#bc3f6b"/>
<rect x="6" y="27" width="1.04" height="1.04" fill="#ab3773"/>
<rect x="7" y="27" width="1.04" height="1.04" fill="#bf4169"/>
<rect x="8" y="27" width="1.04" height="1.04" fill="#c04169"/>
<rect x="9" y="27" width="1.04" height="1.04" fill="#c34367"/>
<rect x="10" y="27" width="1.04" height="1.04" fill="#c64664"/>
<rect x="11" y="27" width="1.04" height="1.04" fill="#ac3773"/>
<rect x="12" y="27" width="1.04" height="1.04" fill="#822580"/>
<rect x="13" y="27" width="1.04" height="1.04" fill="#681b7e"/>
<rect x="14" y="27" width="1.04" height="1.04" fill="#6a1c7f"/>
<rect x="15" y="27" width="1.04" height="1.04" fill="#942b7e"/>
<rect x="16" y="27" width="1.04" height="1.04" fill="#832580"/>
<rect x="17" y="27" width="1.04" height="1.04" fill="#792181"/>
<rect x="18" y="27" width="1.04" height="1.04" fill="#7a2281"/>
<rect x="19" y="27" width="1.04" height="1.04" fill="#792181"/>
<rect x="20" y="27" width="1.04" height="1.04" fill="#721f82"/>
<rect x="21" y="27" width="1.04" height="1.04" fill="#7e2380"/>
<rect x="22" y="27" width="1.04" height="1.04" fill="#7e2380"/>
<rect x="23" y="27" width="1.04" height="1.04" fill="#63197b"/>
<rect x="24" y="27" width="1.04" height="1.04" fill="#7b2281"/>
<rect x="25" y="27" width="1.04" height="1.04" fill="#681b7d"/>
<rect x="26" y="27" width="1.04" height="1.04" fill="#762081"/>
<rect x="27" y="27" width="1.04" height="1.04" fill="#661a7d"/>
<rect x="28" y="27" width="1.04" height="1.04" fill="#6f1d81"/>
<rect x="29" y="27" width="1.04" height="1.04" fill="#61187a"/>
<rect x="30" y="27" width="1.04" height="1.04" fill="#6d1d81"/>
<rect x="31" y="27" width="1.04" height="1.04" fill="#701e82"/>
<rect x="32" y="27" width="1.04" height="1.04" fill="#832580"/>
<rect x="33" y="27" width="1.04" height="1.04" fill="#8d297e"/>
<rect x="34" y="27" width="1.04" height="1.04" fill="#711e82"/>
<rect x="35" y="27" width="1.04" height="1.04" fill="#802480"/>
<rect x="36" y="27" width="1.04" height="1.04" fill="#6d1d81"/>
<rect x="0" y="28" width="1.04" height="1.04" fill="#a73476"/>
<rect x="1" y="28" width="1.04" height="1.04" fill="#912b7e"/>
<rect x="2" y="28" width="1.04" height="1.04" fill="#8c287f"/>
<rect x="3" y="28" width="1.04" height="1.04" fill="#802480"/>
<rect x="4" y="28" width="1.04" height="1.04" fill="#8a287f"/>
<rect x="5" y="28" width="1.04" height="1.04" fill="#962c7d"/>
<rect x="6" y="28" width="1.04" height="1.04" fill="#b03971"/>
<rect x="7" y="28" width="1.04" height="1.04" fill="#932b7e"/>
<rect x="8" y="28" width="1.04" height="1.04" fill="#912a7e"/>
<rect x="9" y="28" width="1.04" height="1.04" fill="#a63476"/>
<rect x="10" y="28" width="1.04" height="1.04" fill="#bf4169"/>
<rect x="11" y="28" width="1.04" height="1.04" fill="#c94961"/>
<rect x="12" y="28" width="1.04" height="1.04" fill="#cd4c5e"/>
<rect x="13" y="28" width="1.04" height="1.04" fill="#ce4d5d"/>
<rect x="14" y="28" width="1.04" height="1.04" fill="#db5852"/>
<rect x="15" y="28" width="1.04" height="1.04" fill="#c94961"/>
<rect x="16" y="28" width="1.04" height="1.04" fill="#af3971"/>
<rect x="17" y="28" width="1.04" height="1.04" fill="#902a7e"/>
<rect x="18" y="28" width="1.04" height="1.04" fill="#822580"/>
<rect x="19" y="28" width="1.04" height="1.04" fill="#842580"/>
<rect x="20" y="28" width="1.04" height="1.04" fill="#952c7d"/>
<rect x="21" y="28" width="1.04" height="1.04" fill="#962c7d"/>
<rect x="22" y="28" width="1.04" height="1.04" fill="#9a2e7c"/>
<rect x="23" y="28" width="1.04" height="1.04" fill="#a43377"/>
<rect x="24" y="28" width="1.04" height="1.04" fill="#a43377"/>
<rect x="25" y="28" width="1.04" height="1.04" fill="#c04169"/>
<rect x="26" y="28" width="1.04" height="1.04" fill="#d45159"/>
<rect x="27" y="28" width="1.04" height="1.04" fill="#df5c4e"/>
<rect x="28" y="28" width="1.04" height="1.04" fill="#e56544"/>
<rect x="29" y="28" width="1.04" height="1.04" fill="#d95654"/>
<rect x="30" y="28" width="1.04" height="1.04" fill="#e56544"/>
<rect x="31" y="28" width="1.04" height="1.04" fill="#ea6e3a"/>
<rect x="32" y="28" width="1.04" height="1.04" fill="#e36247"/>
<rect x="33" y="28" width="1.04" height="1.04" fill="#eb7038"/>
<rect x="34" y="28" width="1.04" height="1.04" fill="#e86a3e"/>
<rect x="35" y="28" width="1.04" height="1.04" fill="#d14f5b"/>
<rect x="36" y="28" width="1.04" height="1.04" fill="#cb4a60"/>
<rect x="0" y="29" width="1.04" height="1.04" fill="#9a2e7c"/>
<rect x="1" y="29" width="1.04" height="1.04" fill="#86267f"/>
<rect x="2" y="29" width="1.04" height="1.04" fill="#932b7e"/>
<rect x="3" y="29" width="1.04" height="1.04" fill="#ae3872"/>
<rect x="4" y="29" width="1.04" height="1.04" fill="#9b2f7b"/>
<rect x="5" y="29" width="1.04" height="1.04" fill="#a53476"/>
<rect x="6" y="29" width="1.04" height="1.04" fill="#9e307a"/>
<rect x="7" y="29" width="1.04" height="1.04" fill="#a23278"/>
<rect x="8" y="29" width="1.04" height="1.04" fill="#a43377"/>
<rect x="9" y="29" width="1.04" height="1.04" fill="#8f2a7e"/>
<rect x="10" y="29" width="1.04" height="1.04" fill="#88277f"/>
<rect x="11" y="29" width="1.04" height="1.04" fill="#992e7c"/>
<rect x="12" y="29" width="1.04" height="1.04" fill="#a83575"/>
<rect x="13" y="29" width="1.04" height="1.04" fill="#8a287f"/>
<rect x="14" y="29" width="1.04" height="1.04" fill="#6b1c7f"/>
<rect x="15" y="29" width="1.04" height="1.04" fill="#681b7e"/>
<rect x="16" y="29" width="1.04" height="1.04" fill="#681b7e"/>
<rect x="17" y="29" width="1.04" height="1.04" fill="#8a287f"/>
<rect x="18" y="29" width="1.04" height="1.04" fill="#a83575"/>
<rect x="19" y="29" width="1.04" height="1.04" fill="#aa3674"/>
<rect x="20" y="29" width="1.04" height="1.04" fill="#ba3e6c"/>
<rect x="21" y="29" width="1.04" height="1.04" fill="#a73476"/>
<rect x="22" y="29" width="1.04" height="1.04" fill="#b33a70"/>
<rect x="23" y="29" width="1.04" height="1.04" fill="#8a287f"/>
<rect x="24" y="29" width="1.04" height="1.04" fill="#902a7e"/>
<rect x="25" y="29" width="1.04" height="1.04" fill="#8e297e"/>
<rect x="26" y="29" width="1.04" height="1.04" fill="#9c2f7b"/>
<rect x="27" y="29" width="1.04" height="1.04" fill="#7a2281"/>
<rect x="28" y="29" width="1.04" height="1.04" fill="#6a1c7f"/>
<rect x="29" y="29" width="1.04" height="1.04" fill="#5b1677"/>
<rect x="30" y="29" width="1.04" height="1.04" fill="#6c1c80"/>
<rect x="31" y="29" width="1.04" height="1.04" fill="#5f1779"/>
<rect x="32" y="29" width="1.04" height="1.04" fill="#701e82"/>
<rect x="33" y="29" width="1.04" height="1.04" fill="#591575"/>
<rect x="34" y="29" width="1.04" height="1.04" fill="#5d1678"/>
<rect x="35" y="29" width="1.04" height="1.04" fill="#61187a"/>
<rect x="36" y="29" width="1.04" height="1.04" fill="#7b2281"/>
</g>
<path d="M290.39,295.7V373.1 M292.49,295.7V373.1 M294.58,295.7V373.1 M296.68,295.7V373.1 M298.77,295.7V373.1 M300.87,295.7V373.1 M302.96,295.7V373.1 M305.06,295.7V373.1 M307.15,295.7V373.1 M309.25,295.7V373.1 M311.34,295.7V373.1 M313.44,295.7V373.1 M315.53,295.7V373.1 M317.62,295.7V373.1 M319.72,295.7V373.1 M321.81,295.7V373.1 M323.91,295.7V373.1 M326.00,295.7V373.1 M328.10,295.7V373.1 M330.19,295.7V373.1 M332.29,295.7V373.1 M334.38,295.7V373.1 M336.48,295.7V373.1 M338.57,295.7V373.1 M340.66,295.7V373.1 M342.76,295.7V373.1 M344.85,295.7V373.1 M346.95,295.7V373.1 M349.04,295.7V373.1 M351.14,295.7V373.1 M353.23,295.7V373.1 M355.33,295.7V373.1 M357.42,295.7V373.1 M359.52,295.7V373.1 M361.61,295.7V373.1 M363.71,295.7V373.1" stroke="#fff" stroke-width="0.4" opacity="0.16"/>
<line x1="313.8" y1="295.7" x2="313.8" y2="373.1" stroke="#f4e0f0" stroke-width="1.25" stroke-dasharray="6.3,3.9" opacity="0.85"/>
<line x1="339.7" y1="295.7" x2="339.7" y2="373.1" stroke="#f4e0f0" stroke-width="1.25" stroke-dasharray="6.3,3.9" opacity="0.85"/>
<line x1="287.90000000000003" y1="295.7" x2="287.90000000000003" y2="373.6" stroke="#555" stroke-width="0.8"/>
<line x1="287.90000000000003" y1="373.5" x2="365.8" y2="373.5" stroke="#555" stroke-width="0.8"/>
<line x1="288.3" y1="373.5" x2="288.3" y2="375.3" stroke="#555" stroke-width="0.8"/>
<line x1="301.2166666666667" y1="373.5" x2="301.2166666666667" y2="374.70000000000005" stroke="#555" stroke-width="0.8"/>
<line x1="314.1333333333333" y1="373.5" x2="314.1333333333333" y2="375.3" stroke="#555" stroke-width="0.8"/>
<line x1="327.05" y1="373.5" x2="327.05" y2="374.70000000000005" stroke="#555" stroke-width="0.8"/>
<line x1="339.9666666666667" y1="373.5" x2="339.9666666666667" y2="375.3" stroke="#555" stroke-width="0.8"/>
<line x1="352.8833333333333" y1="373.5" x2="352.8833333333333" y2="374.70000000000005" stroke="#555" stroke-width="0.8"/>
<line x1="365.8" y1="373.5" x2="365.8" y2="375.3" stroke="#555" stroke-width="0.8"/>
<defs><linearGradient id="cb1" x1="0" y1="0" x2="0" y2="1"><stop offset="0.0" stop-color="#fcfaa5"/><stop offset="0.1" stop-color="#f8d74b"/><stop offset="0.2" stop-color="#faa814"/><stop offset="0.3" stop-color="#f37d2a"/><stop offset="0.4" stop-color="#de5a50"/><stop offset="0.5" stop-color="#c04169"/><stop offset="0.6" stop-color="#982d7d"/><stop offset="0.7" stop-color="#701e82"/><stop offset="0.8" stop-color="#4b0f6e"/><stop offset="0.9" stop-color="#230c46"/><stop offset="1.0" stop-color="#0a051e"/></linearGradient></defs>
<rect x="370.2" y="295.7" width="5.199999999999989" height="77.40000000000003" fill="url(#cb1)" stroke="#555" stroke-width="0.4"/>
<text x="377.8" y="305.40000000000003" font-size="9" text-anchor="start" fill="#1a1a1a">10</text>
<text x="377.8" y="325.90000000000003" font-size="9" text-anchor="start" fill="#1a1a1a">5</text>
<text x="377.8" y="346.40000000000003" font-size="9" text-anchor="start" fill="#1a1a1a">0</text>
<text x="377.8" y="366.90000000000003" font-size="9" text-anchor="start" fill="#1a1a1a">-5</text>
<text x="395.5" y="337" font-size="10" text-anchor="middle" fill="#1a1a1a" transform="rotate(-90 395.5 337)">z-score</text>
<text x="280.3" y="332.2" font-size="10" text-anchor="middle" fill="#1a1a1a" transform="rotate(-90 280.3 332.2)">Trials (R)</text>
<text x="285.5" y="300.8" font-size="10" text-anchor="end" fill="#1a1a1a">1</text>
<text x="285.5" y="372.8" font-size="10" text-anchor="end" fill="#1a1a1a">30</text>
<g class="hm" transform="translate(288.30,389.50) scale(2.0730,5.1667)">
<rect x="0" y="0" width="1.04" height="1.04" fill="#a33377"/>
<rect x="1" y="0" width="1.04" height="1.04" fill="#8f2a7e"/>
<rect x="2" y="0" width="1.04" height="1.04" fill="#902a7e"/>
<rect x="3" y="0" width="1.04" height="1.04" fill="#a13179"/>
<rect x="4" y="0" width="1.04" height="1.04" fill="#9b2e7c"/>
<rect x="5" y="0" width="1.04" height="1.04" fill="#87277f"/>
<rect x="6" y="0" width="1.04" height="1.04" fill="#7f2480"/>
<rect x="7" y="0" width="1.04" height="1.04" fill="#9b2e7c"/>
<rect x="8" y="0" width="1.04" height="1.04" fill="#b03971"/>
<rect x="9" y="0" width="1.04" height="1.04" fill="#b13971"/>
<rect x="10" y="0" width="1.04" height="1.04" fill="#b23a70"/>
<rect x="11" y="0" width="1.04" height="1.04" fill="#c14268"/>
<rect x="12" y="0" width="1.04" height="1.04" fill="#bc3f6b"/>
<rect x="13" y="0" width="1.04" height="1.04" fill="#ce4d5d"/>
<rect x="14" y="0" width="1.04" height="1.04" fill="#d45159"/>
<rect x="15" y="0" width="1.04" height="1.04" fill="#e15e4b"/>
<rect x="16" y="0" width="1.04" height="1.04" fill="#e1604a"/>
<rect x="17" y="0" width="1.04" height="1.04" fill="#d35159"/>
<rect x="18" y="0" width="1.04" height="1.04" fill="#7d2380"/>
<rect x="19" y="0" width="1.04" height="1.04" fill="#460f69"/>
<rect x="20" y="0" width="1.04" height="1.04" fill="#390e5c"/>
<rect x="21" y="0" width="1.04" height="1.04" fill="#571474"/>
<rect x="22" y="0" width="1.04" height="1.04" fill="#721f82"/>
<rect x="23" y="0" width="1.04" height="1.04" fill="#87277f"/>
<rect x="24" y="0" width="1.04" height="1.04" fill="#731f82"/>
<rect x="25" y="0" width="1.04" height="1.04" fill="#8e297e"/>
<rect x="26" y="0" width="1.04" height="1.04" fill="#992e7c"/>
<rect x="27" y="0" width="1.04" height="1.04" fill="#a23278"/>
<rect x="28" y="0" width="1.04" height="1.04" fill="#ae3872"/>
<rect x="29" y="0" width="1.04" height="1.04" fill="#6f1e81"/>
<rect x="30" y="0" width="1.04" height="1.04" fill="#3a0e5d"/>
<rect x="31" y="0" width="1.04" height="1.04" fill="#1e0b3d"/>
<rect x="32" y="0" width="1.04" height="1.04" fill="#390e5c"/>
<rect x="33" y="0" width="1.04" height="1.04" fill="#7e2380"/>
<rect x="34" y="0" width="1.04" height="1.04" fill="#af3872"/>
<rect x="35" y="0" width="1.04" height="1.04" fill="#b63c6e"/>
<rect x="36" y="0" width="1.04" height="1.04" fill="#bc3f6b"/>
<rect x="0" y="1" width="1.04" height="1.04" fill="#a83575"/>
<rect x="1" y="1" width="1.04" height="1.04" fill="#a83575"/>
<rect x="2" y="1" width="1.04" height="1.04" fill="#9c2f7b"/>
<rect x="3" y="1" width="1.04" height="1.04" fill="#aa3674"/>
<rect x="4" y="1" width="1.04" height="1.04" fill="#a53476"/>
<rect x="5" y="1" width="1.04" height="1.04" fill="#9f307a"/>
<rect x="6" y="1" width="1.04" height="1.04" fill="#982d7d"/>
<rect x="7" y="1" width="1.04" height="1.04" fill="#952c7d"/>
<rect x="8" y="1" width="1.04" height="1.04" fill="#b43b6f"/>
<rect x="9" y="1" width="1.04" height="1.04" fill="#b73c6e"/>
<rect x="10" y="1" width="1.04" height="1.04" fill="#ab3773"/>
<rect x="11" y="1" width="1.04" height="1.04" fill="#982d7d"/>
<rect x="12" y="1" width="1.04" height="1.04" fill="#88277f"/>
<rect x="13" y="1" width="1.04" height="1.04" fill="#7e2380"/>
<rect x="14" y="1" width="1.04" height="1.04" fill="#84267f"/>
<rect x="15" y="1" width="1.04" height="1.04" fill="#6c1c80"/>
<rect x="16" y="1" width="1.04" height="1.04" fill="#6d1d80"/>
<rect x="17" y="1" width="1.04" height="1.04" fill="#6e1d81"/>
<rect x="18" y="1" width="1.04" height="1.04" fill="#7b2281"/>
<rect x="19" y="1" width="1.04" height="1.04" fill="#721f82"/>
<rect x="20" y="1" width="1.04" height="1.04" fill="#721f82"/>
<rect x="21" y="1" width="1.04" height="1.04" fill="#63197b"/>
<rect x="22" y="1" width="1.04" height="1.04" fill="#8b287f"/>
<rect x="23" y="1" width="1.04" height="1.04" fill="#822580"/>
<rect x="24" y="1" width="1.04" height="1.04" fill="#762081"/>
<rect x="25" y="1" width="1.04" height="1.04" fill="#8c287f"/>
<rect x="26" y="1" width="1.04" height="1.04" fill="#6c1c80"/>
<rect x="27" y="1" width="1.04" height="1.04" fill="#4b0f6e"/>
<rect x="28" y="1" width="1.04" height="1.04" fill="#6c1c80"/>
<rect x="29" y="1" width="1.04" height="1.04" fill="#89287f"/>
<rect x="30" y="1" width="1.04" height="1.04" fill="#a03179"/>
<rect x="31" y="1" width="1.04" height="1.04" fill="#a93575"/>
<rect x="32" y="1" width="1.04" height="1.04" fill="#b53b6f"/>
<rect x="33" y="1" width="1.04" height="1.04" fill="#942b7e"/>
<rect x="34" y="1" width="1.04" height="1.04" fill="#701e82"/>
<rect x="35" y="1" width="1.04" height="1.04" fill="#731f82"/>
<rect x="36" y="1" width="1.04" height="1.04" fill="#8e297e"/>
<rect x="0" y="2" width="1.04" height="1.04" fill="#b03971"/>
<rect x="1" y="2" width="1.04" height="1.04" fill="#ab3773"/>
<rect x="2" y="2" width="1.04" height="1.04" fill="#b13a70"/>
<rect x="3" y="2" width="1.04" height="1.04" fill="#be406a"/>
<rect x="4" y="2" width="1.04" height="1.04" fill="#b93e6c"/>
<rect x="5" y="2" width="1.04" height="1.04" fill="#b63c6e"/>
<rect x="6" y="2" width="1.04" height="1.04" fill="#be406a"/>
<rect x="7" y="2" width="1.04" height="1.04" fill="#b73c6e"/>
<rect x="8" y="2" width="1.04" height="1.04" fill="#a93575"/>
<rect x="9" y="2" width="1.04" height="1.04" fill="#9d2f7b"/>
<rect x="10" y="2" width="1.04" height="1.04" fill="#9f3179"/>
<rect x="11" y="2" width="1.04" height="1.04" fill="#9f3179"/>
<rect x="12" y="2" width="1.04" height="1.04" fill="#ad3872"/>
<rect x="13" y="2" width="1.04" height="1.04" fill="#b23a70"/>
<rect x="14" y="2" width="1.04" height="1.04" fill="#ac3773"/>
<rect x="15" y="2" width="1.04" height="1.04" fill="#aa3674"/>
<rect x="16" y="2" width="1.04" height="1.04" fill="#b83d6d"/>
<rect x="17" y="2" width="1.04" height="1.04" fill="#b73c6e"/>
<rect x="18" y="2" width="1.04" height="1.04" fill="#bd406a"/>
<rect x="19" y="2" width="1.04" height="1.04" fill="#ae3872"/>
<rect x="20" y="2" width="1.04" height="1.04" fill="#b23a70"/>
<rect x="21" y="2" width="1.04" height="1.04" fill="#ac3773"/>
<rect x="22" y="2" width="1.04" height="1.04" fill="#9d307a"/>
<rect x="23" y="2" width="1.04" height="1.04" fill="#87277f"/>
<rect x="24" y="2" width="1.04" height="1.04" fill="#8c287f"/>
<rect x="25" y="2" width="1.04" height="1.04" fill="#912a7e"/>
<rect x="26" y="2" width="1.04" height="1.04" fill="#952c7d"/>
<rect x="27" y="2" width="1.04" height="1.04" fill="#8e297e"/>
<rect x="28" y="2" width="1.04" height="1.04" fill="#88277f"/>
<rect x="29" y="2" width="1.04" height="1.04" fill="#741f82"/>
<rect x="30" y="2" width="1.04" height="1.04" fill="#7a2281"/>
<rect x="31" y="2" width="1.04" height="1.04" fill="#721f82"/>
<rect x="32" y="2" width="1.04" height="1.04" fill="#6f1d81"/>
<rect x="33" y="2" width="1.04" height="1.04" fill="#681b7e"/>
<rect x="34" y="2" width="1.04" height="1.04" fill="#6c1c80"/>
<rect x="35" y="2" width="1.04" height="1.04" fill="#701e82"/>
<rect x="36" y="2" width="1.04" height="1.04" fill="#64197c"/>
<rect x="0" y="3" width="1.04" height="1.04" fill="#a73476"/>
<rect x="1" y="3" width="1.04" height="1.04" fill="#a63476"/>
<rect x="2" y="3" width="1.04" height="1.04" fill="#b53c6e"/>
<rect x="3" y="3" width="1.04" height="1.04" fill="#bb3f6b"/>
<rect x="4" y="3" width="1.04" height="1.04" fill="#b33a70"/>
<rect x="5" y="3" width="1.04" height="1.04" fill="#be406a"/>
<rect x="6" y="3" width="1.04" height="1.04" fill="#ab3773"/>
<rect x="7" y="3" width="1.04" height="1.04" fill="#88277f"/>
<rect x="8" y="3" width="1.04" height="1.04" fill="#822580"/>
<rect x="9" y="3" width="1.04" height="1.04" fill="#6c1d80"/>
<rect x="10" y="3" width="1.04" height="1.04" fill="#5b1577"/>
<rect x="11" y="3" width="1.04" height="1.04" fill="#601779"/>
<rect x="12" y="3" width="1.04" height="1.04" fill="#9c2f7b"/>
<rect x="13" y="3" width="1.04" height="1.04" fill="#a13179"/>
<rect x="14" y="3" width="1.04" height="1.04" fill="#a53476"/>
<rect x="15" y="3" width="1.04" height="1.04" fill="#a63476"/>
<rect x="16" y="3" width="1.04" height="1.04" fill="#ad3773"/>
<rect x="17" y="3" width="1.04" height="1.04" fill="#a13278"/>
<rect x="18" y="3" width="1.04" height="1.04" fill="#942c7d"/>
<rect x="19" y="3" width="1.04" height="1.04" fill="#63197b"/>
<rect x="20" y="3" width="1.04" height="1.04" fill="#5e1778"/>
<rect x="21" y="3" width="1.04" height="1.04" fill="#5a1576"/>
<rect x="22" y="3" width="1.04" height="1.04" fill="#721f82"/>
<rect x="23" y="3" width="1.04" height="1.04" fill="#822580"/>
<rect x="24" y="3" width="1.04" height="1.04" fill="#982d7d"/>
<rect x="25" y="3" width="1.04" height="1.04" fill="#ba3e6c"/>
<rect x="26" y="3" width="1.04" height="1.04" fill="#b53c6e"/>
<rect x="27" y="3" width="1.04" height="1.04" fill="#b13971"/>
<rect x="28" y="3" width="1.04" height="1.04" fill="#c14268"/>
<rect x="29" y="3" width="1.04" height="1.04" fill="#cb4a60"/>
<rect x="30" y="3" width="1.04" height="1.04" fill="#a83575"/>
<rect x="31" y="3" width="1.04" height="1.04" fill="#a43377"/>
<rect x="32" y="3" width="1.04" height="1.04" fill="#902a7e"/>
<rect x="33" y="3" width="1.04" height="1.04" fill="#a33377"/>
<rect x="34" y="3" width="1.04" height="1.04" fill="#9e307a"/>
<rect x="35" y="3" width="1.04" height="1.04" fill="#9a2e7c"/>
<rect x="36" y="3" width="1.04" height="1.04" fill="#ac3773"/>
<rect x="0" y="4" width="1.04" height="1.04" fill="#b23a70"/>
<rect x="1" y="4" width="1.04" height="1.04" fill="#b13a70"/>
<rect x="2" y="4" width="1.04" height="1.04" fill="#942c7d"/>
<rect x="3" y="4" width="1.04" height="1.04" fill="#922b7e"/>
<rect x="4" y="4" width="1.04" height="1.04" fill="#84267f"/>
<rect x="5" y="4" width="1.04" height="1.04" fill="#af3971"/>
<rect x="6" y="4" width="1.04" height="1.04" fill="#a83575"/>
<rect x="7" y="4" width="1.04" height="1.04" fill="#942b7e"/>
<rect x="8" y="4" width="1.04" height="1.04" fill="#9e307a"/>
<rect x="9" y="4" width="1.04" height="1.04" fill="#be406a"/>
<rect x="10" y="4" width="1.04" height="1.04" fill="#a93575"/>
<rect x="11" y="4" width="1.04" height="1.04" fill="#8a287f"/>
<rect x="12" y="4" width="1.04" height="1.04" fill="#85267f"/>
<rect x="13" y="4" width="1.04" height="1.04" fill="#86267f"/>
<rect x="14" y="4" width="1.04" height="1.04" fill="#8b287f"/>
<rect x="15" y="4" width="1.04" height="1.04" fill="#a23278"/>
<rect x="16" y="4" width="1.04" height="1.04" fill="#7d2380"/>
<rect x="17" y="4" width="1.04" height="1.04" fill="#792181"/>
<rect x="18" y="4" width="1.04" height="1.04" fill="#5e1778"/>
<rect x="19" y="4" width="1.04" height="1.04" fill="#3f0e62"/>
<rect x="20" y="4" width="1.04" height="1.04" fill="#450f68"/>
<rect x="21" y="4" width="1.04" height="1.04" fill="#541373"/>
<rect x="22" y="4" width="1.04" height="1.04" fill="#5b1577"/>
<rect x="23" y="4" width="1.04" height="1.04" fill="#5a1576"/>
<rect x="24" y="4" width="1.04" height="1.04" fill="#6f1e82"/>
<rect x="25" y="4" width="1.04" height="1.04" fill="#792181"/>
<rect x="26" y="4" width="1.04" height="1.04" fill="#8b287f"/>
<rect x="27" y="4" width="1.04" height="1.04" fill="#89277f"/>
<rect x="28" y="4" width="1.04" height="1.04" fill="#86267f"/>
<rect x="29" y="4" width="1.04" height="1.04" fill="#752081"/>
<rect x="30" y="4" width="1.04" height="1.04" fill="#7c2281"/>
<rect x="31" y="4" width="1.04" height="1.04" fill="#802480"/>
<rect x="32" y="4" width="1.04" height="1.04" fill="#902a7e"/>
<rect x="33" y="4" width="1.04" height="1.04" fill="#8e297e"/>
<rect x="34" y="4" width="1.04" height="1.04" fill="#7a2281"/>
<rect x="35" y="4" width="1.04" height="1.04" fill="#8a287f"/>
<rect x="36" y="4" width="1.04" height="1.04" fill="#8d297e"/>
<rect x="0" y="5" width="1.04" height="1.04" fill="#a93674"/>
<rect x="1" y="5" width="1.04" height="1.04" fill="#9b2e7c"/>
<rect x="2" y="5" width="1.04" height="1.04" fill="#992e7c"/>
<rect x="3" y="5" width="1.04" height="1.04" fill="#992d7d"/>
<rect x="4" y="5" width="1.04" height="1.04" fill="#922b7e"/>
<rect x="5" y="5" width="1.04" height="1.04" fill="#982d7d"/>
<rect x="6" y="5" width="1.04" height="1.04" fill="#88277f"/>
<rect x="7" y="5" width="1.04" height="1.04" fill="#802480"/>
<rect x="8" y="5" width="1.04" height="1.04" fill="#982d7d"/>
<rect x="9" y="5" width="1.04" height="1.04" fill="#8b287f"/>
<rect x="10" y="5" width="1.04" height="1.04" fill="#b53b6f"/>
<rect x="11" y="5" width="1.04" height="1.04" fill="#cb4a60"/>
<rect x="12" y="5" width="1.04" height="1.04" fill="#e26149"/>
<rect x="13" y="5" width="1.04" height="1.04" fill="#f58b23"/>
<rect x="14" y="5" width="1.04" height="1.04" fill="#f48028"/>
<rect x="15" y="5" width="1.04" height="1.04" fill="#f7941e"/>
<rect x="16" y="5" width="1.04" height="1.04" fill="#f38029"/>
<rect x="17" y="5" width="1.04" height="1.04" fill="#f7941e"/>
<rect x="18" y="5" width="1.04" height="1.04" fill="#f58825"/>
<rect x="19" y="5" width="1.04" height="1.04" fill="#f37c2b"/>
<rect x="20" y="5" width="1.04" height="1.04" fill="#f7961d"/>
<rect x="21" y="5" width="1.04" height="1.04" fill="#f9a217"/>
<rect x="22" y="5" width="1.04" height="1.04" fill="#f69120"/>
<rect x="23" y="5" width="1.04" height="1.04" fill="#f69020"/>
<rect x="24" y="5" width="1.04" height="1.04" fill="#f69120"/>
<rect x="25" y="5" width="1.04" height="1.04" fill="#fab321"/>
<rect x="26" y="5" width="1.04" height="1.04" fill="#f8db56"/>
<rect x="27" y="5" width="1.04" height="1.04" fill="#f9e46c"/>
<rect x="28" y="5" width="1.04" height="1.04" fill="#fbef89"/>
<rect x="29" y="5" width="1.04" height="1.04" fill="#fae878"/>
<rect x="30" y="5" width="1.04" height="1.04" fill="#fcfaa5"/>
<rect x="31" y="5" width="1.04" height="1.04" fill="#fbf599"/>
<rect x="32" y="5" width="1.04" height="1.04" fill="#fcfaa5"/>
<rect x="33" y="5" width="1.04" height="1.04" fill="#fcfaa5"/>
<rect x="34" y="5" width="1.04" height="1.04" fill="#fbf08b"/>
<rect x="35" y="5" width="1.04" height="1.04" fill="#f9dd59"/>
<rect x="36" y="5" width="1.04" height="1.04" fill="#f8da52"/>
<rect x="0" y="6" width="1.04" height="1.04" fill="#aa3674"/>
<rect x="1" y="6" width="1.04" height="1.04" fill="#9d2f7b"/>
<rect x="2" y="6" width="1.04" height="1.04" fill="#9b2e7c"/>
<rect x="3" y="6" width="1.04" height="1.04" fill="#802480"/>
<rect x="4" y="6" width="1.04" height="1.04" fill="#952c7d"/>
<rect x="5" y="6" width="1.04" height="1.04" fill="#952c7d"/>
<rect x="6" y="6" width="1.04" height="1.04" fill="#b03971"/>
<rect x="7" y="6" width="1.04" height="1.04" fill="#a53377"/>
<rect x="8" y="6" width="1.04" height="1.04" fill="#a83575"/>
<rect x="9" y="6" width="1.04" height="1.04" fill="#ad3773"/>
<rect x="10" y="6" width="1.04" height="1.04" fill="#ad3872"/>
<rect x="11" y="6" width="1.04" height="1.04" fill="#c34367"/>
<rect x="12" y="6" width="1.04" height="1.04" fill="#c24367"/>
<rect x="13" y="6" width="1.04" height="1.04" fill="#c34367"/>
<rect x="14" y="6" width="1.04" height="1.04" fill="#c64664"/>
<rect x="15" y="6" width="1.04" height="1.04" fill="#c24367"/>
<rect x="16" y="6" width="1.04" height="1.04" fill="#c74763"/>
<rect x="17" y="6" width="1.04" height="1.04" fill="#b83d6d"/>
<rect x="18" y="6" width="1.04" height="1.04" fill="#c24268"/>
<rect x="19" y="6" width="1.04" height="1.04" fill="#a93674"/>
<rect x="20" y="6" width="1.04" height="1.04" fill="#ae3872"/>
<rect x="21" y="6" width="1.04" height="1.04" fill="#a83575"/>
<rect x="22" y="6" width="1.04" height="1.04" fill="#a83575"/>
<rect x="23" y="6" width="1.04" height="1.04" fill="#ac3773"/>
<rect x="24" y="6" width="1.04" height="1.04" fill="#a13278"/>
<rect x="25" y="6" width="1.04" height="1.04" fill="#8f2a7e"/>
<rect x="26" y="6" width="1.04" height="1.04" fill="#6d1d80"/>
<rect x="27" y="6" width="1.04" height="1.04" fill="#87277f"/>
<rect x="28" y="6" width="1.04" height="1.04" fill="#822580"/>
<rect x="29" y="6" width="1.04" height="1.04" fill="#7b2281"/>
<rect x="30" y="6" width="1.04" height="1.04" fill="#742081"/>
<rect x="31" y="6" width="1.04" height="1.04" fill="#842580"/>
<rect x="32" y="6" width="1.04" height="1.04" fill="#711e82"/>
<rect x="33" y="6" width="1.04" height="1.04" fill="#741f82"/>
<rect x="34" y="6" width="1.04" height="1.04" fill="#7c2380"/>
<rect x="35" y="6" width="1.04" height="1.04" fill="#752081"/>
<rect x="36" y="6" width="1.04" height="1.04" fill="#6c1c80"/>
<rect x="0" y="7" width="1.04" height="1.04" fill="#922b7e"/>
<rect x="1" y="7" width="1.04" height="1.04" fill="#a03179"/>
<rect x="2" y="7" width="1.04" height="1.04" fill="#a13278"/>
<rect x="3" y="7" width="1.04" height="1.04" fill="#af3971"/>
<rect x="4" y="7" width="1.04" height="1.04" fill="#b63c6e"/>
<rect x="5" y="7" width="1.04" height="1.04" fill="#c04169"/>
<rect x="6" y="7" width="1.04" height="1.04" fill="#9e307a"/>
<rect x="7" y="7" width="1.04" height="1.04" fill="#a83575"/>
<rect x="8" y="7" width="1.04" height="1.04" fill="#972d7d"/>
<rect x="9" y="7" width="1.04" height="1.04" fill="#8c297e"/>
<rect x="10" y="7" width="1.04" height="1.04" fill="#89277f"/>
<rect x="11" y="7" width="1.04" height="1.04" fill="#962c7d"/>
<rect x="12" y="7" width="1.04" height="1.04" fill="#b83d6d"/>
<rect x="13" y="7" width="1.04" height="1.04" fill="#c54565"/>
<rect x="14" y="7" width="1.04" height="1.04" fill="#ca4a60"/>
<rect x="15" y="7" width="1.04" height="1.04" fill="#b13a70"/>
<rect x="16" y="7" width="1.04" height="1.04" fill="#cc4b5f"/>
<rect x="17" y="7" width="1.04" height="1.04" fill="#ca4961"/>
<rect x="18" y="7" width="1.04" height="1.04" fill="#d14f5b"/>
<rect x="19" y="7" width="1.04" height="1.04" fill="#cd4c5e"/>
<rect x="20" y="7" width="1.04" height="1.04" fill="#c94862"/>
<rect x="21" y="7" width="1.04" height="1.04" fill="#b53b6f"/>
<rect x="22" y="7" width="1.04" height="1.04" fill="#b73c6e"/>
<rect x="23" y="7" width="1.04" height="1.04" fill="#932b7e"/>
<rect x="24" y="7" width="1.04" height="1.04" fill="#a13278"/>
<rect x="25" y="7" width="1.04" height="1.04" fill="#a03179"/>
<rect x="26" y="7" width="1.04" height="1.04" fill="#b53b6f"/>
<rect x="27" y="7" width="1.04" height="1.04" fill="#c24367"/>
<rect x="28" y="7" width="1.04" height="1.04" fill="#c04169"/>
<rect x="29" y="7" width="1.04" height="1.04" fill="#c44466"/>
<rect x="30" y="7" width="1.04" height="1.04" fill="#c04169"/>
<rect x="31" y="7" width="1.04" height="1.04" fill="#cf4e5c"/>
<rect x="32" y="7" width="1.04" height="1.04" fill="#c04169"/>
<rect x="33" y="7" width="1.04" height="1.04" fill="#c74763"/>
<rect x="34" y="7" width="1.04" height="1.04" fill="#af3971"/>
<rect x="35" y="7" width="1.04" height="1.04" fill="#bf4169"/>
<rect x="36" y="7" width="1.04" height="1.04" fill="#c44466"/>
<rect x="0" y="8" width="1.04" height="1.04" fill="#9d2f7b"/>
<rect x="1" y="8" width="1.04" height="1.04" fill="#a13278"/>
<rect x="2" y="8" width="1.04" height="1.04" fill="#a83575"/>
<rect x="3" y="8" width="1.04" height="1.04" fill="#a13278"/>
<rect x="4" y="8" width="1.04" height="1.04" fill="#a43377"/>
<rect x="5" y="8" width="1.04" height="1.04" fill="#b83d6d"/>
<rect x="6" y="8" width="1.04" height="1.04" fill="#c34466"/>
<rect x="7" y="8" width="1.04" height="1.04" fill="#c54565"/>
<rect x="8" y="8" width="1.04" height="1.04" fill="#ae3872"/>
<rect x="9" y="8" width="1.04" height="1.04" fill="#b63c6e"/>
<rect x="10" y="8" width="1.04" height="1.04" fill="#b33a70"/>
<rect x="11" y="8" width="1.04" height="1.04" fill="#af3971"/>
<rect x="12" y="8" width="1.04" height="1.04" fill="#b83d6d"/>
<rect x="13" y="8" width="1.04" height="1.04" fill="#c94862"/>
<rect x="14" y="8" width="1.04" height="1.04" fill="#c44466"/>
<rect x="15" y="8" width="1.04" height="1.04" fill="#b83d6d"/>
<rect x="16" y="8" width="1.04" height="1.04" fill="#b23a70"/>
<rect x="17" y="8" width="1.04" height="1.04" fill="#bc3f6b"/>
<rect x="18" y="8" width="1.04" height="1.04" fill="#b13a70"/>
<rect x="19" y="8" width="1.04" height="1.04" fill="#af3971"/>
<rect x="20" y="8" width="1.04" height="1.04" fill="#b53b6f"/>
<rect x="21" y="8" width="1.04" height="1.04" fill="#b83d6d"/>
<rect x="22" y="8" width="1.04" height="1.04" fill="#9c2f7b"/>
<rect x="23" y="8" width="1.04" height="1.04" fill="#9d2f7b"/>
<rect x="24" y="8" width="1.04" height="1.04" fill="#a33278"/>
<rect x="25" y="8" width="1.04" height="1.04" fill="#a93674"/>
<rect x="26" y="8" width="1.04" height="1.04" fill="#a33377"/>
<rect x="27" y="8" width="1.04" height="1.04" fill="#9a2e7c"/>
<rect x="28" y="8" width="1.04" height="1.04" fill="#8f2a7e"/>
<rect x="29" y="8" width="1.04" height="1.04" fill="#952c7d"/>
<rect x="30" y="8" width="1.04" height="1.04" fill="#a03179"/>
<rect x="31" y="8" width="1.04" height="1.04" fill="#ab3773"/>
<rect x="32" y="8" width="1.04" height="1.04" fill="#ad3773"/>
<rect x="33" y="8" width="1.04" height="1.04" fill="#962c7d"/>
<rect x="34" y="8" width="1.04" height="1.04" fill="#9b2e7c"/>
<rect x="35" y="8" width="1.04" height="1.04" fill="#af3971"/>
<rect x="36" y="8" width="1.04" height="1.04" fill="#b23a70"/>
<rect x="0" y="9" width="1.04" height="1.04" fill="#b13a70"/>
<rect x="1" y="9" width="1.04" height="1.04" fill="#a53476"/>
<rect x="2" y="9" width="1.04" height="1.04" fill="#8e297e"/>
<rect x="3" y="9" width="1.04" height="1.04" fill="#86267f"/>
<rect x="4" y="9" width="1.04" height="1.04" fill="#8c287f"/>
<rect x="5" y="9" width="1.04" height="1.04" fill="#792181"/>
<rect x="6" y="9" width="1.04" height="1.04" fill="#752081"/>
<rect x="7" y="9" width="1.04" height="1.04" fill="#782181"/>
<rect x="8" y="9" width="1.04" height="1.04" fill="#6d1d81"/>
<rect x="9" y="9" width="1.04" height="1.04" fill="#711e82"/>
<rect x="10" y="9" width="1.04" height="1.04" fill="#782181"/>
<rect x="11" y="9" width="1.04" height="1.04" fill="#8a287f"/>
<rect x="12" y="9" width="1.04" height="1.04" fill="#a63476"/>
<rect x="13" y="9" width="1.04" height="1.04" fill="#b73d6d"/>
<rect x="14" y="9" width="1.04" height="1.04" fill="#b93d6d"/>
<rect x="15" y="9" width="1.04" height="1.04" fill="#c34466"/>
<rect x="16" y="9" width="1.04" height="1.04" fill="#be406a"/>
<rect x="17" y="9" width="1.04" height="1.04" fill="#cb4a60"/>
<rect x="18" y="9" width="1.04" height="1.04" fill="#c14268"/>
<rect x="19" y="9" width="1.04" height="1.04" fill="#d35159"/>
<rect x="20" y="9" width="1.04" height="1.04" fill="#c84862"/>
<rect x="21" y="9" width="1.04" height="1.04" fill="#c84862"/>
<rect x="22" y="9" width="1.04" height="1.04" fill="#c54565"/>
<rect x="23" y="9" width="1.04" height="1.04" fill="#c14268"/>
<rect x="24" y="9" width="1.04" height="1.04" fill="#ad3773"/>
<rect x="25" y="9" width="1.04" height="1.04" fill="#88277f"/>
<rect x="26" y="9" width="1.04" height="1.04" fill="#721f82"/>
<rect x="27" y="9" width="1.04" height="1.04" fill="#7d2380"/>
<rect x="28" y="9" width="1.04" height="1.04" fill="#89277f"/>
<rect x="29" y="9" width="1.04" height="1.04" fill="#7f2480"/>
<rect x="30" y="9" width="1.04" height="1.04" fill="#8c297e"/>
<rect x="31" y="9" width="1.04" height="1.04" fill="#812580"/>
<rect x="32" y="9" width="1.04" height="1.04" fill="#7b2281"/>
<rect x="33" y="9" width="1.04" height="1.04" fill="#6e1d81"/>
<rect x="34" y="9" width="1.04" height="1.04" fill="#772181"/>
<rect x="35" y="9" width="1.04" height="1.04" fill="#952c7d"/>
<rect x="36" y="9" width="1.04" height="1.04" fill="#7a2281"/>
<rect x="0" y="10" width="1.04" height="1.04" fill="#a73476"/>
<rect x="1" y="10" width="1.04" height="1.04" fill="#ba3e6c"/>
<rect x="2" y="10" width="1.04" height="1.04" fill="#af3872"/>
<rect x="3" y="10" width="1.04" height="1.04" fill="#b43b6f"/>
<rect x="4" y="10" width="1.04" height="1.04" fill="#c64664"/>
<rect x="5" y="10" width="1.04" height="1.04" fill="#ae3872"/>
<rect x="6" y="10" width="1.04" height="1.04" fill="#b23a70"/>
<rect x="7" y="10" width="1.04" height="1.04" fill="#c14268"/>
<rect x="8" y="10" width="1.04" height="1.04" fill="#c24367"/>
<rect x="9" y="10" width="1.04" height="1.04" fill="#9f307a"/>
<rect x="10" y="10" width="1.04" height="1.04" fill="#9a2e7c"/>
<rect x="11" y="10" width="1.04" height="1.04" fill="#8e297e"/>
<rect x="12" y="10" width="1.04" height="1.04" fill="#772081"/>
<rect x="13" y="10" width="1.04" height="1.04" fill="#63197b"/>
<rect x="14" y="10" width="1.04" height="1.04" fill="#5c1677"/>
<rect x="15" y="10" width="1.04" height="1.04" fill="#420e65"/>
<rect x="16" y="10" width="1.04" height="1.04" fill="#200b41"/>
<rect x="17" y="10" width="1.04" height="1.04" fill="#12072b"/>
<rect x="18" y="10" width="1.04" height="1.04" fill="#0b0520"/>
<rect x="19" y="10" width="1.04" height="1.04" fill="#0a051e"/>
<rect x="20" y="10" width="1.04" height="1.04" fill="#170934"/>
<rect x="21" y="10" width="1.04" height="1.04" fill="#170932"/>
<rect x="22" y="10" width="1.04" height="1.04" fill="#11072a"/>
<rect x="23" y="10" width="1.04" height="1.04" fill="#0a051e"/>
<rect x="24" y="10" width="1.04" height="1.04" fill="#0a051e"/>
<rect x="25" y="10" width="1.04" height="1.04" fill="#1d0a3c"/>
<rect x="26" y="10" width="1.04" height="1.04" fill="#280c4b"/>
<rect x="27" y="10" width="1.04" height="1.04" fill="#350d58"/>
<rect x="28" y="10" width="1.04" height="1.04" fill="#390e5c"/>
<rect x="29" y="10" width="1.04" height="1.04" fill="#390e5c"/>
<rect x="30" y="10" width="1.04" height="1.04" fill="#4e106f"/>
<rect x="31" y="10" width="1.04" height="1.04" fill="#651a7c"/>
<rect x="32" y="10" width="1.04" height="1.04" fill="#5b1577"/>
<rect x="33" y="10" width="1.04" height="1.04" fill="#5f1779"/>
<rect x="34" y="10" width="1.04" height="1.04" fill="#541373"/>
<rect x="35" y="10" width="1.04" height="1.04" fill="#370e5a"/>
<rect x="36" y="10" width="1.04" height="1.04" fill="#1f0b40"/>
<rect x="0" y="11" width="1.04" height="1.04" fill="#b53c6e"/>
<rect x="1" y="11" width="1.04" height="1.04" fill="#a13278"/>
<rect x="2" y="11" width="1.04" height="1.04" fill="#a23278"/>
<rect x="3" y="11" width="1.04" height="1.04" fill="#aa3674"/>
<rect x="4" y="11" width="1.04" height="1.04" fill="#c04169"/>
<rect x="5" y="11" width="1.04" height="1.04" fill="#cb4a60"/>
<rect x="6" y="11" width="1.04" height="1.04" fill="#c54565"/>
<rect x="7" y="11" width="1.04" height="1.04" fill="#a33377"/>
<rect x="8" y="11" width="1.04" height="1.04" fill="#7d2380"/>
<rect x="9" y="11" width="1.04" height="1.04" fill="#982d7d"/>
<rect x="10" y="11" width="1.04" height="1.04" fill="#8e297e"/>
<rect x="11" y="11" width="1.04" height="1.04" fill="#822580"/>
<rect x="12" y="11" width="1.04" height="1.04" fill="#651a7c"/>
<rect x="13" y="11" width="1.04" height="1.04" fill="#561474"/>
<rect x="14" y="11" width="1.04" height="1.04" fill="#782181"/>
<rect x="15" y="11" width="1.04" height="1.04" fill="#61187a"/>
<rect x="16" y="11" width="1.04" height="1.04" fill="#701e82"/>
<rect x="17" y="11" width="1.04" height="1.04" fill="#762081"/>
<rect x="18" y="11" width="1.04" height="1.04" fill="#802480"/>
<rect x="19" y="11" width="1.04" height="1.04" fill="#9d2f7b"/>
<rect x="20" y="11" width="1.04" height="1.04" fill="#942c7d"/>
<rect x="21" y="11" width="1.04" height="1.04" fill="#9a2e7c"/>
<rect x="22" y="11" width="1.04" height="1.04" fill="#8a287f"/>
<rect x="23" y="11" width="1.04" height="1.04" fill="#952c7d"/>
<rect x="24" y="11" width="1.04" height="1.04" fill="#8f297e"/>
<rect x="25" y="11" width="1.04" height="1.04" fill="#5a1576"/>
<rect x="26" y="11" width="1.04" height="1.04" fill="#480f6b"/>
<rect x="27" y="11" width="1.04" height="1.04" fill="#541373"/>
<rect x="28" y="11" width="1.04" height="1.04" fill="#4f1170"/>
<rect x="29" y="11" width="1.04" height="1.04" fill="#480f6b"/>
<rect x="30" y="11" width="1.04" height="1.04" fill="#370d5a"/>
<rect x="31" y="11" width="1.04" height="1.04" fill="#5a1576"/>
<rect x="32" y="11" width="1.04" height="1.04" fill="#681b7e"/>
<rect x="33" y="11" width="1.04" height="1.04" fill="#400e63"/>
<rect x="34" y="11" width="1.04" height="1.04" fill="#551374"/>
<rect x="35" y="11" width="1.04" height="1.04" fill="#591575"/>
<rect x="36" y="11" width="1.04" height="1.04" fill="#4c0f6e"/>
<rect x="0" y="12" width="1.04" height="1.04" fill="#912a7e"/>
<rect x="1" y="12" width="1.04" height="1.04" fill="#8c297e"/>
<rect x="2" y="12" width="1.04" height="1.04" fill="#922b7e"/>
<rect x="3" y="12" width="1.04" height="1.04" fill="#8e297e"/>
<rect x="4" y="12" width="1.04" height="1.04" fill="#992d7d"/>
<rect x="5" y="12" width="1.04" height="1.04" fill="#a53377"/>
<rect x="6" y="12" width="1.04" height="1.04" fill="#8d297e"/>
<rect x="7" y="12" width="1.04" height="1.04" fill="#af3872"/>
<rect x="8" y="12" width="1.04" height="1.04" fill="#982d7d"/>
<rect x="9" y="12" width="1.04" height="1.04" fill="#a53476"/>
<rect x="10" y="12" width="1.04" height="1.04" fill="#a93674"/>
<rect x="11" y="12" width="1.04" height="1.04" fill="#9c2f7b"/>
<rect x="12" y="12" width="1.04" height="1.04" fill="#721f82"/>
<rect x="13" y="12" width="1.04" height="1.04" fill="#86267f"/>
<rect x="14" y="12" width="1.04" height="1.04" fill="#721f82"/>
<rect x="15" y="12" width="1.04" height="1.04" fill="#88277f"/>
<rect x="16" y="12" width="1.04" height="1.04" fill="#8a287f"/>
<rect x="17" y="12" width="1.04" height="1.04" fill="#61187a"/>
<rect x="18" y="12" width="1.04" height="1.04" fill="#7a2281"/>
<rect x="19" y="12" width="1.04" height="1.04" fill="#952c7d"/>
<rect x="20" y="12" width="1.04" height="1.04" fill="#b53c6e"/>
<rect x="21" y="12" width="1.04" height="1.04" fill="#b93d6d"/>
<rect x="22" y="12" width="1.04" height="1.04" fill="#c54565"/>
<rect x="23" y="12" width="1.04" height="1.04" fill="#d45258"/>
<rect x="24" y="12" width="1.04" height="1.04" fill="#d75456"/>
<rect x="25" y="12" width="1.04" height="1.04" fill="#e56544"/>
<rect x="26" y="12" width="1.04" height="1.04" fill="#e66841"/>
<rect x="27" y="12" width="1.04" height="1.04" fill="#d35159"/>
<rect x="28" y="12" width="1.04" height="1.04" fill="#d35159"/>
<rect x="29" y="12" width="1.04" height="1.04" fill="#cc4b5f"/>
<rect x="30" y="12" width="1.04" height="1.04" fill="#c44565"/>
<rect x="31" y="12" width="1.04" height="1.04" fill="#c64664"/>
<rect x="32" y="12" width="1.04" height="1.04" fill="#ca4961"/>
<rect x="33" y="12" width="1.04" height="1.04" fill="#e05d4d"/>
<rect x="34" y="12" width="1.04" height="1.04" fill="#ea6e3a"/>
<rect x="35" y="12" width="1.04" height="1.04" fill="#d75456"/>
<rect x="36" y="12" width="1.04" height="1.04" fill="#c74763"/>
<rect x="0" y="13" width="1.04" height="1.04" fill="#9f3179"/>
<rect x="1" y="13" width="1.04" height="1.04" fill="#b13971"/>
<rect x="2" y="13" width="1.04" height="1.04" fill="#a73476"/>
<rect x="3" y="13" width="1.04" height="1.04" fill="#9a2e7c"/>
<rect x="4" y="13" width="1.04" height="1.04" fill="#a33278"/>
<rect x="5" y="13" width="1.04" height="1.04" fill="#bb3e6c"/>
<rect x="6" y="13" width="1.04" height="1.04" fill="#bb3f6b"/>
<rect x="7" y="13" width="1.04" height="1.04" fill="#c14268"/>
<rect x="8" y="13" width="1.04" height="1.04" fill="#b53b6f"/>
<rect x="9" y="13" width="1.04" height="1.04" fill="#b63c6e"/>
<rect x="10" y="13" width="1.04" height="1.04" fill="#8f2a7e"/>
<rect x="11" y="13" width="1.04" height="1.04" fill="#962c7d"/>
<rect x="12" y="13" width="1.04" height="1.04" fill="#87277f"/>
<rect x="13" y="13" width="1.04" height="1.04" fill="#681b7e"/>
<rect x="14" y="13" width="1.04" height="1.04" fill="#661a7d"/>
<rect x="15" y="13" width="1.04" height="1.04" fill="#731f82"/>
<rect x="16" y="13" width="1.04" height="1.04" fill="#7f2480"/>
<rect x="17" y="13" width="1.04" height="1.04" fill="#782181"/>
<rect x="18" y="13" width="1.04" height="1.04" fill="#7a2281"/>
<rect x="19" y="13" width="1.04" height="1.04" fill="#772181"/>
<rect x="20" y="13" width="1.04" height="1.04" fill="#65197c"/>
<rect x="21" y="13" width="1.04" height="1.04" fill="#832580"/>
<rect x="22" y="13" width="1.04" height="1.04" fill="#7b2281"/>
<rect x="23" y="13" width="1.04" height="1.04" fill="#812580"/>
<rect x="24" y="13" width="1.04" height="1.04" fill="#6a1c7f"/>
<rect x="25" y="13" width="1.04" height="1.04" fill="#6f1e81"/>
<rect x="26" y="13" width="1.04" height="1.04" fill="#7b2281"/>
<rect x="27" y="13" width="1.04" height="1.04" fill="#7d2380"/>
<rect x="28" y="13" width="1.04" height="1.04" fill="#88277f"/>
<rect x="29" y="13" width="1.04" height="1.04" fill="#85267f"/>
<rect x="30" y="13" width="1.04" height="1.04" fill="#6e1d81"/>
<rect x="31" y="13" width="1.04" height="1.04" fill="#752081"/>
<rect x="32" y="13" width="1.04" height="1.04" fill="#752081"/>
<rect x="33" y="13" width="1.04" height="1.04" fill="#6c1c80"/>
<rect x="34" y="13" width="1.04" height="1.04" fill="#5f1779"/>
<rect x="35" y="13" width="1.04" height="1.04" fill="#5f1779"/>
<rect x="36" y="13" width="1.04" height="1.04" fill="#61187a"/>
<rect x="0" y="14" width="1.04" height="1.04" fill="#8e297e"/>
<rect x="1" y="14" width="1.04" height="1.04" fill="#a03179"/>
<rect x="2" y="14" width="1.04" height="1.04" fill="#972c7d"/>
<rect x="3" y="14" width="1.04" height="1.04" fill="#9f3179"/>
<rect x="4" y="14" width="1.04" height="1.04" fill="#952c7d"/>
<rect x="5" y="14" width="1.04" height="1.04" fill="#8a287f"/>
<rect x="6" y="14" width="1.04" height="1.04" fill="#8a287f"/>
<rect x="7" y="14" width="1.04" height="1.04" fill="#802480"/>
<rect x="8" y="14" width="1.04" height="1.04" fill="#912b7e"/>
<rect x="9" y="14" width="1.04" height="1.04" fill="#7b2281"/>
<rect x="10" y="14" width="1.04" height="1.04" fill="#7b2281"/>
<rect x="11" y="14" width="1.04" height="1.04" fill="#5e1778"/>
<rect x="12" y="14" width="1.04" height="1.04" fill="#7b2281"/>
<rect x="13" y="14" width="1.04" height="1.04" fill="#6e1d81"/>
<rect x="14" y="14" width="1.04" height="1.04" fill="#792181"/>
<rect x="15" y="14" width="1.04" height="1.04" fill="#8d297e"/>
<rect x="16" y="14" width="1.04" height="1.04" fill="#89277f"/>
<rect x="17" y="14" width="1.04" height="1.04" fill="#86267f"/>
<rect x="18" y="14" width="1.04" height="1.04" fill="#86267f"/>
<rect x="19" y="14" width="1.04" height="1.04" fill="#731f82"/>
<rect x="20" y="14" width="1.04" height="1.04" fill="#752081"/>
<rect x="21" y="14" width="1.04" height="1.04" fill="#6b1c7f"/>
<rect x="22" y="14" width="1.04" height="1.04" fill="#711e82"/>
<rect x="23" y="14" width="1.04" height="1.04" fill="#742081"/>
<rect x="24" y="14" width="1.04" height="1.04" fill="#88277f"/>
<rect x="25" y="14" width="1.04" height="1.04" fill="#6e1d81"/>
<rect x="26" y="14" width="1.04" height="1.04" fill="#7f2480"/>
<rect x="27" y="14" width="1.04" height="1.04" fill="#762081"/>
<rect x="28" y="14" width="1.04" height="1.04" fill="#762081"/>
<rect x="29" y="14" width="1.04" height="1.04" fill="#681b7e"/>
<rect x="30" y="14" width="1.04" height="1.04" fill="#721f82"/>
<rect x="31" y="14" width="1.04" height="1.04" fill="#7b2281"/>
<rect x="32" y="14" width="1.04" height="1.04" fill="#691b7e"/>
<rect x="33" y="14" width="1.04" height="1.04" fill="#671b7d"/>
<rect x="34" y="14" width="1.04" height="1.04" fill="#7a2281"/>
<rect x="35" y="14" width="1.04" height="1.04" fill="#7d2380"/>
<rect x="36" y="14" width="1.04" height="1.04" fill="#772181"/>
</g>
<path d="M290.37,389.5V467.0 M292.45,389.5V467.0 M294.52,389.5V467.0 M296.59,389.5V467.0 M298.66,389.5V467.0 M300.74,389.5V467.0 M302.81,389.5V467.0 M304.88,389.5V467.0 M306.96,389.5V467.0 M309.03,389.5V467.0 M311.10,389.5V467.0 M313.18,389.5V467.0 M315.25,389.5V467.0 M317.32,389.5V467.0 M319.39,389.5V467.0 M321.47,389.5V467.0 M323.54,389.5V467.0 M325.61,389.5V467.0 M327.69,389.5V467.0 M329.76,389.5V467.0 M331.83,389.5V467.0 M333.91,389.5V467.0 M335.98,389.5V467.0 M338.05,389.5V467.0 M340.12,389.5V467.0 M342.20,389.5V467.0 M344.27,389.5V467.0 M346.34,389.5V467.0 M348.42,389.5V467.0 M350.49,389.5V467.0 M352.56,389.5V467.0 M354.64,389.5V467.0 M356.71,389.5V467.0 M358.78,389.5V467.0 M360.85,389.5V467.0 M362.93,389.5V467.0" stroke="#fff" stroke-width="0.4" opacity="0.16"/>
<line x1="313.6" y1="389.5" x2="313.6" y2="467.0" stroke="#f4e0f0" stroke-width="1.25" stroke-dasharray="6.3,3.9" opacity="0.85"/>
<line x1="339.6" y1="389.5" x2="339.6" y2="467.0" stroke="#f4e0f0" stroke-width="1.25" stroke-dasharray="6.3,3.9" opacity="0.85"/>
<line x1="287.90000000000003" y1="389.5" x2="287.90000000000003" y2="467.5" stroke="#555" stroke-width="0.8"/>
<line x1="287.90000000000003" y1="467.4" x2="365.0" y2="467.4" stroke="#555" stroke-width="0.8"/>
<line x1="288.3" y1="467.4" x2="288.3" y2="469.2" stroke="#555" stroke-width="0.8"/>
<line x1="301.08333333333337" y1="467.4" x2="301.08333333333337" y2="468.6" stroke="#555" stroke-width="0.8"/>
<line x1="313.8666666666667" y1="467.4" x2="313.8666666666667" y2="469.2" stroke="#555" stroke-width="0.8"/>
<line x1="326.65" y1="467.4" x2="326.65" y2="468.6" stroke="#555" stroke-width="0.8"/>
<line x1="339.43333333333334" y1="467.4" x2="339.43333333333334" y2="469.2" stroke="#555" stroke-width="0.8"/>
<line x1="352.2166666666667" y1="467.4" x2="352.2166666666667" y2="468.6" stroke="#555" stroke-width="0.8"/>
<line x1="365.0" y1="467.4" x2="365.0" y2="469.2" stroke="#555" stroke-width="0.8"/>
<defs><linearGradient id="cb2" x1="0" y1="0" x2="0" y2="1"><stop offset="0.0" stop-color="#fcfaa5"/><stop offset="0.1" stop-color="#f8d74b"/><stop offset="0.2" stop-color="#faa814"/><stop offset="0.3" stop-color="#f37d2a"/><stop offset="0.4" stop-color="#de5a50"/><stop offset="0.5" stop-color="#c04169"/><stop offset="0.6" stop-color="#982d7d"/><stop offset="0.7" stop-color="#701e82"/><stop offset="0.8" stop-color="#4b0f6e"/><stop offset="0.9" stop-color="#230c46"/><stop offset="1.0" stop-color="#0a051e"/></linearGradient></defs>
<rect x="370.2" y="389.5" width="5.0" height="77.5" fill="url(#cb2)" stroke="#555" stroke-width="0.4"/>
<text x="377.6" y="398.8" font-size="9" text-anchor="start" fill="#1a1a1a">10</text>
<text x="377.6" y="419.3" font-size="9" text-anchor="start" fill="#1a1a1a">5</text>
<text x="377.6" y="439.8" font-size="9" text-anchor="start" fill="#1a1a1a">0</text>
<text x="377.6" y="460.3" font-size="9" text-anchor="start" fill="#1a1a1a">-5</text>
<text x="280.5" y="426" font-size="10.5" text-anchor="middle" fill="#1a1a1a" transform="rotate(-90 280.5 426)">Trials (NR)</text>
<text x="285.5" y="397" font-size="10" text-anchor="end" fill="#1a1a1a">1</text>
<text x="285.5" y="467.5" font-size="10" text-anchor="end" fill="#1a1a1a">15</text>
<text x="288.1" y="478.3" font-size="10.5" text-anchor="middle" fill="#1a1a1a">-1</text>
<text x="313.73" y="478.3" font-size="10.5" text-anchor="middle" fill="#1a1a1a">0</text>
<text x="339.36" y="478.3" font-size="10.5" text-anchor="middle" fill="#1a1a1a">1</text>
<text x="364.99" y="478.3" font-size="10.5" text-anchor="middle" fill="#1a1a1a">2</text>
<text x="327" y="488.3" font-size="10" text-anchor="middle" fill="#1a1a1a">Time (s)</text>
<g class="hm" transform="translate(431.90,296.20) scale(2.0919,7.0364)">
<rect x="0" y="0" width="1.04" height="1.04" fill="#f89c1a"/>
<rect x="1" y="0" width="1.04" height="1.04" fill="#f7961d"/>
<rect x="2" y="0" width="1.04" height="1.04" fill="#f8991c"/>
<rect x="3" y="0" width="1.04" height="1.04" fill="#fab321"/>
<rect x="4" y="0" width="1.04" height="1.04" fill="#faa615"/>
<rect x="5" y="0" width="1.04" height="1.04" fill="#f6921f"/>
<rect x="6" y="0" width="1.04" height="1.04" fill="#ef7730"/>
<rect x="7" y="0" width="1.04" height="1.04" fill="#e76940"/>
<rect x="8" y="0" width="1.04" height="1.04" fill="#d65357"/>
<rect x="9" y="0" width="1.04" height="1.04" fill="#dc5951"/>
<rect x="10" y="0" width="1.04" height="1.04" fill="#dc5852"/>
<rect x="11" y="0" width="1.04" height="1.04" fill="#d85555"/>
<rect x="12" y="0" width="1.04" height="1.04" fill="#d45258"/>
<rect x="13" y="0" width="1.04" height="1.04" fill="#c54565"/>
<rect x="14" y="0" width="1.04" height="1.04" fill="#912a7e"/>
<rect x="15" y="0" width="1.04" height="1.04" fill="#5c1677"/>
<rect x="16" y="0" width="1.04" height="1.04" fill="#200b41"/>
<rect x="17" y="0" width="1.04" height="1.04" fill="#2a0d4d"/>
<rect x="18" y="0" width="1.04" height="1.04" fill="#6f1e82"/>
<rect x="19" y="0" width="1.04" height="1.04" fill="#9c2f7b"/>
<rect x="20" y="0" width="1.04" height="1.04" fill="#dd5951"/>
<rect x="21" y="0" width="1.04" height="1.04" fill="#f48128"/>
<rect x="22" y="0" width="1.04" height="1.04" fill="#f68e21"/>
<rect x="23" y="0" width="1.04" height="1.04" fill="#ee7533"/>
<rect x="24" y="0" width="1.04" height="1.04" fill="#e7693f"/>
<rect x="25" y="0" width="1.04" height="1.04" fill="#f1792e"/>
<rect x="26" y="0" width="1.04" height="1.04" fill="#eb7039"/>
<rect x="27" y="0" width="1.04" height="1.04" fill="#e96c3d"/>
<rect x="28" y="0" width="1.04" height="1.04" fill="#e96d3b"/>
<rect x="29" y="0" width="1.04" height="1.04" fill="#e36247"/>
<rect x="30" y="0" width="1.04" height="1.04" fill="#e76840"/>
<rect x="31" y="0" width="1.04" height="1.04" fill="#e36346"/>
<rect x="32" y="0" width="1.04" height="1.04" fill="#e96d3b"/>
<rect x="33" y="0" width="1.04" height="1.04" fill="#f69020"/>
<rect x="34" y="0" width="1.04" height="1.04" fill="#f89c1a"/>
<rect x="35" y="0" width="1.04" height="1.04" fill="#f68e21"/>
<rect x="36" y="0" width="1.04" height="1.04" fill="#f9a018"/>
<rect x="0" y="1" width="1.04" height="1.04" fill="#f37d2b"/>
<rect x="1" y="1" width="1.04" height="1.04" fill="#f58b23"/>
<rect x="2" y="1" width="1.04" height="1.04" fill="#f0782f"/>
<rect x="3" y="1" width="1.04" height="1.04" fill="#f48128"/>
<rect x="4" y="1" width="1.04" height="1.04" fill="#ec7137"/>
<rect x="5" y="1" width="1.04" height="1.04" fill="#ef7632"/>
<rect x="6" y="1" width="1.04" height="1.04" fill="#e66741"/>
<rect x="7" y="1" width="1.04" height="1.04" fill="#d2505a"/>
<rect x="8" y="1" width="1.04" height="1.04" fill="#db5753"/>
<rect x="9" y="1" width="1.04" height="1.04" fill="#de5a50"/>
<rect x="10" y="1" width="1.04" height="1.04" fill="#d35159"/>
<rect x="11" y="1" width="1.04" height="1.04" fill="#d04f5b"/>
<rect x="12" y="1" width="1.04" height="1.04" fill="#db5753"/>
<rect x="13" y="1" width="1.04" height="1.04" fill="#c84862"/>
<rect x="14" y="1" width="1.04" height="1.04" fill="#6c1c80"/>
<rect x="15" y="1" width="1.04" height="1.04" fill="#551373"/>
<rect x="16" y="1" width="1.04" height="1.04" fill="#2e0d51"/>
<rect x="17" y="1" width="1.04" height="1.04" fill="#2d0d50"/>
<rect x="18" y="1" width="1.04" height="1.04" fill="#531272"/>
<rect x="19" y="1" width="1.04" height="1.04" fill="#a03179"/>
<rect x="20" y="1" width="1.04" height="1.04" fill="#cb4a60"/>
<rect x="21" y="1" width="1.04" height="1.04" fill="#d75456"/>
<rect x="22" y="1" width="1.04" height="1.04" fill="#d35159"/>
<rect x="23" y="1" width="1.04" height="1.04" fill="#ce4c5e"/>
<rect x="24" y="1" width="1.04" height="1.04" fill="#c94961"/>
<rect x="25" y="1" width="1.04" height="1.04" fill="#cf4e5c"/>
<rect x="26" y="1" width="1.04" height="1.04" fill="#d85555"/>
<rect x="27" y="1" width="1.04" height="1.04" fill="#d95654"/>
<rect x="28" y="1" width="1.04" height="1.04" fill="#d65357"/>
<rect x="29" y="1" width="1.04" height="1.04" fill="#d45159"/>
<rect x="30" y="1" width="1.04" height="1.04" fill="#d2505a"/>
<rect x="31" y="1" width="1.04" height="1.04" fill="#cd4c5e"/>
<rect x="32" y="1" width="1.04" height="1.04" fill="#d14f5b"/>
<rect x="33" y="1" width="1.04" height="1.04" fill="#cd4c5e"/>
<rect x="34" y="1" width="1.04" height="1.04" fill="#bf4169"/>
<rect x="35" y="1" width="1.04" height="1.04" fill="#b03971"/>
<rect x="36" y="1" width="1.04" height="1.04" fill="#a63476"/>
<rect x="0" y="2" width="1.04" height="1.04" fill="#e66841"/>
<rect x="1" y="2" width="1.04" height="1.04" fill="#e46545"/>
<rect x="2" y="2" width="1.04" height="1.04" fill="#e56643"/>
<rect x="3" y="2" width="1.04" height="1.04" fill="#ed7335"/>
<rect x="4" y="2" width="1.04" height="1.04" fill="#f07730"/>
<rect x="5" y="2" width="1.04" height="1.04" fill="#e56643"/>
<rect x="6" y="2" width="1.04" height="1.04" fill="#f37f29"/>
<rect x="7" y="2" width="1.04" height="1.04" fill="#f27c2b"/>
<rect x="8" y="2" width="1.04" height="1.04" fill="#f07830"/>
<rect x="9" y="2" width="1.04" height="1.04" fill="#ef7731"/>
<rect x="10" y="2" width="1.04" height="1.04" fill="#ea6e3b"/>
<rect x="11" y="2" width="1.04" height="1.04" fill="#e76940"/>
<rect x="12" y="2" width="1.04" height="1.04" fill="#e1604a"/>
<rect x="13" y="2" width="1.04" height="1.04" fill="#c34367"/>
<rect x="14" y="2" width="1.04" height="1.04" fill="#5b1576"/>
<rect x="15" y="2" width="1.04" height="1.04" fill="#270c4a"/>
<rect x="16" y="2" width="1.04" height="1.04" fill="#12072b"/>
<rect x="17" y="2" width="1.04" height="1.04" fill="#180934"/>
<rect x="18" y="2" width="1.04" height="1.04" fill="#2d0d50"/>
<rect x="19" y="2" width="1.04" height="1.04" fill="#681b7e"/>
<rect x="20" y="2" width="1.04" height="1.04" fill="#b33b6f"/>
<rect x="21" y="2" width="1.04" height="1.04" fill="#fab220"/>
<rect x="22" y="2" width="1.04" height="1.04" fill="#fbf291"/>
<rect x="23" y="2" width="1.04" height="1.04" fill="#fcfaa5"/>
<rect x="24" y="2" width="1.04" height="1.04" fill="#fcf89f"/>
<rect x="25" y="2" width="1.04" height="1.04" fill="#f9de5d"/>
<rect x="26" y="2" width="1.04" height="1.04" fill="#f9c030"/>
<rect x="27" y="2" width="1.04" height="1.04" fill="#f9bf2f"/>
<rect x="28" y="2" width="1.04" height="1.04" fill="#f9b726"/>
<rect x="29" y="2" width="1.04" height="1.04" fill="#f9c93b"/>
<rect x="30" y="2" width="1.04" height="1.04" fill="#fab220"/>
<rect x="31" y="2" width="1.04" height="1.04" fill="#f9b827"/>
<rect x="32" y="2" width="1.04" height="1.04" fill="#f9b928"/>
<rect x="33" y="2" width="1.04" height="1.04" fill="#f8d347"/>
<rect x="34" y="2" width="1.04" height="1.04" fill="#f8db55"/>
<rect x="35" y="2" width="1.04" height="1.04" fill="#f9e36b"/>
<rect x="36" y="2" width="1.04" height="1.04" fill="#f8d144"/>
<rect x="0" y="3" width="1.04" height="1.04" fill="#e56544"/>
<rect x="1" y="3" width="1.04" height="1.04" fill="#db5753"/>
<rect x="2" y="3" width="1.04" height="1.04" fill="#ea6e3b"/>
<rect x="3" y="3" width="1.04" height="1.04" fill="#e15f4a"/>
<rect x="4" y="3" width="1.04" height="1.04" fill="#cf4e5c"/>
<rect x="5" y="3" width="1.04" height="1.04" fill="#df5c4d"/>
<rect x="6" y="3" width="1.04" height="1.04" fill="#e05d4d"/>
<rect x="7" y="3" width="1.04" height="1.04" fill="#e15e4b"/>
<rect x="8" y="3" width="1.04" height="1.04" fill="#df5b4e"/>
<rect x="9" y="3" width="1.04" height="1.04" fill="#e26149"/>
<rect x="10" y="3" width="1.04" height="1.04" fill="#eb6f39"/>
<rect x="11" y="3" width="1.04" height="1.04" fill="#f7961d"/>
<rect x="12" y="3" width="1.04" height="1.04" fill="#f9a416"/>
<rect x="13" y="3" width="1.04" height="1.04" fill="#cd4c5e"/>
<rect x="14" y="3" width="1.04" height="1.04" fill="#802480"/>
<rect x="15" y="3" width="1.04" height="1.04" fill="#571475"/>
<rect x="16" y="3" width="1.04" height="1.04" fill="#5c1677"/>
<rect x="17" y="3" width="1.04" height="1.04" fill="#5c1677"/>
<rect x="18" y="3" width="1.04" height="1.04" fill="#61187a"/>
<rect x="19" y="3" width="1.04" height="1.04" fill="#812480"/>
<rect x="20" y="3" width="1.04" height="1.04" fill="#85267f"/>
<rect x="21" y="3" width="1.04" height="1.04" fill="#87277f"/>
<rect x="22" y="3" width="1.04" height="1.04" fill="#85267f"/>
<rect x="23" y="3" width="1.04" height="1.04" fill="#8c287f"/>
<rect x="24" y="3" width="1.04" height="1.04" fill="#a23278"/>
<rect x="25" y="3" width="1.04" height="1.04" fill="#942b7e"/>
<rect x="26" y="3" width="1.04" height="1.04" fill="#af3872"/>
<rect x="27" y="3" width="1.04" height="1.04" fill="#ae3872"/>
<rect x="28" y="3" width="1.04" height="1.04" fill="#a83575"/>
<rect x="29" y="3" width="1.04" height="1.04" fill="#c04169"/>
<rect x="30" y="3" width="1.04" height="1.04" fill="#bd406a"/>
<rect x="31" y="3" width="1.04" height="1.04" fill="#ca4961"/>
<rect x="32" y="3" width="1.04" height="1.04" fill="#c94862"/>
<rect x="33" y="3" width="1.04" height="1.04" fill="#c64664"/>
<rect x="34" y="3" width="1.04" height="1.04" fill="#cb4a60"/>
<rect x="35" y="3" width="1.04" height="1.04" fill="#d65357"/>
<rect x="36" y="3" width="1.04" height="1.04" fill="#e15f4b"/>
<rect x="0" y="4" width="1.04" height="1.04" fill="#e46445"/>
<rect x="1" y="4" width="1.04" height="1.04" fill="#f37f29"/>
<rect x="2" y="4" width="1.04" height="1.04" fill="#ed7334"/>
<rect x="3" y="4" width="1.04" height="1.04" fill="#e1604a"/>
<rect x="4" y="4" width="1.04" height="1.04" fill="#d75456"/>
<rect x="5" y="4" width="1.04" height="1.04" fill="#e46445"/>
<rect x="6" y="4" width="1.04" height="1.04" fill="#da5753"/>
<rect x="7" y="4" width="1.04" height="1.04" fill="#dc5951"/>
<rect x="8" y="4" width="1.04" height="1.04" fill="#e36248"/>
<rect x="9" y="4" width="1.04" height="1.04" fill="#e36347"/>
<rect x="10" y="4" width="1.04" height="1.04" fill="#e96c3d"/>
<rect x="11" y="4" width="1.04" height="1.04" fill="#e56544"/>
<rect x="12" y="4" width="1.04" height="1.04" fill="#df5c4e"/>
<rect x="13" y="4" width="1.04" height="1.04" fill="#d2505a"/>
<rect x="14" y="4" width="1.04" height="1.04" fill="#b53c6e"/>
<rect x="15" y="4" width="1.04" height="1.04" fill="#942c7d"/>
<rect x="16" y="4" width="1.04" height="1.04" fill="#6f1e82"/>
<rect x="17" y="4" width="1.04" height="1.04" fill="#6f1e82"/>
<rect x="18" y="4" width="1.04" height="1.04" fill="#782181"/>
<rect x="19" y="4" width="1.04" height="1.04" fill="#6d1d80"/>
<rect x="20" y="4" width="1.04" height="1.04" fill="#721f82"/>
<rect x="21" y="4" width="1.04" height="1.04" fill="#6f1d81"/>
<rect x="22" y="4" width="1.04" height="1.04" fill="#812480"/>
<rect x="23" y="4" width="1.04" height="1.04" fill="#942b7e"/>
<rect x="24" y="4" width="1.04" height="1.04" fill="#a33278"/>
<rect x="25" y="4" width="1.04" height="1.04" fill="#a93575"/>
<rect x="26" y="4" width="1.04" height="1.04" fill="#b13a70"/>
<rect x="27" y="4" width="1.04" height="1.04" fill="#902a7e"/>
<rect x="28" y="4" width="1.04" height="1.04" fill="#501171"/>
<rect x="29" y="4" width="1.04" height="1.04" fill="#170932"/>
<rect x="30" y="4" width="1.04" height="1.04" fill="#310d54"/>
<rect x="31" y="4" width="1.04" height="1.04" fill="#5c1677"/>
<rect x="32" y="4" width="1.04" height="1.04" fill="#952c7d"/>
<rect x="33" y="4" width="1.04" height="1.04" fill="#a73476"/>
<rect x="34" y="4" width="1.04" height="1.04" fill="#b23a70"/>
<rect x="35" y="4" width="1.04" height="1.04" fill="#c44466"/>
<rect x="36" y="4" width="1.04" height="1.04" fill="#ab3773"/>
<rect x="0" y="5" width="1.04" height="1.04" fill="#dc5852"/>
<rect x="1" y="5" width="1.04" height="1.04" fill="#da5753"/>
<rect x="2" y="5" width="1.04" height="1.04" fill="#e76a3f"/>
<rect x="3" y="5" width="1.04" height="1.04" fill="#f99f18"/>
<rect x="4" y="5" width="1.04" height="1.04" fill="#f9bb2a"/>
<rect x="5" y="5" width="1.04" height="1.04" fill="#fab220"/>
<rect x="6" y="5" width="1.04" height="1.04" fill="#f89b1b"/>
<rect x="7" y="5" width="1.04" height="1.04" fill="#f0792f"/>
<rect x="8" y="5" width="1.04" height="1.04" fill="#f58725"/>
<rect x="9" y="5" width="1.04" height="1.04" fill="#f7941e"/>
<rect x="10" y="5" width="1.04" height="1.04" fill="#f48228"/>
<rect x="11" y="5" width="1.04" height="1.04" fill="#e66742"/>
<rect x="12" y="5" width="1.04" height="1.04" fill="#e66742"/>
<rect x="13" y="5" width="1.04" height="1.04" fill="#d2505a"/>
<rect x="14" y="5" width="1.04" height="1.04" fill="#ae3872"/>
<rect x="15" y="5" width="1.04" height="1.04" fill="#952c7d"/>
<rect x="16" y="5" width="1.04" height="1.04" fill="#6f1d81"/>
<rect x="17" y="5" width="1.04" height="1.04" fill="#551373"/>
<rect x="18" y="5" width="1.04" height="1.04" fill="#691b7e"/>
<rect x="19" y="5" width="1.04" height="1.04" fill="#972d7d"/>
<rect x="20" y="5" width="1.04" height="1.04" fill="#9e307a"/>
<rect x="21" y="5" width="1.04" height="1.04" fill="#a83575"/>
<rect x="22" y="5" width="1.04" height="1.04" fill="#ca4a60"/>
<rect x="23" y="5" width="1.04" height="1.04" fill="#e96c3c"/>
<rect x="24" y="5" width="1.04" height="1.04" fill="#f37f29"/>
<rect x="25" y="5" width="1.04" height="1.04" fill="#f89d19"/>
<rect x="26" y="5" width="1.04" height="1.04" fill="#f9a118"/>
<rect x="27" y="5" width="1.04" height="1.04" fill="#f7961d"/>
<rect x="28" y="5" width="1.04" height="1.04" fill="#f69020"/>
<rect x="29" y="5" width="1.04" height="1.04" fill="#faa814"/>
<rect x="30" y="5" width="1.04" height="1.04" fill="#f9b423"/>
<rect x="31" y="5" width="1.04" height="1.04" fill="#f9de5d"/>
<rect x="32" y="5" width="1.04" height="1.04" fill="#fbee86"/>
<rect x="33" y="5" width="1.04" height="1.04" fill="#fcf89f"/>
<rect x="34" y="5" width="1.04" height="1.04" fill="#fae775"/>
<rect x="35" y="5" width="1.04" height="1.04" fill="#f8cf41"/>
<rect x="36" y="5" width="1.04" height="1.04" fill="#f58b23"/>
<rect x="0" y="6" width="1.04" height="1.04" fill="#eb6f39"/>
<rect x="1" y="6" width="1.04" height="1.04" fill="#ee7434"/>
<rect x="2" y="6" width="1.04" height="1.04" fill="#e86b3e"/>
<rect x="3" y="6" width="1.04" height="1.04" fill="#e56643"/>
<rect x="4" y="6" width="1.04" height="1.04" fill="#e36346"/>
<rect x="5" y="6" width="1.04" height="1.04" fill="#e96d3c"/>
<rect x="6" y="6" width="1.04" height="1.04" fill="#dc5852"/>
<rect x="7" y="6" width="1.04" height="1.04" fill="#e86b3e"/>
<rect x="8" y="6" width="1.04" height="1.04" fill="#f58c22"/>
<rect x="9" y="6" width="1.04" height="1.04" fill="#f48128"/>
<rect x="10" y="6" width="1.04" height="1.04" fill="#e56643"/>
<rect x="11" y="6" width="1.04" height="1.04" fill="#d45159"/>
<rect x="12" y="6" width="1.04" height="1.04" fill="#e26148"/>
<rect x="13" y="6" width="1.04" height="1.04" fill="#cf4d5d"/>
<rect x="14" y="6" width="1.04" height="1.04" fill="#bc3f6b"/>
<rect x="15" y="6" width="1.04" height="1.04" fill="#8f2a7e"/>
<rect x="16" y="6" width="1.04" height="1.04" fill="#5a1576"/>
<rect x="17" y="6" width="1.04" height="1.04" fill="#501171"/>
<rect x="18" y="6" width="1.04" height="1.04" fill="#691b7e"/>
<rect x="19" y="6" width="1.04" height="1.04" fill="#b63c6e"/>
<rect x="20" y="6" width="1.04" height="1.04" fill="#ce4d5d"/>
<rect x="21" y="6" width="1.04" height="1.04" fill="#c84763"/>
<rect x="22" y="6" width="1.04" height="1.04" fill="#b83d6d"/>
<rect x="23" y="6" width="1.04" height="1.04" fill="#c54565"/>
<rect x="24" y="6" width="1.04" height="1.04" fill="#cb4b5f"/>
<rect x="25" y="6" width="1.04" height="1.04" fill="#c94961"/>
<rect x="26" y="6" width="1.04" height="1.04" fill="#bf4169"/>
<rect x="27" y="6" width="1.04" height="1.04" fill="#c54565"/>
<rect x="28" y="6" width="1.04" height="1.04" fill="#cc4b5f"/>
<rect x="29" y="6" width="1.04" height="1.04" fill="#d55258"/>
<rect x="30" y="6" width="1.04" height="1.04" fill="#e96d3b"/>
<rect x="31" y="6" width="1.04" height="1.04" fill="#f58725"/>
<rect x="32" y="6" width="1.04" height="1.04" fill="#faab18"/>
<rect x="33" y="6" width="1.04" height="1.04" fill="#faa615"/>
<rect x="34" y="6" width="1.04" height="1.04" fill="#f9a217"/>
<rect x="35" y="6" width="1.04" height="1.04" fill="#f7961d"/>
<rect x="36" y="6" width="1.04" height="1.04" fill="#faa915"/>
<rect x="0" y="7" width="1.04" height="1.04" fill="#e86a3e"/>
<rect x="1" y="7" width="1.04" height="1.04" fill="#dc5852"/>
<rect x="2" y="7" width="1.04" height="1.04" fill="#d55357"/>
<rect x="3" y="7" width="1.04" height="1.04" fill="#e2604a"/>
<rect x="4" y="7" width="1.04" height="1.04" fill="#e26049"/>
<rect x="5" y="7" width="1.04" height="1.04" fill="#de5a50"/>
<rect x="6" y="7" width="1.04" height="1.04" fill="#e96d3c"/>
<rect x="7" y="7" width="1.04" height="1.04" fill="#e56643"/>
<rect x="8" y="7" width="1.04" height="1.04" fill="#e86a3e"/>
<rect x="9" y="7" width="1.04" height="1.04" fill="#e05d4d"/>
<rect x="10" y="7" width="1.04" height="1.04" fill="#e36346"/>
<rect x="11" y="7" width="1.04" height="1.04" fill="#e36248"/>
<rect x="12" y="7" width="1.04" height="1.04" fill="#ed7434"/>
<rect x="13" y="7" width="1.04" height="1.04" fill="#e46445"/>
<rect x="14" y="7" width="1.04" height="1.04" fill="#bf4169"/>
<rect x="15" y="7" width="1.04" height="1.04" fill="#63197b"/>
<rect x="16" y="7" width="1.04" height="1.04" fill="#581475"/>
<rect x="17" y="7" width="1.04" height="1.04" fill="#571475"/>
<rect x="18" y="7" width="1.04" height="1.04" fill="#731f82"/>
<rect x="19" y="7" width="1.04" height="1.04" fill="#a83575"/>
<rect x="20" y="7" width="1.04" height="1.04" fill="#ce4d5d"/>
<rect x="21" y="7" width="1.04" height="1.04" fill="#cb4a60"/>
<rect x="22" y="7" width="1.04" height="1.04" fill="#db5852"/>
<rect x="23" y="7" width="1.04" height="1.04" fill="#e05d4d"/>
<rect x="24" y="7" width="1.04" height="1.04" fill="#f69120"/>
<rect x="25" y="7" width="1.04" height="1.04" fill="#f58924"/>
<rect x="26" y="7" width="1.04" height="1.04" fill="#f48227"/>
<rect x="27" y="7" width="1.04" height="1.04" fill="#f68d22"/>
<rect x="28" y="7" width="1.04" height="1.04" fill="#f48128"/>
<rect x="29" y="7" width="1.04" height="1.04" fill="#f69120"/>
<rect x="30" y="7" width="1.04" height="1.04" fill="#f7971d"/>
<rect x="31" y="7" width="1.04" height="1.04" fill="#f9a217"/>
<rect x="32" y="7" width="1.04" height="1.04" fill="#faa615"/>
<rect x="33" y="7" width="1.04" height="1.04" fill="#faaa17"/>
<rect x="34" y="7" width="1.04" height="1.04" fill="#faaa16"/>
<rect x="35" y="7" width="1.04" height="1.04" fill="#f9b726"/>
<rect x="36" y="7" width="1.04" height="1.04" fill="#f9a018"/>
<rect x="0" y="8" width="1.04" height="1.04" fill="#ed7335"/>
<rect x="1" y="8" width="1.04" height="1.04" fill="#ef7731"/>
<rect x="2" y="8" width="1.04" height="1.04" fill="#f38029"/>
<rect x="3" y="8" width="1.04" height="1.04" fill="#f37c2b"/>
<rect x="4" y="8" width="1.04" height="1.04" fill="#e46445"/>
<rect x="5" y="8" width="1.04" height="1.04" fill="#ec7137"/>
<rect x="6" y="8" width="1.04" height="1.04" fill="#e66841"/>
<rect x="7" y="8" width="1.04" height="1.04" fill="#ee7433"/>
<rect x="8" y="8" width="1.04" height="1.04" fill="#ea6e3a"/>
<rect x="9" y="8" width="1.04" height="1.04" fill="#e96c3c"/>
<rect x="10" y="8" width="1.04" height="1.04" fill="#eb6f39"/>
<rect x="11" y="8" width="1.04" height="1.04" fill="#f07730"/>
<rect x="12" y="8" width="1.04" height="1.04" fill="#ea6d3b"/>
<rect x="13" y="8" width="1.04" height="1.04" fill="#df5c4e"/>
<rect x="14" y="8" width="1.04" height="1.04" fill="#8d297e"/>
<rect x="15" y="8" width="1.04" height="1.04" fill="#7a2281"/>
<rect x="16" y="8" width="1.04" height="1.04" fill="#741f82"/>
<rect x="17" y="8" width="1.04" height="1.04" fill="#701e82"/>
<rect x="18" y="8" width="1.04" height="1.04" fill="#681b7e"/>
<rect x="19" y="8" width="1.04" height="1.04" fill="#9a2e7c"/>
<rect x="20" y="8" width="1.04" height="1.04" fill="#cc4b5f"/>
<rect x="21" y="8" width="1.04" height="1.04" fill="#d95654"/>
<rect x="22" y="8" width="1.04" height="1.04" fill="#d14f5b"/>
<rect x="23" y="8" width="1.04" height="1.04" fill="#d14f5b"/>
<rect x="24" y="8" width="1.04" height="1.04" fill="#d35159"/>
<rect x="25" y="8" width="1.04" height="1.04" fill="#bd406a"/>
<rect x="26" y="8" width="1.04" height="1.04" fill="#c34367"/>
<rect x="27" y="8" width="1.04" height="1.04" fill="#df5b4f"/>
<rect x="28" y="8" width="1.04" height="1.04" fill="#f37f29"/>
<rect x="29" y="8" width="1.04" height="1.04" fill="#faa814"/>
<rect x="30" y="8" width="1.04" height="1.04" fill="#faaf1c"/>
<rect x="31" y="8" width="1.04" height="1.04" fill="#f9a516"/>
<rect x="32" y="8" width="1.04" height="1.04" fill="#faaf1d"/>
<rect x="33" y="8" width="1.04" height="1.04" fill="#faaf1d"/>
<rect x="34" y="8" width="1.04" height="1.04" fill="#f7981c"/>
<rect x="35" y="8" width="1.04" height="1.04" fill="#f68f21"/>
<rect x="36" y="8" width="1.04" height="1.04" fill="#f68f21"/>
<rect x="0" y="9" width="1.04" height="1.04" fill="#c34466"/>
<rect x="1" y="9" width="1.04" height="1.04" fill="#d45258"/>
<rect x="2" y="9" width="1.04" height="1.04" fill="#d45258"/>
<rect x="3" y="9" width="1.04" height="1.04" fill="#e96c3c"/>
<rect x="4" y="9" width="1.04" height="1.04" fill="#f58b23"/>
<rect x="5" y="9" width="1.04" height="1.04" fill="#eb6f39"/>
<rect x="6" y="9" width="1.04" height="1.04" fill="#eb7038"/>
<rect x="7" y="9" width="1.04" height="1.04" fill="#e96d3b"/>
<rect x="8" y="9" width="1.04" height="1.04" fill="#e86b3d"/>
<rect x="9" y="9" width="1.04" height="1.04" fill="#e86b3d"/>
<rect x="10" y="9" width="1.04" height="1.04" fill="#e26148"/>
<rect x="11" y="9" width="1.04" height="1.04" fill="#da5753"/>
<rect x="12" y="9" width="1.04" height="1.04" fill="#da5654"/>
<rect x="13" y="9" width="1.04" height="1.04" fill="#c34466"/>
<rect x="14" y="9" width="1.04" height="1.04" fill="#a03179"/>
<rect x="15" y="9" width="1.04" height="1.04" fill="#7e2380"/>
<rect x="16" y="9" width="1.04" height="1.04" fill="#731f82"/>
<rect x="17" y="9" width="1.04" height="1.04" fill="#812480"/>
<rect x="18" y="9" width="1.04" height="1.04" fill="#88277f"/>
<rect x="19" y="9" width="1.04" height="1.04" fill="#88277f"/>
<rect x="20" y="9" width="1.04" height="1.04" fill="#832580"/>
<rect x="21" y="9" width="1.04" height="1.04" fill="#802480"/>
<rect x="22" y="9" width="1.04" height="1.04" fill="#942c7d"/>
<rect x="23" y="9" width="1.04" height="1.04" fill="#ad3872"/>
<rect x="24" y="9" width="1.04" height="1.04" fill="#d45258"/>
<rect x="25" y="9" width="1.04" height="1.04" fill="#b93d6d"/>
<rect x="26" y="9" width="1.04" height="1.04" fill="#c24367"/>
<rect x="27" y="9" width="1.04" height="1.04" fill="#cb4a60"/>
<rect x="28" y="9" width="1.04" height="1.04" fill="#cb4a60"/>
<rect x="29" y="9" width="1.04" height="1.04" fill="#c04169"/>
<rect x="30" y="9" width="1.04" height="1.04" fill="#b83d6d"/>
<rect x="31" y="9" width="1.04" height="1.04" fill="#ad3872"/>
<rect x="32" y="9" width="1.04" height="1.04" fill="#a13179"/>
<rect x="33" y="9" width="1.04" height="1.04" fill="#992d7d"/>
<rect x="34" y="9" width="1.04" height="1.04" fill="#922b7e"/>
<rect x="35" y="9" width="1.04" height="1.04" fill="#a73476"/>
<rect x="36" y="9" width="1.04" height="1.04" fill="#af3872"/>
<rect x="0" y="10" width="1.04" height="1.04" fill="#e46445"/>
<rect x="1" y="10" width="1.04" height="1.04" fill="#f27b2c"/>
<rect x="2" y="10" width="1.04" height="1.04" fill="#f27b2c"/>
<rect x="3" y="10" width="1.04" height="1.04" fill="#eb7038"/>
<rect x="4" y="10" width="1.04" height="1.04" fill="#ef7632"/>
<rect x="5" y="10" width="1.04" height="1.04" fill="#e96c3d"/>
<rect x="6" y="10" width="1.04" height="1.04" fill="#e15e4b"/>
<rect x="7" y="10" width="1.04" height="1.04" fill="#e56643"/>
<rect x="8" y="10" width="1.04" height="1.04" fill="#e36347"/>
<rect x="9" y="10" width="1.04" height="1.04" fill="#dd5951"/>
<rect x="10" y="10" width="1.04" height="1.04" fill="#e66742"/>
<rect x="11" y="10" width="1.04" height="1.04" fill="#d95654"/>
<rect x="12" y="10" width="1.04" height="1.04" fill="#bd3f6b"/>
<rect x="13" y="10" width="1.04" height="1.04" fill="#a43377"/>
<rect x="14" y="10" width="1.04" height="1.04" fill="#a03179"/>
<rect x="15" y="10" width="1.04" height="1.04" fill="#a43377"/>
<rect x="16" y="10" width="1.04" height="1.04" fill="#af3971"/>
<rect x="17" y="10" width="1.04" height="1.04" fill="#992d7d"/>
<rect x="18" y="10" width="1.04" height="1.04" fill="#3f0e62"/>
<rect x="19" y="10" width="1.04" height="1.04" fill="#220c44"/>
<rect x="20" y="10" width="1.04" height="1.04" fill="#14082f"/>
<rect x="21" y="10" width="1.04" height="1.04" fill="#1a0a38"/>
<rect x="22" y="10" width="1.04" height="1.04" fill="#3c0e5f"/>
<rect x="23" y="10" width="1.04" height="1.04" fill="#5a1576"/>
<rect x="24" y="10" width="1.04" height="1.04" fill="#6d1d80"/>
<rect x="25" y="10" width="1.04" height="1.04" fill="#a33278"/>
<rect x="26" y="10" width="1.04" height="1.04" fill="#af3971"/>
<rect x="27" y="10" width="1.04" height="1.04" fill="#a23278"/>
<rect x="28" y="10" width="1.04" height="1.04" fill="#af3872"/>
<rect x="29" y="10" width="1.04" height="1.04" fill="#b83d6d"/>
<rect x="30" y="10" width="1.04" height="1.04" fill="#a03179"/>
<rect x="31" y="10" width="1.04" height="1.04" fill="#8d297e"/>
<rect x="32" y="10" width="1.04" height="1.04" fill="#741f82"/>
<rect x="33" y="10" width="1.04" height="1.04" fill="#681b7d"/>
<rect x="34" y="10" width="1.04" height="1.04" fill="#5f1779"/>
<rect x="35" y="10" width="1.04" height="1.04" fill="#4f1170"/>
<rect x="36" y="10" width="1.04" height="1.04" fill="#591576"/>
</g>
<path d="M433.99,296.2V373.6 M436.08,296.2V373.6 M438.18,296.2V373.6 M440.27,296.2V373.6 M442.36,296.2V373.6 M444.45,296.2V373.6 M446.54,296.2V373.6 M448.64,296.2V373.6 M450.73,296.2V373.6 M452.82,296.2V373.6 M454.91,296.2V373.6 M457.00,296.2V373.6 M459.09,296.2V373.6 M461.19,296.2V373.6 M463.28,296.2V373.6 M465.37,296.2V373.6 M467.46,296.2V373.6 M469.55,296.2V373.6 M471.65,296.2V373.6 M473.74,296.2V373.6 M475.83,296.2V373.6 M477.92,296.2V373.6 M480.01,296.2V373.6 M482.11,296.2V373.6 M484.20,296.2V373.6 M486.29,296.2V373.6 M488.38,296.2V373.6 M490.47,296.2V373.6 M492.56,296.2V373.6 M494.66,296.2V373.6 M496.75,296.2V373.6 M498.84,296.2V373.6 M500.93,296.2V373.6 M503.02,296.2V373.6 M505.12,296.2V373.6 M507.21,296.2V373.6" stroke="#fff" stroke-width="0.4" opacity="0.16"/>
<line x1="457.5" y1="296.2" x2="457.5" y2="373.6" stroke="#f4e0f0" stroke-width="1.25" stroke-dasharray="6.3,3.9" opacity="0.85"/>
<line x1="483.3" y1="296.2" x2="483.3" y2="373.6" stroke="#f4e0f0" stroke-width="1.25" stroke-dasharray="6.3,3.9" opacity="0.85"/>
<line x1="431.5" y1="296.2" x2="431.5" y2="374.1" stroke="#555" stroke-width="0.8"/>
<line x1="431.5" y1="374.0" x2="509.3" y2="374.0" stroke="#555" stroke-width="0.8"/>
<line x1="431.9" y1="374.0" x2="431.9" y2="375.8" stroke="#555" stroke-width="0.8"/>
<line x1="444.79999999999995" y1="374.0" x2="444.79999999999995" y2="375.20000000000005" stroke="#555" stroke-width="0.8"/>
<line x1="457.7" y1="374.0" x2="457.7" y2="375.8" stroke="#555" stroke-width="0.8"/>
<line x1="470.6" y1="374.0" x2="470.6" y2="375.20000000000005" stroke="#555" stroke-width="0.8"/>
<line x1="483.5" y1="374.0" x2="483.5" y2="375.8" stroke="#555" stroke-width="0.8"/>
<line x1="496.4" y1="374.0" x2="496.4" y2="375.20000000000005" stroke="#555" stroke-width="0.8"/>
<line x1="509.3" y1="374.0" x2="509.3" y2="375.8" stroke="#555" stroke-width="0.8"/>
<defs><linearGradient id="cb3" x1="0" y1="0" x2="0" y2="1"><stop offset="0.0" stop-color="#fcfaa5"/><stop offset="0.1" stop-color="#f8d74b"/><stop offset="0.2" stop-color="#faa814"/><stop offset="0.3" stop-color="#f37d2a"/><stop offset="0.4" stop-color="#de5a50"/><stop offset="0.5" stop-color="#c04169"/><stop offset="0.6" stop-color="#982d7d"/><stop offset="0.7" stop-color="#701e82"/><stop offset="0.8" stop-color="#4b0f6e"/><stop offset="0.9" stop-color="#230c46"/><stop offset="1.0" stop-color="#0a051e"/></linearGradient></defs>
<rect x="513.9" y="296.2" width="5.100000000000023" height="77.40000000000003" fill="url(#cb3)" stroke="#555" stroke-width="0.4"/>
<text x="521.4" y="306.0" font-size="9" text-anchor="start" fill="#1a1a1a">1</text>
<text x="521.4" y="328.5" font-size="9" text-anchor="start" fill="#1a1a1a">0</text>
<text x="521.4" y="351.0" font-size="9" text-anchor="start" fill="#1a1a1a">-1</text>
<text x="521.4" y="373.5" font-size="9" text-anchor="start" fill="#1a1a1a">-2</text>
<text x="425" y="334" font-size="10.5" text-anchor="middle" fill="#1a1a1a" transform="rotate(-90 425 334)">Mouse</text>
<text x="429" y="302.6" font-size="10" text-anchor="end" fill="#1a1a1a">1</text>
<text x="429" y="373" font-size="10" text-anchor="end" fill="#1a1a1a">11</text>
<g class="hm" transform="translate(431.90,389.50) scale(2.0919,7.0636)">
<rect x="0" y="0" width="1.04" height="1.04" fill="#d75555"/>
<rect x="1" y="0" width="1.04" height="1.04" fill="#d95654"/>
<rect x="2" y="0" width="1.04" height="1.04" fill="#d95654"/>
<rect x="3" y="0" width="1.04" height="1.04" fill="#d65357"/>
<rect x="4" y="0" width="1.04" height="1.04" fill="#cd4c5e"/>
<rect x="5" y="0" width="1.04" height="1.04" fill="#ca4961"/>
<rect x="6" y="0" width="1.04" height="1.04" fill="#c94961"/>
<rect x="7" y="0" width="1.04" height="1.04" fill="#cf4d5d"/>
<rect x="8" y="0" width="1.04" height="1.04" fill="#d85555"/>
<rect x="9" y="0" width="1.04" height="1.04" fill="#d14f5b"/>
<rect x="10" y="0" width="1.04" height="1.04" fill="#e36346"/>
<rect x="11" y="0" width="1.04" height="1.04" fill="#faa814"/>
<rect x="12" y="0" width="1.04" height="1.04" fill="#f8d447"/>
<rect x="13" y="0" width="1.04" height="1.04" fill="#f9e062"/>
<rect x="14" y="0" width="1.04" height="1.04" fill="#f8db55"/>
<rect x="15" y="0" width="1.04" height="1.04" fill="#f8d042"/>
<rect x="16" y="0" width="1.04" height="1.04" fill="#f8da51"/>
<rect x="17" y="0" width="1.04" height="1.04" fill="#f9b523"/>
<rect x="18" y="0" width="1.04" height="1.04" fill="#e56643"/>
<rect x="19" y="0" width="1.04" height="1.04" fill="#cc4b5f"/>
<rect x="20" y="0" width="1.04" height="1.04" fill="#c74763"/>
<rect x="21" y="0" width="1.04" height="1.04" fill="#c64664"/>
<rect x="22" y="0" width="1.04" height="1.04" fill="#b93e6c"/>
<rect x="23" y="0" width="1.04" height="1.04" fill="#d2505a"/>
<rect x="24" y="0" width="1.04" height="1.04" fill="#e05e4c"/>
<rect x="25" y="0" width="1.04" height="1.04" fill="#f07830"/>
<rect x="26" y="0" width="1.04" height="1.04" fill="#f58725"/>
<rect x="27" y="0" width="1.04" height="1.04" fill="#f58725"/>
<rect x="28" y="0" width="1.04" height="1.04" fill="#f9a316"/>
<rect x="29" y="0" width="1.04" height="1.04" fill="#faac19"/>
<rect x="30" y="0" width="1.04" height="1.04" fill="#f9a416"/>
<rect x="31" y="0" width="1.04" height="1.04" fill="#f7931e"/>
<rect x="32" y="0" width="1.04" height="1.04" fill="#f58924"/>
<rect x="33" y="0" width="1.04" height="1.04" fill="#f37c2b"/>
<rect x="34" y="0" width="1.04" height="1.04" fill="#f48327"/>
<rect x="35" y="0" width="1.04" height="1.04" fill="#eb7038"/>
<rect x="36" y="0" width="1.04" height="1.04" fill="#ed7335"/>
<rect x="0" y="1" width="1.04" height="1.04" fill="#e76a3f"/>
<rect x="1" y="1" width="1.04" height="1.04" fill="#f7981c"/>
<rect x="2" y="1" width="1.04" height="1.04" fill="#f9ca3c"/>
<rect x="3" y="1" width="1.04" height="1.04" fill="#f9c233"/>
<rect x="4" y="1" width="1.04" height="1.04" fill="#faae1b"/>
<rect x="5" y="1" width="1.04" height="1.04" fill="#f48426"/>
<rect x="6" y="1" width="1.04" height="1.04" fill="#e86b3e"/>
<rect x="7" y="1" width="1.04" height="1.04" fill="#e76840"/>
<rect x="8" y="1" width="1.04" height="1.04" fill="#ea6e3a"/>
<rect x="9" y="1" width="1.04" height="1.04" fill="#e46346"/>
<rect x="10" y="1" width="1.04" height="1.04" fill="#e36346"/>
<rect x="11" y="1" width="1.04" height="1.04" fill="#e96c3c"/>
<rect x="12" y="1" width="1.04" height="1.04" fill="#dc5852"/>
<rect x="13" y="1" width="1.04" height="1.04" fill="#b53b6f"/>
<rect x="14" y="1" width="1.04" height="1.04" fill="#9e307a"/>
<rect x="15" y="1" width="1.04" height="1.04" fill="#a23278"/>
<rect x="16" y="1" width="1.04" height="1.04" fill="#9f3179"/>
<rect x="17" y="1" width="1.04" height="1.04" fill="#8c297e"/>
<rect x="18" y="1" width="1.04" height="1.04" fill="#ac3773"/>
<rect x="19" y="1" width="1.04" height="1.04" fill="#c44466"/>
<rect x="20" y="1" width="1.04" height="1.04" fill="#b03971"/>
<rect x="21" y="1" width="1.04" height="1.04" fill="#c84763"/>
<rect x="22" y="1" width="1.04" height="1.04" fill="#d2505a"/>
<rect x="23" y="1" width="1.04" height="1.04" fill="#e36347"/>
<rect x="24" y="1" width="1.04" height="1.04" fill="#e96c3c"/>
<rect x="25" y="1" width="1.04" height="1.04" fill="#d65357"/>
<rect x="26" y="1" width="1.04" height="1.04" fill="#d45258"/>
<rect x="27" y="1" width="1.04" height="1.04" fill="#b73d6d"/>
<rect x="28" y="1" width="1.04" height="1.04" fill="#be406a"/>
<rect x="29" y="1" width="1.04" height="1.04" fill="#c04169"/>
<rect x="30" y="1" width="1.04" height="1.04" fill="#d14f5b"/>
<rect x="31" y="1" width="1.04" height="1.04" fill="#d55357"/>
<rect x="32" y="1" width="1.04" height="1.04" fill="#e26148"/>
<rect x="33" y="1" width="1.04" height="1.04" fill="#e46346"/>
<rect x="34" y="1" width="1.04" height="1.04" fill="#ea6f39"/>
<rect x="35" y="1" width="1.04" height="1.04" fill="#df5b4f"/>
<rect x="36" y="1" width="1.04" height="1.04" fill="#ef7632"/>
<rect x="0" y="2" width="1.04" height="1.04" fill="#e56544"/>
<rect x="1" y="2" width="1.04" height="1.04" fill="#ea6e3a"/>
<rect x="2" y="2" width="1.04" height="1.04" fill="#e66742"/>
<rect x="3" y="2" width="1.04" height="1.04" fill="#e15f4b"/>
<rect x="4" y="2" width="1.04" height="1.04" fill="#de5a50"/>
<rect x="5" y="2" width="1.04" height="1.04" fill="#e15f4b"/>
<rect x="6" y="2" width="1.04" height="1.04" fill="#e36347"/>
<rect x="7" y="2" width="1.04" height="1.04" fill="#e15f4b"/>
<rect x="8" y="2" width="1.04" height="1.04" fill="#e66742"/>
<rect x="9" y="2" width="1.04" height="1.04" fill="#ed7236"/>
<rect x="10" y="2" width="1.04" height="1.04" fill="#f17a2e"/>
<rect x="11" y="2" width="1.04" height="1.04" fill="#e86b3e"/>
<rect x="12" y="2" width="1.04" height="1.04" fill="#f1792e"/>
<rect x="13" y="2" width="1.04" height="1.04" fill="#ee7433"/>
<rect x="14" y="2" width="1.04" height="1.04" fill="#f37f29"/>
<rect x="15" y="2" width="1.04" height="1.04" fill="#f48526"/>
<rect x="16" y="2" width="1.04" height="1.04" fill="#e56642"/>
<rect x="17" y="2" width="1.04" height="1.04" fill="#af3971"/>
<rect x="18" y="2" width="1.04" height="1.04" fill="#912a7e"/>
<rect x="19" y="2" width="1.04" height="1.04" fill="#9b2f7b"/>
<rect x="20" y="2" width="1.04" height="1.04" fill="#ad3773"/>
<rect x="21" y="2" width="1.04" height="1.04" fill="#c64664"/>
<rect x="22" y="2" width="1.04" height="1.04" fill="#d85555"/>
<rect x="23" y="2" width="1.04" height="1.04" fill="#f7941e"/>
<rect x="24" y="2" width="1.04" height="1.04" fill="#ee7533"/>
<rect x="25" y="2" width="1.04" height="1.04" fill="#d85555"/>
<rect x="26" y="2" width="1.04" height="1.04" fill="#cf4e5c"/>
<rect x="27" y="2" width="1.04" height="1.04" fill="#cc4b5f"/>
<rect x="28" y="2" width="1.04" height="1.04" fill="#c64664"/>
<rect x="29" y="2" width="1.04" height="1.04" fill="#cd4c5e"/>
<rect x="30" y="2" width="1.04" height="1.04" fill="#d55258"/>
<rect x="31" y="2" width="1.04" height="1.04" fill="#d95555"/>
<rect x="32" y="2" width="1.04" height="1.04" fill="#cf4d5d"/>
<rect x="33" y="2" width="1.04" height="1.04" fill="#cb4a60"/>
<rect x="34" y="2" width="1.04" height="1.04" fill="#c84862"/>
<rect x="35" y="2" width="1.04" height="1.04" fill="#cb4a60"/>
<rect x="36" y="2" width="1.04" height="1.04" fill="#d85555"/>
<rect x="0" y="3" width="1.04" height="1.04" fill="#d2505a"/>
<rect x="1" y="3" width="1.04" height="1.04" fill="#dc5852"/>
<rect x="2" y="3" width="1.04" height="1.04" fill="#db5852"/>
<rect x="3" y="3" width="1.04" height="1.04" fill="#d65357"/>
<rect x="4" y="3" width="1.04" height="1.04" fill="#c64664"/>
<rect x="5" y="3" width="1.04" height="1.04" fill="#c04169"/>
<rect x="6" y="3" width="1.04" height="1.04" fill="#a83575"/>
<rect x="7" y="3" width="1.04" height="1.04" fill="#9c2f7b"/>
<rect x="8" y="3" width="1.04" height="1.04" fill="#ae3872"/>
<rect x="9" y="3" width="1.04" height="1.04" fill="#cf4d5d"/>
<rect x="10" y="3" width="1.04" height="1.04" fill="#ed7335"/>
<rect x="11" y="3" width="1.04" height="1.04" fill="#f9a117"/>
<rect x="12" y="3" width="1.04" height="1.04" fill="#f7971d"/>
<rect x="13" y="3" width="1.04" height="1.04" fill="#e66841"/>
<rect x="14" y="3" width="1.04" height="1.04" fill="#d95654"/>
<rect x="15" y="3" width="1.04" height="1.04" fill="#d45258"/>
<rect x="16" y="3" width="1.04" height="1.04" fill="#cd4b5f"/>
<rect x="17" y="3" width="1.04" height="1.04" fill="#ce4d5d"/>
<rect x="18" y="3" width="1.04" height="1.04" fill="#ce4d5d"/>
<rect x="19" y="3" width="1.04" height="1.04" fill="#ce4c5e"/>
<rect x="20" y="3" width="1.04" height="1.04" fill="#cf4d5d"/>
<rect x="21" y="3" width="1.04" height="1.04" fill="#ce4c5e"/>
<rect x="22" y="3" width="1.04" height="1.04" fill="#c24367"/>
<rect x="23" y="3" width="1.04" height="1.04" fill="#c54565"/>
<rect x="24" y="3" width="1.04" height="1.04" fill="#ae3872"/>
<rect x="25" y="3" width="1.04" height="1.04" fill="#ae3872"/>
<rect x="26" y="3" width="1.04" height="1.04" fill="#b13a70"/>
<rect x="27" y="3" width="1.04" height="1.04" fill="#cb4b5f"/>
<rect x="28" y="3" width="1.04" height="1.04" fill="#e56643"/>
<rect x="29" y="3" width="1.04" height="1.04" fill="#d75456"/>
<rect x="30" y="3" width="1.04" height="1.04" fill="#d95654"/>
<rect x="31" y="3" width="1.04" height="1.04" fill="#df5b4f"/>
<rect x="32" y="3" width="1.04" height="1.04" fill="#b03971"/>
<rect x="33" y="3" width="1.04" height="1.04" fill="#4a0f6d"/>
<rect x="34" y="3" width="1.04" height="1.04" fill="#160831"/>
<rect x="35" y="3" width="1.04" height="1.04" fill="#14082e"/>
<rect x="36" y="3" width="1.04" height="1.04" fill="#160831"/>
<rect x="0" y="4" width="1.04" height="1.04" fill="#c44466"/>
<rect x="1" y="4" width="1.04" height="1.04" fill="#d75456"/>
<rect x="2" y="4" width="1.04" height="1.04" fill="#d65357"/>
<rect x="3" y="4" width="1.04" height="1.04" fill="#cd4c5e"/>
<rect x="4" y="4" width="1.04" height="1.04" fill="#d75456"/>
<rect x="5" y="4" width="1.04" height="1.04" fill="#f17a2e"/>
<rect x="6" y="4" width="1.04" height="1.04" fill="#f27c2b"/>
<rect x="7" y="4" width="1.04" height="1.04" fill="#f58a24"/>
<rect x="8" y="4" width="1.04" height="1.04" fill="#eb6f39"/>
<rect x="9" y="4" width="1.04" height="1.04" fill="#d45159"/>
<rect x="10" y="4" width="1.04" height="1.04" fill="#d04e5c"/>
<rect x="11" y="4" width="1.04" height="1.04" fill="#cf4e5c"/>
<rect x="12" y="4" width="1.04" height="1.04" fill="#d35159"/>
<rect x="13" y="4" width="1.04" height="1.04" fill="#c44466"/>
<rect x="14" y="4" width="1.04" height="1.04" fill="#a83575"/>
<rect x="15" y="4" width="1.04" height="1.04" fill="#b03971"/>
<rect x="16" y="4" width="1.04" height="1.04" fill="#c34466"/>
<rect x="17" y="4" width="1.04" height="1.04" fill="#c04169"/>
<rect x="18" y="4" width="1.04" height="1.04" fill="#bf406a"/>
<rect x="19" y="4" width="1.04" height="1.04" fill="#c34367"/>
<rect x="20" y="4" width="1.04" height="1.04" fill="#c34367"/>
<rect x="21" y="4" width="1.04" height="1.04" fill="#cd4c5e"/>
<rect x="22" y="4" width="1.04" height="1.04" fill="#c04169"/>
<rect x="23" y="4" width="1.04" height="1.04" fill="#c24367"/>
<rect x="24" y="4" width="1.04" height="1.04" fill="#cf4d5d"/>
<rect x="25" y="4" width="1.04" height="1.04" fill="#cf4e5c"/>
<rect x="26" y="4" width="1.04" height="1.04" fill="#d75456"/>
<rect x="27" y="4" width="1.04" height="1.04" fill="#e15f4a"/>
<rect x="28" y="4" width="1.04" height="1.04" fill="#ec7137"/>
<rect x="29" y="4" width="1.04" height="1.04" fill="#f89e19"/>
<rect x="30" y="4" width="1.04" height="1.04" fill="#fab220"/>
<rect x="31" y="4" width="1.04" height="1.04" fill="#f9be2d"/>
<rect x="32" y="4" width="1.04" height="1.04" fill="#f7941e"/>
<rect x="33" y="4" width="1.04" height="1.04" fill="#e66841"/>
<rect x="34" y="4" width="1.04" height="1.04" fill="#e15f4b"/>
<rect x="35" y="4" width="1.04" height="1.04" fill="#e36247"/>
<rect x="36" y="4" width="1.04" height="1.04" fill="#e26049"/>
<rect x="0" y="5" width="1.04" height="1.04" fill="#e86a3e"/>
<rect x="1" y="5" width="1.04" height="1.04" fill="#f58c22"/>
<rect x="2" y="5" width="1.04" height="1.04" fill="#e86a3e"/>
<rect x="3" y="5" width="1.04" height="1.04" fill="#f17a2d"/>
<rect x="4" y="5" width="1.04" height="1.04" fill="#ed7335"/>
<rect x="5" y="5" width="1.04" height="1.04" fill="#e26149"/>
<rect x="6" y="5" width="1.04" height="1.04" fill="#d04e5c"/>
<rect x="7" y="5" width="1.04" height="1.04" fill="#d65456"/>
<rect x="8" y="5" width="1.04" height="1.04" fill="#d65357"/>
<rect x="9" y="5" width="1.04" height="1.04" fill="#d2505a"/>
<rect x="10" y="5" width="1.04" height="1.04" fill="#d85555"/>
<rect x="11" y="5" width="1.04" height="1.04" fill="#db5852"/>
<rect x="12" y="5" width="1.04" height="1.04" fill="#d65357"/>
<rect x="13" y="5" width="1.04" height="1.04" fill="#ce4d5d"/>
<rect x="14" y="5" width="1.04" height="1.04" fill="#d2505a"/>
<rect x="15" y="5" width="1.04" height="1.04" fill="#d35159"/>
<rect x="16" y="5" width="1.04" height="1.04" fill="#d2505a"/>
<rect x="17" y="5" width="1.04" height="1.04" fill="#df5c4d"/>
<rect x="18" y="5" width="1.04" height="1.04" fill="#dc5852"/>
<rect x="19" y="5" width="1.04" height="1.04" fill="#df5c4e"/>
<rect x="20" y="5" width="1.04" height="1.04" fill="#e46445"/>
<rect x="21" y="5" width="1.04" height="1.04" fill="#df5c4e"/>
<rect x="22" y="5" width="1.04" height="1.04" fill="#df5c4e"/>
<rect x="23" y="5" width="1.04" height="1.04" fill="#e36247"/>
<rect x="24" y="5" width="1.04" height="1.04" fill="#e1604a"/>
<rect x="25" y="5" width="1.04" height="1.04" fill="#f17a2d"/>
<rect x="26" y="5" width="1.04" height="1.04" fill="#f58c23"/>
<rect x="27" y="5" width="1.04" height="1.04" fill="#ed7334"/>
<rect x="28" y="5" width="1.04" height="1.04" fill="#dd5951"/>
<rect x="29" y="5" width="1.04" height="1.04" fill="#db5852"/>
<rect x="30" y="5" width="1.04" height="1.04" fill="#dc5852"/>
<rect x="31" y="5" width="1.04" height="1.04" fill="#df5c4e"/>
<rect x="32" y="5" width="1.04" height="1.04" fill="#d75456"/>
<rect x="33" y="5" width="1.04" height="1.04" fill="#de5a50"/>
<rect x="34" y="5" width="1.04" height="1.04" fill="#d75456"/>
<rect x="35" y="5" width="1.04" height="1.04" fill="#e46544"/>
<rect x="36" y="5" width="1.04" height="1.04" fill="#e26148"/>
<rect x="0" y="6" width="1.04" height="1.04" fill="#ae3872"/>
<rect x="1" y="6" width="1.04" height="1.04" fill="#b73c6e"/>
<rect x="2" y="6" width="1.04" height="1.04" fill="#ae3872"/>
<rect x="3" y="6" width="1.04" height="1.04" fill="#b23a70"/>
<rect x="4" y="6" width="1.04" height="1.04" fill="#d55258"/>
<rect x="5" y="6" width="1.04" height="1.04" fill="#f48227"/>
<rect x="6" y="6" width="1.04" height="1.04" fill="#f89b1b"/>
<rect x="7" y="6" width="1.04" height="1.04" fill="#e66841"/>
<rect x="8" y="6" width="1.04" height="1.04" fill="#db5852"/>
<rect x="9" y="6" width="1.04" height="1.04" fill="#e36247"/>
<rect x="10" y="6" width="1.04" height="1.04" fill="#dd5951"/>
<rect x="11" y="6" width="1.04" height="1.04" fill="#d55357"/>
<rect x="12" y="6" width="1.04" height="1.04" fill="#e1604a"/>
<rect x="13" y="6" width="1.04" height="1.04" fill="#c74763"/>
<rect x="14" y="6" width="1.04" height="1.04" fill="#912a7e"/>
<rect x="15" y="6" width="1.04" height="1.04" fill="#61187a"/>
<rect x="16" y="6" width="1.04" height="1.04" fill="#6d1d80"/>
<rect x="17" y="6" width="1.04" height="1.04" fill="#6a1c7f"/>
<rect x="18" y="6" width="1.04" height="1.04" fill="#62187b"/>
<rect x="19" y="6" width="1.04" height="1.04" fill="#5e1778"/>
<rect x="20" y="6" width="1.04" height="1.04" fill="#63197b"/>
<rect x="21" y="6" width="1.04" height="1.04" fill="#7a2281"/>
<rect x="22" y="6" width="1.04" height="1.04" fill="#b43b6f"/>
<rect x="23" y="6" width="1.04" height="1.04" fill="#cb4a60"/>
<rect x="24" y="6" width="1.04" height="1.04" fill="#d04e5c"/>
<rect x="25" y="6" width="1.04" height="1.04" fill="#c44466"/>
<rect x="26" y="6" width="1.04" height="1.04" fill="#cd4c5e"/>
<rect x="27" y="6" width="1.04" height="1.04" fill="#d65456"/>
<rect x="28" y="6" width="1.04" height="1.04" fill="#f17a2e"/>
<rect x="29" y="6" width="1.04" height="1.04" fill="#f9bd2c"/>
<rect x="30" y="6" width="1.04" height="1.04" fill="#f9e268"/>
<rect x="31" y="6" width="1.04" height="1.04" fill="#fae97a"/>
<rect x="32" y="6" width="1.04" height="1.04" fill="#fbee87"/>
<rect x="33" y="6" width="1.04" height="1.04" fill="#fbf497"/>
<rect x="34" y="6" width="1.04" height="1.04" fill="#fcfaa5"/>
<rect x="35" y="6" width="1.04" height="1.04" fill="#fcfaa5"/>
<rect x="36" y="6" width="1.04" height="1.04" fill="#fcf8a0"/>
<rect x="0" y="7" width="1.04" height="1.04" fill="#ee7433"/>
<rect x="1" y="7" width="1.04" height="1.04" fill="#e26148"/>
<rect x="2" y="7" width="1.04" height="1.04" fill="#e66742"/>
<rect x="3" y="7" width="1.04" height="1.04" fill="#e86a3f"/>
<rect x="4" y="7" width="1.04" height="1.04" fill="#ec7137"/>
<rect x="5" y="7" width="1.04" height="1.04" fill="#ed7236"/>
<rect x="6" y="7" width="1.04" height="1.04" fill="#eb7039"/>
<rect x="7" y="7" width="1.04" height="1.04" fill="#e05d4d"/>
<rect x="8" y="7" width="1.04" height="1.04" fill="#e05d4d"/>
<rect x="9" y="7" width="1.04" height="1.04" fill="#df5c4e"/>
<rect x="10" y="7" width="1.04" height="1.04" fill="#ea6f3a"/>
<rect x="11" y="7" width="1.04" height="1.04" fill="#e96c3d"/>
<rect x="12" y="7" width="1.04" height="1.04" fill="#e1604a"/>
<rect x="13" y="7" width="1.04" height="1.04" fill="#e15f4b"/>
<rect x="14" y="7" width="1.04" height="1.04" fill="#d55357"/>
<rect x="15" y="7" width="1.04" height="1.04" fill="#d04e5c"/>
<rect x="16" y="7" width="1.04" height="1.04" fill="#d45258"/>
<rect x="17" y="7" width="1.04" height="1.04" fill="#da5753"/>
<rect x="18" y="7" width="1.04" height="1.04" fill="#d14f5b"/>
<rect x="19" y="7" width="1.04" height="1.04" fill="#c74763"/>
<rect x="20" y="7" width="1.04" height="1.04" fill="#d35159"/>
<rect x="21" y="7" width="1.04" height="1.04" fill="#d55357"/>
<rect x="22" y="7" width="1.04" height="1.04" fill="#e15f4a"/>
<rect x="23" y="7" width="1.04" height="1.04" fill="#de5a50"/>
<rect x="24" y="7" width="1.04" height="1.04" fill="#ec7137"/>
<rect x="25" y="7" width="1.04" height="1.04" fill="#ed7236"/>
<rect x="26" y="7" width="1.04" height="1.04" fill="#e96c3c"/>
<rect x="27" y="7" width="1.04" height="1.04" fill="#df5b4e"/>
<rect x="28" y="7" width="1.04" height="1.04" fill="#e26148"/>
<rect x="29" y="7" width="1.04" height="1.04" fill="#e76940"/>
<rect x="30" y="7" width="1.04" height="1.04" fill="#e66841"/>
<rect x="31" y="7" width="1.04" height="1.04" fill="#e86b3e"/>
<rect x="32" y="7" width="1.04" height="1.04" fill="#e86b3d"/>
<rect x="33" y="7" width="1.04" height="1.04" fill="#e66841"/>
<rect x="34" y="7" width="1.04" height="1.04" fill="#de5b4f"/>
<rect x="35" y="7" width="1.04" height="1.04" fill="#cb4a60"/>
<rect x="36" y="7" width="1.04" height="1.04" fill="#cc4b5f"/>
<rect x="0" y="8" width="1.04" height="1.04" fill="#c14268"/>
<rect x="1" y="8" width="1.04" height="1.04" fill="#d14f5b"/>
<rect x="2" y="8" width="1.04" height="1.04" fill="#c74763"/>
<rect x="3" y="8" width="1.04" height="1.04" fill="#cf4e5c"/>
<rect x="4" y="8" width="1.04" height="1.04" fill="#ce4d5d"/>
<rect x="5" y="8" width="1.04" height="1.04" fill="#de5a4f"/>
<rect x="6" y="8" width="1.04" height="1.04" fill="#ea6e3a"/>
<rect x="7" y="8" width="1.04" height="1.04" fill="#f58725"/>
<rect x="8" y="8" width="1.04" height="1.04" fill="#ed7335"/>
<rect x="9" y="8" width="1.04" height="1.04" fill="#f48028"/>
<rect x="10" y="8" width="1.04" height="1.04" fill="#f37d2a"/>
<rect x="11" y="8" width="1.04" height="1.04" fill="#f7951e"/>
<rect x="12" y="8" width="1.04" height="1.04" fill="#f9bf2f"/>
<rect x="13" y="8" width="1.04" height="1.04" fill="#f9df5f"/>
<rect x="14" y="8" width="1.04" height="1.04" fill="#f9b523"/>
<rect x="15" y="8" width="1.04" height="1.04" fill="#f8d84d"/>
<rect x="16" y="8" width="1.04" height="1.04" fill="#f8d448"/>
<rect x="17" y="8" width="1.04" height="1.04" fill="#f8d64a"/>
<rect x="18" y="8" width="1.04" height="1.04" fill="#f9c030"/>
<rect x="19" y="8" width="1.04" height="1.04" fill="#f9bb2a"/>
<rect x="20" y="8" width="1.04" height="1.04" fill="#f9bf2f"/>
<rect x="21" y="8" width="1.04" height="1.04" fill="#f58b23"/>
<rect x="22" y="8" width="1.04" height="1.04" fill="#cc4b5f"/>
<rect x="23" y="8" width="1.04" height="1.04" fill="#b23a70"/>
<rect x="24" y="8" width="1.04" height="1.04" fill="#c24367"/>
<rect x="25" y="8" width="1.04" height="1.04" fill="#a83575"/>
<rect x="26" y="8" width="1.04" height="1.04" fill="#b13971"/>
<rect x="27" y="8" width="1.04" height="1.04" fill="#992e7c"/>
<rect x="28" y="8" width="1.04" height="1.04" fill="#a13278"/>
<rect x="29" y="8" width="1.04" height="1.04" fill="#aa3674"/>
<rect x="30" y="8" width="1.04" height="1.04" fill="#bb3e6c"/>
<rect x="31" y="8" width="1.04" height="1.04" fill="#d14f5b"/>
<rect x="32" y="8" width="1.04" height="1.04" fill="#c24367"/>
<rect x="33" y="8" width="1.04" height="1.04" fill="#c54565"/>
<rect x="34" y="8" width="1.04" height="1.04" fill="#ca4961"/>
<rect x="35" y="8" width="1.04" height="1.04" fill="#c64664"/>
<rect x="36" y="8" width="1.04" height="1.04" fill="#c54565"/>
<rect x="0" y="9" width="1.04" height="1.04" fill="#dd5951"/>
<rect x="1" y="9" width="1.04" height="1.04" fill="#da5753"/>
<rect x="2" y="9" width="1.04" height="1.04" fill="#e1604a"/>
<rect x="3" y="9" width="1.04" height="1.04" fill="#dc5951"/>
<rect x="4" y="9" width="1.04" height="1.04" fill="#e96c3d"/>
<rect x="5" y="9" width="1.04" height="1.04" fill="#f68d22"/>
<rect x="6" y="9" width="1.04" height="1.04" fill="#f69020"/>
<rect x="7" y="9" width="1.04" height="1.04" fill="#f89c1a"/>
<rect x="8" y="9" width="1.04" height="1.04" fill="#f89b1b"/>
<rect x="9" y="9" width="1.04" height="1.04" fill="#f48028"/>
<rect x="10" y="9" width="1.04" height="1.04" fill="#ee7533"/>
<rect x="11" y="9" width="1.04" height="1.04" fill="#d75456"/>
<rect x="12" y="9" width="1.04" height="1.04" fill="#c84763"/>
<rect x="13" y="9" width="1.04" height="1.04" fill="#dc5852"/>
<rect x="14" y="9" width="1.04" height="1.04" fill="#d75555"/>
<rect x="15" y="9" width="1.04" height="1.04" fill="#e15e4b"/>
<rect x="16" y="9" width="1.04" height="1.04" fill="#d85555"/>
<rect x="17" y="9" width="1.04" height="1.04" fill="#db5753"/>
<rect x="18" y="9" width="1.04" height="1.04" fill="#e26049"/>
<rect x="19" y="9" width="1.04" height="1.04" fill="#e05d4d"/>
<rect x="20" y="9" width="1.04" height="1.04" fill="#f48327"/>
<rect x="21" y="9" width="1.04" height="1.04" fill="#f7971d"/>
<rect x="22" y="9" width="1.04" height="1.04" fill="#ec7137"/>
<rect x="23" y="9" width="1.04" height="1.04" fill="#d14f5b"/>
<rect x="24" y="9" width="1.04" height="1.04" fill="#c54664"/>
<rect x="25" y="9" width="1.04" height="1.04" fill="#c24367"/>
<rect x="26" y="9" width="1.04" height="1.04" fill="#cf4e5c"/>
<rect x="27" y="9" width="1.04" height="1.04" fill="#c24367"/>
<rect x="28" y="9" width="1.04" height="1.04" fill="#df5b4e"/>
<rect x="29" y="9" width="1.04" height="1.04" fill="#f58a23"/>
<rect x="30" y="9" width="1.04" height="1.04" fill="#f9b422"/>
<rect x="31" y="9" width="1.04" height="1.04" fill="#f8cc3f"/>
<rect x="32" y="9" width="1.04" height="1.04" fill="#f9c738"/>
<rect x="33" y="9" width="1.04" height="1.04" fill="#f8cf41"/>
<rect x="34" y="9" width="1.04" height="1.04" fill="#f9c638"/>
<rect x="35" y="9" width="1.04" height="1.04" fill="#f9c637"/>
<rect x="36" y="9" width="1.04" height="1.04" fill="#f9ca3c"/>
<rect x="0" y="10" width="1.04" height="1.04" fill="#df5c4e"/>
<rect x="1" y="10" width="1.04" height="1.04" fill="#db5753"/>
<rect x="2" y="10" width="1.04" height="1.04" fill="#d75456"/>
<rect x="3" y="10" width="1.04" height="1.04" fill="#c74763"/>
<rect x="4" y="10" width="1.04" height="1.04" fill="#d2505a"/>
<rect x="5" y="10" width="1.04" height="1.04" fill="#da5654"/>
<rect x="6" y="10" width="1.04" height="1.04" fill="#e26148"/>
<rect x="7" y="10" width="1.04" height="1.04" fill="#ef7631"/>
<rect x="8" y="10" width="1.04" height="1.04" fill="#f58b23"/>
<rect x="9" y="10" width="1.04" height="1.04" fill="#f7971d"/>
<rect x="10" y="10" width="1.04" height="1.04" fill="#f68f21"/>
<rect x="11" y="10" width="1.04" height="1.04" fill="#f89d1a"/>
<rect x="12" y="10" width="1.04" height="1.04" fill="#f8cf42"/>
<rect x="13" y="10" width="1.04" height="1.04" fill="#fae876"/>
<rect x="14" y="10" width="1.04" height="1.04" fill="#f9e268"/>
<rect x="15" y="10" width="1.04" height="1.04" fill="#f9db56"/>
<rect x="16" y="10" width="1.04" height="1.04" fill="#f9c93b"/>
<rect x="17" y="10" width="1.04" height="1.04" fill="#faa714"/>
<rect x="18" y="10" width="1.04" height="1.04" fill="#d14f5b"/>
<rect x="19" y="10" width="1.04" height="1.04" fill="#c54565"/>
<rect x="20" y="10" width="1.04" height="1.04" fill="#c44565"/>
<rect x="21" y="10" width="1.04" height="1.04" fill="#bc3f6b"/>
<rect x="22" y="10" width="1.04" height="1.04" fill="#842580"/>
<rect x="23" y="10" width="1.04" height="1.04" fill="#5d1677"/>
<rect x="24" y="10" width="1.04" height="1.04" fill="#290c4c"/>
<rect x="25" y="10" width="1.04" height="1.04" fill="#13082d"/>
<rect x="26" y="10" width="1.04" height="1.04" fill="#220c44"/>
<rect x="27" y="10" width="1.04" height="1.04" fill="#571475"/>
<rect x="28" y="10" width="1.04" height="1.04" fill="#792181"/>
<rect x="29" y="10" width="1.04" height="1.04" fill="#802480"/>
<rect x="30" y="10" width="1.04" height="1.04" fill="#832580"/>
<rect x="31" y="10" width="1.04" height="1.04" fill="#87277f"/>
<rect x="32" y="10" width="1.04" height="1.04" fill="#b63c6e"/>
<rect x="33" y="10" width="1.04" height="1.04" fill="#ba3e6c"/>
<rect x="34" y="10" width="1.04" height="1.04" fill="#bb3f6b"/>
<rect x="35" y="10" width="1.04" height="1.04" fill="#a23278"/>
<rect x="36" y="10" width="1.04" height="1.04" fill="#b83d6d"/>
</g>
<path d="M433.99,389.5V467.2 M436.08,389.5V467.2 M438.18,389.5V467.2 M440.27,389.5V467.2 M442.36,389.5V467.2 M444.45,389.5V467.2 M446.54,389.5V467.2 M448.64,389.5V467.2 M450.73,389.5V467.2 M452.82,389.5V467.2 M454.91,389.5V467.2 M457.00,389.5V467.2 M459.09,389.5V467.2 M461.19,389.5V467.2 M463.28,389.5V467.2 M465.37,389.5V467.2 M467.46,389.5V467.2 M469.55,389.5V467.2 M471.65,389.5V467.2 M473.74,389.5V467.2 M475.83,389.5V467.2 M477.92,389.5V467.2 M480.01,389.5V467.2 M482.11,389.5V467.2 M484.20,389.5V467.2 M486.29,389.5V467.2 M488.38,389.5V467.2 M490.47,389.5V467.2 M492.56,389.5V467.2 M494.66,389.5V467.2 M496.75,389.5V467.2 M498.84,389.5V467.2 M500.93,389.5V467.2 M503.02,389.5V467.2 M505.12,389.5V467.2 M507.21,389.5V467.2" stroke="#fff" stroke-width="0.4" opacity="0.16"/>
<line x1="457.3" y1="389.5" x2="457.3" y2="467.2" stroke="#f4e0f0" stroke-width="1.25" stroke-dasharray="6.3,3.9" opacity="0.85"/>
<line x1="483.3" y1="389.5" x2="483.3" y2="467.2" stroke="#f4e0f0" stroke-width="1.25" stroke-dasharray="6.3,3.9" opacity="0.85"/>
<line x1="431.5" y1="389.5" x2="431.5" y2="467.7" stroke="#555" stroke-width="0.8"/>
<line x1="431.5" y1="467.59999999999997" x2="509.3" y2="467.59999999999997" stroke="#555" stroke-width="0.8"/>
<line x1="431.9" y1="467.59999999999997" x2="431.9" y2="469.4" stroke="#555" stroke-width="0.8"/>
<line x1="444.79999999999995" y1="467.59999999999997" x2="444.79999999999995" y2="468.8" stroke="#555" stroke-width="0.8"/>
<line x1="457.7" y1="467.59999999999997" x2="457.7" y2="469.4" stroke="#555" stroke-width="0.8"/>
<line x1="470.6" y1="467.59999999999997" x2="470.6" y2="468.8" stroke="#555" stroke-width="0.8"/>
<line x1="483.5" y1="467.59999999999997" x2="483.5" y2="469.4" stroke="#555" stroke-width="0.8"/>
<line x1="496.4" y1="467.59999999999997" x2="496.4" y2="468.8" stroke="#555" stroke-width="0.8"/>
<line x1="509.3" y1="467.59999999999997" x2="509.3" y2="469.4" stroke="#555" stroke-width="0.8"/>
<defs><linearGradient id="cb4" x1="0" y1="0" x2="0" y2="1"><stop offset="0.0" stop-color="#fcfaa5"/><stop offset="0.1" stop-color="#f8d74b"/><stop offset="0.2" stop-color="#faa814"/><stop offset="0.3" stop-color="#f37d2a"/><stop offset="0.4" stop-color="#de5a50"/><stop offset="0.5" stop-color="#c04169"/><stop offset="0.6" stop-color="#982d7d"/><stop offset="0.7" stop-color="#701e82"/><stop offset="0.8" stop-color="#4b0f6e"/><stop offset="0.9" stop-color="#230c46"/><stop offset="1.0" stop-color="#0a051e"/></linearGradient></defs>
<rect x="514.4" y="389.5" width="5.100000000000023" height="77.69999999999999" fill="url(#cb4)" stroke="#555" stroke-width="0.4"/>
<text x="521.9" y="398.79999999999995" font-size="9" text-anchor="start" fill="#1a1a1a">1</text>
<text x="521.9" y="421.4" font-size="9" text-anchor="start" fill="#1a1a1a">0</text>
<text x="521.9" y="444.0" font-size="9" text-anchor="start" fill="#1a1a1a">-1</text>
<text x="521.9" y="466.59999999999997" font-size="9" text-anchor="start" fill="#1a1a1a">-2</text>
<text x="425" y="427.5" font-size="10.5" text-anchor="middle" fill="#1a1a1a" transform="rotate(-90 425 427.5)">Mouse</text>
<text x="429" y="397.2" font-size="10" text-anchor="end" fill="#1a1a1a">1</text>
<text x="429" y="466.5" font-size="10" text-anchor="end" fill="#1a1a1a">11</text>
<text x="431.5" y="477.3" font-size="10.5" text-anchor="middle" fill="#1a1a1a">-1</text>
<text x="457.25" y="477.3" font-size="10.5" text-anchor="middle" fill="#1a1a1a">0</text>
<text x="483.0" y="477.3" font-size="10.5" text-anchor="middle" fill="#1a1a1a">1</text>
<text x="508.75" y="477.3" font-size="10.5" text-anchor="middle" fill="#1a1a1a">2</text>
<text x="469.5" y="488.2" font-size="10" text-anchor="middle" fill="#1a1a1a">Time (s)</text>
<text x="555.5" y="174.7" font-size="19.5" text-anchor="start" fill="#000" font-weight="bold">f</text>
<line x1="594.9" y1="174.9" x2="594.9" y2="309.6" stroke="#333" stroke-width="0.9"/>
<line x1="594.5" y1="309.6" x2="685" y2="309.6" stroke="#333" stroke-width="0.9"/>
<line x1="589.3" y1="174.9" x2="594.9" y2="174.9" stroke="#333" stroke-width="0.8"/>
<text x="587.6999999999999" y="178.5" font-size="10.5" text-anchor="end" fill="#1a1a1a">0</text>
<line x1="589.3" y1="231.3" x2="594.9" y2="231.3" stroke="#333" stroke-width="0.8"/>
<text x="587.6999999999999" y="234.9" font-size="10.5" text-anchor="end" fill="#1a1a1a">-1</text>
<line x1="589.3" y1="287.7" x2="594.9" y2="287.7" stroke="#333" stroke-width="0.8"/>
<text x="587.6999999999999" y="291.3" font-size="10.5" text-anchor="end" fill="#1a1a1a">-2</text>
<line x1="591.1" y1="203.1" x2="594.9" y2="203.1" stroke="#333" stroke-width="0.8"/>
<line x1="591.1" y1="259.5" x2="594.9" y2="259.5" stroke="#333" stroke-width="0.8"/>
<line x1="620.6" y1="309.6" x2="620.6" y2="312.4" stroke="#333" stroke-width="0.8"/>
<line x1="659.3" y1="309.6" x2="659.3" y2="312.4" stroke="#333" stroke-width="0.8"/>
<text x="620.6" y="326.7" font-size="11" text-anchor="middle" fill="#1a1a1a">R</text>
<text x="659.3" y="326.7" font-size="11" text-anchor="middle" fill="#1a1a1a">NR</text>
<text x="570.8" y="241.5" font-size="11" text-anchor="middle" fill="#1a1a1a" transform="rotate(-90 570.8 241.5)">ACh dip (z-score)</text>
<rect x="607.6" y="253.86" width="25.6" height="21.43" fill="none" stroke="#b458c4" stroke-width="1"/>
<line x1="607.6" y1="270.78" x2="633.2" y2="270.78" stroke="#b458c4" stroke-width="1"/>
<line x1="620.6" y1="245.4" x2="620.6" y2="253.86" stroke="#b458c4" stroke-width="1"/>
<line x1="620.6" y1="275.29200000000003" x2="620.6" y2="290.52" stroke="#b458c4" stroke-width="1"/>
<line x1="614.2" y1="245.4" x2="627" y2="245.4" stroke="#b458c4" stroke-width="1"/>
<line x1="614.2" y1="290.52" x2="627" y2="290.52" stroke="#b458c4" stroke-width="1"/>
<circle cx="620.6" cy="245.9" r="1.95" fill="#fff" stroke="#222" stroke-width="0.85"/>
<circle cx="620.6" cy="249.3" r="1.95" fill="#fff" stroke="#222" stroke-width="0.85"/>
<circle cx="620.6" cy="254.4" r="1.95" fill="#fff" stroke="#222" stroke-width="0.85"/>
<circle cx="620.6" cy="267" r="1.95" fill="#fff" stroke="#222" stroke-width="0.85"/>
<circle cx="620.6" cy="268.7" r="1.95" fill="#fff" stroke="#222" stroke-width="0.85"/>
<circle cx="620.6" cy="270.7" r="1.95" fill="#fff" stroke="#222" stroke-width="0.85"/>
<circle cx="620.6" cy="271.8" r="1.95" fill="#fff" stroke="#222" stroke-width="0.85"/>
<circle cx="620.6" cy="273.8" r="1.95" fill="#fff" stroke="#222" stroke-width="0.85"/>
<circle cx="620.6" cy="275.8" r="1.95" fill="#fff" stroke="#222" stroke-width="0.85"/>
<circle cx="620.6" cy="290.5" r="1.95" fill="#fff" stroke="#222" stroke-width="0.85"/>
<rect x="646.5" y="208.3" width="25.7" height="30.7" fill="none" stroke="#3cb03c" stroke-width="1"/>
<line x1="646.5" y1="223.5" x2="672.2" y2="223.5" stroke="#3cb03c" stroke-width="1"/>
<line x1="659.3" y1="203.8" x2="659.3" y2="208.3" stroke="#3cb03c" stroke-width="1"/>
<line x1="659.3" y1="239" x2="659.3" y2="262.6" stroke="#3cb03c" stroke-width="1"/>
<line x1="652.3" y1="203.8" x2="666.2" y2="203.8" stroke="#3cb03c" stroke-width="1"/>
<line x1="652.3" y1="262.6" x2="666.2" y2="262.6" stroke="#3cb03c" stroke-width="1"/>
<circle cx="659.3" cy="203.8" r="1.95" fill="#fff" stroke="#222" stroke-width="0.85"/>
<circle cx="659.3" cy="207.3" r="1.95" fill="#fff" stroke="#222" stroke-width="0.85"/>
<circle cx="659.3" cy="211.9" r="1.95" fill="#fff" stroke="#222" stroke-width="0.85"/>
<circle cx="659.3" cy="220.7" r="1.95" fill="#fff" stroke="#222" stroke-width="0.85"/>
<circle cx="659.3" cy="223.1" r="1.95" fill="#fff" stroke="#222" stroke-width="0.85"/>
<circle cx="659.3" cy="226.2" r="1.95" fill="#fff" stroke="#222" stroke-width="0.85"/>
<circle cx="659.3" cy="239" r="1.95" fill="#fff" stroke="#222" stroke-width="0.85"/>
<circle cx="659.3" cy="249" r="1.95" fill="#fff" stroke="#222" stroke-width="0.85"/>
<circle cx="659.3" cy="262.6" r="1.95" fill="#fff" stroke="#222" stroke-width="0.85"/>
<polyline points="620.6,232.3 620.6,182.8 659.3,182.8 659.3,190.5" stroke="#333" stroke-width="0.8" fill="none"/>
<text x="639.9" y="181.2" font-size="12.5" text-anchor="middle" fill="#1a1a1a" font-weight="bold">****</text>
<text x="553.1" y="353.4" font-size="19.5" text-anchor="start" fill="#000" font-weight="bold">g</text>
<line x1="598.3" y1="353.09999999999997" x2="598.3" y2="474.4" stroke="#333" stroke-width="0.9"/>
<line x1="597.9" y1="474.4" x2="679.1" y2="474.4" stroke="#333" stroke-width="0.9"/>
<line x1="594.0999999999999" y1="377.35999999999996" x2="598.3" y2="377.35999999999996" stroke="#333" stroke-width="0.8"/>
<text x="593.0999999999999" y="380.96" font-size="10.5" text-anchor="end" fill="#1a1a1a">0.8</text>
<line x1="594.0999999999999" y1="425.88" x2="598.3" y2="425.88" stroke="#333" stroke-width="0.8"/>
<text x="593.0999999999999" y="429.48" font-size="10.5" text-anchor="end" fill="#1a1a1a">0.4</text>
<line x1="594.0999999999999" y1="474.4" x2="598.3" y2="474.4" stroke="#333" stroke-width="0.8"/>
<text x="593.0999999999999" y="478.0" font-size="10.5" text-anchor="end" fill="#1a1a1a">0.0</text>
<line x1="595.3" y1="353.09999999999997" x2="598.3" y2="353.09999999999997" stroke="#333" stroke-width="0.8"/>
<line x1="595.3" y1="401.62" x2="598.3" y2="401.62" stroke="#333" stroke-width="0.8"/>
<line x1="595.3" y1="450.14" x2="598.3" y2="450.14" stroke="#333" stroke-width="0.8"/>
<line x1="621.6" y1="474.4" x2="621.6" y2="477.2" stroke="#333" stroke-width="0.8"/>
<line x1="656.1" y1="474.4" x2="656.1" y2="477.2" stroke="#333" stroke-width="0.8"/>
<text x="621.6" y="489.2" font-size="11" text-anchor="middle" fill="#1a1a1a">R</text>
<text x="656.1" y="489.2" font-size="11" text-anchor="middle" fill="#1a1a1a">NR</text>
<text x="572.5" y="412" font-size="10.5" text-anchor="middle" fill="#1a1a1a" transform="rotate(-90 572.5 412)">Time to dip (s)</text>
<rect x="610.4" y="410.11" width="22.6" height="11.52" fill="none" stroke="#b458c4" stroke-width="1"/>
<line x1="610.4" y1="417.9955" x2="633" y2="417.9955" stroke="#b458c4" stroke-width="1"/>
<line x1="621.6" y1="393.12899999999996" x2="621.6" y2="410.111" stroke="#b458c4" stroke-width="1"/>
<line x1="621.6" y1="421.6345" x2="621.6" y2="429.519" stroke="#b458c4" stroke-width="1"/>
<line x1="615.5" y1="393.12899999999996" x2="627.8" y2="393.12899999999996" stroke="#b458c4" stroke-width="1"/>
<line x1="615.5" y1="429.519" x2="627.8" y2="429.519" stroke="#b458c4" stroke-width="1"/>
<circle cx="621.6" cy="393.74" r="1.95" fill="#fff" stroke="#222" stroke-width="0.85"/>
<circle cx="621.6" cy="397.37" r="1.95" fill="#fff" stroke="#222" stroke-width="0.85"/>
<circle cx="621.6" cy="410.11" r="1.95" fill="#fff" stroke="#222" stroke-width="0.85"/>
<circle cx="621.6" cy="413.14" r="1.95" fill="#fff" stroke="#222" stroke-width="0.85"/>
<circle cx="621.6" cy="416.18" r="1.95" fill="#fff" stroke="#222" stroke-width="0.85"/>
<circle cx="621.6" cy="419.21" r="1.95" fill="#fff" stroke="#222" stroke-width="0.85"/>
<circle cx="621.6" cy="422.24" r="1.95" fill="#fff" stroke="#222" stroke-width="0.85"/>
<circle cx="621.6" cy="425.88" r="1.95" fill="#fff" stroke="#222" stroke-width="0.85"/>
<circle cx="621.6" cy="429.52" r="1.95" fill="#fff" stroke="#222" stroke-width="0.85"/>
<rect x="645.3" y="373.72" width="22.4" height="40.03" fill="none" stroke="#3cb03c" stroke-width="1"/>
<line x1="645.3" y1="394.342" x2="667.7" y2="394.342" stroke="#3cb03c" stroke-width="1"/>
<line x1="656.1" y1="368.86899999999997" x2="656.1" y2="373.721" stroke="#3cb03c" stroke-width="1"/>
<line x1="656.1" y1="413.75" x2="656.1" y2="446.501" stroke="#3cb03c" stroke-width="1"/>
<line x1="650" y1="368.86899999999997" x2="662.3" y2="368.86899999999997" stroke="#3cb03c" stroke-width="1"/>
<line x1="650" y1="446.501" x2="662.3" y2="446.501" stroke="#3cb03c" stroke-width="1"/>
<circle cx="656.1" cy="369.48" r="1.95" fill="#fff" stroke="#222" stroke-width="0.85"/>
<circle cx="656.1" cy="373.11" r="1.95" fill="#fff" stroke="#222" stroke-width="0.85"/>
<circle cx="656.1" cy="393.74" r="1.95" fill="#fff" stroke="#222" stroke-width="0.85"/>
<circle cx="656.1" cy="401.62" r="1.95" fill="#fff" stroke="#222" stroke-width="0.85"/>
<circle cx="656.1" cy="413.75" r="1.95" fill="#fff" stroke="#222" stroke-width="0.85"/>
<circle cx="656.1" cy="417.39" r="1.95" fill="#fff" stroke="#222" stroke-width="0.85"/>
<circle cx="656.1" cy="446.50" r="1.95" fill="#fff" stroke="#222" stroke-width="0.85"/>
<polyline points="621.6,385.8 621.6,355.6 656.1,355.6 656.1,361.8" stroke="#333" stroke-width="0.8" fill="none"/>
<text x="639.3" y="354.5" font-size="14" text-anchor="middle" fill="#1a1a1a" font-weight="bold">*</text>
</svg></body></html>
